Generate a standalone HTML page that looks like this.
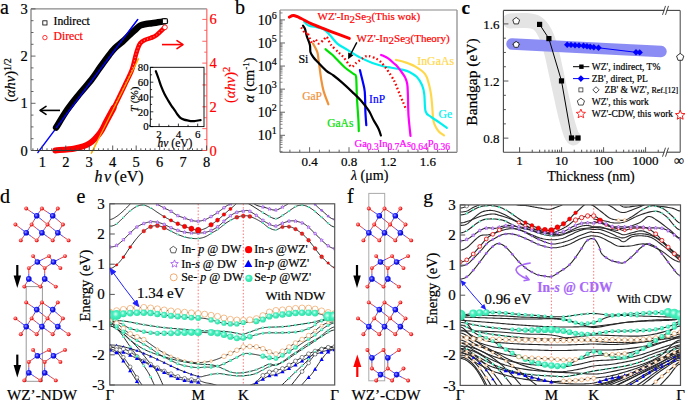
<!DOCTYPE html>
<html><head><meta charset="utf-8"><style>
html,body{margin:0;padding:0;background:#fff;overflow:hidden;}
svg{display:block;}
text{font-family:"Liberation Serif",serif;}
text{stroke-width:0.2px;}
</style></head><body>
<svg width="685" height="402" viewBox="0 0 685 402">
<rect width="685" height="402" fill="#fff"/>
<text x="0" y="14" font-size="20" fill="#000" stroke="#000" text-anchor="start" >a</text>
<line x1="37.5" y1="153" x2="138" y2="19.1" stroke="#0000ff" stroke-width="1.3" />
<line x1="91.2" y1="153.5" x2="138.6" y2="58.5" stroke="#ffb000" stroke-width="1.3" />
<path d="M55.4,150.4 C58.63,150.08 69.08,149.68 74.8,148.5 C80.52,147.32 85.48,145.92 89.7,143.3 C93.92,140.68 97.38,136.35 100.1,132.8 C102.82,129.25 103.75,126.13 106,122 C108.25,117.87 112.33,110.33 113.6,108" stroke="#ff0000" stroke-width="6" fill="none" stroke-linecap="round" stroke-linejoin="round"/>
<path d="M106,122 C107.27,119.67 110.45,114.18 113.6,108 C116.75,101.82 121.85,91.25 124.9,84.9 C127.95,78.55 130.13,74.72 131.9,69.9 C133.67,65.08 134.52,59.57 135.5,56 C136.48,52.43 137,50.62 137.8,48.5 C138.6,46.38 139.13,44.72 140.3,43.3 C141.47,41.88 143.07,40.88 144.8,40 C146.53,39.12 148.72,38.83 150.7,38 C152.68,37.17 154.33,36.78 156.7,35 C159.07,33.22 163.53,28.58 164.9,27.3" stroke="#ff0000" stroke-width="4.6" fill="none" stroke-linecap="round" stroke-linejoin="round"/>
<path d="M113.6,108 C115.48,104.15 121.85,91.25 124.9,84.9 C127.95,78.55 130.13,74.72 131.9,69.9 C133.67,65.08 134.52,59.57 135.5,56 C136.48,52.43 137,50.62 137.8,48.5 C138.6,46.38 139.13,44.72 140.3,43.3 C141.47,41.88 143.07,40.88 144.8,40 C146.53,39.12 148.72,38.83 150.7,38 C152.68,37.17 154.33,36.78 156.7,35 C159.07,33.22 163.53,28.58 164.9,27.3" stroke="#ffc0c0" stroke-width="1.1" fill="none" stroke-dasharray="1.2 2.2" opacity="0.7"/>
<line x1="91.2" y1="153.5" x2="138.6" y2="58.5" stroke="#ffb000" stroke-width="1.2" />
<path d="M56.1,127.6 C57.97,124.62 63.48,115.22 67.3,109.7 C71.12,104.18 74.95,99.53 79,94.5 C83.05,89.47 88.1,84 91.6,79.5 C95.1,75 97.1,71.55 100,67.5 C102.9,63.45 106.5,58.45 109,55.2 C111.5,51.95 112.77,50.23 115,48 C117.23,45.77 120.15,43.8 122.4,41.8 C124.65,39.8 126.52,37.87 128.5,36 C130.48,34.13 132.33,32.35 134.3,30.6 C136.27,28.85 138.35,26.6 140.3,25.5 C142.25,24.4 144.05,24.37 146,24 C147.95,23.63 150,23.58 152,23.3 C154,23.02 155.85,22.65 158,22.3 C160.15,21.95 163.75,21.38 164.9,21.2" stroke="#000" stroke-width="6.5" fill="none" stroke-linecap="round" stroke-linejoin="round"/>
<line x1="56" y1="128.2" x2="138" y2="19.1" stroke="#0000ff" stroke-width="1.3" />
<rect x="162.6" y="18.9" width="4.6" height="4.6" fill="#fff" stroke="#000" stroke-width="0.8" />
<circle cx="164.9" cy="27.3" r="2.4" fill="#fff" stroke="#ff0000" stroke-width="0.8" />
<line x1="31" y1="8.8" x2="206.8" y2="8.8" stroke="#888" stroke-width="1.2" />
<line x1="31" y1="8.8" x2="31" y2="150.5" stroke="#999" stroke-width="1.6" />
<line x1="31" y1="150.5" x2="206.8" y2="150.5" stroke="#333" stroke-width="1.1" />
<line x1="206.8" y1="8.8" x2="206.8" y2="150.5" stroke="#ff7070" stroke-width="1.3" />
<line x1="31" y1="150.5" x2="35.5" y2="150.5" stroke="#555" stroke-width="0.9" />
<line x1="31" y1="138.7" x2="33.5" y2="138.7" stroke="#555" stroke-width="0.9" />
<line x1="31" y1="126.9" x2="33.5" y2="126.9" stroke="#555" stroke-width="0.9" />
<line x1="31" y1="115.1" x2="33.5" y2="115.1" stroke="#555" stroke-width="0.9" />
<line x1="31" y1="103.3" x2="35.5" y2="103.3" stroke="#555" stroke-width="0.9" />
<line x1="31" y1="91.5" x2="33.5" y2="91.5" stroke="#555" stroke-width="0.9" />
<line x1="31" y1="79.7" x2="33.5" y2="79.7" stroke="#555" stroke-width="0.9" />
<line x1="31" y1="67.9" x2="33.5" y2="67.9" stroke="#555" stroke-width="0.9" />
<line x1="31" y1="56.1" x2="35.5" y2="56.1" stroke="#555" stroke-width="0.9" />
<line x1="31" y1="44.3" x2="33.5" y2="44.3" stroke="#555" stroke-width="0.9" />
<line x1="31" y1="32.5" x2="33.5" y2="32.5" stroke="#555" stroke-width="0.9" />
<line x1="31" y1="20.7" x2="33.5" y2="20.7" stroke="#555" stroke-width="0.9" />
<line x1="31" y1="8.9" x2="35.5" y2="8.9" stroke="#555" stroke-width="0.9" />
<text x="27.8" y="155.5" font-size="14.5" fill="#000" stroke="#000" text-anchor="end" >0</text>
<text x="27.8" y="108.3" font-size="14.5" fill="#000" stroke="#000" text-anchor="end" >1</text>
<text x="27.8" y="61.1" font-size="14.5" fill="#000" stroke="#000" text-anchor="end" >2</text>
<text x="27.8" y="13.9" font-size="14.5" fill="#000" stroke="#000" text-anchor="end" >3</text>
<line x1="32.91" y1="150.5" x2="32.91" y2="148.3" stroke="#444" stroke-width="0.9" />
<line x1="37.61" y1="150.5" x2="37.61" y2="148.3" stroke="#444" stroke-width="0.9" />
<line x1="42.3" y1="150.5" x2="42.3" y2="145.5" stroke="#444" stroke-width="0.9" />
<line x1="46.99" y1="150.5" x2="46.99" y2="148.3" stroke="#444" stroke-width="0.9" />
<line x1="51.69" y1="150.5" x2="51.69" y2="148.3" stroke="#444" stroke-width="0.9" />
<line x1="56.38" y1="150.5" x2="56.38" y2="148.3" stroke="#444" stroke-width="0.9" />
<line x1="61.08" y1="150.5" x2="61.08" y2="148.3" stroke="#444" stroke-width="0.9" />
<line x1="65.77" y1="150.5" x2="65.77" y2="145.5" stroke="#444" stroke-width="0.9" />
<line x1="70.46" y1="150.5" x2="70.46" y2="148.3" stroke="#444" stroke-width="0.9" />
<line x1="75.16" y1="150.5" x2="75.16" y2="148.3" stroke="#444" stroke-width="0.9" />
<line x1="79.85" y1="150.5" x2="79.85" y2="148.3" stroke="#444" stroke-width="0.9" />
<line x1="84.55" y1="150.5" x2="84.55" y2="148.3" stroke="#444" stroke-width="0.9" />
<line x1="89.24" y1="150.5" x2="89.24" y2="145.5" stroke="#444" stroke-width="0.9" />
<line x1="93.93" y1="150.5" x2="93.93" y2="148.3" stroke="#444" stroke-width="0.9" />
<line x1="98.63" y1="150.5" x2="98.63" y2="148.3" stroke="#444" stroke-width="0.9" />
<line x1="103.32" y1="150.5" x2="103.32" y2="148.3" stroke="#444" stroke-width="0.9" />
<line x1="108.02" y1="150.5" x2="108.02" y2="148.3" stroke="#444" stroke-width="0.9" />
<line x1="112.71" y1="150.5" x2="112.71" y2="145.5" stroke="#444" stroke-width="0.9" />
<line x1="117.4" y1="150.5" x2="117.4" y2="148.3" stroke="#444" stroke-width="0.9" />
<line x1="122.1" y1="150.5" x2="122.1" y2="148.3" stroke="#444" stroke-width="0.9" />
<line x1="126.79" y1="150.5" x2="126.79" y2="148.3" stroke="#444" stroke-width="0.9" />
<line x1="131.49" y1="150.5" x2="131.49" y2="148.3" stroke="#444" stroke-width="0.9" />
<line x1="136.18" y1="150.5" x2="136.18" y2="145.5" stroke="#444" stroke-width="0.9" />
<line x1="140.87" y1="150.5" x2="140.87" y2="148.3" stroke="#444" stroke-width="0.9" />
<line x1="145.57" y1="150.5" x2="145.57" y2="148.3" stroke="#444" stroke-width="0.9" />
<line x1="150.26" y1="150.5" x2="150.26" y2="148.3" stroke="#444" stroke-width="0.9" />
<line x1="154.96" y1="150.5" x2="154.96" y2="148.3" stroke="#444" stroke-width="0.9" />
<line x1="159.65" y1="150.5" x2="159.65" y2="145.5" stroke="#444" stroke-width="0.9" />
<line x1="164.34" y1="150.5" x2="164.34" y2="148.3" stroke="#444" stroke-width="0.9" />
<line x1="169.04" y1="150.5" x2="169.04" y2="148.3" stroke="#444" stroke-width="0.9" />
<line x1="173.73" y1="150.5" x2="173.73" y2="148.3" stroke="#444" stroke-width="0.9" />
<line x1="178.43" y1="150.5" x2="178.43" y2="148.3" stroke="#444" stroke-width="0.9" />
<line x1="183.12" y1="150.5" x2="183.12" y2="145.5" stroke="#444" stroke-width="0.9" />
<line x1="187.81" y1="150.5" x2="187.81" y2="148.3" stroke="#444" stroke-width="0.9" />
<line x1="192.51" y1="150.5" x2="192.51" y2="148.3" stroke="#444" stroke-width="0.9" />
<line x1="197.2" y1="150.5" x2="197.2" y2="148.3" stroke="#444" stroke-width="0.9" />
<line x1="201.9" y1="150.5" x2="201.9" y2="148.3" stroke="#444" stroke-width="0.9" />
<line x1="206.59" y1="150.5" x2="206.59" y2="145.5" stroke="#444" stroke-width="0.9" />
<text x="42.3" y="166.5" font-size="14.5" fill="#000" stroke="#000" text-anchor="middle" >1</text>
<text x="65.77" y="166.5" font-size="14.5" fill="#000" stroke="#000" text-anchor="middle" >2</text>
<text x="89.24" y="166.5" font-size="14.5" fill="#000" stroke="#000" text-anchor="middle" >3</text>
<text x="112.71" y="166.5" font-size="14.5" fill="#000" stroke="#000" text-anchor="middle" >4</text>
<text x="136.18" y="166.5" font-size="14.5" fill="#000" stroke="#000" text-anchor="middle" >5</text>
<text x="159.65" y="166.5" font-size="14.5" fill="#000" stroke="#000" text-anchor="middle" >6</text>
<text x="183.12" y="166.5" font-size="14.5" fill="#000" stroke="#000" text-anchor="middle" >7</text>
<text x="206.59" y="166.5" font-size="14.5" fill="#000" stroke="#000" text-anchor="middle" >8</text>
<line x1="206.8" y1="150.5" x2="202.3" y2="150.5" stroke="#ff5050" stroke-width="0.9" />
<line x1="206.8" y1="139.57" x2="204.3" y2="139.57" stroke="#ff5050" stroke-width="0.9" />
<line x1="206.8" y1="128.65" x2="202.3" y2="128.65" stroke="#ff5050" stroke-width="0.9" />
<line x1="206.8" y1="117.72" x2="204.3" y2="117.72" stroke="#ff5050" stroke-width="0.9" />
<line x1="206.8" y1="106.8" x2="202.3" y2="106.8" stroke="#ff5050" stroke-width="0.9" />
<line x1="206.8" y1="95.88" x2="204.3" y2="95.88" stroke="#ff5050" stroke-width="0.9" />
<line x1="206.8" y1="84.95" x2="202.3" y2="84.95" stroke="#ff5050" stroke-width="0.9" />
<line x1="206.8" y1="74.02" x2="204.3" y2="74.02" stroke="#ff5050" stroke-width="0.9" />
<line x1="206.8" y1="63.1" x2="202.3" y2="63.1" stroke="#ff5050" stroke-width="0.9" />
<line x1="206.8" y1="52.17" x2="204.3" y2="52.17" stroke="#ff5050" stroke-width="0.9" />
<line x1="206.8" y1="41.25" x2="202.3" y2="41.25" stroke="#ff5050" stroke-width="0.9" />
<line x1="206.8" y1="30.32" x2="204.3" y2="30.32" stroke="#ff5050" stroke-width="0.9" />
<line x1="206.8" y1="19.4" x2="202.3" y2="19.4" stroke="#ff5050" stroke-width="0.9" />
<text x="209.5" y="155.5" font-size="14.5" fill="#ff0000" stroke="#ff0000" text-anchor="start" >0</text>
<text x="209.5" y="111.8" font-size="14.5" fill="#ff0000" stroke="#ff0000" text-anchor="start" >2</text>
<text x="209.5" y="68.1" font-size="14.5" fill="#ff0000" stroke="#ff0000" text-anchor="start" >4</text>
<text x="209.5" y="24.4" font-size="14.5" fill="#ff0000" stroke="#ff0000" text-anchor="start" >6</text>
<rect x="42.8" y="20.8" width="4.2" height="4.2" fill="#fff" stroke="#000" stroke-width="0.8" />
<text x="53.5" y="25" font-size="11.7" fill="#000" stroke="#000" text-anchor="start" >Indirect</text>
<circle cx="44.9" cy="37.6" r="2.2" fill="#fff" stroke="#ff0000" stroke-width="0.8" />
<text x="53.5" y="40" font-size="11.7" fill="#ff0000" stroke="#ff0000" text-anchor="start" >Direct</text>
<line x1="60" y1="110.4" x2="40" y2="110.4" stroke="#000" stroke-width="1.6" />
<path d="M46,106.4 L40,110.4 L46,114.4" stroke="#000" stroke-width="1.6" fill="none" stroke-linecap="round" stroke-linejoin="round"/>
<line x1="162" y1="44.6" x2="183" y2="44.6" stroke="#ff0000" stroke-width="1.6" />
<path d="M177,48.6 L183,44.6 L177,40.6" stroke="#ff0000" stroke-width="1.6" fill="none" stroke-linecap="round" stroke-linejoin="round"/>
<text x="94.5" y="181.7" font-size="16" fill="#000" stroke="#000" text-anchor="start" ><tspan font-style="italic">h</tspan><tspan x="104" font-style="italic">ν</tspan><tspan x="114.3">(eV)</tspan></text>
<text transform="translate(14.8,102) rotate(-90)" font-size="14.5" stroke="#000">(<tspan font-style="italic">αhν</tspan>)<tspan font-size="10" dy="-3.5">1/2</tspan></text>
<text transform="translate(234.5,103) rotate(-90)" font-size="14.5" fill="#ff0000" stroke="#ff0000">(<tspan font-style="italic">αhν</tspan>)<tspan font-size="10.5" dy="-4.5">2</tspan></text>
<path d="M155.8,71.2 C156.25,72.42 157.57,75.88 158.5,78.5 C159.43,81.12 160.4,84.32 161.4,86.9 C162.4,89.48 163.38,91.75 164.5,94 C165.62,96.25 166.93,98.43 168.1,100.4 C169.27,102.37 170.38,104.13 171.5,105.8 C172.62,107.47 173.8,108.95 174.8,110.4 C175.8,111.85 176.57,113.27 177.5,114.5 C178.43,115.73 179.32,116.95 180.4,117.8 C181.48,118.65 182.68,119.13 184,119.6 C185.32,120.07 186.97,120.33 188.3,120.6 C189.63,120.87 190.88,121.13 192,121.2 C193.12,121.27 193.57,121.18 195,121 C196.43,120.82 199.67,120.25 200.6,120.1" stroke="#000" stroke-width="2.2" fill="none" stroke-linecap="round"/>
<rect x="150.3" y="67.3" width="53.7" height="59.3" fill="none" stroke="#000" stroke-width="0.9" />
<line x1="150.3" y1="126.6" x2="153.3" y2="126.6" stroke="#000" stroke-width="0.8" />
<line x1="150.3" y1="119.2" x2="152.1" y2="119.2" stroke="#000" stroke-width="0.8" />
<line x1="150.3" y1="111.8" x2="153.3" y2="111.8" stroke="#000" stroke-width="0.8" />
<line x1="150.3" y1="104.4" x2="152.1" y2="104.4" stroke="#000" stroke-width="0.8" />
<line x1="150.3" y1="97" x2="153.3" y2="97" stroke="#000" stroke-width="0.8" />
<line x1="150.3" y1="89.6" x2="152.1" y2="89.6" stroke="#000" stroke-width="0.8" />
<line x1="150.3" y1="82.2" x2="153.3" y2="82.2" stroke="#000" stroke-width="0.8" />
<line x1="150.3" y1="74.8" x2="152.1" y2="74.8" stroke="#000" stroke-width="0.8" />
<line x1="150.3" y1="67.4" x2="153.3" y2="67.4" stroke="#000" stroke-width="0.8" />
<text x="148.6" y="130.4" font-size="10.8" fill="#000" stroke="#000" text-anchor="end" >0</text>
<text x="148.6" y="115.6" font-size="10.8" fill="#000" stroke="#000" text-anchor="end" >20</text>
<text x="148.6" y="100.8" font-size="10.8" fill="#000" stroke="#000" text-anchor="end" >40</text>
<text x="148.6" y="86" font-size="10.8" fill="#000" stroke="#000" text-anchor="end" >60</text>
<text x="148.6" y="71.2" font-size="10.8" fill="#000" stroke="#000" text-anchor="end" >80</text>
<line x1="149.45" y1="126.6" x2="149.45" y2="124.8" stroke="#000" stroke-width="0.8" />
<line x1="159.1" y1="126.6" x2="159.1" y2="123.6" stroke="#000" stroke-width="0.8" />
<line x1="168.75" y1="126.6" x2="168.75" y2="124.8" stroke="#000" stroke-width="0.8" />
<line x1="178.4" y1="126.6" x2="178.4" y2="123.6" stroke="#000" stroke-width="0.8" />
<line x1="188.05" y1="126.6" x2="188.05" y2="124.8" stroke="#000" stroke-width="0.8" />
<line x1="197.7" y1="126.6" x2="197.7" y2="123.6" stroke="#000" stroke-width="0.8" />
<text x="159.1" y="137.5" font-size="11" fill="#000" stroke="#000" text-anchor="middle" >2</text>
<text x="178.4" y="137.5" font-size="11" fill="#000" stroke="#000" text-anchor="middle" >4</text>
<text x="197.7" y="137.5" font-size="11" fill="#000" stroke="#000" text-anchor="middle" >6</text>
<text x="175" y="146.5" font-size="11.5" fill="#000" stroke="#000" text-anchor="middle" ><tspan font-style="italic">hν</tspan> (eV)</text>
<text transform="translate(137.6,112) rotate(-90)" font-size="11" stroke="#000"><tspan font-style="italic">T</tspan> (%)</text>
<text x="235" y="14" font-size="20" fill="#000" stroke="#000" text-anchor="start" >b</text>
<path d="M396,59.9 C397.48,60.28 401.67,61.08 404.9,62.2 C408.13,63.32 412.03,64.62 415.4,66.6 C418.77,68.58 422.87,71.23 425.1,74.1 C427.33,76.97 427.82,80.43 428.8,83.8 C429.78,87.17 430.45,90.77 431,94.3 C431.55,97.83 431.75,101 432.1,105 C432.45,109 432.7,115.07 433.1,118.3 C433.5,121.53 433.58,122.23 434.5,124.4 C435.42,126.57 437.02,129.47 438.6,131.3 C440.18,133.13 443.1,134.72 444,135.4" stroke="#ffd84a" stroke-width="2.2" fill="none" stroke-linecap="round" stroke-linejoin="round"/>
<path d="M304.3,21.8 C305.02,22.43 306.42,24.67 308.6,25.6 C310.78,26.53 314.9,26.78 317.4,27.4 C319.9,28.02 321.53,28.05 323.6,29.3 C325.67,30.55 327.52,32.52 329.8,34.9 C332.08,37.28 334.35,41.1 337.3,43.6 C340.25,46.1 343.73,47.6 347.5,49.9 C351.27,52.2 355.75,55.22 359.9,57.4 C364.05,59.58 368.25,61.45 372.4,63 C376.55,64.55 381.87,65.97 384.8,66.7 C387.73,67.43 387.15,66.92 390,67.4 C392.85,67.88 398.67,68.85 401.9,69.6 C405.13,70.35 406.9,70.65 409.4,71.9 C411.9,73.15 414.78,74.87 416.9,77.1 C419.02,79.33 420.87,82.43 422.1,85.3 C423.33,88.17 423.72,89.95 424.3,94.3 C424.88,98.65 424.48,107.63 425.6,111.4 C426.72,115.17 428.73,115.07 431,116.9 C433.27,118.73 436.57,120.58 439.2,122.4 C441.83,124.22 445.53,126.9 446.8,127.8" stroke="#00f0f0" stroke-width="2.2" fill="none" stroke-linecap="round" stroke-linejoin="round"/>
<path d="M381.1,54.9 C382.33,55.52 386.43,57.25 388.5,58.6 C390.57,59.95 392.25,61.92 393.5,63 C394.75,64.08 394.85,63.87 396,65.1 C397.15,66.33 398.92,68.4 400.4,70.4 C401.88,72.4 403.77,74.87 404.9,77.1 C406.03,79.33 406.7,80.82 407.2,83.8 C407.7,86.78 407.68,89.72 407.9,95 C408.12,100.28 408.07,108.67 408.5,115.5 C408.93,122.33 410.17,132.58 410.5,136" stroke="#ff00ff" stroke-width="2.2" fill="none" stroke-linecap="round" stroke-linejoin="round"/>
<path d="M325.5,49.2 C326.63,50.13 330.3,53 332.3,54.8 C334.3,56.6 335.4,57.88 337.5,60 C339.6,62.12 342.17,65.13 344.9,67.5 C347.63,69.87 352.03,72.62 353.9,74.2 C355.77,75.78 355.6,73.15 356.1,77 C356.6,80.85 356.52,90.13 356.9,97.3 C357.28,104.47 358.08,114.37 358.4,120 C358.72,125.63 358.73,129.25 358.8,131.1" stroke="#00e000" stroke-width="2.2" fill="none" stroke-linecap="round" stroke-linejoin="round"/>
<path d="M359.9,70.1 C360.63,73.15 363.43,83.62 364.3,88.4 C365.17,93.18 364.92,94.87 365.1,98.8 C365.28,102.73 365.2,107.6 365.4,112 C365.6,116.4 366.15,123 366.3,125.2" stroke="#0000ff" stroke-width="2.2" fill="none" stroke-linecap="round" stroke-linejoin="round"/>
<path d="M313,43.6 C313.73,45.05 316.48,49.6 317.4,52.3 C318.32,55 318.13,57.27 318.5,59.8 C318.87,62.33 319.17,64.35 319.6,67.5 C320.03,70.65 320.43,74.77 321.1,78.7 C321.77,82.63 322.38,86.83 323.6,91.1 C324.82,95.37 327.6,102.1 328.4,104.3" stroke="#f0923a" stroke-width="2.2" fill="none" stroke-linecap="round" stroke-linejoin="round"/>
<path d="M303,25.6 C303.32,26.12 304.27,26.93 304.9,28.7 C305.53,30.47 305.97,33.5 306.8,36.2 C307.63,38.9 309.28,42.22 309.9,44.9 C310.52,47.58 309.88,50.2 310.5,52.3 C311.12,54.4 312.45,55.92 313.6,57.5 C314.75,59.08 315.32,59.62 317.4,61.8 C319.48,63.98 323.42,68.32 326.1,70.6 C328.78,72.88 330.87,73.53 333.5,75.5 C336.13,77.47 338.75,79.63 341.9,82.4 C345.05,85.17 349.17,89 352.4,92.1 C355.63,95.2 358.57,97.9 361.3,101 C364.03,104.1 366.77,107.53 368.8,110.7 C370.83,113.87 371.88,117 373.5,120 C375.12,123 377.27,126.12 378.5,128.7 C379.73,131.28 380.5,134.37 380.9,135.5" stroke="#000" stroke-width="2.2" fill="none" stroke-linecap="round" stroke-linejoin="round"/>
<path d="M301.2,27.4 C301.77,28.24 304.67,33.03 305.5,33.7 C306.33,34.37 306.56,31.16 307.4,32.4 C308.24,33.64 310.72,42.08 311.8,43 C312.88,43.92 314.59,39.22 315.5,39.3 C316.41,39.38 317.52,43.52 318.6,43.6 C319.68,43.68 322.52,40.81 323.6,39.9 C324.68,38.99 325.71,36.13 326.7,36.8 C327.69,37.47 329.43,42.83 331,44.9 C332.57,46.97 336.81,50.63 338.5,52.3 C340.19,53.97 342.01,55.48 343.7,57.4 C345.39,59.32 349.53,65.95 351.2,66.7 C352.87,67.45 354.37,64.33 356.2,63 C358.03,61.67 363.17,57.62 364.9,56.7 C366.63,55.78 367.71,55.85 369.2,56.1 C370.69,56.35 374.51,57.77 376.1,58.6 C377.69,59.43 379.69,60.91 381.1,62.3 C382.51,63.69 384.95,66.52 386.7,69 C388.45,71.48 392.51,77.62 394.2,80.9 C395.89,84.18 398.23,90.79 399.4,93.6 C400.57,96.41 402.07,99.81 403,102 C403.93,104.19 405.95,108.93 406.4,110" stroke="#ff0000" stroke-width="2.3" fill="none" stroke-dasharray="1.6 2.4"/>
<path d="M289.3,17.1 C290.03,16.85 291.72,15.37 293.7,15.6 C295.68,15.83 298.3,17.15 301.2,18.5 C304.1,19.85 307.37,22 311.1,23.7 C314.83,25.4 318.78,26.83 323.6,28.7 C328.42,30.57 335.72,33.28 340,34.9 C344.28,36.52 347.75,37.82 349.3,38.4" stroke="#ff0000" stroke-width="3" fill="none" stroke-linecap="round" stroke-linejoin="round"/>
<line x1="356.8" y1="42.4" x2="350.4" y2="54.76" stroke="#000" stroke-width="1.4" />
<polygon points="348.1,59.2 348.2,52.49 353.52,55.25" fill="#000"/>
<line x1="280" y1="10" x2="457" y2="10" stroke="#888" stroke-width="1.2" />
<line x1="280" y1="10" x2="280" y2="152.2" stroke="#999" stroke-width="1.6" />
<line x1="280" y1="152.2" x2="457" y2="152.2" stroke="#555" stroke-width="1.1" />
<line x1="457" y1="10" x2="457" y2="152.2" stroke="#999" stroke-width="1.4" />
<line x1="280" y1="151.43" x2="282.5" y2="151.43" stroke="#666" stroke-width="0.8" />
<line x1="280" y1="147.37" x2="282.5" y2="147.37" stroke="#666" stroke-width="0.8" />
<line x1="280" y1="144.48" x2="282.5" y2="144.48" stroke="#666" stroke-width="0.8" />
<line x1="280" y1="142.25" x2="282.5" y2="142.25" stroke="#666" stroke-width="0.8" />
<line x1="280" y1="140.42" x2="282.5" y2="140.42" stroke="#666" stroke-width="0.8" />
<line x1="280" y1="138.88" x2="282.5" y2="138.88" stroke="#666" stroke-width="0.8" />
<line x1="280" y1="137.54" x2="282.5" y2="137.54" stroke="#666" stroke-width="0.8" />
<line x1="280" y1="136.36" x2="282.5" y2="136.36" stroke="#666" stroke-width="0.8" />
<line x1="280" y1="135.3" x2="285" y2="135.3" stroke="#555" stroke-width="0.9" />
<line x1="280" y1="128.35" x2="282.5" y2="128.35" stroke="#666" stroke-width="0.8" />
<line x1="280" y1="124.29" x2="282.5" y2="124.29" stroke="#666" stroke-width="0.8" />
<line x1="280" y1="121.4" x2="282.5" y2="121.4" stroke="#666" stroke-width="0.8" />
<line x1="280" y1="119.17" x2="282.5" y2="119.17" stroke="#666" stroke-width="0.8" />
<line x1="280" y1="117.34" x2="282.5" y2="117.34" stroke="#666" stroke-width="0.8" />
<line x1="280" y1="115.8" x2="282.5" y2="115.8" stroke="#666" stroke-width="0.8" />
<line x1="280" y1="114.46" x2="282.5" y2="114.46" stroke="#666" stroke-width="0.8" />
<line x1="280" y1="113.28" x2="282.5" y2="113.28" stroke="#666" stroke-width="0.8" />
<line x1="280" y1="112.22" x2="285" y2="112.22" stroke="#555" stroke-width="0.9" />
<line x1="280" y1="105.27" x2="282.5" y2="105.27" stroke="#666" stroke-width="0.8" />
<line x1="280" y1="101.21" x2="282.5" y2="101.21" stroke="#666" stroke-width="0.8" />
<line x1="280" y1="98.32" x2="282.5" y2="98.32" stroke="#666" stroke-width="0.8" />
<line x1="280" y1="96.09" x2="282.5" y2="96.09" stroke="#666" stroke-width="0.8" />
<line x1="280" y1="94.26" x2="282.5" y2="94.26" stroke="#666" stroke-width="0.8" />
<line x1="280" y1="92.72" x2="282.5" y2="92.72" stroke="#666" stroke-width="0.8" />
<line x1="280" y1="91.38" x2="282.5" y2="91.38" stroke="#666" stroke-width="0.8" />
<line x1="280" y1="90.2" x2="282.5" y2="90.2" stroke="#666" stroke-width="0.8" />
<line x1="280" y1="89.14" x2="285" y2="89.14" stroke="#555" stroke-width="0.9" />
<line x1="280" y1="82.19" x2="282.5" y2="82.19" stroke="#666" stroke-width="0.8" />
<line x1="280" y1="78.13" x2="282.5" y2="78.13" stroke="#666" stroke-width="0.8" />
<line x1="280" y1="75.24" x2="282.5" y2="75.24" stroke="#666" stroke-width="0.8" />
<line x1="280" y1="73.01" x2="282.5" y2="73.01" stroke="#666" stroke-width="0.8" />
<line x1="280" y1="71.18" x2="282.5" y2="71.18" stroke="#666" stroke-width="0.8" />
<line x1="280" y1="69.64" x2="282.5" y2="69.64" stroke="#666" stroke-width="0.8" />
<line x1="280" y1="68.3" x2="282.5" y2="68.3" stroke="#666" stroke-width="0.8" />
<line x1="280" y1="67.12" x2="282.5" y2="67.12" stroke="#666" stroke-width="0.8" />
<line x1="280" y1="66.06" x2="285" y2="66.06" stroke="#555" stroke-width="0.9" />
<line x1="280" y1="59.11" x2="282.5" y2="59.11" stroke="#666" stroke-width="0.8" />
<line x1="280" y1="55.05" x2="282.5" y2="55.05" stroke="#666" stroke-width="0.8" />
<line x1="280" y1="52.16" x2="282.5" y2="52.16" stroke="#666" stroke-width="0.8" />
<line x1="280" y1="49.93" x2="282.5" y2="49.93" stroke="#666" stroke-width="0.8" />
<line x1="280" y1="48.1" x2="282.5" y2="48.1" stroke="#666" stroke-width="0.8" />
<line x1="280" y1="46.56" x2="282.5" y2="46.56" stroke="#666" stroke-width="0.8" />
<line x1="280" y1="45.22" x2="282.5" y2="45.22" stroke="#666" stroke-width="0.8" />
<line x1="280" y1="44.04" x2="282.5" y2="44.04" stroke="#666" stroke-width="0.8" />
<line x1="280" y1="42.98" x2="285" y2="42.98" stroke="#555" stroke-width="0.9" />
<line x1="280" y1="36.03" x2="282.5" y2="36.03" stroke="#666" stroke-width="0.8" />
<line x1="280" y1="31.97" x2="282.5" y2="31.97" stroke="#666" stroke-width="0.8" />
<line x1="280" y1="29.08" x2="282.5" y2="29.08" stroke="#666" stroke-width="0.8" />
<line x1="280" y1="26.85" x2="282.5" y2="26.85" stroke="#666" stroke-width="0.8" />
<line x1="280" y1="25.02" x2="282.5" y2="25.02" stroke="#666" stroke-width="0.8" />
<line x1="280" y1="23.48" x2="282.5" y2="23.48" stroke="#666" stroke-width="0.8" />
<line x1="280" y1="22.14" x2="282.5" y2="22.14" stroke="#666" stroke-width="0.8" />
<line x1="280" y1="20.96" x2="282.5" y2="20.96" stroke="#666" stroke-width="0.8" />
<line x1="280" y1="19.9" x2="285" y2="19.9" stroke="#555" stroke-width="0.9" />
<line x1="280" y1="12.95" x2="282.5" y2="12.95" stroke="#666" stroke-width="0.8" />
<text x="257.8" y="140.3" font-size="14" stroke="#000">10<tspan font-size="10" dy="-6">1</tspan></text>
<text x="257.8" y="117.22" font-size="14" stroke="#000">10<tspan font-size="10" dy="-6">2</tspan></text>
<text x="257.8" y="94.14" font-size="14" stroke="#000">10<tspan font-size="10" dy="-6">3</tspan></text>
<text x="257.8" y="71.06" font-size="14" stroke="#000">10<tspan font-size="10" dy="-6">4</tspan></text>
<text x="257.8" y="47.98" font-size="14" stroke="#000">10<tspan font-size="10" dy="-6">5</tspan></text>
<text x="257.8" y="24.9" font-size="14" stroke="#000">10<tspan font-size="10" dy="-6">6</tspan></text>
<line x1="289.9" y1="152.2" x2="289.9" y2="149.7" stroke="#555" stroke-width="0.9" />
<line x1="299.75" y1="152.2" x2="299.75" y2="149.7" stroke="#555" stroke-width="0.9" />
<line x1="309.6" y1="152.2" x2="309.6" y2="147.2" stroke="#555" stroke-width="0.9" />
<line x1="319.45" y1="152.2" x2="319.45" y2="149.7" stroke="#555" stroke-width="0.9" />
<line x1="329.3" y1="152.2" x2="329.3" y2="149.7" stroke="#555" stroke-width="0.9" />
<line x1="339.15" y1="152.2" x2="339.15" y2="149.7" stroke="#555" stroke-width="0.9" />
<line x1="349" y1="152.2" x2="349" y2="147.2" stroke="#555" stroke-width="0.9" />
<line x1="358.85" y1="152.2" x2="358.85" y2="149.7" stroke="#555" stroke-width="0.9" />
<line x1="368.7" y1="152.2" x2="368.7" y2="149.7" stroke="#555" stroke-width="0.9" />
<line x1="378.55" y1="152.2" x2="378.55" y2="149.7" stroke="#555" stroke-width="0.9" />
<line x1="388.4" y1="152.2" x2="388.4" y2="147.2" stroke="#555" stroke-width="0.9" />
<line x1="398.25" y1="152.2" x2="398.25" y2="149.7" stroke="#555" stroke-width="0.9" />
<line x1="408.1" y1="152.2" x2="408.1" y2="149.7" stroke="#555" stroke-width="0.9" />
<line x1="417.95" y1="152.2" x2="417.95" y2="149.7" stroke="#555" stroke-width="0.9" />
<line x1="427.8" y1="152.2" x2="427.8" y2="147.2" stroke="#555" stroke-width="0.9" />
<line x1="437.65" y1="152.2" x2="437.65" y2="149.7" stroke="#555" stroke-width="0.9" />
<line x1="447.5" y1="152.2" x2="447.5" y2="149.7" stroke="#555" stroke-width="0.9" />
<text x="309.6" y="166.3" font-size="13" fill="#000" stroke="#000" text-anchor="middle" >0.4</text>
<text x="349" y="166.3" font-size="13" fill="#000" stroke="#000" text-anchor="middle" >0.8</text>
<text x="388.4" y="166.3" font-size="13" fill="#000" stroke="#000" text-anchor="middle" >1.2</text>
<text x="427.8" y="166.3" font-size="13" fill="#000" stroke="#000" text-anchor="middle" >1.6</text>
<text x="317.6" y="20.3" font-size="11" fill="#ff0000" stroke="#ff0000" text-anchor="start" >WZ'-In<tspan dy="2.5">2</tspan><tspan dy="-2.5">Se</tspan><tspan dy="2.5">3</tspan><tspan dy="-2.5">(This wok)</tspan></text>
<text x="356.6" y="41.8" font-size="11" fill="#ff0000" stroke="#ff0000" text-anchor="start" >WZ'-In<tspan dy="2.5">2</tspan><tspan dy="-2.5">Se</tspan><tspan dy="2.5">3</tspan><tspan dy="-2.5">(Theory)</tspan></text>
<text x="298.4" y="63" font-size="12" fill="#000" stroke="#000" text-anchor="start" >Si</text>
<text x="302.2" y="99.6" font-size="11.5" fill="#f0923a" stroke="#f0923a" text-anchor="start" >GaP</text>
<text x="327.2" y="127.4" font-size="11.5" fill="#00e000" stroke="#00e000" text-anchor="start" >GaAs</text>
<text x="369.1" y="102.5" font-size="11.5" fill="#0000ff" stroke="#0000ff" text-anchor="start" >InP</text>
<text x="417.3" y="65.1" font-size="11.8" fill="#ffd84a" stroke="#ffd84a" text-anchor="start" >InGaAs</text>
<text x="438.6" y="117.6" font-size="11.8" fill="#00f0f0" stroke="#00f0f0" text-anchor="start" >Ge</text>
<text x="354.6" y="146.7" font-size="10.5" fill="#ff00ff" stroke="#ff00ff" text-anchor="start" >Ga<tspan font-size="9.5" dy="3.5">0.3</tspan><tspan dy="-3.5">In</tspan><tspan font-size="9.5" dy="3.5">0.7</tspan><tspan dy="-3.5">As</tspan><tspan font-size="9.5" dy="3.5">0.64</tspan><tspan dy="-3.5">P</tspan><tspan font-size="9.5" dy="3.5">0.36</tspan></text>
<text x="351" y="180" font-size="14" fill="#000" stroke="#000" text-anchor="start" ><tspan font-style="italic">λ</tspan> (μm)</text>
<text transform="translate(253.5,80) rotate(-90)" font-size="14" text-anchor="middle" stroke="#000"><tspan font-style="italic">α</tspan> (cm<tspan font-size="9" dy="-5">-1</tspan><tspan dy="5">)</tspan></text>
<text x="461.5" y="14.2" font-size="19" fill="#000" stroke="#000" text-anchor="start" font-weight="bold" >c</text>
<path d="M510,21 C512.5,20.92 520.5,20.17 525,20.5 C529.5,20.83 533.67,20.92 537,23 C540.33,25.08 542.67,28.5 545,33 C547.33,37.5 549.17,43.5 551,50 C552.83,56.5 554.33,64.5 556,72 C557.67,79.5 559.33,87.5 561,95 C562.67,102.5 564.33,110.5 566,117 C567.67,123.5 569.75,130.5 571,134 C572.25,137.5 573.08,137.33 573.5,138" stroke="#e4e4e4" stroke-width="15" fill="none" stroke-linecap="round" stroke-linejoin="round"/>
<line x1="512" y1="44" x2="661" y2="51.5" stroke="#8c8cf5" stroke-width="11.5" stroke-linecap="round"/>
<path d="M539.6,24.4 L548.9,38.6 L561.5,80.9 L571.5,138 L578,138" stroke="#000" stroke-width="1" fill="none" />
<rect x="537" y="21.8" width="5.2" height="5.2" fill="#000" stroke="none" stroke-width="1" />
<rect x="546.3" y="36" width="5.2" height="5.2" fill="#000" stroke="none" stroke-width="1" />
<rect x="558.9" y="78.3" width="5.2" height="5.2" fill="#000" stroke="none" stroke-width="1" />
<rect x="568.9" y="135.4" width="5.2" height="5.2" fill="#000" stroke="none" stroke-width="1" />
<rect x="575.4" y="135.4" width="5.2" height="5.2" fill="#000" stroke="none" stroke-width="1" />
<path d="M567.2,44.8 L571,44.9 L575,45.2 L579,45.4 L583.5,45.8 L587,46.3 L590.2,46.8 L593.8,47.3 L598.5,47.8 L636,52.3 L639.7,52.4" stroke="#0000ff" stroke-width="1" fill="none" />
<polygon points="567.2,41.6 570.4,44.8 567.2,48 564,44.8" fill="#0000ff" stroke="none" stroke-width="1"/>
<polygon points="571,41.7 574.2,44.9 571,48.1 567.8,44.9" fill="#0000ff" stroke="none" stroke-width="1"/>
<polygon points="575,42 578.2,45.2 575,48.4 571.8,45.2" fill="#0000ff" stroke="none" stroke-width="1"/>
<polygon points="579,42.2 582.2,45.4 579,48.6 575.8,45.4" fill="#0000ff" stroke="none" stroke-width="1"/>
<polygon points="583.5,42.6 586.7,45.8 583.5,49 580.3,45.8" fill="#0000ff" stroke="none" stroke-width="1"/>
<polygon points="587,43.1 590.2,46.3 587,49.5 583.8,46.3" fill="#0000ff" stroke="none" stroke-width="1"/>
<polygon points="590.2,43.6 593.4,46.8 590.2,50 587,46.8" fill="#0000ff" stroke="none" stroke-width="1"/>
<polygon points="593.8,44.1 597,47.3 593.8,50.5 590.6,47.3" fill="#0000ff" stroke="none" stroke-width="1"/>
<polygon points="598.5,44.6 601.7,47.8 598.5,51 595.3,47.8" fill="#0000ff" stroke="none" stroke-width="1"/>
<polygon points="636,49.1 639.2,52.3 636,55.5 632.8,52.3" fill="#0000ff" stroke="none" stroke-width="1"/>
<polygon points="639.7,49.2 642.9,52.4 639.7,55.6 636.5,52.4" fill="#0000ff" stroke="none" stroke-width="1"/>
<polygon points="516.2,17.4 519.62,19.89 518.32,23.91 514.08,23.91 512.78,19.89" fill="#fff" stroke="#222" stroke-width="0.9"/>
<rect x="514.2" y="42.5" width="4" height="4" fill="#fff" stroke="#222" stroke-width="0.8" />
<polygon points="516.2,41.1 519.6,44.5 516.2,47.9 512.8,44.5" fill="none" stroke="#222" stroke-width="0.8"/>
<polygon points="516.2,41.5 519.24,43.71 518.08,47.29 514.32,47.29 513.16,43.71" fill="#fff" stroke="#222" stroke-width="0.8"/>
<line x1="503.4" y1="10.4" x2="664.5" y2="10.4" stroke="#444" stroke-width="1.1" />
<line x1="666.5" y1="10.4" x2="680.2" y2="10.4" stroke="#444" stroke-width="1.1" />
<line x1="503.4" y1="10.4" x2="503.4" y2="152.2" stroke="#444" stroke-width="1.1" />
<line x1="503.4" y1="152.2" x2="664.5" y2="152.2" stroke="#444" stroke-width="1.1" />
<line x1="666.5" y1="152.2" x2="680.2" y2="152.2" stroke="#444" stroke-width="1.1" />
<line x1="680.2" y1="10.4" x2="680.2" y2="152.2" stroke="#555" stroke-width="1.1" />
<line x1="662.5" y1="14.9" x2="665.5" y2="5.9" stroke="#333" stroke-width="0.9" />
<line x1="665.5" y1="14.9" x2="668.5" y2="5.9" stroke="#333" stroke-width="0.9" />
<line x1="662.5" y1="156.7" x2="665.5" y2="147.7" stroke="#333" stroke-width="0.9" />
<line x1="665.5" y1="156.7" x2="668.5" y2="147.7" stroke="#333" stroke-width="0.9" />
<line x1="503.4" y1="138.14" x2="508.4" y2="138.14" stroke="#444" stroke-width="0.9" />
<line x1="503.4" y1="123.86" x2="505.9" y2="123.86" stroke="#444" stroke-width="0.9" />
<line x1="503.4" y1="109.58" x2="505.9" y2="109.58" stroke="#444" stroke-width="0.9" />
<line x1="503.4" y1="95.3" x2="505.9" y2="95.3" stroke="#444" stroke-width="0.9" />
<line x1="503.4" y1="81.02" x2="508.4" y2="81.02" stroke="#444" stroke-width="0.9" />
<line x1="503.4" y1="66.74" x2="505.9" y2="66.74" stroke="#444" stroke-width="0.9" />
<line x1="503.4" y1="52.46" x2="505.9" y2="52.46" stroke="#444" stroke-width="0.9" />
<line x1="503.4" y1="38.18" x2="505.9" y2="38.18" stroke="#444" stroke-width="0.9" />
<line x1="503.4" y1="23.9" x2="508.4" y2="23.9" stroke="#444" stroke-width="0.9" />
<text x="499.5" y="142.74" font-size="13" fill="#000" stroke="#000" text-anchor="end" >0.8</text>
<text x="499.5" y="85.62" font-size="13" fill="#000" stroke="#000" text-anchor="end" >1.2</text>
<text x="499.5" y="28.5" font-size="13" fill="#000" stroke="#000" text-anchor="end" >1.6</text>
<line x1="519.6" y1="152.2" x2="519.6" y2="147.2" stroke="#444" stroke-width="0.9" />
<line x1="532.24" y1="152.2" x2="532.24" y2="149.7" stroke="#444" stroke-width="0.9" />
<line x1="539.64" y1="152.2" x2="539.64" y2="149.7" stroke="#444" stroke-width="0.9" />
<line x1="544.89" y1="152.2" x2="544.89" y2="149.7" stroke="#444" stroke-width="0.9" />
<line x1="548.96" y1="152.2" x2="548.96" y2="149.7" stroke="#444" stroke-width="0.9" />
<line x1="552.28" y1="152.2" x2="552.28" y2="149.7" stroke="#444" stroke-width="0.9" />
<line x1="555.09" y1="152.2" x2="555.09" y2="149.7" stroke="#444" stroke-width="0.9" />
<line x1="557.53" y1="152.2" x2="557.53" y2="149.7" stroke="#444" stroke-width="0.9" />
<line x1="559.68" y1="152.2" x2="559.68" y2="149.7" stroke="#444" stroke-width="0.9" />
<line x1="561.6" y1="152.2" x2="561.6" y2="147.2" stroke="#444" stroke-width="0.9" />
<line x1="574.24" y1="152.2" x2="574.24" y2="149.7" stroke="#444" stroke-width="0.9" />
<line x1="581.64" y1="152.2" x2="581.64" y2="149.7" stroke="#444" stroke-width="0.9" />
<line x1="586.89" y1="152.2" x2="586.89" y2="149.7" stroke="#444" stroke-width="0.9" />
<line x1="590.96" y1="152.2" x2="590.96" y2="149.7" stroke="#444" stroke-width="0.9" />
<line x1="594.28" y1="152.2" x2="594.28" y2="149.7" stroke="#444" stroke-width="0.9" />
<line x1="597.09" y1="152.2" x2="597.09" y2="149.7" stroke="#444" stroke-width="0.9" />
<line x1="599.53" y1="152.2" x2="599.53" y2="149.7" stroke="#444" stroke-width="0.9" />
<line x1="601.68" y1="152.2" x2="601.68" y2="149.7" stroke="#444" stroke-width="0.9" />
<line x1="603.6" y1="152.2" x2="603.6" y2="147.2" stroke="#444" stroke-width="0.9" />
<line x1="616.24" y1="152.2" x2="616.24" y2="149.7" stroke="#444" stroke-width="0.9" />
<line x1="623.64" y1="152.2" x2="623.64" y2="149.7" stroke="#444" stroke-width="0.9" />
<line x1="628.89" y1="152.2" x2="628.89" y2="149.7" stroke="#444" stroke-width="0.9" />
<line x1="632.96" y1="152.2" x2="632.96" y2="149.7" stroke="#444" stroke-width="0.9" />
<line x1="636.28" y1="152.2" x2="636.28" y2="149.7" stroke="#444" stroke-width="0.9" />
<line x1="639.09" y1="152.2" x2="639.09" y2="149.7" stroke="#444" stroke-width="0.9" />
<line x1="641.53" y1="152.2" x2="641.53" y2="149.7" stroke="#444" stroke-width="0.9" />
<line x1="643.68" y1="152.2" x2="643.68" y2="149.7" stroke="#444" stroke-width="0.9" />
<line x1="645.6" y1="152.2" x2="645.6" y2="147.2" stroke="#444" stroke-width="0.9" />
<line x1="658.24" y1="152.2" x2="658.24" y2="149.7" stroke="#444" stroke-width="0.9" />
<text x="519.6" y="164.5" font-size="13" fill="#000" stroke="#000" text-anchor="middle" >1</text>
<text x="561.6" y="164.5" font-size="13" fill="#000" stroke="#000" text-anchor="middle" >10</text>
<text x="603.6" y="164.5" font-size="13" fill="#000" stroke="#000" text-anchor="middle" >100</text>
<text x="645.6" y="164.5" font-size="13" fill="#000" stroke="#000" text-anchor="middle" >1000</text>
<text x="679" y="165" font-size="14" fill="#000" stroke="#000" text-anchor="middle" >∞</text>
<polygon points="680.2,53.4 683.81,56.03 682.43,60.27 677.97,60.27 676.59,56.03" fill="#fff" stroke="#222" stroke-width="0.9"/>
<polygon points="680.2,110.2 681.52,113.38 684.96,113.65 682.34,115.9 683.14,119.25 680.2,117.45 677.26,119.25 678.06,115.9 675.44,113.65 678.88,113.38" fill="#fff" stroke="#ff0000" stroke-width="0.9"/>
<line x1="573" y1="66.7" x2="589.3" y2="66.7" stroke="#000" stroke-width="1" />
<rect x="579.2" y="64.5" width="4.4" height="4.4" fill="#000" stroke="none" stroke-width="1" />
<text x="591.8" y="69.6" font-size="9.5" fill="#000" stroke="#000" text-anchor="start" >WZ', indirect, T%</text>
<line x1="573" y1="78.6" x2="589.3" y2="78.6" stroke="#0000ff" stroke-width="1" />
<polygon points="580.9,75.3 584.2,78.6 580.9,81.9 577.6,78.6" fill="#0000ff" stroke="none" stroke-width="1"/>
<text x="591.8" y="81.5" font-size="9.5" fill="#000" stroke="#000" text-anchor="start" >ZB', direct, PL</text>
<rect x="578.9" y="87.9" width="4" height="4" fill="#fff" stroke="#222" stroke-width="0.7" />
<polygon points="596,86.7 599.2,89.9 596,93.1 592.8,89.9" fill="#fff" stroke="#222" stroke-width="0.8"/>
<text x="604.4" y="93" font-size="9.5" fill="#000" stroke="#000" text-anchor="start" >ZB' &amp; WZ',</text>
<text x="651.4" y="93" font-size="8" fill="#000" stroke="#000" text-anchor="start" >Ref.[12]</text>
<polygon points="580.9,98.2 584.51,100.83 583.13,105.07 578.67,105.07 577.29,100.83" fill="#fff" stroke="#222" stroke-width="0.8"/>
<text x="591.8" y="104.6" font-size="9.5" fill="#000" stroke="#000" text-anchor="start" >WZ', this work</text>
<polygon points="580.9,109.1 582.17,112.15 585.47,112.42 582.95,114.57 583.72,117.78 580.9,116.06 578.08,117.78 578.85,114.57 576.33,112.42 579.63,112.15" fill="#fff" stroke="#ff0000" stroke-width="0.8"/>
<text x="591.8" y="116.5" font-size="9.5" fill="#000" stroke="#000" text-anchor="start" >WZ'-CDW, this work</text>
<text x="591" y="180.6" font-size="14" fill="#000" stroke="#000" text-anchor="middle" >Thickness (nm)</text>
<text transform="translate(477.3,82) rotate(-90)" font-size="15.5" text-anchor="middle" stroke="#000">Bandgap (eV)</text>
<defs><radialGradient id="gR" cx="0.4" cy="0.4" r="0.6"><stop offset="0" stop-color="#ffc8c8"/><stop offset="0.55" stop-color="#ff4040"/><stop offset="1" stop-color="#d00000"/></radialGradient><radialGradient id="gB" cx="0.4" cy="0.4" r="0.6"><stop offset="0" stop-color="#a0a0ff"/><stop offset="0.5" stop-color="#2020ff"/><stop offset="1" stop-color="#0000c0"/></radialGradient><radialGradient id="gC" cx="0.4" cy="0.4" r="0.6"><stop offset="0" stop-color="#d8fff2"/><stop offset="0.45" stop-color="#48f0c0"/><stop offset="1" stop-color="#30e0a8"/></radialGradient></defs>
<text x="0" y="202.6" font-size="20" fill="#000" stroke="#000" text-anchor="start" >d</text>
<rect x="26.2" y="286.6" width="16.2" height="94.7" fill="none" stroke="#999" stroke-width="1" />
<line x1="36.7" y1="215.7" x2="31.45" y2="212.1" stroke="#3030ff" stroke-width="0.9" />
<line x1="31.45" y1="212.1" x2="26.2" y2="208.5" stroke="#e03030" stroke-width="0.9" />
<line x1="36.7" y1="215.7" x2="39.3" y2="212.1" stroke="#3030ff" stroke-width="0.9" />
<line x1="39.3" y1="212.1" x2="41.9" y2="208.5" stroke="#e03030" stroke-width="0.9" />
<line x1="36.7" y1="215.7" x2="34.15" y2="220.1" stroke="#3030ff" stroke-width="0.9" />
<line x1="34.15" y1="220.1" x2="31.6" y2="224.5" stroke="#e03030" stroke-width="0.9" />
<line x1="36.7" y1="215.7" x2="42.1" y2="220.1" stroke="#3030ff" stroke-width="0.9" />
<line x1="42.1" y1="220.1" x2="47.5" y2="224.5" stroke="#e03030" stroke-width="0.9" />
<line x1="52.7" y1="215.7" x2="47.3" y2="212.1" stroke="#3030ff" stroke-width="0.9" />
<line x1="47.3" y1="212.1" x2="41.9" y2="208.5" stroke="#e03030" stroke-width="0.9" />
<line x1="52.7" y1="215.7" x2="55.25" y2="212.1" stroke="#3030ff" stroke-width="0.9" />
<line x1="55.25" y1="212.1" x2="57.8" y2="208.5" stroke="#e03030" stroke-width="0.9" />
<line x1="52.7" y1="215.7" x2="50.1" y2="220.1" stroke="#3030ff" stroke-width="0.9" />
<line x1="50.1" y1="220.1" x2="47.5" y2="224.5" stroke="#e03030" stroke-width="0.9" />
<line x1="52.7" y1="215.7" x2="57.8" y2="220.1" stroke="#3030ff" stroke-width="0.9" />
<line x1="57.8" y1="220.1" x2="62.9" y2="224.5" stroke="#e03030" stroke-width="0.9" />
<line x1="26.2" y1="232.7" x2="20.8" y2="228.6" stroke="#3030ff" stroke-width="0.9" />
<line x1="20.8" y1="228.6" x2="15.4" y2="224.5" stroke="#e03030" stroke-width="0.9" />
<line x1="26.2" y1="232.7" x2="28.9" y2="228.6" stroke="#3030ff" stroke-width="0.9" />
<line x1="28.9" y1="228.6" x2="31.6" y2="224.5" stroke="#e03030" stroke-width="0.9" />
<line x1="26.2" y1="232.7" x2="23.5" y2="236.55" stroke="#3030ff" stroke-width="0.9" />
<line x1="23.5" y1="236.55" x2="20.8" y2="240.4" stroke="#e03030" stroke-width="0.9" />
<line x1="26.2" y1="232.7" x2="31.45" y2="236.55" stroke="#3030ff" stroke-width="0.9" />
<line x1="31.45" y1="236.55" x2="36.7" y2="240.4" stroke="#e03030" stroke-width="0.9" />
<line x1="41.9" y1="232.7" x2="36.75" y2="228.6" stroke="#3030ff" stroke-width="0.9" />
<line x1="36.75" y1="228.6" x2="31.6" y2="224.5" stroke="#e03030" stroke-width="0.9" />
<line x1="41.9" y1="232.7" x2="44.7" y2="228.6" stroke="#3030ff" stroke-width="0.9" />
<line x1="44.7" y1="228.6" x2="47.5" y2="224.5" stroke="#e03030" stroke-width="0.9" />
<line x1="41.9" y1="232.7" x2="39.3" y2="236.55" stroke="#3030ff" stroke-width="0.9" />
<line x1="39.3" y1="236.55" x2="36.7" y2="240.4" stroke="#e03030" stroke-width="0.9" />
<line x1="41.9" y1="232.7" x2="47.3" y2="236.55" stroke="#3030ff" stroke-width="0.9" />
<line x1="47.3" y1="236.55" x2="52.7" y2="240.4" stroke="#e03030" stroke-width="0.9" />
<line x1="57.8" y1="232.7" x2="52.65" y2="228.6" stroke="#3030ff" stroke-width="0.9" />
<line x1="52.65" y1="228.6" x2="47.5" y2="224.5" stroke="#e03030" stroke-width="0.9" />
<line x1="57.8" y1="232.7" x2="60.35" y2="228.6" stroke="#3030ff" stroke-width="0.9" />
<line x1="60.35" y1="228.6" x2="62.9" y2="224.5" stroke="#e03030" stroke-width="0.9" />
<line x1="57.8" y1="232.7" x2="55.25" y2="236.55" stroke="#3030ff" stroke-width="0.9" />
<line x1="55.25" y1="236.55" x2="52.7" y2="240.4" stroke="#e03030" stroke-width="0.9" />
<line x1="57.8" y1="232.7" x2="63.2" y2="236.55" stroke="#3030ff" stroke-width="0.9" />
<line x1="63.2" y1="236.55" x2="68.6" y2="240.4" stroke="#e03030" stroke-width="0.9" />
<circle cx="26.2" cy="208.5" r="1.95" fill="url(#gR)" stroke="none" stroke-width="1" />
<circle cx="41.9" cy="208.5" r="1.95" fill="url(#gR)" stroke="none" stroke-width="1" />
<circle cx="57.8" cy="208.5" r="1.95" fill="url(#gR)" stroke="none" stroke-width="1" />
<circle cx="15.4" cy="224.5" r="1.95" fill="url(#gR)" stroke="none" stroke-width="1" />
<circle cx="31.6" cy="224.5" r="1.95" fill="url(#gR)" stroke="none" stroke-width="1" />
<circle cx="47.5" cy="224.5" r="1.95" fill="url(#gR)" stroke="none" stroke-width="1" />
<circle cx="62.9" cy="224.5" r="1.95" fill="url(#gR)" stroke="none" stroke-width="1" />
<circle cx="20.8" cy="240.4" r="1.95" fill="url(#gR)" stroke="none" stroke-width="1" />
<circle cx="36.7" cy="240.4" r="1.95" fill="url(#gR)" stroke="none" stroke-width="1" />
<circle cx="52.7" cy="240.4" r="1.95" fill="url(#gR)" stroke="none" stroke-width="1" />
<circle cx="68.6" cy="240.4" r="1.95" fill="url(#gR)" stroke="none" stroke-width="1" />
<circle cx="36.7" cy="215.7" r="2.8" fill="url(#gB)" stroke="none" stroke-width="1" />
<circle cx="52.7" cy="215.7" r="2.8" fill="url(#gB)" stroke="none" stroke-width="1" />
<circle cx="26.2" cy="232.7" r="2.8" fill="url(#gB)" stroke="none" stroke-width="1" />
<circle cx="41.9" cy="232.7" r="2.8" fill="url(#gB)" stroke="none" stroke-width="1" />
<circle cx="57.8" cy="232.7" r="2.8" fill="url(#gB)" stroke="none" stroke-width="1" />
<line x1="37.4" y1="262" x2="35.25" y2="259.05" stroke="#3030ff" stroke-width="0.9" />
<line x1="35.25" y1="259.05" x2="33.1" y2="256.1" stroke="#e03030" stroke-width="0.9" />
<line x1="37.4" y1="262" x2="43.2" y2="259.05" stroke="#3030ff" stroke-width="0.9" />
<line x1="43.2" y1="259.05" x2="49" y2="256.1" stroke="#e03030" stroke-width="0.9" />
<line x1="37.4" y1="262" x2="33.1" y2="265.05" stroke="#3030ff" stroke-width="0.9" />
<line x1="33.1" y1="265.05" x2="28.8" y2="268.1" stroke="#e03030" stroke-width="0.9" />
<line x1="37.4" y1="262" x2="41.05" y2="265.05" stroke="#3030ff" stroke-width="0.9" />
<line x1="41.05" y1="265.05" x2="44.7" y2="268.1" stroke="#e03030" stroke-width="0.9" />
<line x1="53.5" y1="262" x2="51.25" y2="259.05" stroke="#3030ff" stroke-width="0.9" />
<line x1="51.25" y1="259.05" x2="49" y2="256.1" stroke="#e03030" stroke-width="0.9" />
<line x1="53.5" y1="262" x2="59.25" y2="259.05" stroke="#3030ff" stroke-width="0.9" />
<line x1="59.25" y1="259.05" x2="65" y2="256.1" stroke="#e03030" stroke-width="0.9" />
<line x1="53.5" y1="262" x2="49.1" y2="265.05" stroke="#3030ff" stroke-width="0.9" />
<line x1="49.1" y1="265.05" x2="44.7" y2="268.1" stroke="#e03030" stroke-width="0.9" />
<line x1="53.5" y1="262" x2="56.95" y2="265.05" stroke="#3030ff" stroke-width="0.9" />
<line x1="56.95" y1="265.05" x2="60.4" y2="268.1" stroke="#e03030" stroke-width="0.9" />
<line x1="28.8" y1="278.9" x2="28.8" y2="273.5" stroke="#3030ff" stroke-width="0.9" />
<line x1="28.8" y1="273.5" x2="28.8" y2="268.1" stroke="#e03030" stroke-width="0.9" />
<line x1="28.8" y1="278.9" x2="26.55" y2="282.75" stroke="#3030ff" stroke-width="0.9" />
<line x1="26.55" y1="282.75" x2="24.3" y2="286.6" stroke="#e03030" stroke-width="0.9" />
<line x1="28.8" y1="278.9" x2="34.6" y2="282.75" stroke="#3030ff" stroke-width="0.9" />
<line x1="34.6" y1="282.75" x2="40.4" y2="286.6" stroke="#e03030" stroke-width="0.9" />
<line x1="44.7" y1="278.9" x2="44.7" y2="273.5" stroke="#3030ff" stroke-width="0.9" />
<line x1="44.7" y1="273.5" x2="44.7" y2="268.1" stroke="#e03030" stroke-width="0.9" />
<line x1="44.7" y1="278.9" x2="42.55" y2="282.75" stroke="#3030ff" stroke-width="0.9" />
<line x1="42.55" y1="282.75" x2="40.4" y2="286.6" stroke="#e03030" stroke-width="0.9" />
<line x1="44.7" y1="278.9" x2="50.25" y2="282.75" stroke="#3030ff" stroke-width="0.9" />
<line x1="50.25" y1="282.75" x2="55.8" y2="286.6" stroke="#e03030" stroke-width="0.9" />
<circle cx="33.1" cy="256.1" r="1.95" fill="url(#gR)" stroke="none" stroke-width="1" />
<circle cx="49" cy="256.1" r="1.95" fill="url(#gR)" stroke="none" stroke-width="1" />
<circle cx="65" cy="256.1" r="1.95" fill="url(#gR)" stroke="none" stroke-width="1" />
<circle cx="28.8" cy="268.1" r="1.95" fill="url(#gR)" stroke="none" stroke-width="1" />
<circle cx="44.7" cy="268.1" r="1.95" fill="url(#gR)" stroke="none" stroke-width="1" />
<circle cx="60.4" cy="268.1" r="1.95" fill="url(#gR)" stroke="none" stroke-width="1" />
<circle cx="24.3" cy="286.6" r="1.95" fill="url(#gR)" stroke="none" stroke-width="1" />
<circle cx="40.4" cy="286.6" r="1.95" fill="url(#gR)" stroke="none" stroke-width="1" />
<circle cx="55.8" cy="286.6" r="1.95" fill="url(#gR)" stroke="none" stroke-width="1" />
<circle cx="37.4" cy="262" r="2.8" fill="url(#gB)" stroke="none" stroke-width="1" />
<circle cx="53.5" cy="262" r="2.8" fill="url(#gB)" stroke="none" stroke-width="1" />
<circle cx="28.8" cy="278.9" r="2.8" fill="url(#gB)" stroke="none" stroke-width="1" />
<circle cx="44.7" cy="278.9" r="2.8" fill="url(#gB)" stroke="none" stroke-width="1" />
<line x1="36.7" y1="309.6" x2="31.45" y2="306" stroke="#3030ff" stroke-width="0.9" />
<line x1="31.45" y1="306" x2="26.2" y2="302.4" stroke="#e03030" stroke-width="0.9" />
<line x1="36.7" y1="309.6" x2="39.3" y2="306" stroke="#3030ff" stroke-width="0.9" />
<line x1="39.3" y1="306" x2="41.9" y2="302.4" stroke="#e03030" stroke-width="0.9" />
<line x1="36.7" y1="309.6" x2="34.15" y2="314" stroke="#3030ff" stroke-width="0.9" />
<line x1="34.15" y1="314" x2="31.6" y2="318.4" stroke="#e03030" stroke-width="0.9" />
<line x1="36.7" y1="309.6" x2="42.1" y2="314" stroke="#3030ff" stroke-width="0.9" />
<line x1="42.1" y1="314" x2="47.5" y2="318.4" stroke="#e03030" stroke-width="0.9" />
<line x1="52.7" y1="309.6" x2="47.3" y2="306" stroke="#3030ff" stroke-width="0.9" />
<line x1="47.3" y1="306" x2="41.9" y2="302.4" stroke="#e03030" stroke-width="0.9" />
<line x1="52.7" y1="309.6" x2="55.25" y2="306" stroke="#3030ff" stroke-width="0.9" />
<line x1="55.25" y1="306" x2="57.8" y2="302.4" stroke="#e03030" stroke-width="0.9" />
<line x1="52.7" y1="309.6" x2="50.1" y2="314" stroke="#3030ff" stroke-width="0.9" />
<line x1="50.1" y1="314" x2="47.5" y2="318.4" stroke="#e03030" stroke-width="0.9" />
<line x1="52.7" y1="309.6" x2="57.8" y2="314" stroke="#3030ff" stroke-width="0.9" />
<line x1="57.8" y1="314" x2="62.9" y2="318.4" stroke="#e03030" stroke-width="0.9" />
<line x1="26.2" y1="326.6" x2="20.8" y2="322.5" stroke="#3030ff" stroke-width="0.9" />
<line x1="20.8" y1="322.5" x2="15.4" y2="318.4" stroke="#e03030" stroke-width="0.9" />
<line x1="26.2" y1="326.6" x2="28.9" y2="322.5" stroke="#3030ff" stroke-width="0.9" />
<line x1="28.9" y1="322.5" x2="31.6" y2="318.4" stroke="#e03030" stroke-width="0.9" />
<line x1="26.2" y1="326.6" x2="23.5" y2="330.45" stroke="#3030ff" stroke-width="0.9" />
<line x1="23.5" y1="330.45" x2="20.8" y2="334.3" stroke="#e03030" stroke-width="0.9" />
<line x1="26.2" y1="326.6" x2="31.45" y2="330.45" stroke="#3030ff" stroke-width="0.9" />
<line x1="31.45" y1="330.45" x2="36.7" y2="334.3" stroke="#e03030" stroke-width="0.9" />
<line x1="41.9" y1="326.6" x2="36.75" y2="322.5" stroke="#3030ff" stroke-width="0.9" />
<line x1="36.75" y1="322.5" x2="31.6" y2="318.4" stroke="#e03030" stroke-width="0.9" />
<line x1="41.9" y1="326.6" x2="44.7" y2="322.5" stroke="#3030ff" stroke-width="0.9" />
<line x1="44.7" y1="322.5" x2="47.5" y2="318.4" stroke="#e03030" stroke-width="0.9" />
<line x1="41.9" y1="326.6" x2="39.3" y2="330.45" stroke="#3030ff" stroke-width="0.9" />
<line x1="39.3" y1="330.45" x2="36.7" y2="334.3" stroke="#e03030" stroke-width="0.9" />
<line x1="41.9" y1="326.6" x2="47.3" y2="330.45" stroke="#3030ff" stroke-width="0.9" />
<line x1="47.3" y1="330.45" x2="52.7" y2="334.3" stroke="#e03030" stroke-width="0.9" />
<line x1="57.8" y1="326.6" x2="52.65" y2="322.5" stroke="#3030ff" stroke-width="0.9" />
<line x1="52.65" y1="322.5" x2="47.5" y2="318.4" stroke="#e03030" stroke-width="0.9" />
<line x1="57.8" y1="326.6" x2="60.35" y2="322.5" stroke="#3030ff" stroke-width="0.9" />
<line x1="60.35" y1="322.5" x2="62.9" y2="318.4" stroke="#e03030" stroke-width="0.9" />
<line x1="57.8" y1="326.6" x2="55.25" y2="330.45" stroke="#3030ff" stroke-width="0.9" />
<line x1="55.25" y1="330.45" x2="52.7" y2="334.3" stroke="#e03030" stroke-width="0.9" />
<line x1="57.8" y1="326.6" x2="63.2" y2="330.45" stroke="#3030ff" stroke-width="0.9" />
<line x1="63.2" y1="330.45" x2="68.6" y2="334.3" stroke="#e03030" stroke-width="0.9" />
<circle cx="26.2" cy="302.4" r="1.95" fill="url(#gR)" stroke="none" stroke-width="1" />
<circle cx="41.9" cy="302.4" r="1.95" fill="url(#gR)" stroke="none" stroke-width="1" />
<circle cx="57.8" cy="302.4" r="1.95" fill="url(#gR)" stroke="none" stroke-width="1" />
<circle cx="15.4" cy="318.4" r="1.95" fill="url(#gR)" stroke="none" stroke-width="1" />
<circle cx="31.6" cy="318.4" r="1.95" fill="url(#gR)" stroke="none" stroke-width="1" />
<circle cx="47.5" cy="318.4" r="1.95" fill="url(#gR)" stroke="none" stroke-width="1" />
<circle cx="62.9" cy="318.4" r="1.95" fill="url(#gR)" stroke="none" stroke-width="1" />
<circle cx="20.8" cy="334.3" r="1.95" fill="url(#gR)" stroke="none" stroke-width="1" />
<circle cx="36.7" cy="334.3" r="1.95" fill="url(#gR)" stroke="none" stroke-width="1" />
<circle cx="52.7" cy="334.3" r="1.95" fill="url(#gR)" stroke="none" stroke-width="1" />
<circle cx="68.6" cy="334.3" r="1.95" fill="url(#gR)" stroke="none" stroke-width="1" />
<circle cx="36.7" cy="309.6" r="2.8" fill="url(#gB)" stroke="none" stroke-width="1" />
<circle cx="52.7" cy="309.6" r="2.8" fill="url(#gB)" stroke="none" stroke-width="1" />
<circle cx="26.2" cy="326.6" r="2.8" fill="url(#gB)" stroke="none" stroke-width="1" />
<circle cx="41.9" cy="326.6" r="2.8" fill="url(#gB)" stroke="none" stroke-width="1" />
<circle cx="57.8" cy="326.6" r="2.8" fill="url(#gB)" stroke="none" stroke-width="1" />
<line x1="37.4" y1="355.8" x2="35.25" y2="352.85" stroke="#3030ff" stroke-width="0.9" />
<line x1="35.25" y1="352.85" x2="33.1" y2="349.9" stroke="#e03030" stroke-width="0.9" />
<line x1="37.4" y1="355.8" x2="43.2" y2="352.85" stroke="#3030ff" stroke-width="0.9" />
<line x1="43.2" y1="352.85" x2="49" y2="349.9" stroke="#e03030" stroke-width="0.9" />
<line x1="37.4" y1="355.8" x2="33.1" y2="358.85" stroke="#3030ff" stroke-width="0.9" />
<line x1="33.1" y1="358.85" x2="28.8" y2="361.9" stroke="#e03030" stroke-width="0.9" />
<line x1="37.4" y1="355.8" x2="41.05" y2="358.85" stroke="#3030ff" stroke-width="0.9" />
<line x1="41.05" y1="358.85" x2="44.7" y2="361.9" stroke="#e03030" stroke-width="0.9" />
<line x1="53.5" y1="355.8" x2="51.25" y2="352.85" stroke="#3030ff" stroke-width="0.9" />
<line x1="51.25" y1="352.85" x2="49" y2="349.9" stroke="#e03030" stroke-width="0.9" />
<line x1="53.5" y1="355.8" x2="59.25" y2="352.85" stroke="#3030ff" stroke-width="0.9" />
<line x1="59.25" y1="352.85" x2="65" y2="349.9" stroke="#e03030" stroke-width="0.9" />
<line x1="53.5" y1="355.8" x2="49.1" y2="358.85" stroke="#3030ff" stroke-width="0.9" />
<line x1="49.1" y1="358.85" x2="44.7" y2="361.9" stroke="#e03030" stroke-width="0.9" />
<line x1="53.5" y1="355.8" x2="56.95" y2="358.85" stroke="#3030ff" stroke-width="0.9" />
<line x1="56.95" y1="358.85" x2="60.4" y2="361.9" stroke="#e03030" stroke-width="0.9" />
<line x1="28.8" y1="372.7" x2="28.8" y2="367.3" stroke="#3030ff" stroke-width="0.9" />
<line x1="28.8" y1="367.3" x2="28.8" y2="361.9" stroke="#e03030" stroke-width="0.9" />
<line x1="28.8" y1="372.7" x2="26.55" y2="376.55" stroke="#3030ff" stroke-width="0.9" />
<line x1="26.55" y1="376.55" x2="24.3" y2="380.4" stroke="#e03030" stroke-width="0.9" />
<line x1="28.8" y1="372.7" x2="34.6" y2="376.55" stroke="#3030ff" stroke-width="0.9" />
<line x1="34.6" y1="376.55" x2="40.4" y2="380.4" stroke="#e03030" stroke-width="0.9" />
<line x1="44.7" y1="372.7" x2="44.7" y2="367.3" stroke="#3030ff" stroke-width="0.9" />
<line x1="44.7" y1="367.3" x2="44.7" y2="361.9" stroke="#e03030" stroke-width="0.9" />
<line x1="44.7" y1="372.7" x2="42.55" y2="376.55" stroke="#3030ff" stroke-width="0.9" />
<line x1="42.55" y1="376.55" x2="40.4" y2="380.4" stroke="#e03030" stroke-width="0.9" />
<line x1="44.7" y1="372.7" x2="50.25" y2="376.55" stroke="#3030ff" stroke-width="0.9" />
<line x1="50.25" y1="376.55" x2="55.8" y2="380.4" stroke="#e03030" stroke-width="0.9" />
<circle cx="33.1" cy="349.9" r="1.95" fill="url(#gR)" stroke="none" stroke-width="1" />
<circle cx="49" cy="349.9" r="1.95" fill="url(#gR)" stroke="none" stroke-width="1" />
<circle cx="65" cy="349.9" r="1.95" fill="url(#gR)" stroke="none" stroke-width="1" />
<circle cx="28.8" cy="361.9" r="1.95" fill="url(#gR)" stroke="none" stroke-width="1" />
<circle cx="44.7" cy="361.9" r="1.95" fill="url(#gR)" stroke="none" stroke-width="1" />
<circle cx="60.4" cy="361.9" r="1.95" fill="url(#gR)" stroke="none" stroke-width="1" />
<circle cx="24.3" cy="380.4" r="1.95" fill="url(#gR)" stroke="none" stroke-width="1" />
<circle cx="40.4" cy="380.4" r="1.95" fill="url(#gR)" stroke="none" stroke-width="1" />
<circle cx="55.8" cy="380.4" r="1.95" fill="url(#gR)" stroke="none" stroke-width="1" />
<circle cx="37.4" cy="355.8" r="2.8" fill="url(#gB)" stroke="none" stroke-width="1" />
<circle cx="53.5" cy="355.8" r="2.8" fill="url(#gB)" stroke="none" stroke-width="1" />
<circle cx="28.8" cy="372.7" r="2.8" fill="url(#gB)" stroke="none" stroke-width="1" />
<circle cx="44.7" cy="372.7" r="2.8" fill="url(#gB)" stroke="none" stroke-width="1" />
<line x1="17.3" y1="265" x2="17.3" y2="277" stroke="#000" stroke-width="2.2" />
<polygon points="13.6,275.5 21.1,275.5 17.3,288" fill="#000"/>
<line x1="17.3" y1="354.6" x2="17.3" y2="366.6" stroke="#000" stroke-width="2.2" />
<polygon points="13.6,365.1 21.1,365.1 17.3,377.6" fill="#000"/>
<text x="42" y="399.8" font-size="15.2" fill="#000" stroke="#000" text-anchor="middle" >WZ’-NDW</text>
<text x="346.9" y="202.6" font-size="20" fill="#000" stroke="#000" text-anchor="start" >f</text>
<rect x="368.8" y="193.4" width="15.9" height="187.4" fill="none" stroke="#aaa" stroke-width="1" />
<line x1="379.3" y1="215.7" x2="374.05" y2="212.1" stroke="#3030ff" stroke-width="0.9" />
<line x1="374.05" y1="212.1" x2="368.8" y2="208.5" stroke="#e03030" stroke-width="0.9" />
<line x1="379.3" y1="215.7" x2="381.9" y2="212.1" stroke="#3030ff" stroke-width="0.9" />
<line x1="381.9" y1="212.1" x2="384.5" y2="208.5" stroke="#e03030" stroke-width="0.9" />
<line x1="379.3" y1="215.7" x2="376.75" y2="220.1" stroke="#3030ff" stroke-width="0.9" />
<line x1="376.75" y1="220.1" x2="374.2" y2="224.5" stroke="#e03030" stroke-width="0.9" />
<line x1="379.3" y1="215.7" x2="384.7" y2="220.1" stroke="#3030ff" stroke-width="0.9" />
<line x1="384.7" y1="220.1" x2="390.1" y2="224.5" stroke="#e03030" stroke-width="0.9" />
<line x1="395.3" y1="215.7" x2="389.9" y2="212.1" stroke="#3030ff" stroke-width="0.9" />
<line x1="389.9" y1="212.1" x2="384.5" y2="208.5" stroke="#e03030" stroke-width="0.9" />
<line x1="395.3" y1="215.7" x2="397.85" y2="212.1" stroke="#3030ff" stroke-width="0.9" />
<line x1="397.85" y1="212.1" x2="400.4" y2="208.5" stroke="#e03030" stroke-width="0.9" />
<line x1="395.3" y1="215.7" x2="392.7" y2="220.1" stroke="#3030ff" stroke-width="0.9" />
<line x1="392.7" y1="220.1" x2="390.1" y2="224.5" stroke="#e03030" stroke-width="0.9" />
<line x1="395.3" y1="215.7" x2="400.4" y2="220.1" stroke="#3030ff" stroke-width="0.9" />
<line x1="400.4" y1="220.1" x2="405.5" y2="224.5" stroke="#e03030" stroke-width="0.9" />
<line x1="368.8" y1="232.7" x2="363.4" y2="228.6" stroke="#3030ff" stroke-width="0.9" />
<line x1="363.4" y1="228.6" x2="358" y2="224.5" stroke="#e03030" stroke-width="0.9" />
<line x1="368.8" y1="232.7" x2="371.5" y2="228.6" stroke="#3030ff" stroke-width="0.9" />
<line x1="371.5" y1="228.6" x2="374.2" y2="224.5" stroke="#e03030" stroke-width="0.9" />
<line x1="368.8" y1="232.7" x2="366.1" y2="236.55" stroke="#3030ff" stroke-width="0.9" />
<line x1="366.1" y1="236.55" x2="363.4" y2="240.4" stroke="#e03030" stroke-width="0.9" />
<line x1="368.8" y1="232.7" x2="374.05" y2="236.55" stroke="#3030ff" stroke-width="0.9" />
<line x1="374.05" y1="236.55" x2="379.3" y2="240.4" stroke="#e03030" stroke-width="0.9" />
<line x1="384.5" y1="232.7" x2="379.35" y2="228.6" stroke="#3030ff" stroke-width="0.9" />
<line x1="379.35" y1="228.6" x2="374.2" y2="224.5" stroke="#e03030" stroke-width="0.9" />
<line x1="384.5" y1="232.7" x2="387.3" y2="228.6" stroke="#3030ff" stroke-width="0.9" />
<line x1="387.3" y1="228.6" x2="390.1" y2="224.5" stroke="#e03030" stroke-width="0.9" />
<line x1="384.5" y1="232.7" x2="381.9" y2="236.55" stroke="#3030ff" stroke-width="0.9" />
<line x1="381.9" y1="236.55" x2="379.3" y2="240.4" stroke="#e03030" stroke-width="0.9" />
<line x1="384.5" y1="232.7" x2="389.9" y2="236.55" stroke="#3030ff" stroke-width="0.9" />
<line x1="389.9" y1="236.55" x2="395.3" y2="240.4" stroke="#e03030" stroke-width="0.9" />
<line x1="400.4" y1="232.7" x2="395.25" y2="228.6" stroke="#3030ff" stroke-width="0.9" />
<line x1="395.25" y1="228.6" x2="390.1" y2="224.5" stroke="#e03030" stroke-width="0.9" />
<line x1="400.4" y1="232.7" x2="402.95" y2="228.6" stroke="#3030ff" stroke-width="0.9" />
<line x1="402.95" y1="228.6" x2="405.5" y2="224.5" stroke="#e03030" stroke-width="0.9" />
<line x1="400.4" y1="232.7" x2="397.85" y2="236.55" stroke="#3030ff" stroke-width="0.9" />
<line x1="397.85" y1="236.55" x2="395.3" y2="240.4" stroke="#e03030" stroke-width="0.9" />
<line x1="400.4" y1="232.7" x2="405.8" y2="236.55" stroke="#3030ff" stroke-width="0.9" />
<line x1="405.8" y1="236.55" x2="411.2" y2="240.4" stroke="#e03030" stroke-width="0.9" />
<circle cx="368.8" cy="208.5" r="1.95" fill="url(#gR)" stroke="none" stroke-width="1" />
<circle cx="384.5" cy="208.5" r="1.95" fill="url(#gR)" stroke="none" stroke-width="1" />
<circle cx="400.4" cy="208.5" r="1.95" fill="url(#gR)" stroke="none" stroke-width="1" />
<circle cx="358" cy="224.5" r="1.95" fill="url(#gR)" stroke="none" stroke-width="1" />
<circle cx="374.2" cy="224.5" r="1.95" fill="url(#gR)" stroke="none" stroke-width="1" />
<circle cx="390.1" cy="224.5" r="1.95" fill="url(#gR)" stroke="none" stroke-width="1" />
<circle cx="405.5" cy="224.5" r="1.95" fill="url(#gR)" stroke="none" stroke-width="1" />
<circle cx="363.4" cy="240.4" r="1.95" fill="url(#gR)" stroke="none" stroke-width="1" />
<circle cx="379.3" cy="240.4" r="1.95" fill="url(#gR)" stroke="none" stroke-width="1" />
<circle cx="395.3" cy="240.4" r="1.95" fill="url(#gR)" stroke="none" stroke-width="1" />
<circle cx="411.2" cy="240.4" r="1.95" fill="url(#gR)" stroke="none" stroke-width="1" />
<circle cx="379.3" cy="215.7" r="2.8" fill="url(#gB)" stroke="none" stroke-width="1" />
<circle cx="395.3" cy="215.7" r="2.8" fill="url(#gB)" stroke="none" stroke-width="1" />
<circle cx="368.8" cy="232.7" r="2.8" fill="url(#gB)" stroke="none" stroke-width="1" />
<circle cx="384.5" cy="232.7" r="2.8" fill="url(#gB)" stroke="none" stroke-width="1" />
<circle cx="400.4" cy="232.7" r="2.8" fill="url(#gB)" stroke="none" stroke-width="1" />
<line x1="380.5" y1="262" x2="378.35" y2="259.05" stroke="#3030ff" stroke-width="0.9" />
<line x1="378.35" y1="259.05" x2="376.2" y2="256.1" stroke="#e03030" stroke-width="0.9" />
<line x1="380.5" y1="262" x2="386.3" y2="259.05" stroke="#3030ff" stroke-width="0.9" />
<line x1="386.3" y1="259.05" x2="392.1" y2="256.1" stroke="#e03030" stroke-width="0.9" />
<line x1="380.5" y1="262" x2="376.2" y2="265.05" stroke="#3030ff" stroke-width="0.9" />
<line x1="376.2" y1="265.05" x2="371.9" y2="268.1" stroke="#e03030" stroke-width="0.9" />
<line x1="380.5" y1="262" x2="384.15" y2="265.05" stroke="#3030ff" stroke-width="0.9" />
<line x1="384.15" y1="265.05" x2="387.8" y2="268.1" stroke="#e03030" stroke-width="0.9" />
<line x1="396.6" y1="262" x2="394.35" y2="259.05" stroke="#3030ff" stroke-width="0.9" />
<line x1="394.35" y1="259.05" x2="392.1" y2="256.1" stroke="#e03030" stroke-width="0.9" />
<line x1="396.6" y1="262" x2="402.35" y2="259.05" stroke="#3030ff" stroke-width="0.9" />
<line x1="402.35" y1="259.05" x2="408.1" y2="256.1" stroke="#e03030" stroke-width="0.9" />
<line x1="396.6" y1="262" x2="392.2" y2="265.05" stroke="#3030ff" stroke-width="0.9" />
<line x1="392.2" y1="265.05" x2="387.8" y2="268.1" stroke="#e03030" stroke-width="0.9" />
<line x1="396.6" y1="262" x2="400.05" y2="265.05" stroke="#3030ff" stroke-width="0.9" />
<line x1="400.05" y1="265.05" x2="403.5" y2="268.1" stroke="#e03030" stroke-width="0.9" />
<line x1="371.9" y1="278.9" x2="371.9" y2="273.5" stroke="#3030ff" stroke-width="0.9" />
<line x1="371.9" y1="273.5" x2="371.9" y2="268.1" stroke="#e03030" stroke-width="0.9" />
<line x1="371.9" y1="278.9" x2="369.65" y2="282.75" stroke="#3030ff" stroke-width="0.9" />
<line x1="369.65" y1="282.75" x2="367.4" y2="286.6" stroke="#e03030" stroke-width="0.9" />
<line x1="371.9" y1="278.9" x2="377.7" y2="282.75" stroke="#3030ff" stroke-width="0.9" />
<line x1="377.7" y1="282.75" x2="383.5" y2="286.6" stroke="#e03030" stroke-width="0.9" />
<line x1="387.8" y1="278.9" x2="387.8" y2="273.5" stroke="#3030ff" stroke-width="0.9" />
<line x1="387.8" y1="273.5" x2="387.8" y2="268.1" stroke="#e03030" stroke-width="0.9" />
<line x1="387.8" y1="278.9" x2="385.65" y2="282.75" stroke="#3030ff" stroke-width="0.9" />
<line x1="385.65" y1="282.75" x2="383.5" y2="286.6" stroke="#e03030" stroke-width="0.9" />
<line x1="387.8" y1="278.9" x2="393.35" y2="282.75" stroke="#3030ff" stroke-width="0.9" />
<line x1="393.35" y1="282.75" x2="398.9" y2="286.6" stroke="#e03030" stroke-width="0.9" />
<circle cx="376.2" cy="256.1" r="1.95" fill="url(#gR)" stroke="none" stroke-width="1" />
<circle cx="392.1" cy="256.1" r="1.95" fill="url(#gR)" stroke="none" stroke-width="1" />
<circle cx="408.1" cy="256.1" r="1.95" fill="url(#gR)" stroke="none" stroke-width="1" />
<circle cx="371.9" cy="268.1" r="1.95" fill="url(#gR)" stroke="none" stroke-width="1" />
<circle cx="387.8" cy="268.1" r="1.95" fill="url(#gR)" stroke="none" stroke-width="1" />
<circle cx="403.5" cy="268.1" r="1.95" fill="url(#gR)" stroke="none" stroke-width="1" />
<circle cx="367.4" cy="286.6" r="1.95" fill="url(#gR)" stroke="none" stroke-width="1" />
<circle cx="383.5" cy="286.6" r="1.95" fill="url(#gR)" stroke="none" stroke-width="1" />
<circle cx="398.9" cy="286.6" r="1.95" fill="url(#gR)" stroke="none" stroke-width="1" />
<circle cx="380.5" cy="262" r="2.8" fill="url(#gB)" stroke="none" stroke-width="1" />
<circle cx="396.6" cy="262" r="2.8" fill="url(#gB)" stroke="none" stroke-width="1" />
<circle cx="371.9" cy="278.9" r="2.8" fill="url(#gB)" stroke="none" stroke-width="1" />
<circle cx="387.8" cy="278.9" r="2.8" fill="url(#gB)" stroke="none" stroke-width="1" />
<line x1="379.3" y1="309.6" x2="374.05" y2="306" stroke="#3030ff" stroke-width="0.9" />
<line x1="374.05" y1="306" x2="368.8" y2="302.4" stroke="#e03030" stroke-width="0.9" />
<line x1="379.3" y1="309.6" x2="381.9" y2="306" stroke="#3030ff" stroke-width="0.9" />
<line x1="381.9" y1="306" x2="384.5" y2="302.4" stroke="#e03030" stroke-width="0.9" />
<line x1="379.3" y1="309.6" x2="376.75" y2="314" stroke="#3030ff" stroke-width="0.9" />
<line x1="376.75" y1="314" x2="374.2" y2="318.4" stroke="#e03030" stroke-width="0.9" />
<line x1="379.3" y1="309.6" x2="384.7" y2="314" stroke="#3030ff" stroke-width="0.9" />
<line x1="384.7" y1="314" x2="390.1" y2="318.4" stroke="#e03030" stroke-width="0.9" />
<line x1="395.3" y1="309.6" x2="389.9" y2="306" stroke="#3030ff" stroke-width="0.9" />
<line x1="389.9" y1="306" x2="384.5" y2="302.4" stroke="#e03030" stroke-width="0.9" />
<line x1="395.3" y1="309.6" x2="397.85" y2="306" stroke="#3030ff" stroke-width="0.9" />
<line x1="397.85" y1="306" x2="400.4" y2="302.4" stroke="#e03030" stroke-width="0.9" />
<line x1="395.3" y1="309.6" x2="392.7" y2="314" stroke="#3030ff" stroke-width="0.9" />
<line x1="392.7" y1="314" x2="390.1" y2="318.4" stroke="#e03030" stroke-width="0.9" />
<line x1="395.3" y1="309.6" x2="400.4" y2="314" stroke="#3030ff" stroke-width="0.9" />
<line x1="400.4" y1="314" x2="405.5" y2="318.4" stroke="#e03030" stroke-width="0.9" />
<line x1="368.8" y1="326.6" x2="363.4" y2="322.5" stroke="#3030ff" stroke-width="0.9" />
<line x1="363.4" y1="322.5" x2="358" y2="318.4" stroke="#e03030" stroke-width="0.9" />
<line x1="368.8" y1="326.6" x2="371.5" y2="322.5" stroke="#3030ff" stroke-width="0.9" />
<line x1="371.5" y1="322.5" x2="374.2" y2="318.4" stroke="#e03030" stroke-width="0.9" />
<line x1="368.8" y1="326.6" x2="366.1" y2="330.45" stroke="#3030ff" stroke-width="0.9" />
<line x1="366.1" y1="330.45" x2="363.4" y2="334.3" stroke="#e03030" stroke-width="0.9" />
<line x1="368.8" y1="326.6" x2="374.05" y2="330.45" stroke="#3030ff" stroke-width="0.9" />
<line x1="374.05" y1="330.45" x2="379.3" y2="334.3" stroke="#e03030" stroke-width="0.9" />
<line x1="384.5" y1="326.6" x2="379.35" y2="322.5" stroke="#3030ff" stroke-width="0.9" />
<line x1="379.35" y1="322.5" x2="374.2" y2="318.4" stroke="#e03030" stroke-width="0.9" />
<line x1="384.5" y1="326.6" x2="387.3" y2="322.5" stroke="#3030ff" stroke-width="0.9" />
<line x1="387.3" y1="322.5" x2="390.1" y2="318.4" stroke="#e03030" stroke-width="0.9" />
<line x1="384.5" y1="326.6" x2="381.9" y2="330.45" stroke="#3030ff" stroke-width="0.9" />
<line x1="381.9" y1="330.45" x2="379.3" y2="334.3" stroke="#e03030" stroke-width="0.9" />
<line x1="384.5" y1="326.6" x2="389.9" y2="330.45" stroke="#3030ff" stroke-width="0.9" />
<line x1="389.9" y1="330.45" x2="395.3" y2="334.3" stroke="#e03030" stroke-width="0.9" />
<line x1="400.4" y1="326.6" x2="395.25" y2="322.5" stroke="#3030ff" stroke-width="0.9" />
<line x1="395.25" y1="322.5" x2="390.1" y2="318.4" stroke="#e03030" stroke-width="0.9" />
<line x1="400.4" y1="326.6" x2="402.95" y2="322.5" stroke="#3030ff" stroke-width="0.9" />
<line x1="402.95" y1="322.5" x2="405.5" y2="318.4" stroke="#e03030" stroke-width="0.9" />
<line x1="400.4" y1="326.6" x2="397.85" y2="330.45" stroke="#3030ff" stroke-width="0.9" />
<line x1="397.85" y1="330.45" x2="395.3" y2="334.3" stroke="#e03030" stroke-width="0.9" />
<line x1="400.4" y1="326.6" x2="405.8" y2="330.45" stroke="#3030ff" stroke-width="0.9" />
<line x1="405.8" y1="330.45" x2="411.2" y2="334.3" stroke="#e03030" stroke-width="0.9" />
<circle cx="368.8" cy="302.4" r="1.95" fill="url(#gR)" stroke="none" stroke-width="1" />
<circle cx="384.5" cy="302.4" r="1.95" fill="url(#gR)" stroke="none" stroke-width="1" />
<circle cx="400.4" cy="302.4" r="1.95" fill="url(#gR)" stroke="none" stroke-width="1" />
<circle cx="358" cy="318.4" r="1.95" fill="url(#gR)" stroke="none" stroke-width="1" />
<circle cx="374.2" cy="318.4" r="1.95" fill="url(#gR)" stroke="none" stroke-width="1" />
<circle cx="390.1" cy="318.4" r="1.95" fill="url(#gR)" stroke="none" stroke-width="1" />
<circle cx="405.5" cy="318.4" r="1.95" fill="url(#gR)" stroke="none" stroke-width="1" />
<circle cx="363.4" cy="334.3" r="1.95" fill="url(#gR)" stroke="none" stroke-width="1" />
<circle cx="379.3" cy="334.3" r="1.95" fill="url(#gR)" stroke="none" stroke-width="1" />
<circle cx="395.3" cy="334.3" r="1.95" fill="url(#gR)" stroke="none" stroke-width="1" />
<circle cx="411.2" cy="334.3" r="1.95" fill="url(#gR)" stroke="none" stroke-width="1" />
<circle cx="379.3" cy="309.6" r="2.8" fill="url(#gB)" stroke="none" stroke-width="1" />
<circle cx="395.3" cy="309.6" r="2.8" fill="url(#gB)" stroke="none" stroke-width="1" />
<circle cx="368.8" cy="326.6" r="2.8" fill="url(#gB)" stroke="none" stroke-width="1" />
<circle cx="384.5" cy="326.6" r="2.8" fill="url(#gB)" stroke="none" stroke-width="1" />
<circle cx="400.4" cy="326.6" r="2.8" fill="url(#gB)" stroke="none" stroke-width="1" />
<line x1="380.5" y1="374.6" x2="378.35" y2="377.55" stroke="#3030ff" stroke-width="0.9" />
<line x1="378.35" y1="377.55" x2="376.2" y2="380.5" stroke="#e03030" stroke-width="0.9" />
<line x1="380.5" y1="374.6" x2="386.3" y2="377.55" stroke="#3030ff" stroke-width="0.9" />
<line x1="386.3" y1="377.55" x2="392.1" y2="380.5" stroke="#e03030" stroke-width="0.9" />
<line x1="380.5" y1="374.6" x2="376.2" y2="371.55" stroke="#3030ff" stroke-width="0.9" />
<line x1="376.2" y1="371.55" x2="371.9" y2="368.5" stroke="#e03030" stroke-width="0.9" />
<line x1="380.5" y1="374.6" x2="384.15" y2="371.55" stroke="#3030ff" stroke-width="0.9" />
<line x1="384.15" y1="371.55" x2="387.8" y2="368.5" stroke="#e03030" stroke-width="0.9" />
<line x1="396.6" y1="374.6" x2="394.35" y2="377.55" stroke="#3030ff" stroke-width="0.9" />
<line x1="394.35" y1="377.55" x2="392.1" y2="380.5" stroke="#e03030" stroke-width="0.9" />
<line x1="396.6" y1="374.6" x2="402.35" y2="377.55" stroke="#3030ff" stroke-width="0.9" />
<line x1="402.35" y1="377.55" x2="408.1" y2="380.5" stroke="#e03030" stroke-width="0.9" />
<line x1="396.6" y1="374.6" x2="392.2" y2="371.55" stroke="#3030ff" stroke-width="0.9" />
<line x1="392.2" y1="371.55" x2="387.8" y2="368.5" stroke="#e03030" stroke-width="0.9" />
<line x1="396.6" y1="374.6" x2="400.05" y2="371.55" stroke="#3030ff" stroke-width="0.9" />
<line x1="400.05" y1="371.55" x2="403.5" y2="368.5" stroke="#e03030" stroke-width="0.9" />
<line x1="371.9" y1="357.7" x2="371.9" y2="363.1" stroke="#3030ff" stroke-width="0.9" />
<line x1="371.9" y1="363.1" x2="371.9" y2="368.5" stroke="#e03030" stroke-width="0.9" />
<line x1="371.9" y1="357.7" x2="369.65" y2="353.85" stroke="#3030ff" stroke-width="0.9" />
<line x1="369.65" y1="353.85" x2="367.4" y2="350" stroke="#e03030" stroke-width="0.9" />
<line x1="371.9" y1="357.7" x2="377.7" y2="353.85" stroke="#3030ff" stroke-width="0.9" />
<line x1="377.7" y1="353.85" x2="383.5" y2="350" stroke="#e03030" stroke-width="0.9" />
<line x1="387.8" y1="357.7" x2="387.8" y2="363.1" stroke="#3030ff" stroke-width="0.9" />
<line x1="387.8" y1="363.1" x2="387.8" y2="368.5" stroke="#e03030" stroke-width="0.9" />
<line x1="387.8" y1="357.7" x2="385.65" y2="353.85" stroke="#3030ff" stroke-width="0.9" />
<line x1="385.65" y1="353.85" x2="383.5" y2="350" stroke="#e03030" stroke-width="0.9" />
<line x1="387.8" y1="357.7" x2="393.35" y2="353.85" stroke="#3030ff" stroke-width="0.9" />
<line x1="393.35" y1="353.85" x2="398.9" y2="350" stroke="#e03030" stroke-width="0.9" />
<circle cx="376.2" cy="380.5" r="1.95" fill="url(#gR)" stroke="none" stroke-width="1" />
<circle cx="392.1" cy="380.5" r="1.95" fill="url(#gR)" stroke="none" stroke-width="1" />
<circle cx="408.1" cy="380.5" r="1.95" fill="url(#gR)" stroke="none" stroke-width="1" />
<circle cx="371.9" cy="368.5" r="1.95" fill="url(#gR)" stroke="none" stroke-width="1" />
<circle cx="387.8" cy="368.5" r="1.95" fill="url(#gR)" stroke="none" stroke-width="1" />
<circle cx="403.5" cy="368.5" r="1.95" fill="url(#gR)" stroke="none" stroke-width="1" />
<circle cx="367.4" cy="350" r="1.95" fill="url(#gR)" stroke="none" stroke-width="1" />
<circle cx="383.5" cy="350" r="1.95" fill="url(#gR)" stroke="none" stroke-width="1" />
<circle cx="398.9" cy="350" r="1.95" fill="url(#gR)" stroke="none" stroke-width="1" />
<circle cx="380.5" cy="374.6" r="2.8" fill="url(#gB)" stroke="none" stroke-width="1" />
<circle cx="396.6" cy="374.6" r="2.8" fill="url(#gB)" stroke="none" stroke-width="1" />
<circle cx="371.9" cy="357.7" r="2.8" fill="url(#gB)" stroke="none" stroke-width="1" />
<circle cx="387.8" cy="357.7" r="2.8" fill="url(#gB)" stroke="none" stroke-width="1" />
<line x1="357" y1="265" x2="357" y2="277" stroke="#000" stroke-width="2.2" />
<polygon points="353.3,275.5 360.8,275.5 357,288.1" fill="#000"/>
<line x1="357.3" y1="377" x2="357.3" y2="365" stroke="#ff0000" stroke-width="2.2" />
<polygon points="353.3,367 361.3,367 357.3,354.6" fill="#ff0000"/>
<text x="386" y="399.8" font-size="15.2" fill="#000" stroke="#000" text-anchor="middle" >WZ’-CDW</text>
<defs><clipPath id="clipE"><rect x="109.8" y="203.8" width="224.89999999999998" height="181.2"/></clipPath></defs>
<text x="76.5" y="202.8" font-size="20" fill="#000" stroke="#000" text-anchor="start" >e</text>
<line x1="198.2" y1="203.8" x2="198.2" y2="385" stroke="#ff5050" stroke-width="0.8" stroke-dasharray="1.5 1.8"/>
<line x1="243.3" y1="203.8" x2="243.3" y2="385" stroke="#ff5050" stroke-width="0.8" stroke-dasharray="1.5 1.8"/>
<g clip-path="url(#clipE)">
<path d="M109.8,268.5 L110.64,268.43 L111.47,268.21 L112.31,267.88 L113.15,267.44 L113.99,266.92 L114.83,266.33 L115.66,265.68 L116.5,265 L117.34,264.26 L118.18,263.44 L119.02,262.54 L119.86,261.58 L120.7,260.58 L121.54,259.54 L122.37,258.47 L123.2,257.4 L124.02,256.29 L124.83,255.13 L125.64,253.92 L126.45,252.69 L127.26,251.44 L128.07,250.2 L128.88,248.98 L129.7,247.8 L130.53,246.63 L131.36,245.47 L132.19,244.3 L133.03,243.15 L133.87,242.02 L134.71,240.91 L135.56,239.83 L136.4,238.8 L137.24,237.8 L138.09,236.81 L138.93,235.86 L139.78,234.93 L140.62,234.04 L141.48,233.18 L142.33,232.37 L143.2,231.6 L144.08,230.87 L144.96,230.17 L145.86,229.5 L146.76,228.88 L147.65,228.3 L148.55,227.78 L149.43,227.31 L150.3,226.9 L151.16,226.55 L152,226.26 L152.84,226.02 L153.68,225.84 L154.51,225.7 L155.33,225.62 L156.17,225.59 L157,225.6 L157.84,225.67 L158.67,225.81 L159.51,226.01 L160.34,226.26 L161.18,226.54 L162.02,226.84 L162.86,227.17 L163.7,227.5 L164.55,227.85 L165.4,228.25 L166.25,228.67 L167.1,229.11 L167.95,229.57 L168.8,230.02 L169.65,230.47 L170.5,230.9 L171.34,231.32 L172.17,231.75 L172.99,232.17 L173.81,232.59 L174.64,233.01 L175.48,233.42 L176.33,233.82 L177.2,234.2 L178.1,234.58 L179.02,234.95 L179.95,235.31 L180.9,235.67 L181.85,236.01 L182.78,236.33 L183.7,236.63 L184.6,236.9 L185.47,237.15 L186.32,237.37 L187.15,237.57 L187.98,237.76 L188.8,237.92 L189.63,238.06 L190.46,238.19 L191.3,238.3 L192.15,238.39 L193.01,238.48 L193.88,238.54 L194.74,238.59 L195.61,238.61 L196.48,238.6 L197.34,238.57 L198.2,238.5 L199.05,238.4 L199.91,238.28 L200.76,238.13 L201.61,237.96 L202.45,237.75 L203.3,237.5 L204.15,237.22 L205,236.9 L205.85,236.52 L206.7,236.09 L207.55,235.61 L208.4,235.11 L209.25,234.58 L210.1,234.04 L210.95,233.51 L211.8,233 L212.65,232.51 L213.48,232.03 L214.32,231.56 L215.16,231.08 L216,230.58 L216.85,230.06 L217.72,229.5 L218.6,228.9 L219.5,228.24 L220.43,227.51 L221.36,226.75 L222.31,225.96 L223.26,225.17 L224.21,224.4 L225.16,223.67 L226.1,223 L227.04,222.37 L227.99,221.77 L228.94,221.19 L229.89,220.64 L230.84,220.11 L231.77,219.61 L232.7,219.14 L233.6,218.7 L234.51,218.29 L235.44,217.89 L236.37,217.53 L237.29,217.19 L238.17,216.89 L238.99,216.62 L239.74,216.39 L240.4,216.2 L240.94,216.06 L241.36,215.99 L241.7,215.95 L241.99,215.95 L242.26,215.97 L242.55,215.99 L242.88,216 L243.3,216 L243.78,215.96 L244.28,215.91 L244.8,215.84 L245.36,215.78 L245.94,215.74 L246.56,215.74 L247.21,215.79 L247.9,215.9 L248.64,216.08 L249.43,216.3 L250.26,216.57 L251.12,216.88 L252,217.22 L252.9,217.59 L253.8,217.99 L254.7,218.4 L255.61,218.84 L256.55,219.31 L257.51,219.82 L258.48,220.35 L259.44,220.9 L260.39,221.46 L261.32,222.03 L262.2,222.6 L263.04,223.2 L263.85,223.83 L264.62,224.5 L265.39,225.16 L266.15,225.81 L266.91,226.43 L267.69,227 L268.5,227.5 L269.33,227.96 L270.17,228.4 L271.02,228.82 L271.88,229.19 L272.74,229.51 L273.62,229.74 L274.5,229.88 L275.4,229.9 L276.31,229.76 L277.23,229.46 L278.17,229.04 L279.11,228.55 L280.06,228.04 L281.01,227.57 L281.96,227.17 L282.9,226.9 L283.84,226.73 L284.78,226.6 L285.72,226.52 L286.66,226.48 L287.59,226.5 L288.53,226.57 L289.47,226.7 L290.4,226.9 L291.33,227.17 L292.25,227.51 L293.18,227.92 L294.1,228.37 L295.02,228.88 L295.95,229.43 L296.87,230 L297.8,230.6 L298.73,231.22 L299.67,231.87 L300.61,232.55 L301.54,233.27 L302.48,234.04 L303.42,234.84 L304.36,235.7 L305.3,236.6 L306.24,237.57 L307.18,238.6 L308.12,239.69 L309.06,240.82 L309.99,241.98 L310.93,243.15 L311.87,244.33 L312.8,245.5 L313.73,246.69 L314.66,247.92 L315.59,249.18 L316.51,250.45 L317.44,251.7 L318.36,252.93 L319.28,254.1 L320.2,255.2 L321.12,256.24 L322.03,257.25 L322.95,258.21 L323.86,259.14 L324.77,260.04 L325.68,260.89 L326.59,261.71 L327.5,262.5 L328.4,263.3 L329.31,264.15 L330.21,264.98 L331.11,265.77 L332,266.46 L332.9,267.01 L333.8,267.37 L334.7,267.5" stroke="#262626" stroke-width="1.0" fill="none" stroke-linejoin="round"/>
<path d="M109.8,247 L110.58,246.99 L111.37,246.95 L112.14,246.88 L112.92,246.77 L113.71,246.6 L114.5,246.37 L115.29,246.08 L116.1,245.7 L116.92,245.23 L117.75,244.67 L118.58,244.03 L119.42,243.34 L120.27,242.6 L121.12,241.84 L121.96,241.07 L122.8,240.3 L123.64,239.52 L124.47,238.7 L125.31,237.86 L126.15,236.99 L126.99,236.13 L127.83,235.26 L128.66,234.42 L129.5,233.6 L130.34,232.79 L131.18,231.97 L132.01,231.16 L132.85,230.36 L133.69,229.58 L134.53,228.84 L135.36,228.14 L136.2,227.5 L137.03,226.92 L137.86,226.39 L138.68,225.9 L139.51,225.45 L140.34,225.03 L141.18,224.64 L142.03,224.26 L142.9,223.9 L143.8,223.55 L144.72,223.21 L145.65,222.89 L146.6,222.6 L147.55,222.34 L148.48,222.11 L149.4,221.93 L150.3,221.8 L151.17,221.72 L152.02,221.69 L152.86,221.7 L153.69,221.74 L154.52,221.82 L155.34,221.93 L156.17,222.06 L157,222.2 L157.84,222.36 L158.67,222.56 L159.51,222.78 L160.34,223.02 L161.18,223.28 L162.02,223.57 L162.86,223.88 L163.7,224.2 L164.55,224.55 L165.4,224.95 L166.25,225.37 L167.1,225.81 L167.95,226.25 L168.8,226.69 L169.65,227.11 L170.5,227.5 L171.34,227.87 L172.17,228.23 L172.99,228.59 L173.81,228.93 L174.64,229.27 L175.48,229.59 L176.33,229.9 L177.2,230.2 L178.1,230.49 L179.02,230.78 L179.95,231.06 L180.9,231.32 L181.85,231.58 L182.78,231.81 L183.7,232.02 L184.6,232.2 L185.47,232.35 L186.32,232.48 L187.15,232.58 L187.98,232.67 L188.8,232.74 L189.63,232.8 L190.46,232.85 L191.3,232.9 L192.15,232.95 L193.01,232.98 L193.88,233.01 L194.74,233.03 L195.61,233.03 L196.48,233.03 L197.34,233.02 L198.2,233 L199.05,232.98 L199.89,232.97 L200.73,232.95 L201.57,232.92 L202.41,232.87 L203.26,232.79 L204.12,232.67 L205,232.5 L205.9,232.29 L206.82,232.04 L207.75,231.76 L208.69,231.44 L209.64,231.1 L210.57,230.73 L211.49,230.33 L212.4,229.9 L213.29,229.45 L214.16,228.97 L215.03,228.46 L215.89,227.93 L216.74,227.36 L217.59,226.77 L218.45,226.15 L219.3,225.5 L220.15,224.81 L220.99,224.06 L221.83,223.28 L222.66,222.47 L223.5,221.66 L224.35,220.85 L225.22,220.06 L226.1,219.3 L227.01,218.55 L227.94,217.78 L228.89,217.01 L229.85,216.26 L230.81,215.53 L231.76,214.85 L232.69,214.24 L233.6,213.7 L234.51,213.24 L235.44,212.84 L236.37,212.5 L237.29,212.21 L238.17,211.96 L238.99,211.75 L239.74,211.56 L240.4,211.4 L240.94,211.28 L241.36,211.21 L241.7,211.19 L241.99,211.19 L242.26,211.21 L242.55,211.23 L242.88,211.23 L243.3,211.2 L243.78,211.11 L244.28,210.98 L244.8,210.82 L245.36,210.66 L245.94,210.53 L246.56,210.46 L247.21,210.47 L247.9,210.6 L248.64,210.84 L249.43,211.18 L250.26,211.59 L251.12,212.06 L252,212.58 L252.9,213.14 L253.8,213.72 L254.7,214.3 L255.62,214.92 L256.57,215.62 L257.54,216.35 L258.51,217.11 L259.48,217.87 L260.43,218.6 L261.34,219.29 L262.2,219.9 L263,220.44 L263.73,220.94 L264.43,221.4 L265.11,221.83 L265.78,222.24 L266.48,222.63 L267.21,223.02 L268,223.4 L268.85,223.81 L269.74,224.26 L270.65,224.72 L271.59,225.16 L272.55,225.54 L273.51,225.84 L274.46,226.04 L275.4,226.1 L276.33,225.99 L277.27,225.73 L278.21,225.36 L279.14,224.91 L280.08,224.42 L281.02,223.93 L281.96,223.48 L282.9,223.1 L283.84,222.77 L284.78,222.43 L285.72,222.09 L286.66,221.77 L287.59,221.48 L288.53,221.23 L289.47,221.03 L290.4,220.9 L291.33,220.83 L292.25,220.82 L293.18,220.85 L294.1,220.93 L295.02,221.04 L295.95,221.2 L296.87,221.38 L297.8,221.6 L298.73,221.84 L299.67,222.1 L300.61,222.39 L301.54,222.72 L302.48,223.1 L303.42,223.54 L304.36,224.03 L305.3,224.6 L306.24,225.25 L307.18,226 L308.12,226.81 L309.06,227.67 L309.99,228.57 L310.93,229.48 L311.87,230.4 L312.8,231.3 L313.73,232.2 L314.65,233.14 L315.58,234.09 L316.5,235.05 L317.42,236.01 L318.35,236.96 L319.27,237.9 L320.2,238.8 L321.14,239.7 L322.08,240.62 L323.03,241.53 L323.97,242.43 L324.92,243.29 L325.86,244.1 L326.79,244.85 L327.7,245.5 L328.6,246.09 L329.49,246.65 L330.36,247.16 L331.23,247.61 L332.1,247.98 L332.96,248.26 L333.83,248.44 L334.7,248.5" stroke="#262626" stroke-width="1.0" fill="none" stroke-linejoin="round"/>
<path d="M109.8,226.2 L110.58,226.17 L111.37,226.08 L112.14,225.92 L112.92,225.71 L113.71,225.43 L114.5,225.08 L115.29,224.67 L116.1,224.2 L116.92,223.64 L117.75,222.98 L118.58,222.24 L119.42,221.44 L120.27,220.61 L121.12,219.76 L121.96,218.92 L122.8,218.1 L123.63,217.28 L124.46,216.43 L125.28,215.56 L126.11,214.68 L126.94,213.81 L127.78,212.97 L128.63,212.16 L129.5,211.4 L130.4,210.67 L131.32,209.94 L132.25,209.24 L133.2,208.56 L134.15,207.93 L135.08,207.35 L136,206.84 L136.9,206.4 L137.77,206.03 L138.61,205.71 L139.43,205.45 L140.25,205.25 L141.07,205.11 L141.89,205.04 L142.73,205.03 L143.6,205.1 L144.5,205.26 L145.43,205.52 L146.39,205.87 L147.34,206.27 L148.3,206.71 L149.23,207.18 L150.14,207.65 L151,208.1 L151.81,208.55 L152.57,209.01 L153.29,209.5 L154,209.99 L154.71,210.5 L155.43,211.03 L156.19,211.56 L157,212.1 L157.87,212.66 L158.78,213.26 L159.73,213.87 L160.69,214.49 L161.66,215.11 L162.61,215.71 L163.53,216.27 L164.4,216.8 L165.22,217.28 L166,217.72 L166.76,218.14 L167.49,218.53 L168.23,218.92 L168.96,219.3 L169.72,219.69 L170.5,220.1 L171.31,220.53 L172.13,220.96 L172.97,221.4 L173.81,221.84 L174.66,222.27 L175.51,222.7 L176.36,223.11 L177.2,223.5 L178.03,223.87 L178.86,224.23 L179.68,224.58 L180.51,224.91 L181.34,225.24 L182.18,225.56 L183.03,225.88 L183.9,226.2 L184.79,226.52 L185.71,226.84 L186.65,227.16 L187.59,227.47 L188.53,227.77 L189.47,228.06 L190.39,228.34 L191.3,228.6 L192.19,228.86 L193.06,229.13 L193.93,229.4 L194.79,229.65 L195.64,229.87 L196.49,230.04 L197.35,230.16 L198.2,230.2 L199.05,230.17 L199.91,230.09 L200.76,229.95 L201.61,229.77 L202.45,229.54 L203.3,229.26 L204.15,228.95 L205,228.6 L205.85,228.2 L206.68,227.75 L207.52,227.24 L208.36,226.7 L209.2,226.13 L210.05,225.53 L210.92,224.92 L211.8,224.3 L212.71,223.67 L213.64,223.01 L214.58,222.33 L215.54,221.63 L216.49,220.91 L217.44,220.18 L218.38,219.44 L219.3,218.7 L220.2,217.95 L221.08,217.17 L221.95,216.38 L222.81,215.59 L223.68,214.79 L224.54,213.98 L225.41,213.19 L226.3,212.4 L227.22,211.6 L228.2,210.77 L229.19,209.94 L230.18,209.11 L231.13,208.3 L232.04,207.54 L232.87,206.83 L233.6,206.2 L234.21,205.66 L234.73,205.21 L235.18,204.82 L235.57,204.46 L235.93,204.13 L236.27,203.79 L236.62,203.42 L237,203 L237.39,202.54 L237.78,202.06 L238.15,201.56 L238.53,201.05 L238.89,200.54 L239.26,200.02 L239.63,199.51 L240,199" stroke="#262626" stroke-width="1.0" fill="none" stroke-linejoin="round"/>
<path d="M109.8,219.5 L110.58,219.44 L111.37,219.27 L112.14,219 L112.92,218.66 L113.71,218.25 L114.5,217.79 L115.29,217.3 L116.1,216.8 L116.92,216.26 L117.75,215.67 L118.58,215.03 L119.42,214.35 L120.27,213.64 L121.12,212.9 L121.96,212.16 L122.8,211.4 L123.66,210.61 L124.55,209.77 L125.45,208.89 L126.35,208.01 L127.22,207.12 L128.05,206.26 L128.82,205.45 L129.5,204.7 L130.09,204.02 L130.6,203.38 L131.05,202.79 L131.45,202.22 L131.83,201.67 L132.2,201.13 L132.58,200.57 L133,200" stroke="#262626" stroke-width="1.0" fill="none" stroke-linejoin="round"/>
<path d="M152,200 L152.62,200.5 L153.22,201.01 L153.83,201.53 L154.43,202.04 L155.04,202.54 L155.67,203.04 L156.32,203.53 L157,204 L157.7,204.45 L158.4,204.88 L159.12,205.29 L159.86,205.7 L160.62,206.11 L161.42,206.52 L162.24,206.95 L163.1,207.4 L164.02,207.87 L165.01,208.36 L166.04,208.86 L167.1,209.36 L168.16,209.87 L169.19,210.39 L170.18,210.9 L171.1,211.4 L171.94,211.91 L172.73,212.43 L173.47,212.96 L174.19,213.48 L174.9,214 L175.63,214.49 L176.39,214.96 L177.2,215.4 L178.07,215.8 L178.97,216.18 L179.91,216.53 L180.86,216.86 L181.82,217.17 L182.77,217.48 L183.7,217.79 L184.6,218.1 L185.47,218.42 L186.32,218.74 L187.15,219.06 L187.98,219.37 L188.8,219.66 L189.63,219.94 L190.46,220.19 L191.3,220.4 L192.15,220.59 L193.01,220.76 L193.88,220.91 L194.74,221.04 L195.61,221.13 L196.48,221.2 L197.34,221.22 L198.2,221.2 L199.05,221.14 L199.91,221.03 L200.76,220.89 L201.61,220.72 L202.45,220.51 L203.3,220.27 L204.15,220 L205,219.7 L205.85,219.36 L206.7,218.99 L207.55,218.57 L208.4,218.13 L209.25,217.67 L210.1,217.19 L210.95,216.69 L211.8,216.2 L212.65,215.7 L213.48,215.19 L214.32,214.67 L215.16,214.13 L216,213.58 L216.85,213.01 L217.72,212.41 L218.6,211.8 L219.52,211.14 L220.48,210.42 L221.47,209.66 L222.46,208.89 L223.44,208.14 L224.38,207.42 L225.28,206.77 L226.1,206.2 L226.86,205.73 L227.58,205.34 L228.25,205.01 L228.89,204.72 L229.49,204.44 L230.06,204.16 L230.59,203.86 L231.1,203.5 L231.56,203.1 L231.97,202.68 L232.34,202.25 L232.68,201.8 L233,201.35 L233.32,200.89 L233.65,200.44 L234,200" stroke="#262626" stroke-width="1.0" fill="none" stroke-linejoin="round"/>
<path d="M250,200 L250.73,200.64 L251.43,201.31 L252.12,201.98 L252.81,202.66 L253.53,203.31 L254.29,203.93 L255.11,204.49 L256,205 L256.97,205.43 L258.01,205.8 L259.09,206.12 L260.22,206.4 L261.39,206.67 L262.58,206.93 L263.79,207.2 L265,207.5 L266.24,207.87 L267.53,208.3 L268.86,208.76 L270.2,209.21 L271.54,209.61 L272.87,209.92 L274.16,210.09 L275.4,210.1 L276.63,209.9 L277.87,209.51 L279.1,208.98 L280.3,208.37 L281.45,207.71 L282.53,207.07 L283.52,206.48 L284.4,206 L285.15,205.62 L285.78,205.29 L286.33,204.99 L286.8,204.71 L287.22,204.44 L287.62,204.16 L288,203.85 L288.4,203.5 L288.79,203.11 L289.15,202.7 L289.48,202.26 L289.79,201.81 L290.09,201.36 L290.38,200.9 L290.68,200.44 L291,200" stroke="#262626" stroke-width="1.0" fill="none" stroke-linejoin="round"/>
<path d="M242,200 L243,200.56 L244,201.11 L245,201.67 L246,202.22 L247,202.78 L248,203.34 L249,203.91 L250,204.5 L251.01,205.11 L252.02,205.73 L253.04,206.37 L254.06,207.01 L255.07,207.65 L256.07,208.29 L257.05,208.91 L258,209.5 L258.9,210.07 L259.74,210.61 L260.55,211.14 L261.35,211.66 L262.17,212.17 L263.03,212.7 L263.97,213.24 L265,213.8 L266.15,214.45 L267.39,215.2 L268.71,216.01 L270.07,216.8 L271.45,217.52 L272.82,218.12 L274.14,218.53 L275.4,218.7 L276.6,218.59 L277.78,218.25 L278.94,217.73 L280.08,217.08 L281.2,216.35 L282.29,215.59 L283.36,214.86 L284.4,214.2 L285.42,213.57 L286.42,212.9 L287.39,212.22 L288.34,211.52 L289.27,210.84 L290.17,210.18 L291.05,209.56 L291.9,209 L292.7,208.47 L293.45,207.96 L294.16,207.48 L294.85,207.03 L295.54,206.61 L296.25,206.25 L297,205.94 L297.8,205.7 L298.66,205.51 L299.56,205.37 L300.5,205.28 L301.45,205.24 L302.42,205.26 L303.39,205.34 L304.35,205.49 L305.3,205.7 L306.23,205.98 L307.14,206.34 L308.05,206.75 L308.96,207.23 L309.88,207.77 L310.83,208.36 L311.8,209.01 L312.8,209.7 L313.82,210.45 L314.83,211.28 L315.85,212.16 L316.91,213.09 L318,214.07 L319.15,215.09 L320.38,216.13 L321.7,217.2 L323.13,218.44 L324.66,219.93 L326.27,221.53 L327.94,223.12 L329.64,224.59 L331.35,225.79 L333.05,226.6 L334.7,226.9" stroke="#262626" stroke-width="1.0" fill="none" stroke-linejoin="round"/>
<path d="M311,200 L311.38,200.44 L311.73,200.85 L312.06,201.26 L312.39,201.66 L312.76,202.09 L313.19,202.56 L313.69,203.09 L314.3,203.7 L314.99,204.38 L315.73,205.11 L316.53,205.89 L317.39,206.72 L318.33,207.59 L319.36,208.49 L320.48,209.43 L321.7,210.4 L323.06,211.54 L324.56,212.91 L326.16,214.4 L327.85,215.88 L329.58,217.24 L331.32,218.36 L333.04,219.12 L334.7,219.4" stroke="#262626" stroke-width="1.0" fill="none" stroke-linejoin="round"/>
<path d="M109.8,312.1 L110.54,312.07 L111.21,311.98 L111.85,311.85 L112.51,311.68 L113.22,311.48 L114.03,311.26 L114.97,311.03 L116.1,310.8 L117.44,310.55 L118.95,310.27 L120.6,309.96 L122.36,309.64 L124.16,309.32 L125.98,309.01 L127.78,308.74 L129.5,308.5 L131.18,308.29 L132.85,308.08 L134.53,307.89 L136.2,307.72 L137.88,307.58 L139.55,307.48 L141.22,307.41 L142.9,307.4 L144.57,307.44 L146.25,307.54 L147.92,307.68 L149.59,307.85 L151.27,308.05 L152.94,308.26 L154.62,308.48 L156.3,308.7 L157.98,308.93 L159.67,309.19 L161.36,309.46 L163.05,309.75 L164.74,310.04 L166.43,310.31 L168.12,310.57 L169.8,310.8 L171.47,311 L173.12,311.18 L174.76,311.34 L176.41,311.49 L178.06,311.64 L179.74,311.79 L181.45,311.94 L183.2,312.1 L185.05,312.28 L187.03,312.46 L189.07,312.65 L191.11,312.84 L193.11,313.02 L194.99,313.2 L196.71,313.36 L198.2,313.5 L199.44,313.62 L200.48,313.71 L201.35,313.79 L202.11,313.86 L202.81,313.93 L203.49,314.01 L204.21,314.09 L205,314.2 L205.85,314.33 L206.68,314.46 L207.52,314.61 L208.36,314.76 L209.2,314.92 L210.05,315.08 L210.92,315.24 L211.8,315.4 L212.71,315.55 L213.64,315.71 L214.59,315.86 L215.55,316.01 L216.51,316.17 L217.46,316.34 L218.39,316.51 L219.3,316.7 L220.18,316.9 L221.03,317.13 L221.87,317.36 L222.7,317.6 L223.53,317.84 L224.37,318.07 L225.22,318.3 L226.1,318.5 L227.01,318.69 L227.94,318.88 L228.89,319.07 L229.85,319.24 L230.81,319.41 L231.76,319.56 L232.69,319.69 L233.6,319.8 L234.51,319.89 L235.44,319.95 L236.37,319.99 L237.29,320.01 L238.17,320.03 L238.99,320.05 L239.74,320.07 L240.4,320.1 L240.89,320.15 L241.2,320.21 L241.4,320.28 L241.56,320.35 L241.76,320.4 L242.07,320.44 L242.56,320.44 L243.3,320.4 L244.34,320.33 L245.64,320.23 L247.12,320.11 L248.71,319.96 L250.34,319.79 L251.93,319.59 L253.4,319.36 L254.7,319.1 L255.83,318.8 L256.87,318.47 L257.84,318.1 L258.76,317.7 L259.63,317.29 L260.49,316.86 L261.34,316.43 L262.2,316 L263.05,315.55 L263.87,315.07 L264.67,314.58 L265.45,314.07 L266.23,313.58 L267.03,313.11 L267.85,312.68 L268.7,312.3 L269.59,311.97 L270.5,311.67 L271.44,311.4 L272.39,311.16 L273.34,310.94 L274.3,310.74 L275.26,310.56 L276.2,310.4 L277.14,310.26 L278.08,310.17 L279.02,310.09 L279.96,310.04 L280.89,309.99 L281.83,309.94 L282.77,309.88 L283.7,309.8 L284.63,309.7 L285.57,309.59 L286.5,309.48 L287.44,309.36 L288.37,309.24 L289.29,309.12 L290.2,309 L291.1,308.9 L291.98,308.8 L292.85,308.7 L293.7,308.6 L294.55,308.51 L295.4,308.42 L296.25,308.34 L297.12,308.26 L298,308.2 L298.9,308.15 L299.81,308.1 L300.73,308.05 L301.66,308.02 L302.6,307.99 L303.53,307.98 L304.47,307.98 L305.4,308 L306.34,308.03 L307.28,308.07 L308.24,308.11 L309.19,308.18 L310.13,308.25 L311.07,308.35 L312,308.46 L312.9,308.6 L313.78,308.77 L314.63,308.96 L315.47,309.18 L316.3,309.42 L317.13,309.66 L317.97,309.91 L318.82,310.16 L319.7,310.4 L320.6,310.64 L321.53,310.88 L322.46,311.14 L323.41,311.39 L324.36,311.63 L325.31,311.87 L326.26,312.1 L327.2,312.3 L328.14,312.5 L329.07,312.71 L330.01,312.91 L330.95,313.09 L331.89,313.26 L332.82,313.39 L333.76,313.47 L334.7,313.5" stroke="#262626" stroke-width="1.0" fill="none" stroke-linejoin="round"/>
<path d="M109.8,316.1 L111.42,316.02 L113.04,315.82 L114.66,315.52 L116.28,315.16 L117.9,314.77 L119.52,314.39 L121.16,314.06 L122.8,313.8 L124.46,313.6 L126.12,313.43 L127.8,313.28 L129.47,313.14 L131.16,313.03 L132.84,312.94 L134.52,312.86 L136.2,312.8 L137.87,312.76 L139.55,312.73 L141.22,312.72 L142.89,312.73 L144.57,312.76 L146.24,312.81 L147.92,312.89 L149.6,313 L151.28,313.15 L152.97,313.34 L154.66,313.57 L156.35,313.81 L158.04,314.07 L159.73,314.33 L161.42,314.57 L163.1,314.8 L164.78,315.01 L166.46,315.23 L168.13,315.44 L169.81,315.64 L171.48,315.85 L173.15,316.04 L174.83,316.23 L176.5,316.4 L178.21,316.57 L179.97,316.73 L181.75,316.88 L183.52,317.03 L185.25,317.16 L186.91,317.29 L188.47,317.4 L189.9,317.5 L191.19,317.58 L192.37,317.64 L193.45,317.69 L194.46,317.73 L195.42,317.77 L196.35,317.8 L197.27,317.85 L198.2,317.9 L199.12,317.96 L200.01,318.01 L200.86,318.07 L201.69,318.12 L202.52,318.19 L203.34,318.27 L204.16,318.38 L205,318.5 L205.85,318.65 L206.68,318.82 L207.52,319 L208.36,319.2 L209.2,319.41 L210.05,319.63 L210.92,319.86 L211.8,320.1 L212.71,320.35 L213.64,320.63 L214.59,320.93 L215.55,321.23 L216.51,321.52 L217.46,321.81 L218.39,322.07 L219.3,322.3 L220.18,322.5 L221.03,322.68 L221.87,322.85 L222.7,323 L223.53,323.14 L224.37,323.27 L225.22,323.39 L226.1,323.5 L227.01,323.61 L227.94,323.72 L228.89,323.82 L229.85,323.91 L230.81,323.99 L231.76,324.05 L232.69,324.09 L233.6,324.1 L234.51,324.09 L235.44,324.04 L236.37,323.98 L237.29,323.9 L238.17,323.81 L238.99,323.71 L239.74,323.6 L240.4,323.5 L240.89,323.39 L241.2,323.28 L241.4,323.15 L241.56,323.02 L241.76,322.89 L242.07,322.75 L242.56,322.62 L243.3,322.5 L244.34,322.39 L245.64,322.29 L247.12,322.19 L248.71,322.1 L250.34,322 L251.93,321.89 L253.4,321.75 L254.7,321.6 L255.83,321.43 L256.87,321.24 L257.84,321.05 L258.76,320.84 L259.63,320.61 L260.49,320.36 L261.34,320.09 L262.2,319.8 L263.05,319.46 L263.87,319.07 L264.67,318.65 L265.45,318.22 L266.23,317.79 L267.03,317.38 L267.85,317.01 L268.7,316.7 L269.59,316.45 L270.5,316.24 L271.44,316.07 L272.39,315.92 L273.34,315.79 L274.3,315.66 L275.26,315.54 L276.2,315.4 L277.14,315.26 L278.08,315.13 L279.02,315 L279.96,314.88 L280.89,314.75 L281.83,314.64 L282.77,314.52 L283.7,314.4 L284.63,314.28 L285.57,314.16 L286.5,314.04 L287.44,313.92 L288.37,313.81 L289.29,313.7 L290.2,313.6 L291.1,313.5 L291.98,313.41 L292.85,313.32 L293.7,313.24 L294.55,313.16 L295.4,313.08 L296.25,313.01 L297.12,312.95 L298,312.9 L298.9,312.85 L299.81,312.81 L300.73,312.78 L301.66,312.75 L302.6,312.73 L303.53,312.71 L304.47,312.7 L305.4,312.7 L306.34,312.7 L307.28,312.7 L308.24,312.71 L309.19,312.72 L310.13,312.75 L311.07,312.78 L312,312.83 L312.9,312.9 L313.78,312.98 L314.63,313.06 L315.47,313.15 L316.3,313.26 L317.13,313.38 L317.97,313.53 L318.82,313.7 L319.7,313.9 L320.6,314.16 L321.53,314.47 L322.46,314.82 L323.41,315.19 L324.36,315.56 L325.31,315.89 L326.26,316.18 L327.2,316.4 L328.14,316.55 L329.07,316.64 L330.01,316.7 L330.95,316.72 L331.89,316.73 L332.82,316.72 L333.76,316.71 L334.7,316.7" stroke="#262626" stroke-width="1.0" fill="none" stroke-linejoin="round"/>
<path d="M109.8,322 L111.18,321.93 L112.47,321.75 L113.71,321.51 L114.98,321.24 L116.32,321 L117.8,320.81 L119.48,320.73 L121.4,320.8 L123.62,321.03 L126.11,321.4 L128.79,321.86 L131.61,322.39 L134.5,322.95 L137.38,323.51 L140.21,324.04 L142.9,324.5 L145.49,324.92 L148.04,325.33 L150.57,325.73 L153.09,326.12 L155.59,326.49 L158.09,326.85 L160.59,327.19 L163.1,327.5 L165.65,327.79 L168.25,328.05 L170.87,328.28 L173.47,328.51 L176.04,328.71 L178.54,328.91 L180.93,329.11 L183.2,329.3 L185.23,329.49 L187.01,329.67 L188.63,329.84 L190.21,330 L191.85,330.16 L193.66,330.31 L195.74,330.46 L198.2,330.6 L201.16,330.73 L204.59,330.84 L208.32,330.93 L212.19,331.03 L216.07,331.13 L219.78,331.25 L223.18,331.41 L226.1,331.6 L228.62,331.86 L230.9,332.17 L232.96,332.53 L234.81,332.9 L236.47,333.27 L237.95,333.6 L239.25,333.89 L240.4,334.1 L241.25,334.26 L241.73,334.41 L241.95,334.53 L242.03,334.61 L242.09,334.63 L242.24,334.6 L242.61,334.49 L243.3,334.3 L244.34,333.99 L245.64,333.56 L247.12,333.04 L248.71,332.46 L250.34,331.87 L251.93,331.29 L253.4,330.75 L254.7,330.3 L255.82,329.91 L256.84,329.55 L257.78,329.21 L258.67,328.89 L259.54,328.61 L260.4,328.34 L261.27,328.11 L262.2,327.9 L263.12,327.73 L263.99,327.6 L264.84,327.51 L265.71,327.44 L266.63,327.38 L267.63,327.33 L268.74,327.27 L270,327.2 L271.43,327.13 L273,327.07 L274.68,327.02 L276.44,326.97 L278.26,326.92 L280.09,326.84 L281.92,326.74 L283.7,326.6 L285.45,326.43 L287.22,326.23 L288.99,326 L290.77,325.76 L292.57,325.51 L294.37,325.24 L296.18,324.97 L298,324.7 L299.89,324.42 L301.87,324.12 L303.9,323.81 L305.92,323.5 L307.88,323.19 L309.73,322.88 L311.42,322.58 L312.9,322.3 L314.13,322.03 L315.15,321.78 L316.01,321.52 L316.76,321.28 L317.45,321.05 L318.14,320.82 L318.87,320.61 L319.7,320.4 L320.6,320.2 L321.53,320.02 L322.46,319.84 L323.41,319.67 L324.36,319.51 L325.31,319.36 L326.26,319.22 L327.2,319.1 L328.14,318.98 L329.07,318.87 L330.01,318.77 L330.95,318.68 L331.89,318.61 L332.82,318.55 L333.76,318.51 L334.7,318.5" stroke="#262626" stroke-width="1.0" fill="none" stroke-linejoin="round"/>
<path d="M109.8,323.5 L110.58,323.48 L111.35,323.41 L112.13,323.32 L112.91,323.22 L113.69,323.12 L114.46,323.04 L115.23,323 L116,323 L116.75,323.03 L117.48,323.07 L118.2,323.12 L118.92,323.21 L119.65,323.32 L120.4,323.49 L121.18,323.71 L122,324 L122.83,324.38 L123.63,324.84 L124.44,325.38 L125.29,325.95 L126.19,326.54 L127.17,327.13 L128.27,327.69 L129.5,328.2 L130.89,328.68 L132.44,329.15 L134.09,329.61 L135.83,330.06 L137.62,330.49 L139.41,330.9 L141.18,331.27 L142.9,331.6 L144.57,331.9 L146.25,332.16 L147.92,332.4 L149.59,332.61 L151.27,332.8 L152.94,332.95 L154.62,333.09 L156.3,333.2 L157.98,333.28 L159.67,333.33 L161.36,333.34 L163.05,333.34 L164.74,333.31 L166.43,333.28 L168.12,333.24 L169.8,333.2 L171.47,333.15 L173.12,333.09 L174.76,333.01 L176.41,332.93 L178.06,332.84 L179.74,332.75 L181.45,332.67 L183.2,332.6 L185.05,332.53 L187.03,332.47 L189.07,332.4 L191.11,332.34 L193.11,332.28 L194.99,332.24 L196.71,332.21 L198.2,332.2 L199.44,332.21 L200.48,332.25 L201.35,332.31 L202.11,332.38 L202.81,332.44 L203.49,332.51 L204.21,332.56 L205,332.6 L205.85,332.61 L206.68,332.61 L207.52,332.59 L208.36,332.58 L209.2,332.56 L210.05,332.55 L210.92,332.56 L211.8,332.6 L212.71,332.65 L213.64,332.72 L214.59,332.79 L215.55,332.88 L216.51,332.98 L217.46,333.1 L218.39,333.24 L219.3,333.4 L220.18,333.58 L221.03,333.79 L221.87,334.01 L222.7,334.26 L223.53,334.51 L224.37,334.77 L225.22,335.04 L226.1,335.3 L227.01,335.58 L227.94,335.87 L228.89,336.18 L229.85,336.49 L230.81,336.8 L231.76,337.09 L232.69,337.36 L233.6,337.6 L234.51,337.82 L235.44,338.03 L236.37,338.23 L237.29,338.41 L238.17,338.56 L238.99,338.68 L239.74,338.76 L240.4,338.8 L240.94,338.77 L241.38,338.69 L241.73,338.55 L242.03,338.39 L242.31,338.21 L242.6,338.05 L242.92,337.9 L243.3,337.8 L243.72,337.75 L244.12,337.75 L244.53,337.77 L244.96,337.79 L245.43,337.81 L245.95,337.79 L246.53,337.73 L247.2,337.6 L247.97,337.39 L248.82,337.12 L249.75,336.8 L250.72,336.44 L251.73,336.08 L252.74,335.72 L253.74,335.39 L254.7,335.1 L255.64,334.84 L256.6,334.59 L257.56,334.36 L258.51,334.13 L259.46,333.92 L260.4,333.73 L261.31,333.55 L262.2,333.4 L263,333.27 L263.7,333.16 L264.34,333.07 L264.98,332.99 L265.68,332.93 L266.5,332.88 L267.49,332.84 L268.7,332.8 L270.17,332.78 L271.87,332.79 L273.73,332.81 L275.71,332.84 L277.75,332.86 L279.8,332.87 L281.8,332.85 L283.7,332.8 L285.57,332.71 L287.49,332.6 L289.42,332.47 L291.32,332.32 L293.17,332.15 L294.93,331.98 L296.55,331.79 L298,331.6 L299.25,331.4 L300.33,331.2 L301.28,330.99 L302.12,330.77 L302.92,330.53 L303.7,330.28 L304.52,330 L305.4,329.7 L306.34,329.38 L307.28,329.05 L308.24,328.71 L309.19,328.34 L310.13,327.95 L311.07,327.54 L312,327.09 L312.9,326.6 L313.73,326.05 L314.46,325.44 L315.14,324.78 L315.83,324.1 L316.58,323.42 L317.44,322.76 L318.46,322.15 L319.7,321.6 L321.18,321.08 L322.87,320.55 L324.72,320.03 L326.69,319.54 L328.71,319.12 L330.76,318.79 L332.77,318.58 L334.7,318.5" stroke="#262626" stroke-width="1.0" fill="none" stroke-linejoin="round"/>
<path d="M109.8,321 L110.58,321.04 L111.37,321.17 L112.16,321.37 L112.95,321.62 L113.73,321.93 L114.51,322.27 L115.26,322.63 L116,323 L116.71,323.39 L117.38,323.82 L118.03,324.29 L118.68,324.78 L119.32,325.3 L119.98,325.85 L120.67,326.41 L121.4,327 L122.17,327.63 L122.96,328.32 L123.77,329.04 L124.61,329.78 L125.45,330.52 L126.3,331.23 L127.15,331.9 L128,332.5 L128.84,333.03 L129.66,333.52 L130.49,333.96 L131.32,334.38 L132.17,334.78 L133.04,335.18 L133.95,335.58 L134.9,336 L135.92,336.42 L137,336.83 L138.12,337.23 L139.26,337.62 L140.4,338.03 L141.52,338.46 L142.6,338.91 L143.6,339.4 L144.53,339.93 L145.42,340.48 L146.26,341.07 L147.07,341.67 L147.88,342.28 L148.67,342.89 L149.48,343.5 L150.3,344.1 L151.14,344.69 L151.98,345.29 L152.81,345.89 L153.65,346.49 L154.49,347.09 L155.33,347.67 L156.16,348.25 L157,348.8 L157.84,349.34 L158.67,349.87 L159.51,350.38 L160.34,350.89 L161.18,351.38 L162.02,351.87 L162.86,352.34 L163.7,352.8 L164.55,353.25 L165.4,353.69 L166.25,354.12 L167.1,354.53 L167.95,354.94 L168.8,355.33 L169.65,355.72 L170.5,356.1 L171.34,356.47 L172.18,356.83 L173.02,357.19 L173.86,357.53 L174.69,357.87 L175.53,358.19 L176.36,358.5 L177.2,358.8 L178.03,359.09 L178.86,359.36 L179.68,359.63 L180.51,359.88 L181.34,360.12 L182.18,360.36 L183.03,360.58 L183.9,360.8 L184.79,361.01 L185.71,361.22 L186.65,361.41 L187.59,361.6 L188.53,361.77 L189.47,361.93 L190.39,362.08 L191.3,362.2 L192.19,362.3 L193.06,362.39 L193.93,362.46 L194.79,362.52 L195.64,362.56 L196.49,362.59 L197.35,362.6 L198.2,362.6 L199.05,362.59 L199.91,362.55 L200.76,362.51 L201.61,362.45 L202.45,362.38 L203.3,362.3 L204.15,362.2 L205,362.1 L205.85,361.99 L206.68,361.88 L207.52,361.76 L208.36,361.63 L209.2,361.48 L210.05,361.31 L210.92,361.12 L211.8,360.9 L212.71,360.65 L213.64,360.38 L214.59,360.08 L215.55,359.77 L216.51,359.44 L217.46,359.1 L218.39,358.75 L219.3,358.4 L220.18,358.04 L221.03,357.67 L221.87,357.29 L222.7,356.91 L223.53,356.51 L224.37,356.11 L225.22,355.71 L226.1,355.3 L227.01,354.89 L227.94,354.47 L228.89,354.05 L229.85,353.62 L230.81,353.2 L231.76,352.76 L232.69,352.33 L233.6,351.9 L234.51,351.45 L235.44,350.99 L236.37,350.51 L237.29,350.03 L238.17,349.57 L238.99,349.14 L239.74,348.74 L240.4,348.4 L240.94,348.11 L241.38,347.86 L241.73,347.64 L242.03,347.45 L242.31,347.29 L242.6,347.14 L242.92,347.02 L243.3,346.9 L243.72,346.8 L244.12,346.73 L244.53,346.69 L244.96,346.66 L245.43,346.64 L245.95,346.63 L246.53,346.61 L247.2,346.6 L247.97,346.57 L248.82,346.54 L249.75,346.5 L250.72,346.47 L251.73,346.45 L252.74,346.47 L253.74,346.51 L254.7,346.6 L255.64,346.73 L256.6,346.89 L257.56,347.09 L258.51,347.31 L259.46,347.55 L260.4,347.82 L261.31,348.1 L262.2,348.4 L263.05,348.73 L263.87,349.1 L264.67,349.49 L265.45,349.91 L266.23,350.32 L267.03,350.74 L267.85,351.13 L268.7,351.5 L269.59,351.88 L270.52,352.3 L271.47,352.73 L272.43,353.14 L273.39,353.5 L274.35,353.78 L275.29,353.96 L276.2,354 L277.08,353.89 L277.93,353.66 L278.77,353.33 L279.6,352.91 L280.43,352.44 L281.27,351.93 L282.12,351.41 L283,350.9 L283.9,350.37 L284.83,349.79 L285.76,349.17 L286.71,348.53 L287.66,347.88 L288.61,347.23 L289.56,346.6 L290.5,346 L291.44,345.42 L292.39,344.85 L293.34,344.28 L294.29,343.73 L295.24,343.18 L296.17,342.64 L297.1,342.11 L298,341.6 L298.88,341.11 L299.73,340.65 L300.57,340.21 L301.4,339.78 L302.23,339.34 L303.07,338.89 L303.92,338.42 L304.8,337.9 L305.7,337.35 L306.63,336.79 L307.57,336.2 L308.51,335.59 L309.46,334.97 L310.42,334.33 L311.36,333.67 L312.3,333 L313.23,332.29 L314.16,331.53 L315.09,330.74 L316.01,329.94 L316.94,329.15 L317.86,328.39 L318.78,327.66 L319.7,327 L320.61,326.38 L321.52,325.79 L322.43,325.22 L323.33,324.69 L324.24,324.19 L325.15,323.74 L326.07,323.34 L327,323 L327.94,322.72 L328.9,322.49 L329.86,322.32 L330.83,322.19 L331.79,322.1 L332.77,322.04 L333.73,322.01 L334.7,322" stroke="#262626" stroke-width="1.0" fill="none" stroke-linejoin="round"/>
<path d="M109.8,324 L110.58,324.04 L111.38,324.17 L112.18,324.37 L112.98,324.62 L113.76,324.93 L114.53,325.27 L115.28,325.63 L116,326 L116.66,326.39 L117.25,326.81 L117.81,327.27 L118.36,327.75 L118.92,328.27 L119.53,328.81 L120.22,329.39 L121,330 L121.91,330.67 L122.92,331.41 L124.01,332.19 L125.14,333 L126.29,333.81 L127.42,334.59 L128.5,335.33 L129.5,336 L130.42,336.6 L131.29,337.14 L132.11,337.64 L132.92,338.12 L133.72,338.58 L134.52,339.04 L135.34,339.51 L136.2,340 L137.1,340.51 L138.02,341.02 L138.95,341.53 L139.9,342.05 L140.85,342.57 L141.78,343.08 L142.7,343.59 L143.6,344.1 L144.47,344.6 L145.32,345.09 L146.16,345.58 L146.99,346.06 L147.82,346.55 L148.64,347.05 L149.47,347.57 L150.3,348.1 L151.14,348.66 L151.98,349.24 L152.81,349.84 L153.65,350.45 L154.49,351.06 L155.33,351.66 L156.16,352.24 L157,352.8 L157.84,353.34 L158.67,353.86 L159.51,354.38 L160.34,354.88 L161.18,355.37 L162.02,355.86 L162.86,356.33 L163.7,356.8 L164.55,357.25 L165.4,357.69 L166.25,358.12 L167.1,358.54 L167.95,358.96 L168.8,359.37 L169.65,359.78 L170.5,360.2 L171.34,360.63 L172.18,361.06 L173.02,361.5 L173.86,361.94 L174.69,362.36 L175.53,362.77 L176.36,363.15 L177.2,363.5 L178.03,363.82 L178.86,364.11 L179.68,364.37 L180.51,364.62 L181.34,364.85 L182.18,365.07 L183.03,365.29 L183.9,365.5 L184.79,365.71 L185.71,365.91 L186.65,366.1 L187.59,366.28 L188.53,366.45 L189.47,366.61 L190.39,366.76 L191.3,366.9 L192.19,367.03 L193.06,367.15 L193.93,367.27 L194.79,367.37 L195.64,367.46 L196.49,367.53 L197.35,367.57 L198.2,367.6 L199.05,367.59 L199.91,367.55 L200.76,367.48 L201.61,367.39 L202.45,367.3 L203.3,367.22 L204.15,367.15 L205,367.1 L205.85,367.09 L206.68,367.1 L207.52,367.13 L208.36,367.16 L209.2,367.19 L210.05,367.19 L210.92,367.17 L211.8,367.1 L212.71,366.99 L213.64,366.86 L214.59,366.71 L215.55,366.53 L216.51,366.33 L217.46,366.11 L218.39,365.86 L219.3,365.6 L220.18,365.31 L221.03,364.99 L221.87,364.65 L222.7,364.29 L223.53,363.91 L224.37,363.51 L225.22,363.11 L226.1,362.7 L227.01,362.28 L227.94,361.83 L228.89,361.37 L229.85,360.9 L230.81,360.42 L231.76,359.94 L232.69,359.47 L233.6,359 L234.51,358.52 L235.44,358.02 L236.37,357.51 L237.29,357 L238.17,356.51 L238.99,356.06 L239.74,355.65 L240.4,355.3 L240.94,355.02 L241.38,354.79 L241.73,354.61 L242.03,354.46 L242.31,354.33 L242.6,354.22 L242.92,354.11 L243.3,354 L243.72,353.88 L244.12,353.76 L244.53,353.65 L244.96,353.56 L245.43,353.48 L245.95,353.42 L246.53,353.39 L247.2,353.4 L247.97,353.45 L248.82,353.53 L249.75,353.64 L250.72,353.77 L251.73,353.92 L252.74,354.08 L253.74,354.24 L254.7,354.4 L255.64,354.56 L256.58,354.73 L257.52,354.91 L258.46,355.09 L259.39,355.29 L260.33,355.49 L261.27,355.69 L262.2,355.9 L263.14,356.13 L264.08,356.38 L265.02,356.64 L265.96,356.9 L266.89,357.16 L267.81,357.4 L268.71,357.62 L269.6,357.8 L270.46,357.98 L271.29,358.16 L272.09,358.35 L272.89,358.51 L273.69,358.62 L274.51,358.67 L275.34,358.64 L276.2,358.5 L277.1,358.24 L278.01,357.88 L278.95,357.43 L279.9,356.92 L280.86,356.37 L281.81,355.8 L282.76,355.23 L283.7,354.7 L284.63,354.18 L285.57,353.64 L286.5,353.09 L287.44,352.53 L288.37,351.97 L289.29,351.41 L290.2,350.85 L291.1,350.3 L291.98,349.76 L292.85,349.23 L293.7,348.71 L294.55,348.19 L295.4,347.66 L296.25,347.12 L297.12,346.57 L298,346 L298.9,345.4 L299.81,344.79 L300.73,344.15 L301.66,343.51 L302.6,342.86 L303.53,342.22 L304.47,341.6 L305.4,341 L306.34,340.43 L307.28,339.89 L308.22,339.36 L309.17,338.84 L310.11,338.31 L311.05,337.77 L311.98,337.2 L312.9,336.6 L313.81,335.95 L314.71,335.27 L315.6,334.56 L316.48,333.84 L317.36,333.11 L318.24,332.39 L319.12,331.68 L320,331 L320.88,330.33 L321.74,329.66 L322.6,328.99 L323.46,328.34 L324.33,327.7 L325.2,327.1 L326.09,326.53 L327,326 L327.93,325.49 L328.88,324.97 L329.84,324.46 L330.81,324 L331.78,323.6 L332.76,323.28 L333.73,323.07 L334.7,323" stroke="#262626" stroke-width="1.0" fill="none" stroke-linejoin="round"/>
<path d="M109.8,326 L111.08,326.12 L112.35,326.45 L113.63,326.97 L114.91,327.62 L116.19,328.39 L117.46,329.23 L118.73,330.12 L120,331 L121.26,331.95 L122.51,333.02 L123.76,334.17 L125.01,335.38 L126.26,336.6 L127.5,337.8 L128.75,338.94 L130,340 L131.25,340.98 L132.5,341.94 L133.75,342.86 L135,343.75 L136.25,344.61 L137.5,345.44 L138.75,346.23 L140,347 L141.22,347.72 L142.38,348.39 L143.53,349.02 L144.69,349.62 L145.88,350.21 L147.15,350.8 L148.51,351.39 L150,352 L151.64,352.63 L153.4,353.27 L155.26,353.92 L157.19,354.56 L159.16,355.2 L161.13,355.82 L163.09,356.42 L165,357 L166.85,357.55 L168.68,358.09 L170.48,358.62 L172.3,359.12 L174.14,359.62 L176.03,360.09 L177.97,360.55 L180,361 L182.15,361.44 L184.43,361.87 L186.79,362.29 L189.19,362.69 L191.57,363.07 L193.9,363.42 L196.12,363.73 L198.2,364 L200.16,364.2 L202.07,364.34 L203.9,364.43 L205.67,364.5 L207.35,364.56 L208.94,364.63 L210.42,364.74 L211.8,364.9 L213.03,365.11 L214.12,365.34 L215.09,365.59 L215.98,365.86 L216.81,366.15 L217.62,366.46 L218.44,366.77 L219.3,367.1 L220.18,367.45 L221.03,367.83 L221.87,368.22 L222.7,368.63 L223.53,369.04 L224.37,369.45 L225.22,369.84 L226.1,370.2 L226.99,370.56 L227.87,370.93 L228.76,371.29 L229.67,371.64 L230.6,371.97 L231.55,372.26 L232.55,372.51 L233.6,372.7 L234.7,372.84 L235.83,372.93 L237,372.99 L238.21,373.01 L239.44,372.99 L240.7,372.93 L241.99,372.84 L243.3,372.7 L244.67,372.51 L246.12,372.26 L247.62,371.97 L249.14,371.64 L250.64,371.29 L252.08,370.93 L253.45,370.56 L254.7,370.2 L255.82,369.84 L256.85,369.47 L257.8,369.08 L258.7,368.69 L259.57,368.29 L260.42,367.89 L261.29,367.49 L262.2,367.1 L263.14,366.68 L264.08,366.22 L265.02,365.75 L265.96,365.28 L266.89,364.85 L267.81,364.47 L268.71,364.18 L269.6,364 L270.46,363.98 L271.29,364.13 L272.09,364.38 L272.89,364.67 L273.69,364.96 L274.51,365.19 L275.34,365.28 L276.2,365.2 L277.1,364.93 L278.01,364.54 L278.95,364.05 L279.9,363.47 L280.86,362.85 L281.81,362.2 L282.76,361.54 L283.7,360.9 L284.63,360.25 L285.57,359.56 L286.5,358.84 L287.44,358.11 L288.37,357.37 L289.29,356.65 L290.2,355.95 L291.1,355.3 L291.98,354.7 L292.85,354.14 L293.7,353.61 L294.55,353.1 L295.4,352.59 L296.25,352.06 L297.12,351.5 L298,350.9 L298.9,350.25 L299.81,349.55 L300.73,348.83 L301.66,348.09 L302.6,347.36 L303.53,346.64 L304.47,345.95 L305.4,345.3 L306.33,344.7 L307.27,344.14 L308.21,343.6 L309.15,343.08 L310.09,342.56 L311.03,342.05 L311.97,341.53 L312.9,341 L313.83,340.46 L314.77,339.94 L315.71,339.41 L316.65,338.88 L317.58,338.34 L318.5,337.79 L319.41,337.21 L320.3,336.6 L321.16,335.95 L322,335.25 L322.82,334.52 L323.63,333.78 L324.45,333.04 L325.27,332.32 L326.12,331.63 L327,331 L327.91,330.37 L328.85,329.7 L329.81,329.03 L330.79,328.4 L331.77,327.84 L332.75,327.4 L333.73,327.11 L334.7,327" stroke="#262626" stroke-width="1.0" fill="none" stroke-linejoin="round"/>
<path d="M109.8,345 L111.04,345.01 L112.24,345.04 L113.41,345.1 L114.6,345.19 L115.82,345.32 L117.11,345.49 L118.5,345.72 L120,346 L121.65,346.34 L123.41,346.74 L125.27,347.19 L127.2,347.69 L129.16,348.22 L131.14,348.79 L133.09,349.38 L135,350 L136.88,350.65 L138.75,351.34 L140.62,352.06 L142.5,352.81 L144.38,353.59 L146.25,354.38 L148.12,355.19 L150,356 L151.88,356.83 L153.75,357.68 L155.62,358.55 L157.5,359.44 L159.38,360.33 L161.25,361.23 L163.12,362.12 L165,363 L166.85,363.88 L168.68,364.76 L170.48,365.65 L172.3,366.54 L174.14,367.42 L176.03,368.29 L177.97,369.15 L180,370 L182.2,370.88 L184.59,371.81 L187.09,372.75 L189.61,373.68 L192.07,374.54 L194.38,375.31 L196.45,375.94 L198.2,376.4 L199.6,376.67 L200.7,376.76 L201.58,376.73 L202.31,376.59 L202.95,376.4 L203.57,376.18 L204.23,375.97 L205,375.8 L205.85,375.65 L206.68,375.47 L207.52,375.27 L208.36,375.06 L209.2,374.84 L210.05,374.64 L210.92,374.46 L211.8,374.3 L212.71,374.16 L213.64,374.03 L214.59,373.9 L215.55,373.79 L216.51,373.7 L217.46,373.64 L218.39,373.6 L219.3,373.6 L220.18,373.64 L221.03,373.73 L221.87,373.85 L222.7,373.99 L223.53,374.15 L224.37,374.31 L225.22,374.46 L226.1,374.6 L226.99,374.73 L227.87,374.87 L228.76,375.01 L229.67,375.15 L230.6,375.28 L231.55,375.41 L232.55,375.51 L233.6,375.6 L234.7,375.68 L235.83,375.76 L237,375.83 L238.21,375.88 L239.44,375.91 L240.7,375.92 L241.99,375.88 L243.3,375.8 L244.67,375.68 L246.12,375.51 L247.62,375.32 L249.14,375.09 L250.64,374.84 L252.08,374.55 L253.45,374.24 L254.7,373.9 L255.82,373.52 L256.85,373.1 L257.8,372.64 L258.7,372.16 L259.57,371.67 L260.42,371.17 L261.29,370.67 L262.2,370.2 L263.09,369.74 L263.92,369.29 L264.72,368.85 L265.53,368.4 L266.39,367.95 L267.33,367.48 L268.39,367 L269.6,366.5 L270.98,366.01 L272.49,365.56 L274.12,365.11 L275.83,364.64 L277.59,364.13 L279.4,363.53 L281.21,362.83 L283,362 L284.81,361.01 L286.66,359.86 L288.55,358.61 L290.46,357.28 L292.38,355.92 L294.28,354.56 L296.16,353.24 L298,352 L299.81,350.82 L301.62,349.66 L303.41,348.51 L305.19,347.38 L306.94,346.26 L308.66,345.16 L310.35,344.07 L312,343 L313.6,341.93 L315.17,340.86 L316.7,339.79 L318.21,338.75 L319.68,337.74 L321.14,336.77 L322.58,335.85 L324,335 L325.4,334.16 L326.77,333.3 L328.11,332.47 L329.43,331.69 L330.74,331.01 L332.06,330.48 L333.37,330.13 L334.7,330" stroke="#262626" stroke-width="1.0" fill="none" stroke-linejoin="round"/>
<path d="M109.8,347.4 L110.58,347.39 L111.37,347.37 L112.14,347.34 L112.92,347.31 L113.71,347.3 L114.5,347.3 L115.29,347.33 L116.1,347.4 L116.92,347.5 L117.75,347.62 L118.58,347.77 L119.42,347.94 L120.27,348.13 L121.12,348.33 L121.96,348.56 L122.8,348.8 L123.64,349.05 L124.47,349.32 L125.31,349.59 L126.15,349.89 L126.99,350.22 L127.83,350.57 L128.66,350.97 L129.5,351.4 L130.33,351.89 L131.16,352.43 L131.98,353.01 L132.81,353.62 L133.64,354.25 L134.48,354.88 L135.33,355.5 L136.2,356.1 L137.1,356.7 L138.02,357.31 L138.95,357.92 L139.9,358.53 L140.85,359.13 L141.78,359.72 L142.7,360.27 L143.6,360.8 L144.47,361.29 L145.32,361.74 L146.16,362.17 L146.99,362.58 L147.82,362.98 L148.64,363.38 L149.47,363.78 L150.3,364.2 L151.14,364.63 L151.98,365.05 L152.81,365.48 L153.65,365.91 L154.49,366.33 L155.33,366.76 L156.16,367.18 L157,367.6 L157.84,368.02 L158.67,368.45 L159.51,368.87 L160.34,369.29 L161.18,369.71 L162.02,370.12 L162.86,370.52 L163.7,370.9 L164.55,371.27 L165.4,371.62 L166.25,371.96 L167.1,372.29 L167.95,372.61 L168.8,372.94 L169.65,373.27 L170.5,373.6 L171.34,373.94 L172.18,374.29 L173.02,374.64 L173.86,374.99 L174.69,375.34 L175.53,375.67 L176.36,376 L177.2,376.3 L178.03,376.59 L178.86,376.87 L179.68,377.13 L180.51,377.39 L181.34,377.63 L182.18,377.87 L183.03,378.09 L183.9,378.3 L184.79,378.5 L185.71,378.69 L186.65,378.87 L187.59,379.03 L188.53,379.19 L189.47,379.33 L190.39,379.47 L191.3,379.6 L192.19,379.71 L193.06,379.78 L193.93,379.84 L194.79,379.89 L195.64,379.95 L196.49,380.03 L197.35,380.14 L198.2,380.3 L199.05,380.52 L199.91,380.79 L200.76,381.09 L201.61,381.41 L202.45,381.74 L203.3,382.06 L204.15,382.35 L205,382.6 L205.84,382.8 L206.67,382.96 L207.49,383.1 L208.31,383.23 L209.15,383.36 L210,383.51 L210.88,383.68 L211.8,383.9 L212.76,384.16 L213.75,384.46 L214.77,384.78 L215.81,385.12 L216.86,385.47 L217.92,385.82 L218.97,386.17 L220,386.5" stroke="#262626" stroke-width="1.0" fill="none" stroke-linejoin="round"/>
<path d="M109.8,350.1 L110.58,350.2 L111.37,350.48 L112.14,350.87 L112.92,351.32 L113.71,351.8 L114.5,352.24 L115.29,352.59 L116.1,352.8 L116.92,352.85 L117.75,352.78 L118.58,352.64 L119.42,352.45 L120.27,352.26 L121.12,352.12 L121.96,352.05 L122.8,352.1 L123.64,352.27 L124.47,352.52 L125.31,352.83 L126.15,353.19 L126.99,353.59 L127.83,354 L128.66,354.41 L129.5,354.8 L130.33,355.19 L131.16,355.6 L131.98,356.03 L132.81,356.46 L133.64,356.9 L134.48,357.34 L135.33,357.78 L136.2,358.2 L137.1,358.61 L138.02,359.02 L138.95,359.41 L139.9,359.81 L140.85,360.22 L141.78,360.63 L142.7,361.05 L143.6,361.5 L144.47,361.97 L145.32,362.46 L146.16,362.98 L146.99,363.49 L147.82,364.01 L148.64,364.53 L149.47,365.02 L150.3,365.5 L151.14,365.95 L151.98,366.39 L152.81,366.82 L153.65,367.24 L154.49,367.65 L155.33,368.06 L156.16,368.48 L157,368.9 L157.84,369.33 L158.67,369.75 L159.51,370.18 L160.34,370.61 L161.18,371.03 L162.02,371.46 L162.86,371.88 L163.7,372.3 L164.55,372.72 L165.4,373.15 L166.25,373.57 L167.1,373.99 L167.95,374.41 L168.8,374.82 L169.65,375.22 L170.5,375.6 L171.34,375.97 L172.18,376.33 L173.02,376.69 L173.86,377.03 L174.69,377.37 L175.53,377.69 L176.36,378 L177.2,378.3 L178.03,378.59 L178.86,378.86 L179.68,379.13 L180.51,379.38 L181.34,379.62 L182.18,379.86 L183.03,380.08 L183.9,380.3 L184.79,380.51 L185.71,380.71 L186.65,380.9 L187.59,381.09 L188.53,381.26 L189.47,381.42 L190.39,381.57 L191.3,381.7 L192.2,381.79 L193.11,381.82 L194.02,381.83 L194.91,381.82 L195.79,381.85 L196.63,381.92 L197.44,382.06 L198.2,382.3 L198.9,382.65 L199.55,383.1 L200.15,383.61 L200.73,384.18 L201.29,384.77 L201.85,385.37 L202.41,385.95 L203,386.5" stroke="#262626" stroke-width="1.0" fill="none" stroke-linejoin="round"/>
<path d="M109.8,349.4 L110.58,349.41 L111.37,349.46 L112.14,349.56 L112.92,349.72 L113.71,349.98 L114.5,350.33 L115.29,350.8 L116.1,351.4 L116.92,352.17 L117.75,353.11 L118.58,354.18 L119.42,355.34 L120.27,356.56 L121.12,357.8 L121.96,359.02 L122.8,360.2 L123.64,361.34 L124.47,362.48 L125.31,363.62 L126.15,364.78 L126.99,365.95 L127.83,367.14 L128.66,368.36 L129.5,369.6 L130.36,370.91 L131.24,372.29 L132.13,373.72 L133.02,375.15 L133.89,376.56 L134.71,377.91 L135.49,379.17 L136.2,380.3 L136.83,381.29 L137.39,382.17 L137.9,382.95 L138.37,383.68 L138.82,384.37 L139.26,385.06 L139.72,385.76 L140.2,386.5" stroke="#262626" stroke-width="1.0" fill="none" stroke-linejoin="round"/>
<path d="M109.8,347 L110.56,347.01 L111.31,347.05 L112.05,347.15 L112.79,347.31 L113.54,347.56 L114.32,347.91 L115.14,348.39 L116,349 L116.92,349.78 L117.9,350.73 L118.91,351.82 L119.95,353 L120.99,354.24 L122.03,355.52 L123.04,356.78 L124,358 L124.92,359.2 L125.82,360.41 L126.7,361.63 L127.56,362.88 L128.42,364.13 L129.27,365.41 L130.13,366.7 L131,368 L131.89,369.35 L132.8,370.76 L133.71,372.21 L134.62,373.66 L135.52,375.09 L136.39,376.47 L137.22,377.79 L138,379 L138.72,380.1 L139.39,381.12 L140.02,382.07 L140.62,382.97 L141.21,383.84 L141.8,384.71 L142.39,385.59 L143,386.5" stroke="#262626" stroke-width="1.0" fill="none" stroke-linejoin="round"/>
<path d="M109.8,322 L110.44,322.13 L111.07,322.5 L111.7,323.05 L112.33,323.75 L112.96,324.54 L113.62,325.38 L114.29,326.21 L115,327 L115.73,327.74 L116.46,328.48 L117.21,329.23 L117.97,330.02 L118.77,330.87 L119.6,331.8 L120.48,332.84 L121.4,334 L122.4,335.34 L123.48,336.85 L124.62,338.49 L125.78,340.2 L126.95,341.93 L128.09,343.62 L129.18,345.23 L130.2,346.7 L131.14,348.03 L132.02,349.28 L132.87,350.47 L133.68,351.61 L134.48,352.72 L135.27,353.83 L136.08,354.95 L136.9,356.1 L137.74,357.27 L138.59,358.45 L139.44,359.62 L140.29,360.79 L141.14,361.97 L141.97,363.14 L142.8,364.32 L143.6,365.5 L144.39,366.67 L145.16,367.82 L145.93,368.97 L146.68,370.12 L147.42,371.29 L148.16,372.48 L148.88,373.72 L149.6,375 L150.3,376.34 L150.99,377.73 L151.67,379.17 L152.34,380.62 L153,382.1 L153.66,383.58 L154.33,385.05 L155,386.5" stroke="#262626" stroke-width="1.0" fill="none" stroke-linejoin="round"/>
<path d="M109.8,326 L110.83,326.1 L111.85,326.39 L112.88,326.83 L113.91,327.38 L114.93,328 L115.96,328.67 L116.98,329.35 L118,330 L119,330.62 L119.97,331.24 L120.92,331.88 L121.88,332.56 L122.86,333.3 L123.88,334.1 L124.95,335 L126.1,336 L127.33,337.13 L128.65,338.36 L130.02,339.69 L131.43,341.09 L132.86,342.55 L134.27,344.03 L135.66,345.52 L137,347 L138.3,348.5 L139.58,350.05 L140.85,351.63 L142.1,353.22 L143.34,354.83 L144.57,356.42 L145.79,357.98 L147,359.5 L148.21,360.95 L149.42,362.33 L150.62,363.67 L151.81,365.01 L152.98,366.37 L154.13,367.78 L155.23,369.28 L156.3,370.9 L157.32,372.65 L158.28,374.5 L159.21,376.44 L160.12,378.44 L161.01,380.47 L161.89,382.5 L162.79,384.52 L163.7,386.5" stroke="#262626" stroke-width="1.0" fill="none" stroke-linejoin="round"/>
<path d="M246,387 L247.1,386.54 L248.2,386.08 L249.32,385.62 L250.43,385.16 L251.53,384.69 L252.61,384.23 L253.67,383.77 L254.7,383.3 L255.7,382.83 L256.66,382.36 L257.6,381.89 L258.53,381.41 L259.45,380.94 L260.36,380.46 L261.28,379.98 L262.2,379.5 L263.14,379 L264.08,378.46 L265.02,377.92 L265.96,377.38 L266.89,376.85 L267.81,376.37 L268.71,375.95 L269.6,375.6 L270.46,375.35 L271.3,375.2 L272.12,375.11 L272.94,375.06 L273.75,375.01 L274.55,374.94 L275.37,374.81 L276.2,374.6 L277.04,374.31 L277.87,373.97 L278.7,373.58 L279.54,373.17 L280.39,372.73 L281.25,372.29 L282.12,371.84 L283,371.4 L283.9,370.97 L284.83,370.52 L285.76,370.08 L286.71,369.62 L287.66,369.15 L288.61,368.68 L289.56,368.19 L290.5,367.7 L291.44,367.19 L292.39,366.66 L293.34,366.12 L294.29,365.57 L295.24,365.02 L296.17,364.47 L297.1,363.93 L298,363.4 L298.88,362.89 L299.73,362.38 L300.57,361.88 L301.4,361.39 L302.23,360.89 L303.07,360.4 L303.92,359.9 L304.8,359.4 L305.7,358.88 L306.63,358.34 L307.57,357.8 L308.51,357.26 L309.46,356.72 L310.42,356.21 L311.36,355.74 L312.3,355.3 L313.23,354.91 L314.15,354.56 L315.08,354.25 L316,353.95 L316.92,353.67 L317.85,353.39 L318.77,353.1 L319.7,352.8 L320.63,352.48 L321.57,352.14 L322.51,351.81 L323.44,351.47 L324.38,351.14 L325.32,350.83 L326.26,350.55 L327.2,350.3 L328.14,350.07 L329.07,349.85 L330.01,349.65 L330.95,349.47 L331.89,349.32 L332.82,349.2 L333.76,349.13 L334.7,349.1" stroke="#262626" stroke-width="1.0" fill="none" stroke-linejoin="round"/>
<path d="M252,387 L253.29,385.58 L254.62,384.09 L255.95,382.57 L257.28,381.06 L258.58,379.61 L259.85,378.26 L261.06,377.04 L262.2,376 L263.22,375.16 L264.11,374.5 L264.92,373.97 L265.7,373.54 L266.51,373.17 L267.39,372.81 L268.41,372.44 L269.6,372 L270.98,371.56 L272.49,371.17 L274.12,370.81 L275.83,370.44 L277.59,370.04 L279.4,369.57 L281.21,369 L283,368.3 L284.8,367.44 L286.65,366.45 L288.54,365.35 L290.44,364.18 L292.36,362.99 L294.26,361.8 L296.15,360.66 L298,359.6 L299.82,358.59 L301.61,357.59 L303.39,356.6 L305.16,355.63 L306.92,354.7 L308.7,353.81 L310.49,352.97 L312.3,352.2 L314.18,351.48 L316.16,350.8 L318.17,350.15 L320.18,349.56 L322.13,349.03 L323.98,348.55 L325.69,348.14 L327.2,347.8 L328.49,347.55 L329.6,347.4 L330.55,347.32 L331.41,347.3 L332.21,347.32 L333,347.35 L333.81,347.38 L334.7,347.4" stroke="#262626" stroke-width="1.0" fill="none" stroke-linejoin="round"/>
<path d="M300,387 L300.75,386.12 L301.49,385.24 L302.24,384.36 L302.98,383.48 L303.73,382.6 L304.48,381.73 L305.24,380.86 L306,380 L306.77,379.18 L307.53,378.41 L308.29,377.66 L309.06,376.91 L309.84,376.13 L310.64,375.28 L311.46,374.35 L312.3,373.3 L313.17,372.1 L314.07,370.77 L314.99,369.35 L315.93,367.86 L316.87,366.36 L317.82,364.87 L318.76,363.44 L319.7,362.1 L320.63,360.8 L321.57,359.5 L322.51,358.2 L323.44,356.94 L324.38,355.75 L325.32,354.64 L326.26,353.65 L327.2,352.8 L328.14,352.07 L329.07,351.44 L330.01,350.91 L330.95,350.47 L331.89,350.14 L332.82,349.89 L333.76,349.75 L334.7,349.7" stroke="#262626" stroke-width="1.0" fill="none" stroke-linejoin="round"/>
<path d="M279.9,387 L282.13,384.84 L284.45,382.6 L286.81,380.32 L289.14,378.06 L291.41,375.86 L293.56,373.79 L295.54,371.88 L297.3,370.2 L298.82,368.77 L300.14,367.55 L301.31,366.49 L302.34,365.56 L303.3,364.7 L304.2,363.87 L305.09,363.02 L306,362.1 L306.89,361.13 L307.72,360.16 L308.49,359.19 L309.23,358.24 L309.96,357.31 L310.7,356.41 L311.48,355.53 L312.3,354.7 L313.12,353.89 L313.89,353.09 L314.66,352.31 L315.46,351.56 L316.32,350.85 L317.29,350.2 L318.4,349.61 L319.7,349.1 L321.21,348.66 L322.92,348.28 L324.77,347.95 L326.72,347.68 L328.74,347.47 L330.77,347.32 L332.77,347.23 L334.7,347.2" stroke="#262626" stroke-width="1.0" fill="none" stroke-linejoin="round"/>
<path d="M289.9,387 L291.98,384.36 L294.15,381.6 L296.37,378.79 L298.56,376.01 L300.68,373.32 L302.66,370.8 L304.46,368.5 L306,366.5 L307.25,364.84 L308.23,363.47 L309.02,362.33 L309.68,361.36 L310.27,360.48 L310.86,359.64 L311.51,358.76 L312.3,357.8 L313.15,356.75 L313.96,355.69 L314.78,354.62 L315.63,353.58 L316.54,352.57 L317.55,351.63 L318.69,350.76 L320,350 L321.5,349.31 L323.18,348.66 L325,348.06 L326.91,347.54 L328.88,347.11 L330.86,346.78 L332.81,346.57 L334.7,346.5" stroke="#262626" stroke-width="1.0" fill="none" stroke-linejoin="round"/>
<circle cx="109.8" cy="268.5" r="1.1" fill="#ff0000" stroke="#c00000" stroke-width="0.4" />
<circle cx="116.6" cy="264.91" r="1.2" fill="#ff0000" stroke="#c00000" stroke-width="0.4" />
<circle cx="123.4" cy="257.13" r="1.3" fill="#ff0000" stroke="#c00000" stroke-width="0.4" />
<circle cx="130.2" cy="247.1" r="1.41" fill="#ff0000" stroke="#c00000" stroke-width="0.4" />
<circle cx="143.8" cy="231.1" r="1.91" fill="#ff1010" stroke="#e00000" stroke-width="0.3" />
<circle cx="143.8" cy="231.1" r="0.8" fill="#507060" stroke="none" stroke-width="1" />
<circle cx="150.6" cy="226.78" r="2" fill="#ff1010" stroke="#e00000" stroke-width="0.3" />
<circle cx="150.6" cy="226.78" r="0.84" fill="#507060" stroke="none" stroke-width="1" />
<circle cx="157.4" cy="225.64" r="2.1" fill="#ff1010" stroke="#e00000" stroke-width="0.3" />
<circle cx="157.4" cy="225.64" r="0.88" fill="#507060" stroke="none" stroke-width="1" />
<circle cx="164.2" cy="227.71" r="2.19" fill="#ff1010" stroke="#e00000" stroke-width="0.3" />
<circle cx="164.2" cy="227.71" r="0.92" fill="#507060" stroke="none" stroke-width="1" />
<circle cx="171" cy="231.15" r="1" fill="url(#gC)" stroke="none" stroke-width="1" />
<circle cx="177.8" cy="234.45" r="1" fill="url(#gC)" stroke="none" stroke-width="1" />
<circle cx="184.6" cy="236.9" r="1" fill="url(#gC)" stroke="none" stroke-width="1" />
<circle cx="191.4" cy="238.31" r="1" fill="url(#gC)" stroke="none" stroke-width="1" />
<circle cx="198.2" cy="238.5" r="1" fill="url(#gC)" stroke="none" stroke-width="1" />
<circle cx="211.09" cy="233.43" r="1" fill="url(#gC)" stroke="none" stroke-width="1" />
<circle cx="217.53" cy="229.62" r="1" fill="url(#gC)" stroke="none" stroke-width="1" />
<circle cx="223.97" cy="224.6" r="1" fill="url(#gC)" stroke="none" stroke-width="1" />
<circle cx="230.41" cy="220.35" r="1" fill="url(#gC)" stroke="none" stroke-width="1" />
<circle cx="236.86" cy="217.35" r="2" fill="#ff1010" stroke="#e00000" stroke-width="0.3" />
<circle cx="236.86" cy="217.35" r="0.84" fill="#507060" stroke="none" stroke-width="1" />
<circle cx="243.3" cy="216" r="2" fill="#ff1010" stroke="#e00000" stroke-width="0.3" />
<circle cx="243.3" cy="216" r="0.84" fill="#507060" stroke="none" stroke-width="1" />
<circle cx="249.83" cy="216.43" r="2" fill="#ff1010" stroke="#e00000" stroke-width="0.3" />
<circle cx="249.83" cy="216.43" r="0.84" fill="#507060" stroke="none" stroke-width="1" />
<circle cx="262.89" cy="223.09" r="1" fill="url(#gC)" stroke="none" stroke-width="1" />
<circle cx="269.41" cy="228" r="1" fill="url(#gC)" stroke="none" stroke-width="1" />
<circle cx="275.94" cy="229.82" r="1" fill="url(#gC)" stroke="none" stroke-width="1" />
<circle cx="282.47" cy="227.02" r="1.71" fill="#ff1010" stroke="#e00000" stroke-width="0.3" />
<circle cx="282.47" cy="227.02" r="0.72" fill="#507060" stroke="none" stroke-width="1" />
<circle cx="289" cy="226.64" r="1.76" fill="#ff1010" stroke="#e00000" stroke-width="0.3" />
<circle cx="289" cy="226.64" r="0.74" fill="#507060" stroke="none" stroke-width="1" />
<circle cx="295.53" cy="229.18" r="1.81" fill="#ff1010" stroke="#e00000" stroke-width="0.3" />
<circle cx="295.53" cy="229.18" r="0.76" fill="#507060" stroke="none" stroke-width="1" />
<circle cx="302.06" cy="233.69" r="1.85" fill="#ff1010" stroke="#e00000" stroke-width="0.3" />
<circle cx="302.06" cy="233.69" r="0.78" fill="#507060" stroke="none" stroke-width="1" />
<circle cx="308.59" cy="240.25" r="1.9" fill="#ff1010" stroke="#e00000" stroke-width="0.3" />
<circle cx="308.59" cy="240.25" r="0.8" fill="#507060" stroke="none" stroke-width="1" />
<circle cx="315.11" cy="248.54" r="1.95" fill="#ff1010" stroke="#e00000" stroke-width="0.3" />
<circle cx="315.11" cy="248.54" r="0.82" fill="#507060" stroke="none" stroke-width="1" />
<circle cx="321.64" cy="256.82" r="2" fill="#ff1010" stroke="#e00000" stroke-width="0.3" />
<circle cx="321.64" cy="256.82" r="0.84" fill="#507060" stroke="none" stroke-width="1" />
<circle cx="328.17" cy="263.1" r="1.23" fill="#ff0000" stroke="#c00000" stroke-width="0.4" />
<circle cx="334.7" cy="267.5" r="1.1" fill="#ff0000" stroke="#c00000" stroke-width="0.4" />
<polygon points="109.8,245.25 110.31,246.29 111.46,246.46 110.63,247.27 110.83,248.42 109.8,247.88 108.77,248.42 108.97,247.27 108.14,246.46 109.29,246.29" fill="#e8d0ff" stroke="#a050f0" stroke-width="0.7"/>
<polygon points="116.6,243.66 117.11,244.7 118.26,244.87 117.43,245.68 117.63,246.83 116.6,246.29 115.57,246.83 115.77,245.68 114.94,244.87 116.09,244.7" fill="#e8d0ff" stroke="#a050f0" stroke-width="0.7"/>
<polygon points="123.4,237.99 123.91,239.03 125.06,239.2 124.23,240.01 124.43,241.16 123.4,240.62 122.37,241.16 122.57,240.01 121.74,239.2 122.89,239.03" fill="#e8d0ff" stroke="#a050f0" stroke-width="0.7"/>
<polygon points="130.2,231.17 130.71,232.22 131.86,232.38 131.03,233.19 131.23,234.34 130.2,233.8 129.17,234.34 129.37,233.19 128.54,232.38 129.69,232.22" fill="#e8d0ff" stroke="#a050f0" stroke-width="0.7"/>
<polygon points="137,225.19 137.51,226.24 138.66,226.4 137.83,227.21 138.03,228.36 137,227.82 135.97,228.36 136.17,227.21 135.34,226.4 136.49,226.24" fill="#e8d0ff" stroke="#a050f0" stroke-width="0.7"/>
<polygon points="143.8,221.8 144.31,222.84 145.46,223.01 144.63,223.82 144.83,224.96 143.8,224.42 142.77,224.96 142.97,223.82 142.14,223.01 143.29,222.84" fill="#e8d0ff" stroke="#a050f0" stroke-width="0.7"/>
<polygon points="150.6,220.02 151.11,221.06 152.26,221.23 151.43,222.04 151.63,223.19 150.6,222.65 149.57,223.19 149.77,222.04 148.94,221.23 150.09,221.06" fill="#e8d0ff" stroke="#a050f0" stroke-width="0.7"/>
<polygon points="157.4,220.53 157.91,221.57 159.06,221.74 158.23,222.55 158.43,223.69 157.4,223.15 156.37,223.69 156.57,222.55 155.74,221.74 156.89,221.57" fill="#e8d0ff" stroke="#a050f0" stroke-width="0.7"/>
<polygon points="164.2,222.66 164.71,223.7 165.86,223.87 165.03,224.68 165.23,225.83 164.2,225.28 163.17,225.83 163.37,224.68 162.54,223.87 163.69,223.7" fill="#e8d0ff" stroke="#a050f0" stroke-width="0.7"/>
<polygon points="171,225.97 171.51,227.01 172.66,227.18 171.83,227.99 172.03,229.14 171,228.6 169.97,229.14 170.17,227.99 169.34,227.18 170.49,227.01" fill="#e8d0ff" stroke="#a050f0" stroke-width="0.7"/>
<polygon points="177.8,228.65 178.31,229.69 179.46,229.85 178.63,230.67 178.83,231.81 177.8,231.27 176.77,231.81 176.97,230.67 176.14,229.85 177.29,229.69" fill="#e8d0ff" stroke="#a050f0" stroke-width="0.7"/>
<polygon points="184.6,230.45 185.11,231.49 186.26,231.66 185.43,232.47 185.63,233.62 184.6,233.07 183.57,233.62 183.77,232.47 182.94,231.66 184.09,231.49" fill="#e8d0ff" stroke="#a050f0" stroke-width="0.7"/>
<polygon points="191.4,231.16 191.91,232.2 193.06,232.36 192.23,233.18 192.43,234.32 191.4,233.78 190.37,234.32 190.57,233.18 189.74,232.36 190.89,232.2" fill="#e8d0ff" stroke="#a050f0" stroke-width="0.7"/>
<polygon points="198.2,231.25 198.71,232.29 199.86,232.46 199.03,233.27 199.23,234.42 198.2,233.88 197.17,234.42 197.37,233.27 196.54,232.46 197.69,232.29" fill="#e8d0ff" stroke="#a050f0" stroke-width="0.7"/>
<polygon points="204.64,230.82 205.16,231.86 206.31,232.03 205.48,232.84 205.67,233.98 204.64,233.44 203.61,233.98 203.81,232.84 202.98,232.03 204.13,231.86" fill="#e8d0ff" stroke="#a050f0" stroke-width="0.7"/>
<polygon points="211.09,228.75 211.6,229.79 212.75,229.96 211.92,230.77 212.11,231.92 211.09,231.38 210.06,231.92 210.25,230.77 209.42,229.96 210.57,229.79" fill="#e8d0ff" stroke="#a050f0" stroke-width="0.7"/>
<polygon points="217.53,225.06 218.04,226.11 219.19,226.27 218.36,227.08 218.56,228.23 217.53,227.69 216.5,228.23 216.7,227.08 215.86,226.27 217.01,226.11" fill="#e8d0ff" stroke="#a050f0" stroke-width="0.7"/>
<polygon points="223.97,219.46 224.49,220.51 225.64,220.67 224.8,221.48 225,222.63 223.97,222.09 222.94,222.63 223.14,221.48 222.31,220.67 223.46,220.51" fill="#e8d0ff" stroke="#a050f0" stroke-width="0.7"/>
<polygon points="230.41,214.08 230.93,215.12 232.08,215.29 231.25,216.1 231.44,217.25 230.41,216.7 229.39,217.25 229.58,216.1 228.75,215.29 229.9,215.12" fill="#e8d0ff" stroke="#a050f0" stroke-width="0.7"/>
<polygon points="236.86,210.6 237.37,211.64 238.52,211.81 237.69,212.62 237.89,213.77 236.86,213.22 235.83,213.77 236.02,212.62 235.19,211.81 236.34,211.64" fill="#e8d0ff" stroke="#a050f0" stroke-width="0.7"/>
<polygon points="243.3,209.45 243.81,210.49 244.96,210.66 244.13,211.47 244.33,212.62 243.3,212.07 242.27,212.62 242.47,211.47 241.64,210.66 242.79,210.49" fill="#e8d0ff" stroke="#a050f0" stroke-width="0.7"/>
<polygon points="249.83,209.63 250.34,210.67 251.49,210.84 250.66,211.65 250.86,212.79 249.83,212.25 248.8,212.79 249,211.65 248.16,210.84 249.31,210.67" fill="#e8d0ff" stroke="#a050f0" stroke-width="0.7"/>
<polygon points="256.36,213.71 256.87,214.76 258.02,214.92 257.19,215.73 257.39,216.88 256.36,216.34 255.33,216.88 255.52,215.73 254.69,214.92 255.84,214.76" fill="#e8d0ff" stroke="#a050f0" stroke-width="0.7"/>
<polygon points="262.89,218.62 263.4,219.66 264.55,219.83 263.72,220.64 263.91,221.78 262.89,221.24 261.86,221.78 262.05,220.64 261.22,219.83 262.37,219.66" fill="#e8d0ff" stroke="#a050f0" stroke-width="0.7"/>
<polygon points="269.41,222.35 269.93,223.39 271.08,223.56 270.25,224.37 270.44,225.52 269.41,224.98 268.39,225.52 268.58,224.37 267.75,223.56 268.9,223.39" fill="#e8d0ff" stroke="#a050f0" stroke-width="0.7"/>
<polygon points="275.94,224.29 276.46,225.33 277.61,225.5 276.78,226.31 276.97,227.45 275.94,226.91 274.91,227.45 275.11,226.31 274.28,225.5 275.43,225.33" fill="#e8d0ff" stroke="#a050f0" stroke-width="0.7"/>
<polygon points="282.47,221.52 282.99,222.56 284.14,222.73 283.3,223.54 283.5,224.69 282.47,224.15 281.44,224.69 281.64,223.54 280.81,222.73 281.96,222.56" fill="#e8d0ff" stroke="#a050f0" stroke-width="0.7"/>
<polygon points="289,219.38 289.51,220.42 290.66,220.59 289.83,221.4 290.03,222.54 289,222 287.97,222.54 288.17,221.4 287.34,220.59 288.49,220.42" fill="#e8d0ff" stroke="#a050f0" stroke-width="0.7"/>
<polygon points="295.53,219.38 296.04,220.42 297.19,220.59 296.36,221.4 296.56,222.54 295.53,222 294.5,222.54 294.7,221.4 293.86,220.59 295.01,220.42" fill="#e8d0ff" stroke="#a050f0" stroke-width="0.7"/>
<polygon points="302.06,221.18 302.57,222.22 303.72,222.39 302.89,223.2 303.09,224.35 302.06,223.81 301.03,224.35 301.22,223.2 300.39,222.39 301.54,222.22" fill="#e8d0ff" stroke="#a050f0" stroke-width="0.7"/>
<polygon points="308.59,225.49 309.1,226.53 310.25,226.7 309.42,227.51 309.61,228.65 308.59,228.11 307.56,228.65 307.75,227.51 306.92,226.7 308.07,226.53" fill="#e8d0ff" stroke="#a050f0" stroke-width="0.7"/>
<polygon points="315.11,231.86 315.63,232.9 316.78,233.07 315.95,233.88 316.14,235.03 315.11,234.49 314.09,235.03 314.28,233.88 313.45,233.07 314.6,232.9" fill="#e8d0ff" stroke="#a050f0" stroke-width="0.7"/>
<polygon points="321.64,238.44 322.16,239.49 323.31,239.65 322.48,240.46 322.67,241.61 321.64,241.07 320.61,241.61 320.81,240.46 319.98,239.65 321.13,239.49" fill="#e8d0ff" stroke="#a050f0" stroke-width="0.7"/>
<polygon points="328.17,244.06 328.69,245.1 329.84,245.27 329,246.08 329.2,247.23 328.17,246.69 327.14,247.23 327.34,246.08 326.51,245.27 327.66,245.1" fill="#e8d0ff" stroke="#a050f0" stroke-width="0.7"/>
<polygon points="334.7,246.75 335.21,247.79 336.36,247.96 335.53,248.77 335.73,249.92 334.7,249.38 333.67,249.92 333.87,248.77 333.04,247.96 334.19,247.79" fill="#e8d0ff" stroke="#a050f0" stroke-width="0.7"/>
<circle cx="109.8" cy="226.2" r="1" fill="url(#gC)" stroke="none" stroke-width="1" />
<circle cx="116.6" cy="223.86" r="1" fill="url(#gC)" stroke="none" stroke-width="1" />
<circle cx="123.4" cy="217.51" r="1" fill="url(#gC)" stroke="none" stroke-width="1" />
<circle cx="130.2" cy="210.83" r="1" fill="url(#gC)" stroke="none" stroke-width="1" />
<circle cx="137" cy="206.36" r="1" fill="url(#gC)" stroke="none" stroke-width="1" />
<circle cx="143.8" cy="205.14" r="1" fill="url(#gC)" stroke="none" stroke-width="1" />
<circle cx="150.6" cy="207.89" r="1" fill="url(#gC)" stroke="none" stroke-width="1" />
<circle cx="164.2" cy="216.68" r="1.26" fill="#ff0000" stroke="#c00000" stroke-width="0.4" />
<circle cx="171" cy="220.36" r="1.59" fill="#ff0000" stroke="#c00000" stroke-width="0.4" />
<circle cx="177.8" cy="223.77" r="1.91" fill="#ff0000" stroke="#c00000" stroke-width="0.4" />
<circle cx="184.6" cy="226.45" r="2.24" fill="#ff0000" stroke="#c00000" stroke-width="0.4" />
<circle cx="191.4" cy="228.63" r="2.57" fill="#ff0000" stroke="#c00000" stroke-width="0.4" />
<circle cx="198.2" cy="230.2" r="2.9" fill="#ff0000" stroke="#c00000" stroke-width="0.4" />
<circle cx="211.09" cy="224.8" r="2.27" fill="#ff0000" stroke="#c00000" stroke-width="0.4" />
<circle cx="217.53" cy="220.11" r="2.02" fill="#ff0000" stroke="#c00000" stroke-width="0.4" />
<circle cx="223.97" cy="214.51" r="1.78" fill="#ff0000" stroke="#c00000" stroke-width="0.4" />
<circle cx="230.41" cy="208.91" r="1.54" fill="#ff0000" stroke="#c00000" stroke-width="0.4" />
<polygon points="157.4,202.51 157.91,203.55 159.06,203.72 158.23,204.53 158.43,205.67 157.4,205.13 156.37,205.67 156.57,204.53 155.74,203.72 156.89,203.55" fill="#e8d0ff" stroke="#a050f0" stroke-width="0.7"/>
<polygon points="164.2,206.21 164.71,207.25 165.86,207.42 165.03,208.23 165.23,209.37 164.2,208.83 163.17,209.37 163.37,208.23 162.54,207.42 163.69,207.25" fill="#e8d0ff" stroke="#a050f0" stroke-width="0.7"/>
<polygon points="171,209.6 171.51,210.64 172.66,210.8 171.83,211.62 172.03,212.76 171,212.22 169.97,212.76 170.17,211.62 169.34,210.8 170.49,210.64" fill="#e8d0ff" stroke="#a050f0" stroke-width="0.7"/>
<polygon points="177.8,213.93 178.31,214.97 179.46,215.14 178.63,215.95 178.83,217.09 177.8,216.55 176.77,217.09 176.97,215.95 176.14,215.14 177.29,214.97" fill="#e8d0ff" stroke="#a050f0" stroke-width="0.7"/>
<polygon points="184.6,216.35 185.11,217.39 186.26,217.56 185.43,218.37 185.63,219.52 184.6,218.97 183.57,219.52 183.77,218.37 182.94,217.56 184.09,217.39" fill="#e8d0ff" stroke="#a050f0" stroke-width="0.7"/>
<polygon points="191.4,218.67 191.91,219.71 193.06,219.88 192.23,220.69 192.43,221.84 191.4,221.3 190.37,221.84 190.57,220.69 189.74,219.88 190.89,219.71" fill="#e8d0ff" stroke="#a050f0" stroke-width="0.7"/>
<polygon points="198.2,219.45 198.71,220.49 199.86,220.66 199.03,221.47 199.23,222.62 198.2,222.07 197.17,222.62 197.37,221.47 196.54,220.66 197.69,220.49" fill="#e8d0ff" stroke="#a050f0" stroke-width="0.7"/>
<polygon points="204.64,218.08 205.16,219.12 206.31,219.28 205.48,220.1 205.67,221.24 204.64,220.7 203.61,221.24 203.81,220.1 202.98,219.28 204.13,219.12" fill="#e8d0ff" stroke="#a050f0" stroke-width="0.7"/>
<polygon points="211.09,214.87 211.6,215.91 212.75,216.07 211.92,216.89 212.11,218.03 211.09,217.49 210.06,218.03 210.25,216.89 209.42,216.07 210.57,215.91" fill="#e8d0ff" stroke="#a050f0" stroke-width="0.7"/>
<polygon points="217.53,210.79 218.04,211.83 219.19,212 218.36,212.81 218.56,213.96 217.53,213.42 216.5,213.96 216.7,212.81 215.86,212 217.01,211.83" fill="#e8d0ff" stroke="#a050f0" stroke-width="0.7"/>
<polygon points="223.97,205.99 224.49,207.03 225.64,207.2 224.8,208.01 225,209.15 223.97,208.61 222.94,209.15 223.14,208.01 222.31,207.2 223.46,207.03" fill="#e8d0ff" stroke="#a050f0" stroke-width="0.7"/>
<polygon points="230.41,202.21 230.93,203.25 232.08,203.42 231.25,204.23 231.44,205.37 230.41,204.83 229.39,205.37 229.58,204.23 228.75,203.42 229.9,203.25" fill="#e8d0ff" stroke="#a050f0" stroke-width="0.7"/>
<polygon points="262.89,205.3 263.39,206.31 264.5,206.47 263.69,207.26 263.88,208.37 262.89,207.85 261.89,208.37 262.08,207.26 261.27,206.47 262.39,206.31" fill="#e8d0ff" stroke="#a050f0" stroke-width="0.7"/>
<polygon points="269.41,207.25 269.91,208.26 271.03,208.42 270.22,209.21 270.41,210.32 269.41,209.8 268.42,210.32 268.61,209.21 267.8,208.42 268.91,208.26" fill="#e8d0ff" stroke="#a050f0" stroke-width="0.7"/>
<polygon points="275.94,208.31 276.44,209.32 277.56,209.48 276.75,210.27 276.94,211.39 275.94,210.86 274.94,211.39 275.13,210.27 274.33,209.48 275.44,209.32" fill="#e8d0ff" stroke="#a050f0" stroke-width="0.7"/>
<polygon points="282.47,205.41 282.97,206.42 284.09,206.58 283.28,207.37 283.47,208.48 282.47,207.96 281.47,208.48 281.66,207.37 280.85,206.58 281.97,206.42" fill="#e8d0ff" stroke="#a050f0" stroke-width="0.7"/>
<circle cx="262.89" cy="212.61" r="1.1" fill="url(#gC)" stroke="none" stroke-width="1" />
<circle cx="269.41" cy="216.42" r="1.1" fill="url(#gC)" stroke="none" stroke-width="1" />
<circle cx="275.94" cy="218.65" r="1.1" fill="url(#gC)" stroke="none" stroke-width="1" />
<circle cx="282.47" cy="215.47" r="1.1" fill="url(#gC)" stroke="none" stroke-width="1" />
<circle cx="289" cy="211.04" r="1.1" fill="url(#gC)" stroke="none" stroke-width="1" />
<circle cx="295.53" cy="206.62" r="1.1" fill="url(#gC)" stroke="none" stroke-width="1" />
<circle cx="302.06" cy="205.26" r="1.1" fill="url(#gC)" stroke="none" stroke-width="1" />
<circle cx="308.59" cy="207.03" r="1.1" fill="url(#gC)" stroke="none" stroke-width="1" />
<circle cx="315.11" cy="211.52" r="1.1" fill="url(#gC)" stroke="none" stroke-width="1" />
<circle cx="321.64" cy="217.15" r="1.1" fill="url(#gC)" stroke="none" stroke-width="1" />
<circle cx="328.17" cy="223.32" r="1.1" fill="url(#gC)" stroke="none" stroke-width="1" />
<circle cx="334.7" cy="226.9" r="1.1" fill="url(#gC)" stroke="none" stroke-width="1" />
<circle cx="315.11" cy="204.5" r="1.3" fill="#a060f0" stroke="none" stroke-width="1" />
<circle cx="321.64" cy="210.35" r="1.3" fill="#a060f0" stroke="none" stroke-width="1" />
<circle cx="328.17" cy="216.13" r="1.3" fill="#a060f0" stroke="none" stroke-width="1" />
<circle cx="334.7" cy="219.4" r="1.3" fill="#a060f0" stroke="none" stroke-width="1" />
<circle cx="109.8" cy="312.1" r="3" fill="#fff" stroke="#f2a868" stroke-width="0.75" />
<circle cx="116.6" cy="310.71" r="3" fill="#fff" stroke="#f2a868" stroke-width="0.75" />
<circle cx="123.4" cy="309.45" r="3" fill="#fff" stroke="#f2a868" stroke-width="0.75" />
<circle cx="130.2" cy="308.41" r="3" fill="#fff" stroke="#f2a868" stroke-width="0.75" />
<circle cx="137" cy="307.66" r="3" fill="#fff" stroke="#f2a868" stroke-width="0.75" />
<circle cx="143.8" cy="307.42" r="3" fill="#fff" stroke="#f2a868" stroke-width="0.75" />
<circle cx="150.6" cy="307.97" r="3" fill="#fff" stroke="#f2a868" stroke-width="0.75" />
<circle cx="157.4" cy="308.85" r="3" fill="#fff" stroke="#f2a868" stroke-width="0.75" />
<circle cx="164.2" cy="309.94" r="3" fill="#fff" stroke="#f2a868" stroke-width="0.75" />
<circle cx="171" cy="310.94" r="3" fill="#fff" stroke="#f2a868" stroke-width="0.75" />
<circle cx="177.8" cy="311.62" r="3" fill="#fff" stroke="#f2a868" stroke-width="0.75" />
<circle cx="184.6" cy="312.23" r="3" fill="#fff" stroke="#f2a868" stroke-width="0.75" />
<circle cx="191.4" cy="312.86" r="3" fill="#fff" stroke="#f2a868" stroke-width="0.75" />
<circle cx="198.2" cy="313.5" r="3" fill="#fff" stroke="#f2a868" stroke-width="0.75" />
<circle cx="204.64" cy="314.15" r="3" fill="#fff" stroke="#f2a868" stroke-width="0.75" />
<circle cx="211.09" cy="315.27" r="3" fill="#fff" stroke="#f2a868" stroke-width="0.75" />
<circle cx="217.53" cy="316.35" r="3" fill="#fff" stroke="#f2a868" stroke-width="0.75" />
<circle cx="223.97" cy="317.96" r="3" fill="#fff" stroke="#f2a868" stroke-width="0.75" />
<circle cx="230.41" cy="319.34" r="3" fill="#fff" stroke="#f2a868" stroke-width="0.75" />
<circle cx="236.86" cy="320" r="3" fill="#fff" stroke="#f2a868" stroke-width="0.75" />
<circle cx="243.3" cy="320.4" r="3" fill="#fff" stroke="#f2a868" stroke-width="0.75" />
<circle cx="249.83" cy="319.84" r="3" fill="#fff" stroke="#f2a868" stroke-width="0.75" />
<circle cx="256.36" cy="318.63" r="3" fill="#fff" stroke="#f2a868" stroke-width="0.75" />
<circle cx="262.89" cy="315.64" r="3" fill="#fff" stroke="#f2a868" stroke-width="0.75" />
<circle cx="269.41" cy="312.03" r="3" fill="#fff" stroke="#f2a868" stroke-width="0.75" />
<circle cx="275.94" cy="310.44" r="3" fill="#fff" stroke="#f2a868" stroke-width="0.75" />
<circle cx="282.47" cy="309.9" r="3" fill="#fff" stroke="#f2a868" stroke-width="0.75" />
<circle cx="289" cy="309.15" r="3" fill="#fff" stroke="#f2a868" stroke-width="0.75" />
<circle cx="295.53" cy="308.4" r="3" fill="#fff" stroke="#f2a868" stroke-width="0.75" />
<circle cx="302.06" cy="308.01" r="3" fill="#fff" stroke="#f2a868" stroke-width="0.75" />
<circle cx="308.59" cy="308.14" r="3" fill="#fff" stroke="#f2a868" stroke-width="0.75" />
<circle cx="315.11" cy="309.09" r="3" fill="#fff" stroke="#f2a868" stroke-width="0.75" />
<circle cx="321.64" cy="310.92" r="3" fill="#fff" stroke="#f2a868" stroke-width="0.75" />
<circle cx="328.17" cy="312.51" r="3" fill="#fff" stroke="#f2a868" stroke-width="0.75" />
<circle cx="334.7" cy="313.5" r="3" fill="#fff" stroke="#f2a868" stroke-width="0.75" />
<circle cx="109.8" cy="316.1" r="6" fill="url(#gC)" stroke="none" stroke-width="1" />
<circle cx="116.6" cy="315.08" r="5" fill="url(#gC)" stroke="none" stroke-width="1" />
<circle cx="123.4" cy="313.73" r="3.4" fill="url(#gC)" stroke="none" stroke-width="1" />
<circle cx="130.2" cy="313.09" r="3.35" fill="url(#gC)" stroke="none" stroke-width="1" />
<circle cx="137" cy="312.78" r="3.31" fill="url(#gC)" stroke="none" stroke-width="1" />
<circle cx="143.8" cy="312.74" r="3.26" fill="url(#gC)" stroke="none" stroke-width="1" />
<circle cx="150.6" cy="313.09" r="3.22" fill="url(#gC)" stroke="none" stroke-width="1" />
<circle cx="157.4" cy="313.97" r="3.17" fill="url(#gC)" stroke="none" stroke-width="1" />
<circle cx="164.2" cy="314.94" r="3.13" fill="url(#gC)" stroke="none" stroke-width="1" />
<circle cx="171" cy="315.79" r="3.08" fill="url(#gC)" stroke="none" stroke-width="1" />
<circle cx="177.8" cy="316.53" r="3.04" fill="url(#gC)" stroke="none" stroke-width="1" />
<circle cx="184.6" cy="317.11" r="2.99" fill="url(#gC)" stroke="none" stroke-width="1" />
<circle cx="191.4" cy="317.59" r="2.95" fill="url(#gC)" stroke="none" stroke-width="1" />
<circle cx="198.2" cy="317.9" r="2.9" fill="url(#gC)" stroke="none" stroke-width="1" />
<circle cx="211.09" cy="319.91" r="2.68" fill="url(#gC)" stroke="none" stroke-width="1" />
<circle cx="217.53" cy="321.83" r="2.67" fill="url(#gC)" stroke="none" stroke-width="1" />
<circle cx="223.97" cy="323.21" r="2.65" fill="url(#gC)" stroke="none" stroke-width="1" />
<circle cx="230.41" cy="323.96" r="2.63" fill="url(#gC)" stroke="none" stroke-width="1" />
<circle cx="236.86" cy="323.94" r="2.62" fill="url(#gC)" stroke="none" stroke-width="1" />
<circle cx="243.3" cy="322.5" r="2.6" fill="url(#gC)" stroke="none" stroke-width="1" />
<circle cx="256.36" cy="321.33" r="3.04" fill="url(#gC)" stroke="none" stroke-width="1" />
<circle cx="262.89" cy="319.53" r="3.07" fill="url(#gC)" stroke="none" stroke-width="1" />
<circle cx="269.41" cy="316.5" r="3.11" fill="url(#gC)" stroke="none" stroke-width="1" />
<circle cx="275.94" cy="315.44" r="3.15" fill="url(#gC)" stroke="none" stroke-width="1" />
<circle cx="282.47" cy="314.56" r="3.19" fill="url(#gC)" stroke="none" stroke-width="1" />
<circle cx="289" cy="313.74" r="3.22" fill="url(#gC)" stroke="none" stroke-width="1" />
<circle cx="295.53" cy="313.07" r="3.26" fill="url(#gC)" stroke="none" stroke-width="1" />
<circle cx="302.06" cy="312.74" r="3.3" fill="url(#gC)" stroke="none" stroke-width="1" />
<circle cx="308.59" cy="312.72" r="3.33" fill="url(#gC)" stroke="none" stroke-width="1" />
<circle cx="315.11" cy="313.11" r="3.37" fill="url(#gC)" stroke="none" stroke-width="1" />
<circle cx="328.17" cy="316.55" r="5.08" fill="url(#gC)" stroke="none" stroke-width="1" />
<circle cx="334.7" cy="316.7" r="5.5" fill="url(#gC)" stroke="none" stroke-width="1" />
<circle cx="109.8" cy="322" r="1.2" fill="url(#gC)" stroke="none" stroke-width="1" />
<circle cx="116.6" cy="320.96" r="1.2" fill="url(#gC)" stroke="none" stroke-width="1" />
<circle cx="123.4" cy="321.01" r="1.2" fill="url(#gC)" stroke="none" stroke-width="1" />
<circle cx="130.2" cy="322.12" r="1.2" fill="url(#gC)" stroke="none" stroke-width="1" />
<circle cx="137" cy="323.43" r="1.2" fill="url(#gC)" stroke="none" stroke-width="1" />
<circle cx="143.8" cy="324.64" r="1.2" fill="url(#gC)" stroke="none" stroke-width="1" />
<circle cx="150.6" cy="325.73" r="1.2" fill="url(#gC)" stroke="none" stroke-width="1" />
<circle cx="157.4" cy="326.75" r="1.2" fill="url(#gC)" stroke="none" stroke-width="1" />
<circle cx="164.2" cy="327.62" r="1.2" fill="url(#gC)" stroke="none" stroke-width="1" />
<circle cx="171" cy="328.3" r="1.2" fill="url(#gC)" stroke="none" stroke-width="1" />
<circle cx="177.8" cy="328.85" r="1.2" fill="url(#gC)" stroke="none" stroke-width="1" />
<circle cx="184.6" cy="329.43" r="1.2" fill="url(#gC)" stroke="none" stroke-width="1" />
<circle cx="191.4" cy="330.11" r="1.2" fill="url(#gC)" stroke="none" stroke-width="1" />
<circle cx="198.2" cy="330.6" r="1.2" fill="url(#gC)" stroke="none" stroke-width="1" />
<circle cx="204.64" cy="330.84" r="1.2" fill="url(#gC)" stroke="none" stroke-width="1" />
<circle cx="211.09" cy="331" r="1.2" fill="url(#gC)" stroke="none" stroke-width="1" />
<circle cx="217.53" cy="331.18" r="1.2" fill="url(#gC)" stroke="none" stroke-width="1" />
<circle cx="223.97" cy="331.46" r="1.2" fill="url(#gC)" stroke="none" stroke-width="1" />
<circle cx="230.41" cy="332.11" r="1.2" fill="url(#gC)" stroke="none" stroke-width="1" />
<circle cx="236.86" cy="333.35" r="1.2" fill="url(#gC)" stroke="none" stroke-width="1" />
<circle cx="243.3" cy="334.3" r="1.2" fill="url(#gC)" stroke="none" stroke-width="1" />
<circle cx="249.83" cy="332.05" r="1.2" fill="url(#gC)" stroke="none" stroke-width="1" />
<circle cx="256.36" cy="329.72" r="1.2" fill="url(#gC)" stroke="none" stroke-width="1" />
<circle cx="262.89" cy="327.77" r="1.2" fill="url(#gC)" stroke="none" stroke-width="1" />
<circle cx="269.41" cy="327.23" r="1.2" fill="url(#gC)" stroke="none" stroke-width="1" />
<circle cx="275.94" cy="326.99" r="1.2" fill="url(#gC)" stroke="none" stroke-width="1" />
<circle cx="282.47" cy="326.69" r="1.2" fill="url(#gC)" stroke="none" stroke-width="1" />
<circle cx="289" cy="326" r="1.2" fill="url(#gC)" stroke="none" stroke-width="1" />
<circle cx="295.53" cy="325.07" r="1.2" fill="url(#gC)" stroke="none" stroke-width="1" />
<circle cx="302.06" cy="324.1" r="1.2" fill="url(#gC)" stroke="none" stroke-width="1" />
<circle cx="308.59" cy="323.07" r="1.2" fill="url(#gC)" stroke="none" stroke-width="1" />
<circle cx="315.11" cy="321.79" r="1.2" fill="url(#gC)" stroke="none" stroke-width="1" />
<circle cx="321.64" cy="319.99" r="1.2" fill="url(#gC)" stroke="none" stroke-width="1" />
<circle cx="328.17" cy="318.98" r="1.2" fill="url(#gC)" stroke="none" stroke-width="1" />
<circle cx="334.7" cy="318.5" r="1.2" fill="url(#gC)" stroke="none" stroke-width="1" />
<circle cx="123.4" cy="324.71" r="1.51" fill="url(#gC)" stroke="none" stroke-width="1" />
<circle cx="130.2" cy="328.44" r="1.72" fill="url(#gC)" stroke="none" stroke-width="1" />
<circle cx="137" cy="330.34" r="1.93" fill="url(#gC)" stroke="none" stroke-width="1" />
<circle cx="143.8" cy="331.76" r="2.14" fill="url(#gC)" stroke="none" stroke-width="1" />
<circle cx="150.6" cy="332.72" r="2.34" fill="url(#gC)" stroke="none" stroke-width="1" />
<circle cx="157.4" cy="333.25" r="2.55" fill="url(#gC)" stroke="none" stroke-width="1" />
<circle cx="164.2" cy="333.32" r="2.76" fill="url(#gC)" stroke="none" stroke-width="1" />
<circle cx="171" cy="333.17" r="2.97" fill="url(#gC)" stroke="none" stroke-width="1" />
<circle cx="177.8" cy="332.85" r="3.18" fill="url(#gC)" stroke="none" stroke-width="1" />
<circle cx="184.6" cy="332.55" r="3.38" fill="url(#gC)" stroke="none" stroke-width="1" />
<circle cx="191.4" cy="332.33" r="3.59" fill="url(#gC)" stroke="none" stroke-width="1" />
<circle cx="198.2" cy="332.2" r="3.8" fill="url(#gC)" stroke="none" stroke-width="1" />
<circle cx="211.09" cy="332.57" r="3.49" fill="url(#gC)" stroke="none" stroke-width="1" />
<circle cx="217.53" cy="333.11" r="3.38" fill="url(#gC)" stroke="none" stroke-width="1" />
<circle cx="223.97" cy="334.65" r="3.26" fill="url(#gC)" stroke="none" stroke-width="1" />
<circle cx="230.41" cy="336.67" r="3.15" fill="url(#gC)" stroke="none" stroke-width="1" />
<circle cx="236.86" cy="338.32" r="3.03" fill="url(#gC)" stroke="none" stroke-width="1" />
<circle cx="243.3" cy="337.8" r="2.92" fill="url(#gC)" stroke="none" stroke-width="1" />
<circle cx="249.83" cy="336.77" r="2.8" fill="url(#gC)" stroke="none" stroke-width="1" />
<circle cx="256.36" cy="334.66" r="1.4" fill="url(#gC)" stroke="none" stroke-width="1" />
<circle cx="262.89" cy="333.29" r="1.42" fill="url(#gC)" stroke="none" stroke-width="1" />
<circle cx="269.41" cy="332.79" r="1.43" fill="url(#gC)" stroke="none" stroke-width="1" />
<circle cx="275.94" cy="332.84" r="1.45" fill="url(#gC)" stroke="none" stroke-width="1" />
<circle cx="282.47" cy="332.83" r="1.47" fill="url(#gC)" stroke="none" stroke-width="1" />
<circle cx="289" cy="332.5" r="1.48" fill="url(#gC)" stroke="none" stroke-width="1" />
<circle cx="295.53" cy="331.91" r="1.5" fill="url(#gC)" stroke="none" stroke-width="1" />
<circle cx="302.06" cy="330.79" r="1.52" fill="url(#gC)" stroke="none" stroke-width="1" />
<circle cx="308.59" cy="328.57" r="1.53" fill="url(#gC)" stroke="none" stroke-width="1" />
<circle cx="315.11" cy="324.81" r="1.55" fill="url(#gC)" stroke="none" stroke-width="1" />
<circle cx="321.64" cy="320.93" r="1.57" fill="url(#gC)" stroke="none" stroke-width="1" />
<circle cx="328.17" cy="319.24" r="1.58" fill="url(#gC)" stroke="none" stroke-width="1" />
<circle cx="334.7" cy="318.5" r="1.6" fill="url(#gC)" stroke="none" stroke-width="1" />
<circle cx="109.8" cy="321" r="2.5" fill="#fff" stroke="#f2a868" stroke-width="0.75" />
<circle cx="116.6" cy="323.34" r="2.45" fill="#fff" stroke="#f2a868" stroke-width="0.75" />
<circle cx="123.4" cy="328.71" r="2.4" fill="#fff" stroke="#f2a868" stroke-width="0.75" />
<circle cx="130.2" cy="333.81" r="2.35" fill="#fff" stroke="#f2a868" stroke-width="0.75" />
<circle cx="137" cy="336.83" r="2.3" fill="#fff" stroke="#f2a868" stroke-width="0.75" />
<circle cx="143.8" cy="339.51" r="2.25" fill="#fff" stroke="#f2a868" stroke-width="0.75" />
<circle cx="157.4" cy="349.06" r="1.3" fill="#fff" stroke="#f2a868" stroke-width="0.75" />
<circle cx="164.2" cy="353.07" r="1.3" fill="#fff" stroke="#f2a868" stroke-width="0.75" />
<circle cx="171" cy="356.32" r="1.3" fill="#fff" stroke="#f2a868" stroke-width="0.75" />
<circle cx="177.8" cy="359.01" r="1.3" fill="#fff" stroke="#f2a868" stroke-width="0.75" />
<circle cx="184.6" cy="360.96" r="1.3" fill="#fff" stroke="#f2a868" stroke-width="0.75" />
<circle cx="191.4" cy="362.21" r="1.3" fill="#fff" stroke="#f2a868" stroke-width="0.75" />
<circle cx="198.2" cy="362.6" r="1.3" fill="#fff" stroke="#f2a868" stroke-width="0.75" />
<circle cx="204.64" cy="362.14" r="1.3" fill="#fff" stroke="#f2a868" stroke-width="0.75" />
<circle cx="211.09" cy="361.08" r="1.3" fill="#fff" stroke="#f2a868" stroke-width="0.75" />
<circle cx="223.97" cy="356.3" r="2.3" fill="#fff" stroke="#f2a868" stroke-width="0.75" />
<circle cx="230.41" cy="353.37" r="2.3" fill="#fff" stroke="#f2a868" stroke-width="0.75" />
<circle cx="236.86" cy="350.26" r="2.3" fill="#fff" stroke="#f2a868" stroke-width="0.75" />
<circle cx="243.3" cy="346.9" r="2.3" fill="#fff" stroke="#f2a868" stroke-width="0.75" />
<circle cx="249.83" cy="346.5" r="2.3" fill="#fff" stroke="#f2a868" stroke-width="0.75" />
<circle cx="256.36" cy="346.85" r="2.3" fill="#fff" stroke="#f2a868" stroke-width="0.75" />
<circle cx="262.89" cy="348.66" r="2.3" fill="#fff" stroke="#f2a868" stroke-width="0.75" />
<circle cx="269.41" cy="351.8" r="2.3" fill="#fff" stroke="#f2a868" stroke-width="0.75" />
<circle cx="275.94" cy="353.99" r="2.3" fill="#fff" stroke="#f2a868" stroke-width="0.75" />
<circle cx="282.47" cy="351.21" r="2.3" fill="#fff" stroke="#f2a868" stroke-width="0.75" />
<circle cx="289" cy="346.97" r="2.3" fill="#fff" stroke="#f2a868" stroke-width="0.75" />
<circle cx="295.53" cy="343.01" r="2.3" fill="#fff" stroke="#f2a868" stroke-width="0.75" />
<circle cx="302.06" cy="339.44" r="2.3" fill="#fff" stroke="#f2a868" stroke-width="0.75" />
<circle cx="308.59" cy="335.55" r="2.3" fill="#fff" stroke="#f2a868" stroke-width="0.75" />
<circle cx="315.11" cy="330.72" r="1.5" fill="#fff" stroke="#f2a868" stroke-width="0.75" />
<circle cx="321.64" cy="325.71" r="1.5" fill="#fff" stroke="#f2a868" stroke-width="0.75" />
<circle cx="328.17" cy="322.66" r="1.5" fill="#fff" stroke="#f2a868" stroke-width="0.75" />
<circle cx="334.7" cy="322" r="1.5" fill="#fff" stroke="#f2a868" stroke-width="0.75" />
<circle cx="109.8" cy="324" r="2.2" fill="url(#gC)" stroke="none" stroke-width="1" />
<circle cx="116.6" cy="326.36" r="2.2" fill="url(#gC)" stroke="none" stroke-width="1" />
<circle cx="123.4" cy="331.75" r="2.2" fill="url(#gC)" stroke="none" stroke-width="1" />
<circle cx="137" cy="340.45" r="1.5" fill="url(#gC)" stroke="none" stroke-width="1" />
<circle cx="143.8" cy="344.21" r="1.5" fill="url(#gC)" stroke="none" stroke-width="1" />
<circle cx="150.6" cy="348.3" r="1.5" fill="url(#gC)" stroke="none" stroke-width="1" />
<circle cx="157.4" cy="353.06" r="1.5" fill="url(#gC)" stroke="none" stroke-width="1" />
<circle cx="164.2" cy="357.07" r="1.5" fill="url(#gC)" stroke="none" stroke-width="1" />
<circle cx="171" cy="360.45" r="1.5" fill="url(#gC)" stroke="none" stroke-width="1" />
<circle cx="177.8" cy="363.73" r="1.5" fill="url(#gC)" stroke="none" stroke-width="1" />
<circle cx="184.6" cy="365.66" r="1.5" fill="url(#gC)" stroke="none" stroke-width="1" />
<circle cx="191.4" cy="366.91" r="1.5" fill="url(#gC)" stroke="none" stroke-width="1" />
<circle cx="198.2" cy="367.6" r="1.5" fill="url(#gC)" stroke="none" stroke-width="1" />
<circle cx="204.64" cy="367.12" r="1.5" fill="url(#gC)" stroke="none" stroke-width="1" />
<circle cx="211.09" cy="367.16" r="1.5" fill="url(#gC)" stroke="none" stroke-width="1" />
<circle cx="217.53" cy="366.09" r="1.5" fill="url(#gC)" stroke="none" stroke-width="1" />
<circle cx="223.97" cy="363.7" r="1.5" fill="url(#gC)" stroke="none" stroke-width="1" />
<circle cx="230.41" cy="360.62" r="1.5" fill="url(#gC)" stroke="none" stroke-width="1" />
<circle cx="236.86" cy="357.24" r="1.5" fill="url(#gC)" stroke="none" stroke-width="1" />
<circle cx="243.3" cy="354" r="1.5" fill="url(#gC)" stroke="none" stroke-width="1" />
<circle cx="249.83" cy="353.65" r="1.5" fill="url(#gC)" stroke="none" stroke-width="1" />
<circle cx="262.89" cy="356.07" r="2.59" fill="url(#gC)" stroke="none" stroke-width="1" />
<circle cx="269.41" cy="357.76" r="2.52" fill="url(#gC)" stroke="none" stroke-width="1" />
<circle cx="275.94" cy="358.54" r="2.45" fill="url(#gC)" stroke="none" stroke-width="1" />
<circle cx="282.47" cy="355.41" r="2.38" fill="url(#gC)" stroke="none" stroke-width="1" />
<circle cx="289" cy="351.58" r="2.32" fill="url(#gC)" stroke="none" stroke-width="1" />
<circle cx="295.53" cy="347.58" r="2.25" fill="url(#gC)" stroke="none" stroke-width="1" />
<circle cx="308.59" cy="339.16" r="1.6" fill="url(#gC)" stroke="none" stroke-width="1" />
<circle cx="315.11" cy="334.94" r="1.6" fill="url(#gC)" stroke="none" stroke-width="1" />
<circle cx="321.64" cy="329.74" r="1.6" fill="url(#gC)" stroke="none" stroke-width="1" />
<circle cx="328.17" cy="325.36" r="1.6" fill="url(#gC)" stroke="none" stroke-width="1" />
<circle cx="334.7" cy="323" r="1.6" fill="url(#gC)" stroke="none" stroke-width="1" />
<circle cx="109.8" cy="326" r="1.1" fill="url(#gC)" stroke="none" stroke-width="1" />
<circle cx="116.6" cy="328.66" r="1.1" fill="url(#gC)" stroke="none" stroke-width="1" />
<circle cx="123.4" cy="333.83" r="1.1" fill="url(#gC)" stroke="none" stroke-width="1" />
<circle cx="130.2" cy="340.16" r="1.1" fill="url(#gC)" stroke="none" stroke-width="1" />
<circle cx="137" cy="345.11" r="1.1" fill="url(#gC)" stroke="none" stroke-width="1" />
<circle cx="143.8" cy="349.16" r="1.1" fill="url(#gC)" stroke="none" stroke-width="1" />
<circle cx="150.6" cy="352.23" r="1.1" fill="url(#gC)" stroke="none" stroke-width="1" />
<circle cx="157.4" cy="354.63" r="1.1" fill="url(#gC)" stroke="none" stroke-width="1" />
<circle cx="164.2" cy="356.76" r="1.1" fill="url(#gC)" stroke="none" stroke-width="1" />
<circle cx="171" cy="358.76" r="1.1" fill="url(#gC)" stroke="none" stroke-width="1" />
<circle cx="177.8" cy="360.51" r="1.1" fill="url(#gC)" stroke="none" stroke-width="1" />
<circle cx="184.6" cy="361.9" r="1.1" fill="url(#gC)" stroke="none" stroke-width="1" />
<circle cx="191.4" cy="363.05" r="1.1" fill="url(#gC)" stroke="none" stroke-width="1" />
<circle cx="198.2" cy="364" r="1.1" fill="url(#gC)" stroke="none" stroke-width="1" />
<circle cx="204.64" cy="364.46" r="1.1" fill="url(#gC)" stroke="none" stroke-width="1" />
<circle cx="211.09" cy="364.82" r="1.1" fill="url(#gC)" stroke="none" stroke-width="1" />
<circle cx="217.53" cy="366.42" r="1.1" fill="url(#gC)" stroke="none" stroke-width="1" />
<circle cx="223.97" cy="369.26" r="1.1" fill="url(#gC)" stroke="none" stroke-width="1" />
<circle cx="230.41" cy="371.91" r="1.1" fill="url(#gC)" stroke="none" stroke-width="1" />
<circle cx="236.86" cy="372.99" r="1.1" fill="url(#gC)" stroke="none" stroke-width="1" />
<circle cx="243.3" cy="372.7" r="1.1" fill="url(#gC)" stroke="none" stroke-width="1" />
<circle cx="249.83" cy="371.48" r="1.1" fill="url(#gC)" stroke="none" stroke-width="1" />
<circle cx="256.36" cy="369.65" r="1.1" fill="url(#gC)" stroke="none" stroke-width="1" />
<circle cx="262.89" cy="366.79" r="1.1" fill="url(#gC)" stroke="none" stroke-width="1" />
<circle cx="269.41" cy="364.04" r="1.1" fill="url(#gC)" stroke="none" stroke-width="1" />
<circle cx="275.94" cy="365.22" r="1.1" fill="url(#gC)" stroke="none" stroke-width="1" />
<circle cx="282.47" cy="361.74" r="1.1" fill="url(#gC)" stroke="none" stroke-width="1" />
<circle cx="289" cy="356.87" r="1.1" fill="url(#gC)" stroke="none" stroke-width="1" />
<circle cx="295.53" cy="352.5" r="1.1" fill="url(#gC)" stroke="none" stroke-width="1" />
<circle cx="302.06" cy="347.78" r="1.1" fill="url(#gC)" stroke="none" stroke-width="1" />
<circle cx="308.59" cy="343.39" r="1.1" fill="url(#gC)" stroke="none" stroke-width="1" />
<circle cx="315.11" cy="339.74" r="1.1" fill="url(#gC)" stroke="none" stroke-width="1" />
<circle cx="321.64" cy="335.55" r="1.1" fill="url(#gC)" stroke="none" stroke-width="1" />
<circle cx="328.17" cy="330.19" r="1.1" fill="url(#gC)" stroke="none" stroke-width="1" />
<circle cx="334.7" cy="327" r="1.1" fill="url(#gC)" stroke="none" stroke-width="1" />
<polygon points="109.8,343.4 111.32,346.12 108.28,346.12" fill="#0000ff"/>
<polygon points="116.6,343.82 118.12,346.54 115.08,346.54" fill="#0000ff"/>
<polygon points="123.4,345.14 124.92,347.86 121.88,347.86" fill="#0000ff"/>
<polygon points="130.2,346.92 131.72,349.64 128.68,349.64" fill="#0000ff"/>
<polygon points="137,349.09 138.52,351.81 135.48,351.81" fill="#0000ff"/>
<polygon points="143.8,351.75 145.32,354.47 142.28,354.47" fill="#0000ff"/>
<polygon points="150.6,354.66 152.12,357.38 149.08,357.38" fill="#0000ff"/>
<polygon points="157.4,357.79 158.92,360.51 155.88,360.51" fill="#0000ff"/>
<polygon points="164.2,361.02 165.72,363.74 162.68,363.74" fill="#0000ff"/>
<polygon points="171,364.3 172.52,367.02 169.48,367.02" fill="#0000ff"/>
<polygon points="177.8,367.48 179.32,370.2 176.28,370.2" fill="#0000ff"/>
<polygon points="184.6,370.21 186.12,372.93 183.08,372.93" fill="#0000ff"/>
<polygon points="191.4,372.7 192.92,375.42 189.88,375.42" fill="#0000ff"/>
<polygon points="198.2,374.8 199.72,377.52 196.68,377.52" fill="#0000ff"/>
<circle cx="211.09" cy="374.43" r="1.1" fill="url(#gC)" stroke="none" stroke-width="1" />
<circle cx="217.53" cy="373.63" r="1.1" fill="url(#gC)" stroke="none" stroke-width="1" />
<circle cx="223.97" cy="374.23" r="1.1" fill="url(#gC)" stroke="none" stroke-width="1" />
<circle cx="230.41" cy="375.26" r="1.1" fill="url(#gC)" stroke="none" stroke-width="1" />
<circle cx="236.86" cy="375.82" r="1.1" fill="url(#gC)" stroke="none" stroke-width="1" />
<circle cx="243.3" cy="375.8" r="1.1" fill="url(#gC)" stroke="none" stroke-width="1" />
<circle cx="249.83" cy="374.98" r="1.1" fill="url(#gC)" stroke="none" stroke-width="1" />
<circle cx="256.36" cy="373.3" r="1.1" fill="url(#gC)" stroke="none" stroke-width="1" />
<circle cx="262.89" cy="369.85" r="1.1" fill="url(#gC)" stroke="none" stroke-width="1" />
<circle cx="269.41" cy="366.58" r="1.1" fill="url(#gC)" stroke="none" stroke-width="1" />
<circle cx="275.94" cy="364.61" r="1.1" fill="url(#gC)" stroke="none" stroke-width="1" />
<circle cx="282.47" cy="362.25" r="1.1" fill="url(#gC)" stroke="none" stroke-width="1" />
<circle cx="289" cy="358.3" r="1.1" fill="url(#gC)" stroke="none" stroke-width="1" />
<circle cx="295.53" cy="353.68" r="1.1" fill="url(#gC)" stroke="none" stroke-width="1" />
<circle cx="302.06" cy="349.37" r="1.1" fill="url(#gC)" stroke="none" stroke-width="1" />
<circle cx="308.59" cy="345.21" r="1.1" fill="url(#gC)" stroke="none" stroke-width="1" />
<circle cx="315.11" cy="340.9" r="1.1" fill="url(#gC)" stroke="none" stroke-width="1" />
<circle cx="321.64" cy="336.44" r="1.1" fill="url(#gC)" stroke="none" stroke-width="1" />
<circle cx="328.17" cy="332.43" r="1.1" fill="url(#gC)" stroke="none" stroke-width="1" />
<circle cx="334.7" cy="330" r="1.1" fill="url(#gC)" stroke="none" stroke-width="1" />
<circle cx="109.8" cy="347.4" r="2" fill="#fff" stroke="#444" stroke-width="0.6" />
<circle cx="116.6" cy="347.46" r="2" fill="#fff" stroke="#444" stroke-width="0.6" />
<circle cx="123.4" cy="348.98" r="2" fill="#fff" stroke="#444" stroke-width="0.6" />
<circle cx="130.2" cy="351.81" r="2" fill="#fff" stroke="#444" stroke-width="0.6" />
<circle cx="137" cy="356.63" r="2" fill="#fff" stroke="#444" stroke-width="0.6" />
<circle cx="143.8" cy="360.91" r="2" fill="#fff" stroke="#444" stroke-width="0.6" />
<circle cx="150.6" cy="364.35" r="2" fill="#fff" stroke="#444" stroke-width="0.6" />
<circle cx="157.4" cy="367.8" r="2" fill="#fff" stroke="#444" stroke-width="0.6" />
<circle cx="164.2" cy="371.12" r="2" fill="#fff" stroke="#444" stroke-width="0.6" />
<circle cx="171" cy="373.8" r="2" fill="#fff" stroke="#444" stroke-width="0.6" />
<circle cx="177.8" cy="376.51" r="2" fill="#fff" stroke="#444" stroke-width="0.6" />
<circle cx="184.6" cy="378.46" r="2" fill="#fff" stroke="#444" stroke-width="0.6" />
<circle cx="191.4" cy="379.61" r="2" fill="#fff" stroke="#444" stroke-width="0.6" />
<circle cx="198.2" cy="380.3" r="2" fill="#fff" stroke="#444" stroke-width="0.6" />
<polygon points="109.8,347.9 111.89,351.64 107.71,351.64" fill="#0000ff"/>
<polygon points="116.6,350.63 118.69,354.37 114.51,354.37" fill="#0000ff"/>
<polygon points="123.4,350.02 125.49,353.76 121.31,353.76" fill="#0000ff"/>
<polygon points="130.2,352.93 132.29,356.67 128.11,356.67" fill="#0000ff"/>
<polygon points="137,356.37 139.09,360.11 134.91,360.11" fill="#0000ff"/>
<polygon points="143.8,359.41 145.89,363.15 141.71,363.15" fill="#0000ff"/>
<polygon points="150.6,363.46 152.69,367.2 148.51,367.2" fill="#0000ff"/>
<polygon points="157.4,366.9 159.49,370.64 155.31,370.64" fill="#0000ff"/>
<polygon points="164.2,370.35 166.29,374.09 162.11,374.09" fill="#0000ff"/>
<polygon points="171,373.62 173.09,377.36 168.91,377.36" fill="#0000ff"/>
<polygon points="177.8,376.31 179.89,380.05 175.71,380.05" fill="#0000ff"/>
<polygon points="184.6,378.26 186.69,382 182.51,382" fill="#0000ff"/>
<polygon points="191.4,379.51 193.49,383.25 189.31,383.25" fill="#0000ff"/>
<polygon points="198.2,380.1 200.29,383.84 196.11,383.84" fill="#0000ff"/>
<polygon points="109.8,347.2 111.89,350.94 107.71,350.94" fill="#0000ff"/>
<polygon points="116.6,349.67 118.69,353.41 114.51,353.41" fill="#0000ff"/>
<polygon points="123.4,358.81 125.49,362.55 121.31,362.55" fill="#0000ff"/>
<polygon points="130.2,368.47 132.29,372.21 128.11,372.21" fill="#0000ff"/>
<polygon points="137,379.36 139.09,383.1 134.91,383.1" fill="#0000ff"/>
<circle cx="109.8" cy="347" r="1.8" fill="#fff" stroke="#444" stroke-width="0.6" />
<circle cx="116.6" cy="349.51" r="1.8" fill="#fff" stroke="#444" stroke-width="0.6" />
<circle cx="123.4" cy="357.24" r="1.8" fill="#fff" stroke="#444" stroke-width="0.6" />
<circle cx="130.2" cy="366.8" r="1.8" fill="#fff" stroke="#444" stroke-width="0.6" />
<circle cx="137" cy="377.44" r="1.8" fill="#fff" stroke="#444" stroke-width="0.6" />
<circle cx="109.8" cy="322" r="1.3" fill="url(#gC)" stroke="none" stroke-width="1" />
<circle cx="116.6" cy="328.62" r="1.3" fill="url(#gC)" stroke="none" stroke-width="1" />
<circle cx="123.4" cy="336.74" r="1.3" fill="url(#gC)" stroke="none" stroke-width="1" />
<circle cx="130.2" cy="346.7" r="1.3" fill="url(#gC)" stroke="none" stroke-width="1" />
<circle cx="137" cy="356.24" r="1.3" fill="url(#gC)" stroke="none" stroke-width="1" />
<circle cx="143.8" cy="365.8" r="1.3" fill="url(#gC)" stroke="none" stroke-width="1" />
<circle cx="150.6" cy="376.94" r="1.3" fill="url(#gC)" stroke="none" stroke-width="1" />
<polygon points="256.36,380.31 258.45,384.05 254.27,384.05" fill="#0000ff"/>
<polygon points="262.89,376.93 264.98,380.67 260.8,380.67" fill="#0000ff"/>
<polygon points="269.41,373.47 271.5,377.21 267.32,377.21" fill="#0000ff"/>
<polygon points="275.94,372.47 278.03,376.21 273.85,376.21" fill="#0000ff"/>
<polygon points="282.47,369.46 284.56,373.2 280.38,373.2" fill="#0000ff"/>
<polygon points="289,366.28 291.09,370.02 286.91,370.02" fill="#0000ff"/>
<polygon points="295.53,362.65 297.62,366.39 293.44,366.39" fill="#0000ff"/>
<polygon points="302.06,358.8 304.15,362.54 299.97,362.54" fill="#0000ff"/>
<polygon points="308.59,355.02 310.68,358.76 306.5,358.76" fill="#0000ff"/>
<polygon points="315.11,352.03 317.2,355.77 313.02,355.77" fill="#0000ff"/>
<polygon points="321.64,349.92 323.73,353.66 319.55,353.66" fill="#0000ff"/>
<polygon points="328.17,347.86 330.26,351.6 326.08,351.6" fill="#0000ff"/>
<polygon points="334.7,346.9 336.79,350.64 332.61,350.64" fill="#0000ff"/>
<circle cx="262.89" cy="375.44" r="2" fill="#fff" stroke="#444" stroke-width="0.6" />
<circle cx="269.41" cy="372.07" r="2" fill="#fff" stroke="#444" stroke-width="0.6" />
<circle cx="275.94" cy="370.42" r="2" fill="#fff" stroke="#444" stroke-width="0.6" />
<circle cx="282.47" cy="368.51" r="2" fill="#fff" stroke="#444" stroke-width="0.6" />
<circle cx="289" cy="365.06" r="2" fill="#fff" stroke="#444" stroke-width="0.6" />
<circle cx="295.53" cy="361.03" r="2" fill="#fff" stroke="#444" stroke-width="0.6" />
<circle cx="302.06" cy="357.34" r="2" fill="#fff" stroke="#444" stroke-width="0.6" />
<circle cx="308.59" cy="353.87" r="2" fill="#fff" stroke="#444" stroke-width="0.6" />
<circle cx="315.11" cy="351.16" r="2" fill="#fff" stroke="#444" stroke-width="0.6" />
<circle cx="321.64" cy="349.16" r="2" fill="#fff" stroke="#444" stroke-width="0.6" />
<circle cx="328.17" cy="347.61" r="2" fill="#fff" stroke="#444" stroke-width="0.6" />
<circle cx="334.7" cy="347.4" r="2" fill="#fff" stroke="#444" stroke-width="0.6" />
<polygon points="308.59,375.18 310.68,378.92 306.5,378.92" fill="#0000ff"/>
<polygon points="315.11,366.95 317.2,370.69 313.02,370.69" fill="#0000ff"/>
<polygon points="321.64,357.19 323.73,360.93 319.55,360.93" fill="#0000ff"/>
<polygon points="328.17,349.85 330.26,353.59 326.08,353.59" fill="#0000ff"/>
<polygon points="334.7,347.5 336.79,351.24 332.61,351.24" fill="#0000ff"/>
<circle cx="289" cy="378.2" r="1.2" fill="url(#gC)" stroke="none" stroke-width="1" />
<circle cx="295.53" cy="371.9" r="1.2" fill="url(#gC)" stroke="none" stroke-width="1" />
<circle cx="302.06" cy="365.82" r="1.2" fill="url(#gC)" stroke="none" stroke-width="1" />
<circle cx="308.59" cy="359.07" r="1.2" fill="url(#gC)" stroke="none" stroke-width="1" />
<circle cx="315.11" cy="351.88" r="1.2" fill="url(#gC)" stroke="none" stroke-width="1" />
<circle cx="321.64" cy="348.56" r="1.2" fill="url(#gC)" stroke="none" stroke-width="1" />
<circle cx="328.17" cy="347.53" r="1.2" fill="url(#gC)" stroke="none" stroke-width="1" />
<circle cx="334.7" cy="347.2" r="1.2" fill="url(#gC)" stroke="none" stroke-width="1" />
<circle cx="302.06" cy="371.57" r="1.9" fill="#fff" stroke="#444" stroke-width="0.6" />
<circle cx="308.59" cy="362.96" r="1.9" fill="#fff" stroke="#444" stroke-width="0.6" />
<circle cx="315.11" cy="354.2" r="1.9" fill="#fff" stroke="#444" stroke-width="0.6" />
<circle cx="321.64" cy="349.25" r="1.9" fill="#fff" stroke="#444" stroke-width="0.6" />
<circle cx="328.17" cy="347.27" r="1.9" fill="#fff" stroke="#444" stroke-width="0.6" />
<circle cx="334.7" cy="346.5" r="1.9" fill="#fff" stroke="#444" stroke-width="0.6" />
</g>
<rect x="109.8" y="203.8" width="224.9" height="181.2" fill="none" stroke="#555" stroke-width="1.2" />
<line x1="109.8" y1="385" x2="114.8" y2="385" stroke="#555" stroke-width="1" />
<text x="104.8" y="390" font-size="15" fill="#000" stroke="#000" text-anchor="end" >-3</text>
<line x1="109.8" y1="354.8" x2="114.8" y2="354.8" stroke="#555" stroke-width="1" />
<text x="104.8" y="359.8" font-size="15" fill="#000" stroke="#000" text-anchor="end" >-2</text>
<line x1="109.8" y1="324.6" x2="114.8" y2="324.6" stroke="#555" stroke-width="1" />
<text x="104.8" y="329.6" font-size="15" fill="#000" stroke="#000" text-anchor="end" >-1</text>
<line x1="109.8" y1="294.4" x2="114.8" y2="294.4" stroke="#555" stroke-width="1" />
<text x="104.8" y="299.4" font-size="15" fill="#000" stroke="#000" text-anchor="end" >0</text>
<line x1="109.8" y1="264.2" x2="114.8" y2="264.2" stroke="#555" stroke-width="1" />
<text x="104.8" y="269.2" font-size="15" fill="#000" stroke="#000" text-anchor="end" >1</text>
<line x1="109.8" y1="234" x2="114.8" y2="234" stroke="#555" stroke-width="1" />
<text x="104.8" y="239" font-size="15" fill="#000" stroke="#000" text-anchor="end" >2</text>
<line x1="109.8" y1="203.8" x2="114.8" y2="203.8" stroke="#555" stroke-width="1" />
<text x="104.8" y="208.8" font-size="15" fill="#000" stroke="#000" text-anchor="end" >3</text>
<text x="109.8" y="400" font-size="15" fill="#000" stroke="#000" text-anchor="middle" >Γ</text>
<text x="198.2" y="400" font-size="15" fill="#000" stroke="#000" text-anchor="middle" >M</text>
<text x="243.3" y="400" font-size="15" fill="#000" stroke="#000" text-anchor="middle" >K</text>
<text x="334.7" y="400" font-size="15" fill="#000" stroke="#000" text-anchor="middle" >Γ</text>
<text transform="translate(89.5,285.5) rotate(-90)" font-size="14.5" text-anchor="middle" stroke="#000">Energy (eV)</text>
<g stroke="#2020ff" fill="#2020ff">
<line x1="124" y1="287.4" x2="113.05" y2="272.44" stroke="#2020ff" stroke-width="1" />
<polygon points="110.1,268.4 115.74,271.71 111.54,274.78" fill="#2020ff"/>
<line x1="124" y1="287.4" x2="135.56" y2="302.53" stroke="#2020ff" stroke-width="1" />
<polygon points="138.6,306.5 132.89,303.31 137.02,300.15" fill="#2020ff"/>
</g>
<text x="137" y="297.5" font-size="15" fill="#000" stroke="#000" text-anchor="start" >1.34 eV</text>
<polygon points="173.3,246.3 176.72,248.79 175.42,252.81 171.18,252.81 169.88,248.79" fill="#fff" stroke="#333" stroke-width="0.8"/>
<text x="181.2" y="253.1" font-size="12" fill="#000" stroke="#000" text-anchor="start" >In- <tspan font-style="italic">p</tspan> @ DW</text>
<polygon points="174.5,259.9 175.56,262.44 178.3,262.66 176.21,264.46 176.85,267.14 174.5,265.7 172.15,267.14 172.79,264.46 170.7,262.66 173.44,262.44" fill="#fff" stroke="#a050f0" stroke-width="0.8"/>
<text x="181.2" y="267.6" font-size="12" fill="#000" stroke="#000" text-anchor="start" >In-<tspan font-style="italic">s</tspan> @ DW</text>
<circle cx="173.7" cy="277.3" r="3.5" fill="#fff" stroke="#f0a060" stroke-width="0.9" />
<text x="181.2" y="281" font-size="12" fill="#000" stroke="#000" text-anchor="start" >Se- <tspan font-style="italic">p</tspan> @ DW</text>
<circle cx="248.6" cy="249.7" r="3.6" fill="#ff0000" stroke="none" stroke-width="1" />
<text x="254.2" y="253.3" font-size="12" fill="#000" stroke="#000" text-anchor="start" >In-<tspan font-style="italic">s</tspan> @WZ'</text>
<polygon points="248.3,259.7 252.39,267.01 244.22,267.01" fill="#0000ff"/>
<text x="254.2" y="266.9" font-size="12" fill="#000" stroke="#000" text-anchor="start" >In-<tspan font-style="italic">p</tspan> @WZ'</text>
<circle cx="248.9" cy="278.3" r="3.6" fill="url(#gC)" stroke="none" stroke-width="1" />
<text x="254.2" y="280.7" font-size="12" fill="#000" stroke="#000" text-anchor="start" >Se-<tspan font-style="italic">p</tspan> @WZ'</text>
<text x="265.6" y="299.9" font-size="13" fill="#000" stroke="#000" text-anchor="start" >With NDW</text>
<defs><clipPath id="clipG"><rect x="460.2" y="204.9" width="220.3" height="180.49999999999997"/></clipPath></defs>
<text x="423.2" y="202.8" font-size="19.5" fill="#000" stroke="#000" text-anchor="start" >g</text>
<line x1="551.4" y1="204.9" x2="551.4" y2="385.4" stroke="#ff5050" stroke-width="0.8" stroke-dasharray="1.5 1.8"/>
<line x1="593.7" y1="204.9" x2="593.7" y2="385.4" stroke="#ff5050" stroke-width="0.8" stroke-dasharray="1.5 1.8"/>
<g clip-path="url(#clipG)">
<path d="M460.2,212 L461.06,211.99 L461.92,211.95 L462.79,211.88 L463.65,211.78 L464.51,211.65 L465.36,211.47 L466.19,211.26 L467,211 L467.79,210.68 L468.56,210.28 L469.31,209.83 L470.05,209.34 L470.79,208.85 L471.52,208.36 L472.26,207.91 L473,207.5 L473.77,207.14 L474.57,206.79 L475.38,206.47 L476.19,206.16 L476.97,205.86 L477.71,205.57 L478.39,205.28 L479,205 L479.52,204.73 L479.96,204.46 L480.34,204.21 L480.69,203.97 L481.01,203.73 L481.32,203.49 L481.65,203.25 L482,203" stroke="#282828" stroke-width="1.1" fill="none" stroke-linejoin="round"/>
<path d="M460.2,208 L460.94,207.96 L461.69,207.86 L462.45,207.7 L463.21,207.5 L463.96,207.27 L464.68,207.02 L465.36,206.76 L466,206.5 L466.6,206.23 L467.17,205.93 L467.72,205.61 L468.24,205.28 L468.73,204.94 L469.18,204.61 L469.61,204.3 L470,204 L470.35,203.73 L470.64,203.46 L470.9,203.21 L471.12,202.97 L471.34,202.73 L471.55,202.49 L471.76,202.25 L472,202" stroke="#282828" stroke-width="1.1" fill="none" stroke-linejoin="round"/>
<path d="M460.2,214.9 L461.05,214.87 L461.9,214.78 L462.75,214.63 L463.59,214.44 L464.44,214.2 L465.29,213.93 L466.15,213.63 L467,213.3 L467.86,212.92 L468.72,212.49 L469.58,212 L470.44,211.49 L471.3,210.96 L472.17,210.45 L473.03,209.95 L473.9,209.5 L474.77,209.07 L475.64,208.64 L476.51,208.22 L477.39,207.82 L478.26,207.44 L479.14,207.08 L480.02,206.77 L480.9,206.5 L481.78,206.28 L482.67,206.1 L483.56,205.95 L484.45,205.84 L485.34,205.75 L486.23,205.68 L487.12,205.64 L488,205.6 L488.87,205.57 L489.74,205.56 L490.59,205.56 L491.45,205.59 L492.31,205.64 L493.19,205.72 L494.08,205.84 L495,206 L495.95,206.2 L496.93,206.44 L497.94,206.72 L498.95,207.03 L499.96,207.36 L500.97,207.72 L501.95,208.1 L502.9,208.5 L503.82,208.92 L504.71,209.37 L505.59,209.85 L506.46,210.35 L507.31,210.87 L508.17,211.4 L509.03,211.95 L509.9,212.5 L510.78,213.08 L511.66,213.68 L512.55,214.31 L513.44,214.95 L514.32,215.59 L515.19,216.22 L516.05,216.82 L516.9,217.4 L517.72,217.95 L518.52,218.48 L519.3,218.99 L520.08,219.49 L520.86,219.98 L521.65,220.46 L522.46,220.93 L523.3,221.4 L524.17,221.86 L525.07,222.32 L525.99,222.77 L526.92,223.21 L527.85,223.65 L528.78,224.07 L529.7,224.49 L530.6,224.9 L531.48,225.31 L532.35,225.71 L533.21,226.11 L534.07,226.5 L534.92,226.88 L535.78,227.24 L536.64,227.58 L537.5,227.9 L538.37,228.2 L539.25,228.48 L540.12,228.75 L541,229 L541.88,229.23 L542.75,229.44 L543.63,229.63 L544.5,229.8 L545.39,229.95 L546.31,230.1 L547.24,230.23 L548.16,230.34 L549.06,230.42 L549.91,230.46 L550.7,230.46 L551.4,230.4 L551.99,230.28 L552.48,230.1 L552.89,229.88 L553.26,229.62 L553.63,229.33 L554.02,229.02 L554.46,228.71 L555,228.4 L555.62,228.09 L556.29,227.79 L557,227.47 L557.74,227.14 L558.51,226.78 L559.29,226.39 L560.09,225.97 L560.9,225.5 L561.73,224.98 L562.6,224.42 L563.49,223.82 L564.4,223.19 L565.31,222.54 L566.2,221.87 L567.07,221.19 L567.9,220.5 L568.69,219.79 L569.45,219.06 L570.19,218.3 L570.91,217.53 L571.63,216.76 L572.34,215.99 L573.07,215.23 L573.8,214.5 L574.55,213.78 L575.32,213.07 L576.09,212.36 L576.86,211.66 L577.62,210.97 L578.37,210.29 L579.1,209.64 L579.8,209 L580.48,208.38 L581.14,207.76 L581.78,207.15 L582.41,206.56 L583.03,206 L583.63,205.46 L584.22,204.96 L584.8,204.5 L585.36,204.09 L585.91,203.73 L586.43,203.42 L586.95,203.12 L587.46,202.85 L587.97,202.58 L588.48,202.3 L589,202" stroke="#282828" stroke-width="1.1" fill="none" stroke-linejoin="round"/>
<path d="M512,202 L512.68,202.39 L513.35,202.81 L514,203.23 L514.66,203.66 L515.33,204.06 L516.04,204.43 L516.79,204.74 L517.6,205 L518.48,205.18 L519.44,205.28 L520.44,205.34 L521.47,205.36 L522.51,205.37 L523.54,205.38 L524.54,205.42 L525.5,205.5 L526.41,205.62 L527.28,205.75 L528.14,205.89 L528.98,206.05 L529.82,206.21 L530.66,206.38 L531.52,206.54 L532.4,206.7 L533.3,206.86 L534.21,207.02 L535.13,207.18 L536.06,207.35 L537,207.52 L537.93,207.68 L538.87,207.84 L539.8,208 L540.76,208.16 L541.75,208.34 L542.75,208.52 L543.76,208.69 L544.73,208.86 L545.66,209 L546.52,209.12 L547.3,209.2 L547.96,209.25 L548.53,209.29 L549.02,209.31 L549.47,209.3 L549.9,209.27 L550.35,209.21 L550.84,209.12 L551.4,209 L552.03,208.84 L552.71,208.63 L553.42,208.38 L554.15,208.11 L554.89,207.83 L555.61,207.54 L556.32,207.26 L557,207 L557.66,206.76 L558.32,206.52 L558.97,206.29 L559.61,206.06 L560.23,205.82 L560.82,205.57 L561.38,205.3 L561.9,205 L562.37,204.67 L562.8,204.32 L563.19,203.95 L563.56,203.56 L563.92,203.17 L564.27,202.77 L564.62,202.38 L565,202" stroke="#282828" stroke-width="1.1" fill="none" stroke-linejoin="round"/>
<path d="M460.2,225.4 L461.05,225.39 L461.9,225.34 L462.75,225.25 L463.59,225.12 L464.44,224.92 L465.29,224.66 L466.15,224.32 L467,223.9 L467.86,223.36 L468.72,222.7 L469.58,221.95 L470.44,221.14 L471.3,220.3 L472.17,219.46 L473.03,218.65 L473.9,217.9 L474.77,217.17 L475.64,216.43 L476.51,215.68 L477.39,214.95 L478.26,214.25 L479.14,213.6 L480.02,213.01 L480.9,212.5 L481.78,212.07 L482.67,211.7 L483.56,211.39 L484.45,211.13 L485.34,210.92 L486.23,210.74 L487.12,210.61 L488,210.5 L488.88,210.43 L489.76,210.4 L490.64,210.42 L491.51,210.47 L492.39,210.56 L493.26,210.68 L494.13,210.83 L495,211 L495.87,211.2 L496.73,211.44 L497.59,211.71 L498.45,212.01 L499.31,212.34 L500.17,212.68 L501.03,213.03 L501.9,213.4 L502.77,213.78 L503.64,214.19 L504.52,214.61 L505.39,215.05 L506.27,215.5 L507.15,215.96 L508.02,216.43 L508.9,216.9 L509.78,217.38 L510.65,217.88 L511.53,218.39 L512.41,218.9 L513.28,219.41 L514.16,219.92 L515.03,220.42 L515.9,220.9 L516.77,221.36 L517.62,221.82 L518.48,222.27 L519.34,222.71 L520.19,223.14 L521.06,223.56 L521.92,223.99 L522.8,224.4 L523.67,224.81 L524.51,225.21 L525.35,225.6 L526.21,225.98 L527.08,226.36 L528,226.74 L528.96,227.12 L530,227.5 L531.11,227.88 L532.27,228.27 L533.48,228.66 L534.74,229.05 L536.02,229.43 L537.34,229.8 L538.66,230.16 L540,230.5 L541.41,230.84 L542.93,231.2 L544.52,231.55 L546.1,231.89 L547.63,232.2 L549.07,232.46 L550.34,232.67 L551.4,232.8 L552.2,232.86 L552.77,232.87 L553.18,232.82 L553.48,232.73 L553.75,232.6 L554.05,232.43 L554.45,232.23 L555,232 L555.71,231.73 L556.51,231.42 L557.39,231.06 L558.3,230.67 L559.23,230.26 L560.16,229.84 L561.06,229.41 L561.9,229 L562.69,228.59 L563.47,228.18 L564.22,227.77 L564.96,227.34 L565.7,226.91 L566.43,226.46 L567.16,225.99 L567.9,225.5 L568.63,224.98 L569.36,224.41 L570.07,223.82 L570.79,223.22 L571.51,222.63 L572.25,222.05 L573.01,221.5 L573.8,221 L574.62,220.54 L575.47,220.1 L576.34,219.69 L577.23,219.29 L578.13,218.92 L579.02,218.56 L579.92,218.23 L580.8,217.9 L581.68,217.58 L582.58,217.28 L583.47,216.98 L584.37,216.71 L585.26,216.46 L586.13,216.23 L586.98,216.05 L587.8,215.9 L588.6,215.79 L589.4,215.71 L590.18,215.67 L590.94,215.65 L591.67,215.67 L592.38,215.71 L593.06,215.79 L593.7,215.9 L594.29,216.04 L594.83,216.2 L595.34,216.39 L595.82,216.61 L596.28,216.87 L596.74,217.17 L597.21,217.51 L597.7,217.9 L598.17,218.35 L598.61,218.88 L599.03,219.46 L599.46,220.08 L599.91,220.7 L600.43,221.33 L601.01,221.94 L601.7,222.5 L602.5,223.04 L603.39,223.59 L604.35,224.13 L605.38,224.66 L606.43,225.17 L607.5,225.65 L608.56,226.1 L609.6,226.5 L610.64,226.85 L611.72,227.14 L612.82,227.4 L613.92,227.63 L615,227.85 L616.06,228.05 L617.06,228.27 L618,228.5 L618.85,228.77 L619.62,229.07 L620.34,229.39 L621.03,229.7 L621.72,229.98 L622.42,230.2 L623.18,230.35 L624,230.4 L624.89,230.33 L625.82,230.14 L626.78,229.87 L627.77,229.55 L628.78,229.21 L629.81,228.89 L630.85,228.6 L631.9,228.4 L632.98,228.26 L634.1,228.15 L635.25,228.06 L636.41,227.99 L637.56,227.95 L638.69,227.92 L639.77,227.9 L640.8,227.9 L641.75,227.87 L642.64,227.82 L643.48,227.75 L644.3,227.72 L645.12,227.74 L645.96,227.84 L646.85,228.05 L647.8,228.4 L648.83,228.91 L649.93,229.55 L651.06,230.3 L652.23,231.13 L653.39,232.02 L654.54,232.95 L655.65,233.88 L656.7,234.8 L657.7,235.72 L658.65,236.69 L659.58,237.69 L660.49,238.71 L661.38,239.74 L662.28,240.77 L663.18,241.79 L664.1,242.8 L665.02,243.79 L665.94,244.78 L666.84,245.77 L667.76,246.75 L668.68,247.73 L669.62,248.72 L670.59,249.71 L671.6,250.7 L672.65,251.8 L673.73,253.07 L674.83,254.4 L675.96,255.69 L677.1,256.87 L678.24,257.82 L679.38,258.46 L680.5,258.7" stroke="#282828" stroke-width="1.1" fill="none" stroke-linejoin="round"/>
<path d="M460.2,232.9 L461.17,232.83 L462.15,232.64 L463.12,232.35 L464.09,231.96 L465.07,231.51 L466.04,231 L467.02,230.46 L468,229.9 L468.99,229.28 L469.99,228.56 L470.99,227.78 L472,226.96 L473,226.14 L473.99,225.33 L474.95,224.57 L475.9,223.9 L476.81,223.28 L477.69,222.69 L478.55,222.12 L479.4,221.59 L480.25,221.09 L481.11,220.64 L481.99,220.24 L482.9,219.9 L483.85,219.62 L484.83,219.4 L485.84,219.24 L486.85,219.12 L487.86,219.03 L488.87,218.97 L489.85,218.93 L490.8,218.9 L491.72,218.88 L492.61,218.89 L493.48,218.93 L494.34,218.99 L495.2,219.07 L496.06,219.16 L496.92,219.27 L497.8,219.4 L498.67,219.52 L499.5,219.63 L500.32,219.75 L501.16,219.89 L502.02,220.07 L502.94,220.31 L503.92,220.61 L505,221 L506.21,221.52 L507.56,222.16 L508.99,222.9 L510.47,223.68 L511.94,224.46 L513.37,225.2 L514.7,225.86 L515.9,226.4 L516.95,226.82 L517.9,227.15 L518.77,227.42 L519.58,227.64 L520.37,227.83 L521.15,228.01 L521.95,228.19 L522.8,228.4 L523.67,228.61 L524.51,228.78 L525.35,228.95 L526.21,229.11 L527.08,229.28 L528,229.48 L528.96,229.71 L530,230 L531.11,230.35 L532.27,230.77 L533.48,231.23 L534.74,231.71 L536.02,232.19 L537.34,232.66 L538.66,233.11 L540,233.5 L541.36,233.87 L542.77,234.23 L544.21,234.59 L545.67,234.92 L547.13,235.22 L548.58,235.47 L550.01,235.67 L551.4,235.8 L552.79,235.86 L554.19,235.87 L555.6,235.82 L556.98,235.73 L558.32,235.6 L559.61,235.43 L560.8,235.23 L561.9,235 L562.87,234.73 L563.71,234.42 L564.47,234.06 L565.17,233.67 L565.84,233.26 L566.51,232.84 L567.22,232.41 L568,232 L568.83,231.58 L569.69,231.14 L570.56,230.68 L571.44,230.22 L572.34,229.76 L573.23,229.32 L574.12,228.89 L575,228.5 L575.88,228.13 L576.77,227.76 L577.67,227.4 L578.56,227.06 L579.45,226.75 L580.32,226.46 L581.17,226.21 L582,226 L582.8,225.83 L583.58,225.69 L584.34,225.59 L585.08,225.51 L585.82,225.47 L586.54,225.45 L587.27,225.46 L588,225.5 L588.72,225.58 L589.41,225.72 L590.09,225.9 L590.77,226.11 L591.46,226.31 L592.17,226.51 L592.91,226.68 L593.7,226.8 L594.52,226.86 L595.37,226.86 L596.25,226.83 L597.14,226.79 L598.07,226.77 L599.02,226.78 L600,226.85 L601,227 L602.05,227.24 L603.15,227.56 L604.29,227.93 L605.46,228.34 L606.62,228.77 L607.78,229.2 L608.91,229.62 L610,230 L611.06,230.37 L612.12,230.73 L613.17,231.1 L614.19,231.46 L615.2,231.82 L616.17,232.16 L617.11,232.49 L618,232.8 L618.82,233.12 L619.57,233.45 L620.27,233.78 L620.95,234.1 L621.63,234.38 L622.33,234.6 L623.08,234.75 L623.9,234.8 L624.79,234.74 L625.73,234.58 L626.71,234.34 L627.71,234.05 L628.74,233.73 L629.79,233.39 L630.84,233.08 L631.9,232.8 L632.98,232.52 L634.11,232.21 L635.26,231.87 L636.41,231.55 L637.56,231.26 L638.69,231.02 L639.77,230.86 L640.8,230.8 L641.75,230.84 L642.64,230.95 L643.48,231.13 L644.3,231.36 L645.12,231.65 L645.96,232 L646.85,232.38 L647.8,232.8 L648.83,233.28 L649.93,233.84 L651.06,234.46 L652.23,235.11 L653.39,235.79 L654.54,236.48 L655.65,237.15 L656.7,237.8 L657.7,238.41 L658.65,239.01 L659.58,239.59 L660.49,240.18 L661.38,240.79 L662.28,241.42 L663.18,242.08 L664.1,242.8 L665.02,243.58 L665.94,244.41 L666.84,245.29 L667.76,246.19 L668.68,247.09 L669.62,247.99 L670.59,248.87 L671.6,249.7 L672.65,250.58 L673.73,251.54 L674.83,252.54 L675.96,253.51 L677.1,254.37 L678.24,255.06 L679.38,255.53 L680.5,255.7" stroke="#282828" stroke-width="1.1" fill="none" stroke-linejoin="round"/>
<path d="M460.2,240.8 L461.05,240.78 L461.9,240.71 L462.75,240.59 L463.59,240.43 L464.44,240.21 L465.29,239.96 L466.15,239.65 L467,239.3 L467.86,238.88 L468.72,238.4 L469.58,237.85 L470.44,237.26 L471.3,236.65 L472.17,236.02 L473.03,235.4 L473.9,234.8 L474.77,234.19 L475.64,233.54 L476.52,232.86 L477.39,232.19 L478.27,231.54 L479.15,230.93 L480.02,230.38 L480.9,229.9 L481.77,229.49 L482.65,229.14 L483.52,228.83 L484.39,228.56 L485.27,228.34 L486.14,228.16 L487.02,228.01 L487.9,227.9 L488.78,227.86 L489.67,227.91 L490.56,228.01 L491.46,228.15 L492.35,228.29 L493.24,228.39 L494.12,228.44 L495,228.4 L495.87,228.26 L496.74,228.05 L497.6,227.79 L498.46,227.49 L499.31,227.19 L500.17,226.89 L501.03,226.62 L501.9,226.4 L502.77,226.21 L503.64,226.03 L504.52,225.86 L505.39,225.71 L506.27,225.58 L507.15,225.49 L508.02,225.42 L508.9,225.4 L509.78,225.43 L510.65,225.51 L511.53,225.63 L512.41,225.78 L513.28,225.94 L514.16,226.1 L515.03,226.26 L515.9,226.4 L516.76,226.52 L517.61,226.62 L518.46,226.71 L519.3,226.81 L520.15,226.92 L521.01,227.05 L521.9,227.21 L522.8,227.4 L523.74,227.64 L524.71,227.91 L525.7,228.22 L526.7,228.54 L527.7,228.87 L528.69,229.2 L529.66,229.51 L530.6,229.8 L531.5,230.08 L532.39,230.35 L533.25,230.62 L534.1,230.89 L534.94,231.14 L535.79,231.38 L536.64,231.6 L537.5,231.8 L538.37,231.97 L539.25,232.13 L540.12,232.26 L541,232.38 L541.88,232.49 L542.75,232.59 L543.63,232.7 L544.5,232.8 L545.34,232.92 L546.15,233.05 L546.94,233.18 L547.73,233.31 L548.55,233.41 L549.42,233.49 L550.37,233.52 L551.4,233.5 L552.57,233.42 L553.88,233.3 L555.27,233.14 L556.71,232.95 L558.13,232.73 L559.51,232.5 L560.78,232.25 L561.9,232 L562.86,231.74 L563.71,231.47 L564.48,231.18 L565.17,230.88 L565.84,230.55 L566.5,230.22 L567.18,229.87 L567.9,229.5 L568.65,229.1 L569.4,228.67 L570.15,228.22 L570.9,227.75 L571.66,227.28 L572.42,226.83 L573.2,226.4 L574,226 L574.82,225.63 L575.65,225.26 L576.49,224.91 L577.34,224.58 L578.2,224.26 L579.07,223.97 L579.94,223.72 L580.8,223.5 L581.67,223.32 L582.56,223.18 L583.46,223.07 L584.36,222.98 L585.25,222.92 L586.12,222.87 L586.98,222.83 L587.8,222.8 L588.59,222.79 L589.34,222.8 L590.08,222.84 L590.79,222.89 L591.51,222.94 L592.22,222.98 L592.95,223 L593.7,223 L594.46,222.95 L595.22,222.87 L595.98,222.75 L596.74,222.64 L597.52,222.54 L598.32,222.47 L599.15,222.45 L600,222.5 L600.91,222.63 L601.88,222.82 L602.9,223.07 L603.92,223.34 L604.93,223.64 L605.89,223.94 L606.79,224.23 L607.6,224.5 L608.25,224.76 L608.75,225.04 L609.15,225.32 L609.53,225.6 L609.94,225.87 L610.45,226.11 L611.11,226.33 L612,226.5 L613.16,226.63 L614.54,226.72 L616.08,226.78 L617.73,226.82 L619.39,226.85 L621.02,226.87 L622.55,226.88 L623.9,226.9 L625.08,226.92 L626.15,226.93 L627.15,226.93 L628.09,226.93 L629.01,226.92 L629.93,226.91 L630.88,226.9 L631.9,226.9 L632.98,226.89 L634.11,226.88 L635.26,226.86 L636.41,226.84 L637.56,226.83 L638.69,226.83 L639.77,226.85 L640.8,226.9 L641.76,226.98 L642.66,227.1 L643.52,227.25 L644.36,227.4 L645.19,227.55 L646.03,227.7 L646.89,227.82 L647.8,227.9 L648.74,227.94 L649.71,227.95 L650.69,227.93 L651.69,227.91 L652.69,227.88 L653.7,227.86 L654.7,227.86 L655.7,227.9 L656.7,227.95 L657.7,227.99 L658.7,228.04 L659.7,228.1 L660.7,228.2 L661.7,228.34 L662.7,228.53 L663.7,228.8 L664.69,229.14 L665.66,229.54 L666.63,229.99 L667.59,230.48 L668.57,231.02 L669.56,231.59 L670.57,232.18 L671.6,232.8 L672.66,233.54 L673.75,234.44 L674.86,235.43 L675.99,236.43 L677.12,237.34 L678.25,238.1 L679.38,238.61 L680.5,238.8" stroke="#282828" stroke-width="1.1" fill="none" stroke-linejoin="round"/>
<path d="M460.2,250 L461.04,249.96 L461.87,249.84 L462.7,249.65 L463.53,249.38 L464.37,249.02 L465.22,248.59 L466.1,248.09 L467,247.5 L467.95,246.78 L468.94,245.91 L469.96,244.92 L470.99,243.88 L472.02,242.81 L473.03,241.78 L473.99,240.83 L474.9,240 L475.74,239.27 L476.53,238.57 L477.28,237.93 L478.01,237.33 L478.73,236.78 L479.45,236.29 L480.21,235.86 L481,235.5 L481.83,235.24 L482.69,235.09 L483.56,235.01 L484.44,234.99 L485.34,234.98 L486.23,234.97 L487.12,234.92 L488,234.8 L488.88,234.62 L489.75,234.42 L490.63,234.2 L491.51,233.96 L492.38,233.71 L493.26,233.45 L494.13,233.17 L495,232.9 L495.87,232.61 L496.73,232.29 L497.59,231.96 L498.45,231.62 L499.31,231.29 L500.17,230.97 L501.03,230.67 L501.9,230.4 L502.77,230.15 L503.64,229.92 L504.52,229.7 L505.39,229.49 L506.27,229.31 L507.15,229.15 L508.02,229.01 L508.9,228.9 L509.78,228.81 L510.65,228.75 L511.53,228.7 L512.41,228.68 L513.28,228.69 L514.16,228.72 L515.03,228.79 L515.9,228.9 L516.77,229.05 L517.62,229.23 L518.48,229.46 L519.34,229.71 L520.19,229.98 L521.06,230.28 L521.92,230.58 L522.8,230.9 L523.67,231.23 L524.51,231.58 L525.35,231.94 L526.21,232.33 L527.08,232.72 L528,233.14 L528.96,233.56 L530,234 L531.11,234.47 L532.27,234.99 L533.48,235.53 L534.74,236.08 L536.02,236.62 L537.34,237.13 L538.66,237.6 L540,238 L541.36,238.35 L542.77,238.68 L544.21,238.97 L545.67,239.23 L547.13,239.45 L548.58,239.62 L550.01,239.74 L551.4,239.8 L552.77,239.8 L554.14,239.74 L555.51,239.64 L556.86,239.48 L558.18,239.28 L559.46,239.05 L560.71,238.79 L561.9,238.5 L563.01,238.17 L564.05,237.8 L565.03,237.39 L565.98,236.95 L566.93,236.48 L567.9,236 L568.91,235.5 L570,235 L571.18,234.46 L572.44,233.88 L573.74,233.25 L575.07,232.62 L576.39,232.01 L577.67,231.44 L578.88,230.93 L580,230.5 L581.02,230.16 L581.97,229.87 L582.86,229.63 L583.71,229.44 L584.53,229.28 L585.34,229.16 L586.16,229.07 L587,229 L587.85,228.97 L588.71,229 L589.55,229.06 L590.39,229.16 L591.23,229.26 L592.06,229.36 L592.88,229.45 L593.7,229.5 L594.48,229.5 L595.22,229.45 L595.93,229.38 L596.64,229.31 L597.38,229.27 L598.17,229.27 L599.04,229.34 L600,229.5 L601.09,229.77 L602.29,230.12 L603.57,230.54 L604.89,231.01 L606.23,231.51 L607.55,232.02 L608.82,232.52 L610,233 L611.11,233.48 L612.19,233.99 L613.24,234.53 L614.26,235.06 L615.24,235.57 L616.19,236.04 L617.11,236.46 L618,236.8 L618.82,237.09 L619.57,237.34 L620.27,237.56 L620.95,237.73 L621.63,237.84 L622.33,237.9 L623.08,237.89 L623.9,237.8 L624.79,237.6 L625.71,237.28 L626.66,236.88 L627.65,236.43 L628.67,235.95 L629.72,235.5 L630.79,235.11 L631.9,234.8 L633.05,234.56 L634.24,234.34 L635.47,234.15 L636.72,233.99 L638,233.87 L639.27,233.79 L640.54,233.77 L641.8,233.8 L643.05,233.88 L644.3,234 L645.55,234.15 L646.8,234.36 L648.05,234.63 L649.3,234.95 L650.55,235.34 L651.8,235.8 L653.04,236.34 L654.28,236.95 L655.52,237.63 L656.76,238.37 L657.99,239.16 L659.23,240 L660.46,240.88 L661.7,241.8 L662.94,242.79 L664.2,243.89 L665.46,245.05 L666.71,246.25 L667.96,247.45 L669.2,248.61 L670.41,249.71 L671.6,250.7 L672.76,251.67 L673.9,252.69 L675.01,253.69 L676.11,254.63 L677.21,255.46 L678.3,256.11 L679.39,256.54 L680.5,256.7" stroke="#282828" stroke-width="1.1" fill="none" stroke-linejoin="round"/>
<path d="M460.2,261.9 L461.12,261.86 L462.03,261.73 L462.96,261.51 L463.88,261.22 L464.79,260.86 L465.7,260.44 L466.61,259.95 L467.5,259.4 L468.38,258.77 L469.25,258.06 L470.11,257.26 L470.97,256.41 L471.82,255.51 L472.68,254.58 L473.54,253.64 L474.4,252.7 L475.27,251.74 L476.15,250.73 L477.04,249.69 L477.92,248.63 L478.8,247.57 L479.68,246.51 L480.54,245.49 L481.4,244.5 L482.24,243.53 L483.07,242.56 L483.89,241.6 L484.7,240.66 L485.51,239.74 L486.33,238.87 L487.16,238.05 L488,237.3 L488.85,236.63 L489.71,236.04 L490.58,235.51 L491.45,235.01 L492.33,234.54 L493.21,234.06 L494.1,233.55 L495,233 L495.91,232.38 L496.84,231.71 L497.78,231 L498.73,230.29 L499.67,229.61 L500.6,228.99 L501.51,228.44 L502.4,228 L503.26,227.66 L504.1,227.4 L504.92,227.2 L505.72,227.06 L506.53,226.98 L507.34,226.95 L508.16,226.95 L509,227 L509.85,227.1 L510.71,227.28 L511.58,227.51 L512.46,227.79 L513.34,228.09 L514.22,228.4 L515.11,228.71 L516,229 L516.9,229.27 L517.82,229.54 L518.74,229.82 L519.67,230.1 L520.59,230.39 L521.51,230.71 L522.41,231.04 L523.3,231.4 L524.14,231.78 L524.94,232.18 L525.71,232.6 L526.48,233.04 L527.27,233.49 L528.11,233.97 L529.01,234.47 L530,235 L531.08,235.57 L532.24,236.18 L533.45,236.83 L534.71,237.49 L536,238.15 L537.32,238.8 L538.66,239.42 L540,240 L541.38,240.56 L542.82,241.14 L544.3,241.72 L545.79,242.26 L547.27,242.76 L548.71,243.2 L550.1,243.55 L551.4,243.8 L552.6,243.94 L553.71,243.98 L554.77,243.93 L555.79,243.83 L556.8,243.66 L557.82,243.46 L558.88,243.24 L560,243 L561.18,242.74 L562.4,242.44 L563.65,242.1 L564.91,241.73 L566.19,241.33 L567.47,240.91 L568.74,240.46 L570,240 L571.25,239.5 L572.5,238.96 L573.75,238.38 L575,237.78 L576.25,237.18 L577.5,236.59 L578.75,236.02 L580,235.5 L581.29,234.99 L582.65,234.46 L584.03,233.94 L585.39,233.44 L586.71,232.98 L587.94,232.57 L589.05,232.24 L590,232 L590.75,231.87 L591.31,231.84 L591.73,231.89 L592.08,232 L592.4,232.14 L592.74,232.28 L593.16,232.41 L593.7,232.5 L594.34,232.54 L595.01,232.54 L595.71,232.53 L596.46,232.53 L597.25,232.56 L598.1,232.63 L599.02,232.77 L600,233 L601.09,233.35 L602.29,233.81 L603.57,234.34 L604.89,234.92 L606.23,235.51 L607.55,236.07 L608.82,236.58 L610,237 L611.11,237.32 L612.19,237.58 L613.24,237.78 L614.26,237.96 L615.24,238.13 L616.19,238.32 L617.11,238.53 L618,238.8 L618.82,239.17 L619.57,239.65 L620.27,240.19 L620.95,240.73 L621.63,241.21 L622.33,241.58 L623.08,241.8 L623.9,241.8 L624.79,241.53 L625.71,241.02 L626.66,240.34 L627.65,239.55 L628.67,238.73 L629.72,237.96 L630.79,237.29 L631.9,236.8 L633.05,236.46 L634.24,236.2 L635.47,236 L636.72,235.86 L638,235.78 L639.27,235.75 L640.54,235.75 L641.8,235.8 L643.05,235.87 L644.3,235.97 L645.55,236.11 L646.8,236.31 L648.05,236.56 L649.3,236.89 L650.55,237.3 L651.8,237.8 L653.04,238.42 L654.28,239.15 L655.52,239.98 L656.76,240.88 L657.99,241.82 L659.23,242.78 L660.46,243.75 L661.7,244.7 L662.94,245.65 L664.2,246.65 L665.46,247.66 L666.71,248.69 L667.96,249.72 L669.2,250.74 L670.41,251.74 L671.6,252.7 L672.76,253.72 L673.9,254.85 L675.01,256.01 L676.11,257.14 L677.21,258.14 L678.3,258.96 L679.39,259.5 L680.5,259.7" stroke="#282828" stroke-width="1.1" fill="none" stroke-linejoin="round"/>
<path d="M460.2,266.1 L461.12,266.06 L462.03,265.96 L462.96,265.79 L463.88,265.54 L464.79,265.23 L465.7,264.86 L466.61,264.41 L467.5,263.9 L468.38,263.3 L469.25,262.6 L470.11,261.82 L470.97,260.97 L471.82,260.09 L472.68,259.19 L473.54,258.28 L474.4,257.4 L475.27,256.52 L476.15,255.62 L477.04,254.7 L477.92,253.76 L478.81,252.82 L479.68,251.88 L480.55,250.94 L481.4,250 L482.23,249.04 L483.05,248.05 L483.85,247.05 L484.64,246.05 L485.44,245.08 L486.24,244.15 L487.06,243.28 L487.9,242.5 L488.76,241.81 L489.64,241.2 L490.53,240.65 L491.42,240.15 L492.33,239.68 L493.22,239.22 L494.12,238.77 L495,238.3 L495.87,237.81 L496.74,237.32 L497.6,236.83 L498.46,236.35 L499.31,235.9 L500.17,235.48 L501.03,235.11 L501.9,234.8 L502.77,234.54 L503.64,234.33 L504.52,234.15 L505.39,234.02 L506.27,233.92 L507.15,233.85 L508.02,233.81 L508.9,233.8 L509.78,233.82 L510.65,233.87 L511.53,233.96 L512.41,234.08 L513.28,234.23 L514.16,234.4 L515.03,234.59 L515.9,234.8 L516.77,235.04 L517.62,235.3 L518.48,235.6 L519.34,235.91 L520.19,236.25 L521.06,236.59 L521.92,236.94 L522.8,237.3 L523.67,237.66 L524.51,238.02 L525.35,238.39 L526.21,238.78 L527.08,239.17 L528,239.59 L528.96,240.03 L530,240.5 L531.11,241.01 L532.27,241.58 L533.48,242.17 L534.74,242.78 L536.02,243.39 L537.34,243.97 L538.66,244.51 L540,245 L541.38,245.45 L542.82,245.88 L544.3,246.29 L545.79,246.68 L547.27,247.02 L548.71,247.31 L550.1,247.54 L551.4,247.7 L552.6,247.79 L553.71,247.82 L554.77,247.79 L555.79,247.71 L556.8,247.58 L557.82,247.42 L558.88,247.22 L560,247 L561.18,246.75 L562.4,246.46 L563.65,246.13 L564.91,245.77 L566.19,245.37 L567.47,244.94 L568.74,244.49 L570,244 L571.25,243.46 L572.5,242.84 L573.75,242.18 L575,241.5 L576.25,240.82 L577.5,240.16 L578.75,239.54 L580,239 L581.29,238.51 L582.65,238.04 L584.03,237.6 L585.39,237.19 L586.71,236.82 L587.94,236.49 L589.05,236.22 L590,236 L590.75,235.85 L591.31,235.77 L591.73,235.74 L592.08,235.75 L592.4,235.79 L592.74,235.86 L593.16,235.93 L593.7,236 L594.34,236.05 L595.01,236.09 L595.71,236.13 L596.46,236.19 L597.25,236.29 L598.1,236.45 L599.02,236.68 L600,237 L601.09,237.44 L602.29,237.99 L603.57,238.63 L604.89,239.31 L606.23,240.02 L607.55,240.73 L608.82,241.4 L610,242 L611.07,242.58 L612.05,243.16 L612.97,243.75 L613.88,244.31 L614.79,244.84 L615.77,245.3 L616.82,245.7 L618,246 L619.29,246.21 L620.65,246.33 L622.08,246.38 L623.56,246.38 L625.1,246.32 L626.7,246.23 L628.33,246.12 L630,246 L631.73,245.79 L633.54,245.45 L635.41,245.04 L637.31,244.62 L639.24,244.25 L641.18,243.98 L643.1,243.88 L645,244 L646.84,244.33 L648.62,244.8 L650.38,245.4 L652.16,246.12 L653.97,246.96 L655.86,247.89 L657.86,248.91 L660,250 L662.3,251.38 L664.74,253.14 L667.28,255.12 L669.91,257.12 L672.57,258.99 L675.25,260.55 L677.9,261.61 L680.5,262" stroke="#282828" stroke-width="1.1" fill="none" stroke-linejoin="round"/>
<path d="M460.2,279 L461.12,278.95 L462.03,278.81 L462.96,278.59 L463.88,278.28 L464.79,277.89 L465.7,277.43 L466.61,276.9 L467.5,276.3 L468.38,275.61 L469.25,274.82 L470.11,273.94 L470.97,272.99 L471.82,272 L472.68,270.97 L473.54,269.93 L474.4,268.9 L475.27,267.85 L476.15,266.76 L477.02,265.64 L477.9,264.5 L478.78,263.35 L479.65,262.19 L480.53,261.04 L481.4,259.9 L482.27,258.76 L483.13,257.59 L483.99,256.41 L484.85,255.24 L485.71,254.08 L486.57,252.97 L487.43,251.9 L488.3,250.9 L489.19,249.94 L490.1,248.98 L491.02,248.06 L491.94,247.18 L492.84,246.37 L493.71,245.64 L494.53,245.01 L495.3,244.5 L496,244.12 L496.63,243.84 L497.22,243.67 L497.78,243.58 L498.32,243.56 L498.86,243.6 L499.41,243.69 L500,243.8 L500.61,243.96 L501.23,244.18 L501.85,244.46 L502.48,244.79 L503.11,245.17 L503.74,245.58 L504.37,246.03 L505,246.5 L505.62,247.01 L506.25,247.56 L506.88,248.16 L507.5,248.79 L508.12,249.45 L508.75,250.13 L509.38,250.81 L510,251.5 L510.62,252.21 L511.25,252.94 L511.88,253.7 L512.5,254.47 L513.12,255.24 L513.75,256.01 L514.38,256.77 L515,257.5 L515.62,258.22 L516.25,258.93 L516.88,259.64 L517.5,260.34 L518.12,261.03 L518.75,261.71 L519.38,262.36 L520,263 L520.62,263.62 L521.25,264.22 L521.88,264.8 L522.5,265.38 L523.12,265.93 L523.75,266.47 L524.38,266.99 L525,267.5 L525.61,267.99 L526.2,268.45 L526.79,268.89 L527.38,269.31 L527.98,269.73 L528.61,270.15 L529.28,270.57 L530,271 L530.78,271.45 L531.61,271.92 L532.48,272.4 L533.38,272.88 L534.29,273.33 L535.2,273.77 L536.11,274.16 L537,274.5 L537.87,274.79 L538.74,275.04 L539.61,275.25 L540.48,275.43 L541.35,275.59 L542.22,275.74 L543.11,275.87 L544,276 L544.9,276.16 L545.8,276.34 L546.7,276.54 L547.61,276.71 L548.53,276.82 L549.46,276.86 L550.42,276.8 L551.4,276.6 L552.41,276.25 L553.46,275.75 L554.53,275.15 L555.61,274.48 L556.7,273.75 L557.78,273.01 L558.85,272.28 L559.9,271.6 L560.94,270.95 L561.98,270.3 L563.03,269.65 L564.06,268.99 L565.08,268.32 L566.06,267.64 L567,266.93 L567.9,266.2 L568.73,265.46 L569.5,264.73 L570.22,264 L570.91,263.24 L571.6,262.44 L572.3,261.6 L573.02,260.69 L573.8,259.7 L574.63,258.61 L575.5,257.42 L576.39,256.16 L577.29,254.85 L578.2,253.52 L579.09,252.2 L579.97,250.92 L580.8,249.7 L581.59,248.49 L582.35,247.24 L583.08,245.98 L583.81,244.75 L584.53,243.58 L585.26,242.51 L586.01,241.57 L586.8,240.8 L587.63,240.16 L588.51,239.61 L589.41,239.15 L590.31,238.81 L591.21,238.59 L592.09,238.51 L592.92,238.58 L593.7,238.8 L594.43,239.23 L595.13,239.87 L595.8,240.69 L596.44,241.63 L597.05,242.64 L597.64,243.69 L598.18,244.72 L598.7,245.7 L599.14,246.66 L599.48,247.67 L599.76,248.71 L600.02,249.76 L600.3,250.8 L600.65,251.81 L601.1,252.79 L601.7,253.7 L602.45,254.57 L603.32,255.42 L604.28,256.25 L605.31,257.04 L606.39,257.79 L607.48,258.49 L608.56,259.13 L609.6,259.7 L610.64,260.2 L611.72,260.64 L612.82,261.03 L613.92,261.36 L615.01,261.64 L616.06,261.89 L617.07,262.11 L618,262.3 L618.84,262.5 L619.58,262.71 L620.26,262.9 L620.91,263.04 L621.57,263.12 L622.27,263.09 L623.03,262.92 L623.9,262.6 L624.88,262.09 L625.96,261.41 L627.1,260.59 L628.27,259.67 L629.47,258.68 L630.65,257.67 L631.81,256.66 L632.9,255.7 L633.95,254.72 L634.97,253.68 L635.98,252.6 L636.97,251.51 L637.95,250.45 L638.91,249.44 L639.86,248.51 L640.8,247.7 L641.71,246.96 L642.57,246.25 L643.41,245.59 L644.24,245.01 L645.08,244.51 L645.94,244.13 L646.84,243.89 L647.8,243.8 L648.83,243.88 L649.93,244.11 L651.06,244.47 L652.23,244.94 L653.39,245.52 L654.54,246.18 L655.65,246.92 L656.7,247.7 L657.7,248.57 L658.65,249.57 L659.58,250.66 L660.49,251.82 L661.38,253.03 L662.28,254.27 L663.18,255.5 L664.1,256.7 L665.02,257.9 L665.94,259.13 L666.84,260.39 L667.76,261.65 L668.68,262.91 L669.62,264.17 L670.59,265.4 L671.6,266.6 L672.65,267.89 L673.73,269.34 L674.83,270.83 L675.96,272.28 L677.1,273.58 L678.24,274.64 L679.38,275.34 L680.5,275.6" stroke="#282828" stroke-width="1.1" fill="none" stroke-linejoin="round"/>
<path d="M583,202 L583.76,202.25 L584.53,202.5 L585.31,202.75 L586.08,203 L586.85,203.25 L587.59,203.5 L588.31,203.75 L589,204 L589.63,204.22 L590.19,204.41 L590.71,204.57 L591.23,204.75 L591.75,204.96 L592.32,205.22 L592.96,205.56 L593.7,206 L594.54,206.56 L595.47,207.22 L596.46,207.96 L597.5,208.75 L598.56,209.57 L599.63,210.41 L600.68,211.22 L601.7,212 L602.7,212.78 L603.69,213.59 L604.69,214.43 L605.69,215.25 L606.68,216.04 L607.66,216.78 L608.64,217.44 L609.6,218 L610.54,218.46 L611.47,218.83 L612.39,219.13 L613.29,219.38 L614.2,219.57 L615.12,219.73 L616.05,219.87 L617,220 L617.97,220.12 L618.96,220.23 L619.96,220.32 L620.96,220.38 L621.97,220.38 L622.99,220.33 L624,220.21 L625,220 L625.99,219.71 L626.98,219.33 L627.96,218.88 L628.95,218.38 L629.94,217.82 L630.94,217.23 L631.96,216.62 L633,216 L634.07,215.33 L635.18,214.58 L636.31,213.79 L637.45,212.97 L638.58,212.15 L639.69,211.37 L640.77,210.64 L641.8,210 L642.78,209.42 L643.74,208.88 L644.67,208.37 L645.57,207.91 L646.46,207.48 L647.32,207.11 L648.17,206.78 L649,206.5 L649.79,206.27 L650.52,206.08 L651.22,205.94 L651.91,205.84 L652.6,205.8 L653.34,205.81 L654.13,205.87 L655,206 L655.96,206.18 L657,206.42 L658.1,206.71 L659.23,207.06 L660.38,207.46 L661.52,207.92 L662.63,208.43 L663.7,209 L664.72,209.64 L665.71,210.36 L666.68,211.14 L667.64,211.97 L668.6,212.84 L669.57,213.72 L670.57,214.62 L671.6,215.5 L672.66,216.49 L673.75,217.66 L674.86,218.9 L675.99,220.12 L677.12,221.24 L678.25,222.16 L679.38,222.77 L680.5,223" stroke="#282828" stroke-width="1.1" fill="none" stroke-linejoin="round"/>
<path d="M593.7,219 L595.12,219.25 L596.56,219.5 L597.99,219.75 L599.43,220 L600.86,220.25 L602.27,220.5 L603.65,220.75 L605,221 L606.31,221.27 L607.59,221.57 L608.85,221.89 L610.08,222.2 L611.31,222.48 L612.53,222.72 L613.76,222.9 L615,223 L616.22,223.04 L617.38,223.06 L618.53,223.03 L619.69,222.95 L620.88,222.8 L622.15,222.57 L623.51,222.24 L625,221.8 L626.63,221.2 L628.39,220.42 L630.24,219.53 L632.16,218.56 L634.12,217.58 L636.1,216.62 L638.07,215.74 L640,215 L641.95,214.32 L643.96,213.63 L646,212.97 L648.03,212.36 L650.03,211.85 L651.96,211.46 L653.8,211.23 L655.5,211.2 L657.02,211.34 L658.38,211.63 L659.63,212.05 L660.81,212.61 L661.99,213.3 L663.21,214.13 L664.53,215.1 L666,216.2 L667.62,217.68 L669.34,219.66 L671.14,221.9 L673,224.22 L674.89,226.39 L676.78,228.2 L678.66,229.44 L680.5,229.9" stroke="#282828" stroke-width="1.1" fill="none" stroke-linejoin="round"/>
<path d="M593.7,221.5 L595.12,221.87 L596.56,222.24 L597.99,222.6 L599.43,222.97 L600.86,223.34 L602.27,223.71 L603.65,224.1 L605,224.5 L606.31,224.94 L607.59,225.42 L608.85,225.93 L610.08,226.44 L611.31,226.92 L612.53,227.36 L613.76,227.73 L615,228 L616.22,228.21 L617.38,228.38 L618.53,228.5 L619.69,228.57 L620.88,228.56 L622.15,228.48 L623.51,228.29 L625,228 L626.68,227.57 L628.55,227 L630.54,226.32 L632.59,225.57 L634.62,224.77 L636.58,223.95 L638.4,223.15 L640,222.4 L641.38,221.61 L642.6,220.71 L643.69,219.77 L644.69,218.85 L645.65,218 L646.59,217.29 L647.56,216.77 L648.6,216.5 L649.66,216.49 L650.67,216.67 L651.68,217.03 L652.69,217.54 L653.74,218.16 L654.84,218.88 L656.02,219.67 L657.3,220.5 L658.71,221.43 L660.25,222.52 L661.87,223.73 L663.54,225 L665.22,226.31 L666.89,227.6 L668.49,228.85 L670,230 L671.42,231.18 L672.78,232.48 L674.1,233.81 L675.39,235.09 L676.66,236.24 L677.93,237.16 L679.2,237.78 L680.5,238" stroke="#282828" stroke-width="1.1" fill="none" stroke-linejoin="round"/>
<path d="M618,203 L618.7,203.53 L619.33,204.12 L619.94,204.72 L620.57,205.31 L621.24,205.87 L622,206.35 L622.87,206.74 L623.9,207 L625.11,207.12 L626.47,207.11 L627.96,207.01 L629.52,206.84 L631.14,206.62 L632.76,206.4 L634.36,206.18 L635.9,206 L637.41,205.83 L638.93,205.61 L640.46,205.38 L641.98,205.15 L643.49,204.94 L644.97,204.76 L646.41,204.64 L647.8,204.6 L649.11,204.64 L650.32,204.74 L651.48,204.89 L652.62,205.09 L653.78,205.31 L654.99,205.54 L656.28,205.78 L657.7,206 L659.28,206.21 L661.01,206.43 L662.84,206.66 L664.71,206.9 L666.58,207.15 L668.38,207.42 L670.07,207.7 L671.6,208 L672.95,208.37 L674.18,208.82 L675.3,209.32 L676.36,209.81 L677.38,210.27 L678.39,210.65 L679.42,210.91 L680.5,211" stroke="#282828" stroke-width="1.1" fill="none" stroke-linejoin="round"/>
<path d="M603,202 L604.15,202.63 L605.32,203.27 L606.51,203.92 L607.69,204.56 L608.84,205.2 L609.96,205.82 L611.02,206.42 L612,207 L612.89,207.56 L613.71,208.13 L614.47,208.68 L615.19,209.22 L615.89,209.73 L616.58,210.2 L617.28,210.63 L618,211 L618.73,211.33 L619.43,211.64 L620.13,211.92 L620.83,212.16 L621.54,212.34 L622.28,212.46 L623.06,212.52 L623.9,212.5 L624.79,212.39 L625.71,212.19 L626.66,211.92 L627.65,211.59 L628.67,211.22 L629.72,210.82 L630.79,210.41 L631.9,210 L633.08,209.56 L634.35,209.08 L635.68,208.57 L637.02,208.03 L638.35,207.49 L639.61,206.96 L640.77,206.46 L641.8,206 L642.67,205.58 L643.43,205.18 L644.09,204.8 L644.69,204.44 L645.26,204.08 L645.81,203.73 L646.38,203.37 L647,203" stroke="#282828" stroke-width="1.1" fill="none" stroke-linejoin="round"/>
<path d="M460.2,222.9 L461.42,222.84 L462.65,222.68 L463.87,222.42 L465.09,222.1 L466.31,221.73 L467.54,221.33 L468.77,220.91 L470,220.5 L471.23,220.07 L472.44,219.58 L473.65,219.05 L474.86,218.51 L476.09,217.96 L477.35,217.43 L478.65,216.94 L480,216.5 L481.43,216.09 L482.95,215.68 L484.53,215.28 L486.12,214.91 L487.71,214.58 L489.23,214.31 L490.68,214.11 L492,214 L493.16,213.98 L494.19,214.04 L495.12,214.16 L496,214.34 L496.88,214.58 L497.81,214.86 L498.84,215.17 L500,215.5 L501.3,215.86 L502.7,216.27 L504.16,216.71 L505.69,217.19 L507.25,217.71 L508.84,218.27 L510.42,218.86 L512,219.5 L513.58,220.21 L515.18,221 L516.8,221.84 L518.44,222.72 L520.08,223.6 L521.73,224.46 L523.37,225.27 L525,226 L526.62,226.66 L528.24,227.28 L529.86,227.86 L531.48,228.41 L533.1,228.94 L534.72,229.46 L536.36,229.98 L538,230.5 L539.65,231.06 L541.32,231.65 L542.99,232.26 L544.66,232.84 L546.34,233.39 L548.03,233.86 L549.71,234.24 L551.4,234.5 L553.09,234.63 L554.8,234.67 L556.51,234.62 L558.22,234.5 L559.94,234.31 L561.64,234.08 L563.33,233.8 L565,233.5 L566.64,233.13 L568.23,232.66 L569.8,232.13 L571.37,231.56 L572.95,230.99 L574.57,230.43 L576.25,229.92 L578,229.5 L579.86,229.13 L581.84,228.79 L583.88,228.47 L585.96,228.19 L588.02,227.94 L590.02,227.74 L591.93,227.59 L593.7,227.5 L595.31,227.47 L596.79,227.52 L598.19,227.61 L599.52,227.75 L600.83,227.92 L602.16,228.11 L603.54,228.31 L605,228.5 L606.54,228.7 L608.13,228.93 L609.75,229.18 L611.39,229.44 L613.05,229.71 L614.71,229.98 L616.36,230.24 L618,230.5" stroke="#282828" stroke-width="1.1" fill="none" stroke-linejoin="round"/>
<path d="M460.2,315 L462.05,314.95 L463.9,314.8 L465.74,314.58 L467.59,314.32 L469.44,314.04 L471.29,313.76 L473.14,313.5 L475,313.3 L476.87,313.13 L478.74,312.96 L480.61,312.8 L482.49,312.65 L484.37,312.52 L486.25,312.41 L488.12,312.34 L490,312.3 L491.88,312.3 L493.75,312.34 L495.62,312.4 L497.5,312.49 L499.38,312.6 L501.25,312.73 L503.12,312.86 L505,313 L506.88,313.15 L508.75,313.33 L510.62,313.53 L512.5,313.74 L514.38,313.95 L516.25,314.15 L518.12,314.34 L520,314.5 L521.87,314.64 L523.72,314.76 L525.56,314.86 L527.41,314.96 L529.27,315.06 L531.15,315.16 L533.06,315.27 L535,315.4 L537,315.55 L539.07,315.73 L541.17,315.92 L543.29,316.12 L545.39,316.3 L547.46,316.47 L549.47,316.61 L551.4,316.7 L553.22,316.76 L554.96,316.8 L556.64,316.81 L558.29,316.81 L559.92,316.77 L561.57,316.71 L563.25,316.62 L565,316.5 L566.82,316.33 L568.68,316.1 L570.58,315.84 L572.49,315.55 L574.41,315.26 L576.31,314.97 L578.18,314.71 L580,314.5 L581.76,314.31 L583.46,314.12 L585.12,313.94 L586.77,313.78 L588.43,313.65 L590.12,313.55 L591.87,313.5 L593.7,313.5 L595.62,313.58 L597.62,313.75 L599.68,313.98 L601.77,314.23 L603.87,314.49 L605.96,314.72 L608.01,314.9 L610,315 L611.94,315.02 L613.84,314.98 L615.72,314.9 L617.58,314.79 L619.43,314.67 L621.28,314.53 L623.13,314.41 L625,314.3 L626.88,314.2 L628.75,314.1 L630.62,314 L632.5,313.9 L634.38,313.8 L636.25,313.7 L638.12,313.6 L640,313.5 L641.88,313.4 L643.75,313.31 L645.62,313.21 L647.5,313.11 L649.38,313.02 L651.25,312.94 L653.12,312.86 L655,312.8 L656.91,312.73 L658.86,312.64 L660.82,312.56 L662.78,312.48 L664.7,312.43 L666.57,312.43 L668.34,312.48 L670,312.6 L671.53,312.84 L672.94,313.22 L674.27,313.68 L675.53,314.16 L676.76,314.63 L677.98,315.02 L679.22,315.3 L680.5,315.4" stroke="#282828" stroke-width="1.1" fill="none" stroke-linejoin="round"/>
<path d="M460.2,316 L462.05,315.97 L463.9,315.89 L465.74,315.77 L467.59,315.63 L469.44,315.49 L471.29,315.36 L473.14,315.26 L475,315.2 L476.87,315.18 L478.74,315.19 L480.61,315.22 L482.49,315.27 L484.37,315.32 L486.25,315.39 L488.12,315.45 L490,315.5 L491.88,315.55 L493.75,315.6 L495.62,315.65 L497.5,315.71 L499.38,315.77 L501.25,315.84 L503.12,315.91 L505,316 L506.88,316.1 L508.75,316.23 L510.62,316.36 L512.5,316.5 L514.38,316.64 L516.25,316.77 L518.12,316.9 L520,317 L521.87,317.09 L523.72,317.16 L525.56,317.22 L527.41,317.27 L529.27,317.32 L531.15,317.37 L533.06,317.43 L535,317.5 L537,317.57 L539.07,317.65 L541.17,317.72 L543.29,317.8 L545.39,317.88 L547.46,317.98 L549.47,318.08 L551.4,318.2 L553.22,318.32 L554.96,318.42 L556.64,318.52 L558.29,318.64 L559.92,318.79 L561.57,318.97 L563.25,319.2 L565,319.5 L566.82,319.9 L568.68,320.43 L570.58,321.02 L572.49,321.64 L574.41,322.25 L576.31,322.79 L578.18,323.22 L580,323.5 L581.76,323.65 L583.46,323.72 L585.12,323.71 L586.77,323.62 L588.43,323.46 L590.12,323.22 L591.87,322.9 L593.7,322.5 L595.62,321.96 L597.62,321.23 L599.68,320.4 L601.77,319.5 L603.87,318.6 L605.96,317.77 L608.01,317.04 L610,316.5 L611.94,316.13 L613.84,315.86 L615.72,315.69 L617.58,315.59 L619.43,315.55 L621.28,315.53 L623.13,315.52 L625,315.5 L626.88,315.49 L628.75,315.52 L630.62,315.58 L632.5,315.66 L634.38,315.75 L636.25,315.84 L638.12,315.93 L640,316 L641.88,316.06 L643.75,316.12 L645.62,316.19 L647.5,316.25 L649.38,316.31 L651.25,316.38 L653.12,316.44 L655,316.5 L656.91,316.57 L658.86,316.64 L660.82,316.71 L662.78,316.78 L664.7,316.85 L666.57,316.91 L668.34,316.96 L670,317 L671.53,317.02 L672.94,317.04 L674.27,317.04 L675.53,317.03 L676.76,317.02 L677.98,317.01 L679.22,317 L680.5,317" stroke="#282828" stroke-width="1.1" fill="none" stroke-linejoin="round"/>
<path d="M460.2,317 L462.05,317.01 L463.9,317.05 L465.74,317.11 L467.59,317.19 L469.44,317.27 L471.29,317.35 L473.14,317.43 L475,317.5 L476.87,317.56 L478.74,317.62 L480.61,317.69 L482.49,317.75 L484.37,317.81 L486.25,317.88 L488.12,317.94 L490,318 L491.88,318.06 L493.75,318.12 L495.62,318.19 L497.5,318.25 L499.38,318.31 L501.25,318.38 L503.12,318.44 L505,318.5 L506.88,318.57 L508.75,318.64 L510.62,318.71 L512.5,318.78 L514.38,318.85 L516.25,318.91 L518.12,318.96 L520,319 L521.87,319.03 L523.72,319.04 L525.56,319.05 L527.41,319.05 L529.27,319.04 L531.15,319.03 L533.06,319.02 L535,319 L537,318.97 L539.07,318.91 L541.17,318.84 L543.29,318.77 L545.39,318.71 L547.46,318.67 L549.47,318.66 L551.4,318.7 L553.22,318.77 L554.96,318.85 L556.64,318.95 L558.29,319.08 L559.92,319.24 L561.57,319.45 L563.25,319.7 L565,320 L566.82,320.37 L568.68,320.82 L570.58,321.32 L572.49,321.86 L574.41,322.42 L576.31,322.97 L578.18,323.51 L580,324 L581.76,324.5 L583.46,325.05 L585.12,325.61 L586.77,326.16 L588.43,326.65 L590.12,327.06 L591.87,327.35 L593.7,327.5 L595.62,327.47 L597.62,327.3 L599.68,327 L601.77,326.62 L603.87,326.2 L605.96,325.77 L608.01,325.35 L610,325 L611.94,324.68 L613.84,324.35 L615.72,324.02 L617.58,323.69 L619.43,323.36 L621.28,323.05 L623.13,322.76 L625,322.5 L626.88,322.26 L628.75,322.04 L630.62,321.84 L632.5,321.66 L634.38,321.48 L636.25,321.32 L638.12,321.16 L640,321 L641.88,320.85 L643.75,320.7 L645.62,320.57 L647.5,320.44 L649.38,320.32 L651.25,320.2 L653.12,320.1 L655,320 L656.91,319.91 L658.86,319.84 L660.82,319.78 L662.78,319.72 L664.7,319.67 L666.57,319.61 L668.34,319.56 L670,319.5 L671.53,319.43 L672.94,319.35 L674.27,319.27 L675.53,319.19 L676.76,319.11 L677.98,319.05 L679.22,319.01 L680.5,319" stroke="#282828" stroke-width="1.1" fill="none" stroke-linejoin="round"/>
<path d="M460.2,320.3 L462.05,320.33 L463.9,320.42 L465.74,320.55 L467.59,320.71 L469.44,320.89 L471.29,321.07 L473.14,321.25 L475,321.4 L476.87,321.54 L478.74,321.67 L480.61,321.8 L482.49,321.94 L484.37,322.07 L486.25,322.21 L488.12,322.35 L490,322.5 L491.88,322.65 L493.75,322.81 L495.62,322.98 L497.5,323.14 L499.38,323.31 L501.25,323.48 L503.12,323.64 L505,323.8 L506.88,323.96 L508.75,324.11 L510.62,324.27 L512.5,324.42 L514.38,324.57 L516.25,324.72 L518.12,324.86 L520,325 L521.87,325.14 L523.72,325.27 L525.56,325.4 L527.41,325.53 L529.27,325.65 L531.15,325.77 L533.06,325.89 L535,326 L537,326.11 L539.07,326.23 L541.17,326.34 L543.29,326.45 L545.39,326.55 L547.46,326.65 L549.47,326.73 L551.4,326.8 L553.22,326.86 L554.96,326.9 L556.64,326.94 L558.29,326.96 L559.92,326.98 L561.57,326.99 L563.25,327 L565,327 L566.82,326.99 L568.68,326.98 L570.58,326.96 L572.49,326.93 L574.41,326.9 L576.31,326.87 L578.18,326.83 L580,326.8 L581.76,326.78 L583.46,326.77 L585.12,326.77 L586.77,326.76 L588.43,326.74 L590.12,326.7 L591.87,326.62 L593.7,326.5 L595.62,326.33 L597.62,326.12 L599.68,325.87 L601.77,325.61 L603.87,325.32 L605.96,325.04 L608.01,324.76 L610,324.5 L611.94,324.24 L613.84,323.98 L615.72,323.71 L617.58,323.44 L619.43,323.18 L621.28,322.94 L623.13,322.71 L625,322.5 L626.88,322.32 L628.75,322.15 L630.62,322 L632.5,321.86 L634.38,321.74 L636.25,321.62 L638.12,321.51 L640,321.4 L641.88,321.3 L643.75,321.21 L645.62,321.13 L647.5,321.06 L649.38,321 L651.25,320.93 L653.12,320.87 L655,320.8 L656.91,320.74 L658.86,320.68 L660.82,320.63 L662.78,320.57 L664.7,320.52 L666.57,320.46 L668.34,320.39 L670,320.3 L671.53,320.19 L672.94,320.04 L674.27,319.87 L675.53,319.71 L676.76,319.55 L677.98,319.42 L679.22,319.33 L680.5,319.3" stroke="#282828" stroke-width="1.1" fill="none" stroke-linejoin="round"/>
<path d="M460.2,322.5 L462.05,322.57 L463.9,322.78 L465.74,323.08 L467.59,323.44 L469.44,323.85 L471.29,324.26 L473.14,324.66 L475,325 L476.87,325.31 L478.74,325.63 L480.61,325.95 L482.49,326.26 L484.37,326.57 L486.25,326.87 L488.12,327.14 L490,327.4 L491.88,327.63 L493.75,327.85 L495.62,328.05 L497.5,328.23 L499.38,328.41 L501.25,328.57 L503.12,328.74 L505,328.9 L506.88,329.06 L508.75,329.23 L510.62,329.39 L512.5,329.54 L514.38,329.69 L516.25,329.81 L518.12,329.92 L520,330 L521.87,330.06 L523.72,330.09 L525.56,330.1 L527.41,330.09 L529.27,330.08 L531.15,330.05 L533.06,330.03 L535,330 L537,329.95 L539.07,329.88 L541.17,329.79 L543.29,329.69 L545.39,329.61 L547.46,329.56 L549.47,329.55 L551.4,329.6 L553.22,329.71 L554.96,329.85 L556.64,330.04 L558.29,330.26 L559.92,330.5 L561.57,330.76 L563.25,331.03 L565,331.3 L566.82,331.61 L568.68,331.97 L570.58,332.37 L572.49,332.77 L574.41,333.16 L576.31,333.51 L578.18,333.79 L580,334 L581.76,334.13 L583.46,334.2 L585.12,334.23 L586.77,334.21 L588.43,334.16 L590.12,334.07 L591.87,333.95 L593.7,333.8 L595.62,333.6 L597.62,333.33 L599.68,333.01 L601.77,332.67 L603.87,332.32 L605.96,332 L608.01,331.72 L610,331.5 L611.94,331.35 L613.84,331.25 L615.72,331.18 L617.58,331.13 L619.43,331.1 L621.28,331.08 L623.13,331.05 L625,331 L626.88,330.95 L628.75,330.91 L630.62,330.87 L632.5,330.83 L634.38,330.79 L636.25,330.74 L638.12,330.68 L640,330.6 L641.88,330.52 L643.75,330.45 L645.62,330.38 L647.5,330.3 L649.38,330.19 L651.25,330.05 L653.12,329.85 L655,329.6 L656.91,329.28 L658.86,328.91 L660.82,328.48 L662.78,328.03 L664.7,327.54 L666.57,327.03 L668.34,326.52 L670,326 L671.53,325.41 L672.94,324.7 L674.27,323.94 L675.53,323.19 L676.76,322.5 L677.98,321.93 L679.22,321.54 L680.5,321.4" stroke="#282828" stroke-width="1.1" fill="none" stroke-linejoin="round"/>
<path d="M460.2,325 L462.05,325.2 L463.9,325.73 L465.74,326.5 L467.59,327.44 L469.44,328.44 L471.29,329.43 L473.14,330.31 L475,331 L476.87,331.53 L478.74,331.98 L480.61,332.39 L482.49,332.75 L484.37,333.08 L486.25,333.39 L488.12,333.69 L490,334 L491.88,334.3 L493.75,334.58 L495.62,334.85 L497.5,335.09 L499.38,335.33 L501.25,335.56 L503.12,335.78 L505,336 L506.88,336.21 L508.75,336.42 L510.62,336.62 L512.5,336.81 L514.38,337 L516.25,337.17 L518.12,337.34 L520,337.5 L521.87,337.65 L523.72,337.8 L525.56,337.93 L527.41,338.06 L529.27,338.18 L531.15,338.3 L533.06,338.4 L535,338.5 L537,338.6 L539.07,338.7 L541.17,338.79 L543.29,338.88 L545.39,338.94 L547.46,338.99 L549.47,339.01 L551.4,339 L553.22,338.95 L554.96,338.87 L556.64,338.76 L558.29,338.62 L559.92,338.48 L561.57,338.32 L563.25,338.16 L565,338 L566.82,337.84 L568.68,337.66 L570.58,337.47 L572.49,337.28 L574.41,337.08 L576.31,336.89 L578.18,336.69 L580,336.5 L581.76,336.3 L583.46,336.08 L585.12,335.85 L586.77,335.62 L588.43,335.42 L590.12,335.23 L591.87,335.09 L593.7,335 L595.62,334.97 L597.62,334.98 L599.68,335.04 L601.77,335.12 L603.87,335.22 L605.96,335.33 L608.01,335.42 L610,335.5 L611.94,335.57 L613.84,335.64 L615.72,335.71 L617.58,335.78 L619.43,335.85 L621.28,335.91 L623.13,335.96 L625,336 L626.88,336.04 L628.75,336.08 L630.62,336.12 L632.5,336.16 L634.38,336.17 L636.25,336.15 L638.12,336.1 L640,336 L641.88,335.86 L643.75,335.69 L645.62,335.48 L647.5,335.25 L649.38,334.98 L651.25,334.69 L653.12,334.36 L655,334 L656.91,333.6 L658.86,333.14 L660.82,332.65 L662.78,332.12 L664.7,331.59 L666.57,331.05 L668.34,330.51 L670,330 L671.53,329.45 L672.94,328.81 L674.27,328.15 L675.53,327.5 L676.76,326.91 L677.98,326.44 L679.22,326.12 L680.5,326" stroke="#282828" stroke-width="1.1" fill="none" stroke-linejoin="round"/>
<path d="M460.2,337.5 L462.05,337.55 L463.9,337.69 L465.74,337.9 L467.59,338.14 L469.44,338.39 L471.29,338.64 L473.14,338.85 L475,339 L476.87,339.09 L478.74,339.16 L480.61,339.2 L482.49,339.22 L484.37,339.24 L486.25,339.25 L488.12,339.27 L490,339.3 L491.88,339.34 L493.75,339.37 L495.62,339.41 L497.5,339.44 L499.38,339.48 L501.25,339.52 L503.12,339.56 L505,339.6 L506.88,339.65 L508.75,339.7 L510.62,339.76 L512.5,339.82 L514.38,339.87 L516.25,339.93 L518.12,339.97 L520,340 L521.87,340.02 L523.72,340.02 L525.56,340.02 L527.41,340.01 L529.27,340 L531.15,339.99 L533.06,339.99 L535,340 L537,340.02 L539.07,340.06 L541.17,340.09 L543.29,340.14 L545.39,340.18 L547.46,340.23 L549.47,340.27 L551.4,340.3 L553.22,340.33 L554.96,340.37 L556.64,340.41 L558.29,340.45 L559.92,340.48 L561.57,340.5 L563.25,340.51 L565,340.5 L566.82,340.47 L568.68,340.42 L570.58,340.36 L572.49,340.29 L574.41,340.21 L576.31,340.13 L578.18,340.06 L580,340 L581.76,339.94 L583.46,339.88 L585.12,339.83 L586.77,339.77 L588.43,339.72 L590.12,339.67 L591.87,339.63 L593.7,339.6 L595.62,339.58 L597.62,339.56 L599.68,339.55 L601.77,339.55 L603.87,339.55 L605.96,339.56 L608.01,339.58 L610,339.6 L611.94,339.64 L613.84,339.69 L615.72,339.76 L617.58,339.83 L619.43,339.89 L621.28,339.95 L623.13,339.99 L625,340 L626.88,340 L628.75,339.98 L630.62,339.96 L632.5,339.93 L634.38,339.87 L636.25,339.8 L638.12,339.71 L640,339.6 L641.88,339.47 L643.75,339.32 L645.62,339.15 L647.5,338.96 L649.38,338.76 L651.25,338.53 L653.12,338.28 L655,338 L656.91,337.69 L658.86,337.35 L660.82,336.98 L662.78,336.59 L664.7,336.19 L666.57,335.78 L668.34,335.38 L670,335 L671.53,334.58 L672.94,334.11 L674.27,333.61 L675.53,333.12 L676.76,332.69 L677.98,332.33 L679.22,332.09 L680.5,332" stroke="#282828" stroke-width="1.1" fill="none" stroke-linejoin="round"/>
<path d="M460.2,330 L462.05,330.22 L463.9,330.82 L465.74,331.71 L467.59,332.78 L469.44,333.94 L471.29,335.1 L473.14,336.15 L475,337 L476.87,337.7 L478.74,338.37 L480.61,339 L482.49,339.59 L484.37,340.14 L486.25,340.64 L488.12,341.1 L490,341.5 L491.88,341.83 L493.75,342.1 L495.62,342.3 L497.5,342.47 L499.38,342.61 L501.25,342.73 L503.12,342.86 L505,343 L506.88,343.15 L508.75,343.3 L510.62,343.43 L512.5,343.56 L514.38,343.68 L516.25,343.8 L518.12,343.9 L520,344 L521.87,344.09 L523.72,344.16 L525.56,344.22 L527.41,344.28 L529.27,344.33 L531.15,344.39 L533.06,344.44 L535,344.5 L537,344.57 L539.07,344.64 L541.17,344.71 L543.29,344.78 L545.39,344.85 L547.46,344.91 L549.47,344.96 L551.4,345 L553.22,345.03 L554.96,345.05 L556.64,345.06 L558.29,345.06 L559.92,345.06 L561.57,345.05 L563.25,345.03 L565,345 L566.82,344.96 L568.68,344.91 L570.58,344.85 L572.49,344.78 L574.41,344.71 L576.31,344.64 L578.18,344.57 L580,344.5 L581.76,344.43 L583.46,344.35 L585.12,344.27 L586.77,344.19 L588.43,344.11 L590.12,344.05 L591.87,344.01 L593.7,344 L595.62,344.02 L597.62,344.08 L599.68,344.16 L601.77,344.25 L603.87,344.34 L605.96,344.42 L608.01,344.48 L610,344.5 L611.94,344.49 L613.84,344.47 L615.72,344.43 L617.58,344.38 L619.43,344.3 L621.28,344.22 L623.13,344.12 L625,344 L626.88,343.87 L628.75,343.72 L630.62,343.55 L632.5,343.38 L634.38,343.18 L636.25,342.97 L638.12,342.74 L640,342.5 L641.88,342.24 L643.75,341.96 L645.62,341.66 L647.5,341.34 L649.38,341.02 L651.25,340.68 L653.12,340.34 L655,340 L656.91,339.65 L658.86,339.29 L660.82,338.91 L662.78,338.53 L664.7,338.15 L666.57,337.76 L668.34,337.38 L670,337 L671.53,336.58 L672.94,336.11 L674.27,335.61 L675.53,335.12 L676.76,334.69 L677.98,334.33 L679.22,334.09 L680.5,334" stroke="#282828" stroke-width="1.1" fill="none" stroke-linejoin="round"/>
<path d="M460.2,333 L462.05,333.25 L463.9,333.95 L465.74,334.96 L467.59,336.19 L469.44,337.52 L471.29,338.84 L473.14,340.03 L475,341 L476.87,341.79 L478.74,342.52 L480.61,343.2 L482.49,343.84 L484.37,344.44 L486.25,345 L488.12,345.52 L490,346 L491.88,346.44 L493.75,346.84 L495.62,347.19 L497.5,347.5 L499.38,347.78 L501.25,348.04 L503.12,348.28 L505,348.5 L506.88,348.7 L508.75,348.87 L510.62,349.01 L512.5,349.12 L514.38,349.23 L516.25,349.32 L518.12,349.41 L520,349.5 L521.87,349.59 L523.72,349.66 L525.56,349.72 L527.41,349.78 L529.27,349.83 L531.15,349.89 L533.06,349.94 L535,350 L537,350.07 L539.07,350.14 L541.17,350.21 L543.29,350.28 L545.39,350.35 L547.46,350.41 L549.47,350.46 L551.4,350.5 L553.22,350.53 L554.96,350.55 L556.64,350.56 L558.29,350.56 L559.92,350.56 L561.57,350.55 L563.25,350.53 L565,350.5 L566.82,350.46 L568.68,350.4 L570.58,350.33 L572.49,350.25 L574.41,350.17 L576.31,350.1 L578.18,350.04 L580,350 L581.76,349.98 L583.46,349.96 L585.12,349.96 L586.77,349.97 L588.43,349.98 L590.12,349.99 L591.87,350 L593.7,350 L595.62,350.01 L597.62,350.02 L599.68,350.04 L601.77,350.06 L603.87,350.07 L605.96,350.07 L608.01,350.05 L610,350 L611.94,349.93 L613.84,349.84 L615.72,349.74 L617.58,349.62 L619.43,349.49 L621.28,349.34 L623.13,349.18 L625,349 L626.88,348.8 L628.75,348.59 L630.62,348.37 L632.5,348.12 L634.38,347.87 L636.25,347.59 L638.12,347.3 L640,347 L641.88,346.68 L643.75,346.34 L645.62,345.99 L647.5,345.62 L649.38,345.24 L651.25,344.84 L653.12,344.43 L655,344 L656.91,343.55 L658.86,343.07 L660.82,342.57 L662.78,342.06 L664.7,341.54 L666.57,341.02 L668.34,340.51 L670,340 L671.53,339.45 L672.94,338.81 L674.27,338.15 L675.53,337.5 L676.76,336.91 L677.98,336.44 L679.22,336.12 L680.5,336" stroke="#282828" stroke-width="1.1" fill="none" stroke-linejoin="round"/>
<path d="M460.2,318 L462.05,318.5 L463.9,319.84 L465.74,321.8 L467.59,324.16 L469.44,326.68 L471.29,329.14 L473.14,331.33 L475,333 L476.87,334.2 L478.74,335.15 L480.61,335.93 L482.49,336.59 L484.37,337.22 L486.25,337.86 L488.12,338.6 L490,339.5 L491.88,340.55 L493.75,341.7 L495.62,342.91 L497.5,344.16 L499.38,345.42 L501.25,346.66 L503.12,347.86 L505,349 L506.88,350.09 L508.75,351.16 L510.62,352.22 L512.5,353.25 L514.38,354.25 L516.25,355.21 L518.12,356.13 L520,357 L521.87,357.82 L523.72,358.61 L525.56,359.36 L527.41,360.06 L529.27,360.73 L531.15,361.36 L533.06,361.95 L535,362.5 L537,363.02 L539.07,363.5 L541.17,363.94 L543.29,364.34 L545.39,364.7 L547.46,365.02 L549.47,365.29 L551.4,365.5 L553.22,365.69 L554.96,365.88 L556.64,366.03 L558.29,366.12 L559.92,366.14 L561.57,366.06 L563.25,365.86 L565,365.5 L566.82,364.96 L568.68,364.24 L570.58,363.39 L572.49,362.44 L574.41,361.43 L576.31,360.41 L578.18,359.42 L580,358.5 L581.76,357.55 L583.46,356.48 L585.12,355.37 L586.77,354.28 L588.43,353.28 L590.12,352.44 L591.87,351.82 L593.7,351.5 L595.62,351.53 L597.62,351.89 L599.68,352.48 L601.77,353.22 L603.87,354.03 L605.96,354.82 L608.01,355.51 L610,356 L611.94,356.38 L613.84,356.76 L615.72,357.12 L617.58,357.41 L619.43,357.62 L621.28,357.71 L623.13,357.64 L625,357.4 L626.88,356.95 L628.75,356.32 L630.62,355.53 L632.5,354.63 L634.38,353.64 L636.25,352.6 L638.12,351.54 L640,350.5 L641.88,349.44 L643.75,348.32 L645.62,347.15 L647.5,345.94 L649.38,344.71 L651.25,343.47 L653.12,342.23 L655,341 L656.91,339.76 L658.86,338.49 L660.82,337.2 L662.78,335.91 L664.7,334.63 L666.57,333.37 L668.34,332.16 L670,331 L671.53,329.79 L672.94,328.48 L674.27,327.15 L675.53,325.88 L676.76,324.74 L677.98,323.83 L679.22,323.22 L680.5,323" stroke="#282828" stroke-width="1.1" fill="none" stroke-linejoin="round"/>
<path d="M460.2,336 L462.05,336.25 L463.9,336.92 L465.74,337.92 L467.59,339.12 L469.44,340.44 L471.29,341.77 L473.14,342.99 L475,344 L476.87,344.86 L478.74,345.68 L480.61,346.46 L482.49,347.22 L484.37,347.95 L486.25,348.65 L488.12,349.34 L490,350 L491.88,350.65 L493.75,351.28 L495.62,351.89 L497.5,352.47 L499.38,353.02 L501.25,353.55 L503.12,354.04 L505,354.5 L506.88,354.92 L508.75,355.3 L510.62,355.64 L512.5,355.96 L514.38,356.25 L516.25,356.51 L518.12,356.76 L520,357 L521.87,357.21 L523.72,357.4 L525.56,357.56 L527.41,357.71 L529.27,357.84 L531.15,357.96 L533.06,358.08 L535,358.2 L537,358.32 L539.07,358.42 L541.17,358.52 L543.29,358.61 L545.39,358.7 L547.46,358.8 L549.47,358.89 L551.4,359 L553.22,359.13 L554.96,359.28 L556.64,359.45 L558.29,359.61 L559.92,359.76 L561.57,359.89 L563.25,359.97 L565,360 L566.82,359.98 L568.68,359.94 L570.58,359.86 L572.49,359.75 L574.41,359.61 L576.31,359.44 L578.18,359.23 L580,359 L581.76,358.71 L583.46,358.36 L585.12,357.96 L586.77,357.53 L588.43,357.1 L590.12,356.69 L591.87,356.32 L593.7,356 L595.62,355.74 L597.62,355.51 L599.68,355.31 L601.77,355.12 L603.87,354.96 L605.96,354.8 L608.01,354.65 L610,354.5 L611.94,354.37 L613.84,354.27 L615.72,354.2 L617.58,354.12 L619.43,354.04 L621.28,353.91 L623.13,353.74 L625,353.5 L626.88,353.19 L628.75,352.84 L630.62,352.44 L632.5,352 L634.38,351.53 L636.25,351.04 L638.12,350.53 L640,350 L641.88,349.45 L643.75,348.86 L645.62,348.23 L647.5,347.59 L649.38,346.94 L651.25,346.29 L653.12,345.64 L655,345 L656.91,344.35 L658.86,343.68 L660.82,342.99 L662.78,342.31 L664.7,341.66 L666.57,341.04 L668.34,340.48 L670,340 L671.53,339.58 L672.94,339.2 L674.27,338.85 L675.53,338.56 L676.76,338.33 L677.98,338.15 L679.22,338.04 L680.5,338" stroke="#282828" stroke-width="1.1" fill="none" stroke-linejoin="round"/>
<path d="M460.2,340 L462.05,340.24 L463.9,340.9 L465.74,341.87 L467.59,343.06 L469.44,344.37 L471.29,345.7 L473.14,346.94 L475,348 L476.87,348.94 L478.74,349.87 L480.61,350.79 L482.49,351.69 L484.37,352.57 L486.25,353.41 L488.12,354.23 L490,355 L491.88,355.73 L493.75,356.44 L495.62,357.11 L497.5,357.75 L499.38,358.36 L501.25,358.94 L503.12,359.48 L505,360 L506.88,360.48 L508.75,360.91 L510.62,361.32 L512.5,361.69 L514.38,362.04 L516.25,362.37 L518.12,362.69 L520,363 L521.87,363.3 L523.72,363.59 L525.56,363.87 L527.41,364.12 L529.27,364.37 L531.15,364.59 L533.06,364.8 L535,365 L537,365.18 L539.07,365.33 L541.17,365.47 L543.29,365.59 L545.39,365.71 L547.46,365.81 L549.47,365.91 L551.4,366 L553.22,366.11 L554.96,366.23 L556.64,366.36 L558.29,366.47 L559.92,366.55 L561.57,366.6 L563.25,366.58 L565,366.5 L566.82,366.33 L568.68,366.1 L570.58,365.8 L572.49,365.47 L574.41,365.11 L576.31,364.73 L578.18,364.36 L580,364 L581.76,363.64 L583.46,363.24 L585.12,362.82 L586.77,362.41 L588.43,362 L590.12,361.62 L591.87,361.28 L593.7,361 L595.62,360.78 L597.62,360.62 L599.68,360.5 L601.77,360.41 L603.87,360.32 L605.96,360.24 L608.01,360.14 L610,360 L611.94,359.85 L613.84,359.71 L615.72,359.56 L617.58,359.41 L619.43,359.23 L621.28,359.03 L623.13,358.79 L625,358.5 L626.88,358.17 L628.75,357.8 L630.62,357.4 L632.5,356.97 L634.38,356.51 L636.25,356.03 L638.12,355.52 L640,355 L641.88,354.45 L643.75,353.86 L645.62,353.23 L647.5,352.59 L649.38,351.94 L651.25,351.29 L653.12,350.64 L655,350 L656.91,349.36 L658.86,348.7 L660.82,348.04 L662.78,347.38 L664.7,346.73 L666.57,346.11 L668.34,345.53 L670,345 L671.53,344.49 L672.94,343.97 L674.27,343.46 L675.53,343 L676.76,342.6 L677.98,342.28 L679.22,342.07 L680.5,342" stroke="#282828" stroke-width="1.1" fill="none" stroke-linejoin="round"/>
<path d="M460.2,343 L462.05,343.23 L463.9,343.88 L465.74,344.83 L467.59,346 L469.44,347.3 L471.29,348.62 L473.14,349.89 L475,351 L476.87,352.01 L478.74,353.05 L480.61,354.09 L482.49,355.12 L484.37,356.15 L486.25,357.14 L488.12,358.1 L490,359 L491.88,359.86 L493.75,360.7 L495.62,361.51 L497.5,362.28 L499.38,363.02 L501.25,363.72 L503.12,364.38 L505,365 L506.88,365.57 L508.75,366.09 L510.62,366.56 L512.5,367 L514.38,367.41 L516.25,367.79 L518.12,368.15 L520,368.5 L521.87,368.83 L523.72,369.13 L525.56,369.4 L527.41,369.66 L529.27,369.89 L531.15,370.11 L533.06,370.31 L535,370.5 L537,370.68 L539.07,370.84 L541.17,370.99 L543.29,371.12 L545.39,371.24 L547.46,371.34 L549.47,371.43 L551.4,371.5 L553.22,371.56 L554.96,371.63 L556.64,371.68 L558.29,371.72 L559.92,371.73 L561.57,371.7 L563.25,371.63 L565,371.5 L566.82,371.31 L568.68,371.06 L570.58,370.77 L572.49,370.44 L574.41,370.08 L576.31,369.72 L578.18,369.35 L580,369 L581.76,368.64 L583.46,368.25 L585.12,367.85 L586.77,367.44 L588.43,367.04 L590.12,366.66 L591.87,366.31 L593.7,366 L595.62,365.75 L597.62,365.54 L599.68,365.37 L601.77,365.22 L603.87,365.07 L605.96,364.91 L608.01,364.73 L610,364.5 L611.94,364.24 L613.84,363.97 L615.72,363.68 L617.58,363.38 L619.43,363.05 L621.28,362.72 L623.13,362.37 L625,362 L626.88,361.62 L628.75,361.24 L630.62,360.85 L632.5,360.44 L634.38,360 L636.25,359.54 L638.12,359.04 L640,358.5 L641.88,357.9 L643.75,357.25 L645.62,356.56 L647.5,355.84 L649.38,355.11 L651.25,354.39 L653.12,353.68 L655,353 L656.91,352.34 L658.86,351.67 L660.82,351 L662.78,350.34 L664.7,349.71 L666.57,349.1 L668.34,348.53 L670,348 L671.53,347.49 L672.94,346.97 L674.27,346.46 L675.53,346 L676.76,345.6 L677.98,345.28 L679.22,345.07 L680.5,345" stroke="#282828" stroke-width="1.1" fill="none" stroke-linejoin="round"/>
<path d="M460.2,346 L462.05,346.27 L463.9,347.01 L465.74,348.1 L467.59,349.44 L469.44,350.91 L471.29,352.4 L473.14,353.8 L475,355 L476.87,356.06 L478.74,357.12 L480.61,358.16 L482.49,359.19 L484.37,360.19 L486.25,361.16 L488.12,362.1 L490,363 L491.88,363.86 L493.75,364.69 L495.62,365.48 L497.5,366.25 L499.38,366.98 L501.25,367.69 L503.12,368.36 L505,369 L506.88,369.61 L508.75,370.19 L510.62,370.73 L512.5,371.25 L514.38,371.73 L516.25,372.19 L518.12,372.61 L520,373 L521.87,373.35 L523.72,373.66 L525.56,373.94 L527.41,374.19 L529.27,374.41 L531.15,374.62 L533.06,374.81 L535,375 L537,375.18 L539.07,375.33 L541.17,375.47 L543.29,375.59 L545.39,375.71 L547.46,375.81 L549.47,375.91 L551.4,376 L553.22,376.11 L554.96,376.23 L556.64,376.36 L558.29,376.47 L559.92,376.55 L561.57,376.6 L563.25,376.58 L565,376.5 L566.82,376.33 L568.68,376.1 L570.58,375.8 L572.49,375.47 L574.41,375.11 L576.31,374.73 L578.18,374.36 L580,374 L581.76,373.65 L583.46,373.27 L585.12,372.89 L586.77,372.5 L588.43,372.11 L590.12,371.73 L591.87,371.35 L593.7,371 L595.62,370.66 L597.62,370.34 L599.68,370.03 L601.77,369.72 L603.87,369.42 L605.96,369.11 L608.01,368.81 L610,368.5 L611.94,368.2 L613.84,367.91 L615.72,367.63 L617.58,367.34 L619.43,367.05 L621.28,366.73 L623.13,366.38 L625,366 L626.88,365.59 L628.75,365.15 L630.62,364.7 L632.5,364.22 L634.38,363.71 L636.25,363.18 L638.12,362.61 L640,362 L641.88,361.34 L643.75,360.62 L645.62,359.85 L647.5,359.06 L649.38,358.26 L651.25,357.48 L653.12,356.72 L655,356 L656.91,355.31 L658.86,354.63 L660.82,353.96 L662.78,353.31 L664.7,352.68 L666.57,352.09 L668.34,351.52 L670,351 L671.53,350.49 L672.94,349.97 L674.27,349.46 L675.53,349 L676.76,348.6 L677.98,348.28 L679.22,348.07 L680.5,348" stroke="#282828" stroke-width="1.1" fill="none" stroke-linejoin="round"/>
<path d="M460.2,349 L462.05,349.27 L463.9,350.01 L465.74,351.1 L467.59,352.44 L469.44,353.91 L471.29,355.4 L473.14,356.8 L475,358 L476.87,359.07 L478.74,360.15 L480.61,361.23 L482.49,362.28 L484.37,363.3 L486.25,364.27 L488.12,365.17 L490,366 L491.88,366.74 L493.75,367.39 L495.62,367.99 L497.5,368.53 L499.38,369.04 L501.25,369.53 L503.12,370.01 L505,370.5 L506.88,370.98 L508.75,371.43 L510.62,371.86 L512.5,372.28 L514.38,372.69 L516.25,373.11 L518.12,373.55 L520,374 L521.87,374.48 L523.72,374.96 L525.56,375.46 L527.41,375.97 L529.27,376.48 L531.15,376.99 L533.06,377.5 L535,378 L537,378.52 L539.07,379.06 L541.17,379.61 L543.29,380.16 L545.39,380.68 L547.46,381.18 L549.47,381.62 L551.4,382 L553.22,382.31 L554.96,382.57 L556.64,382.79 L558.29,382.97 L559.92,383.12 L561.57,383.25 L563.25,383.38 L565,383.5 L566.82,383.62 L568.68,383.73 L570.58,383.83 L572.49,383.91 L574.41,383.97 L576.31,384 L578.18,384.02 L580,384 L581.76,383.97 L583.46,383.94 L585.12,383.89 L586.77,383.81 L588.43,383.7 L590.12,383.53 L591.87,383.3 L593.7,383 L595.62,382.6 L597.62,382.09 L599.68,381.51 L601.77,380.88 L603.87,380.24 L605.96,379.61 L608.01,379.02 L610,378.5 L611.94,378.06 L613.84,377.68 L615.72,377.34 L617.58,377.01 L619.43,376.67 L621.28,376.3 L623.13,375.89 L625,375.4 L626.88,374.85 L628.75,374.27 L630.62,373.66 L632.5,373.01 L634.38,372.32 L636.25,371.59 L638.12,370.82 L640,370 L641.88,369.11 L643.75,368.14 L645.62,367.1 L647.5,366.04 L649.38,364.97 L651.25,363.92 L653.12,362.92 L655,362 L656.91,361.14 L658.86,360.3 L660.82,359.49 L662.78,358.72 L664.7,357.98 L666.57,357.28 L668.34,356.62 L670,356 L671.53,355.4 L672.94,354.79 L674.27,354.2 L675.53,353.66 L676.76,353.19 L677.98,352.82 L679.22,352.59 L680.5,352.5" stroke="#282828" stroke-width="1.1" fill="none" stroke-linejoin="round"/>
<path d="M460.2,352 L462.05,352.31 L463.9,353.14 L465.74,354.37 L467.59,355.88 L469.44,357.52 L471.29,359.17 L473.14,360.71 L475,362 L476.87,363.12 L478.74,364.21 L480.61,365.28 L482.49,366.31 L484.37,367.31 L486.25,368.26 L488.12,369.16 L490,370 L491.88,370.78 L493.75,371.5 L495.62,372.16 L497.5,372.78 L499.38,373.37 L501.25,373.93 L503.12,374.47 L505,375 L506.88,375.52 L508.75,376.02 L510.62,376.49 L512.5,376.94 L514.38,377.36 L516.25,377.77 L518.12,378.14 L520,378.5 L521.87,378.83 L523.72,379.13 L525.56,379.4 L527.41,379.66 L529.27,379.89 L531.15,380.11 L533.06,380.31 L535,380.5 L537,380.68 L539.07,380.86 L541.17,381.01 L543.29,381.16 L545.39,381.28 L547.46,381.38 L549.47,381.45 L551.4,381.5 L553.22,381.51 L554.96,381.49 L556.64,381.44 L558.29,381.38 L559.92,381.29 L561.57,381.2 L563.25,381.1 L565,381 L566.82,380.9 L568.68,380.8 L570.58,380.7 L572.49,380.58 L574.41,380.46 L576.31,380.32 L578.18,380.17 L580,380 L581.76,379.82 L583.46,379.62 L585.12,379.4 L586.77,379.17 L588.43,378.94 L590.12,378.7 L591.87,378.45 L593.7,378.2 L595.62,377.96 L597.62,377.72 L599.68,377.48 L601.77,377.24 L603.87,376.97 L605.96,376.69 L608.01,376.36 L610,376 L611.94,375.59 L613.84,375.15 L615.72,374.68 L617.58,374.18 L619.43,373.65 L621.28,373.11 L623.13,372.56 L625,372 L626.88,371.44 L628.75,370.87 L630.62,370.29 L632.5,369.69 L634.38,369.07 L636.25,368.41 L638.12,367.73 L640,367 L641.88,366.21 L643.75,365.34 L645.62,364.43 L647.5,363.5 L649.38,362.57 L651.25,361.66 L653.12,360.79 L655,360 L656.91,359.28 L658.86,358.61 L660.82,357.98 L662.78,357.38 L664.7,356.79 L666.57,356.2 L668.34,355.61 L670,355 L671.53,354.31 L672.94,353.52 L674.27,352.69 L675.53,351.88 L676.76,351.14 L677.98,350.55 L679.22,350.15 L680.5,350" stroke="#282828" stroke-width="1.1" fill="none" stroke-linejoin="round"/>
<path d="M460.2,343 L461.42,343.02 L462.65,343.07 L463.87,343.16 L465.09,343.28 L466.31,343.43 L467.54,343.6 L468.77,343.79 L470,344 L471.24,344.23 L472.49,344.47 L473.74,344.74 L474.99,345.03 L476.24,345.35 L477.5,345.7 L478.75,346.08 L480,346.5 L481.25,346.96 L482.5,347.45 L483.75,347.98 L485,348.53 L486.25,349.11 L487.5,349.72 L488.75,350.35 L490,351 L491.25,351.67 L492.5,352.37 L493.75,353.1 L495,353.84 L496.25,354.61 L497.5,355.39 L498.75,356.19 L500,357 L501.25,357.82 L502.5,358.66 L503.75,359.51 L505,360.38 L506.25,361.26 L507.5,362.16 L508.75,363.07 L510,364 L511.25,364.95 L512.5,365.93 L513.75,366.93 L515,367.94 L516.25,368.96 L517.5,369.98 L518.75,370.99 L520,372 L521.25,373 L522.5,374 L523.75,375 L525,376 L526.25,377 L527.5,378 L528.75,379 L530,380 L531.28,381.03 L532.62,382.09 L533.97,383.18 L535.31,384.25 L536.62,385.29 L537.85,386.28 L538.99,387.19 L540,388 L540.86,388.69 L541.6,389.28 L542.24,389.79 L542.81,390.25 L543.34,390.68 L543.87,391.09 L544.41,391.53 L545,392" stroke="#282828" stroke-width="1.1" fill="none" stroke-linejoin="round"/>
<path d="M460.2,346 L461.42,346.02 L462.65,346.08 L463.87,346.18 L465.09,346.32 L466.31,346.49 L467.54,346.7 L468.77,346.93 L470,347.2 L471.24,347.5 L472.49,347.83 L473.74,348.19 L474.99,348.58 L476.24,349.01 L477.5,349.47 L478.75,349.97 L480,350.5 L481.25,351.07 L482.5,351.67 L483.75,352.31 L485,352.99 L486.25,353.69 L487.5,354.43 L488.75,355.2 L490,356 L491.25,356.83 L492.5,357.69 L493.75,358.58 L495,359.5 L496.25,360.45 L497.5,361.44 L498.75,362.45 L500,363.5 L501.25,364.58 L502.5,365.7 L503.75,366.85 L505,368.03 L506.25,369.24 L507.5,370.47 L508.75,371.73 L510,373 L511.28,374.34 L512.62,375.76 L513.97,377.23 L515.31,378.72 L516.62,380.18 L517.85,381.57 L518.99,382.85 L520,384 L520.86,384.99 L521.6,385.85 L522.24,386.62 L522.81,387.31 L523.34,387.97 L523.87,388.62 L524.41,389.28 L525,390" stroke="#282828" stroke-width="1.1" fill="none" stroke-linejoin="round"/>
<path d="M460.2,348.5 L461.42,348.52 L462.65,348.59 L463.87,348.71 L465.09,348.88 L466.31,349.09 L467.54,349.34 L468.77,349.65 L470,350 L471.24,350.4 L472.49,350.86 L473.74,351.36 L474.99,351.91 L476.24,352.5 L477.5,353.13 L478.75,353.8 L480,354.5 L481.25,355.24 L482.5,356.02 L483.75,356.83 L485,357.69 L486.25,358.58 L487.5,359.52 L488.75,360.49 L490,361.5 L491.25,362.55 L492.5,363.64 L493.75,364.77 L495,365.94 L496.25,367.14 L497.5,368.39 L498.75,369.68 L500,371 L501.28,372.41 L502.62,373.94 L503.97,375.54 L505.31,377.16 L506.62,378.76 L507.85,380.29 L508.99,381.72 L510,383 L510.86,384.11 L511.6,385.1 L512.24,385.99 L512.81,386.81 L513.34,387.59 L513.87,388.37 L514.41,389.16 L515,390" stroke="#282828" stroke-width="1.1" fill="none" stroke-linejoin="round"/>
<path d="M460.2,351 L461.17,351.02 L462.15,351.07 L463.12,351.17 L464.09,351.31 L465.06,351.49 L466.04,351.71 L467.02,351.98 L468,352.3 L468.99,352.67 L469.99,353.09 L470.99,353.56 L471.99,354.08 L472.99,354.63 L474,355.22 L475,355.85 L476,356.5 L477,357.19 L478,357.92 L479,358.68 L480,359.48 L481,360.31 L482,361.18 L483,362.08 L484,363 L485,363.95 L486,364.94 L487,365.95 L488,367 L489,368.08 L490,369.19 L491,370.33 L492,371.5 L493.01,372.73 L494.05,374.02 L495.09,375.36 L496.12,376.72 L497.15,378.08 L498.14,379.43 L499.1,380.75 L500,382 L500.85,383.2 L501.64,384.36 L502.4,385.48 L503.12,386.59 L503.84,387.69 L504.55,388.79 L505.26,389.89 L506,391" stroke="#282828" stroke-width="1.1" fill="none" stroke-linejoin="round"/>
<path d="M460.2,353 L461.17,353.02 L462.15,353.1 L463.12,353.22 L464.09,353.39 L465.06,353.61 L466.04,353.89 L467.02,354.22 L468,354.6 L468.99,355.04 L469.99,355.54 L470.99,356.1 L471.99,356.71 L472.99,357.36 L474,358.07 L475,358.81 L476,359.6 L477,360.43 L478,361.31 L479,362.24 L480,363.21 L481,364.22 L482,365.27 L483,366.37 L484,367.5 L485.01,368.7 L486.05,369.98 L487.09,371.31 L488.12,372.68 L489.15,374.06 L490.14,375.42 L491.1,376.74 L492,378 L492.87,379.22 L493.71,380.45 L494.53,381.66 L495.31,382.84 L496.06,383.98 L496.76,385.07 L497.41,386.08 L498,387 L498.52,387.82 L498.96,388.53 L499.34,389.17 L499.69,389.75 L500.01,390.3 L500.32,390.84 L500.65,391.4 L501,392" stroke="#282828" stroke-width="1.1" fill="none" stroke-linejoin="round"/>
<path d="M460.2,355 L461.05,355.03 L461.9,355.12 L462.74,355.26 L463.59,355.46 L464.44,355.72 L465.29,356.03 L466.14,356.39 L467,356.8 L467.87,357.27 L468.74,357.8 L469.61,358.38 L470.49,359.01 L471.37,359.7 L472.25,360.42 L473.12,361.19 L474,362 L474.88,362.85 L475.75,363.74 L476.62,364.69 L477.5,365.67 L478.38,366.69 L479.25,367.76 L480.12,368.86 L481,370 L481.88,371.19 L482.77,372.45 L483.67,373.75 L484.56,375.09 L485.45,376.45 L486.32,377.82 L487.17,379.17 L488,380.5 L488.8,381.81 L489.57,383.12 L490.32,384.44 L491.06,385.75 L491.79,387.06 L492.52,388.38 L493.26,389.69 L494,391" stroke="#282828" stroke-width="1.1" fill="none" stroke-linejoin="round"/>
<path d="M460.2,357 L460.92,357.02 L461.65,357.09 L462.37,357.21 L463.09,357.38 L463.81,357.59 L464.54,357.84 L465.27,358.15 L466,358.5 L466.74,358.9 L467.49,359.34 L468.24,359.84 L468.99,360.38 L469.74,360.96 L470.5,361.59 L471.25,362.27 L472,363 L472.75,363.78 L473.5,364.62 L474.25,365.5 L475,366.44 L475.75,367.41 L476.5,368.41 L477.25,369.45 L478,370.5 L478.76,371.59 L479.52,372.72 L480.29,373.89 L481.06,375.09 L481.82,376.31 L482.57,377.54 L483.3,378.77 L484,380 L484.67,381.23 L485.32,382.46 L485.95,383.71 L486.56,384.97 L487.17,386.23 L487.77,387.49 L488.38,388.75 L489,390" stroke="#282828" stroke-width="1.1" fill="none" stroke-linejoin="round"/>
<path d="M460.2,358.5 L460.8,358.52 L461.4,358.57 L461.99,358.65 L462.59,358.77 L463.19,358.92 L463.79,359.11 L464.39,359.34 L465,359.6 L465.62,359.9 L466.24,360.25 L466.86,360.64 L467.49,361.06 L468.12,361.51 L468.75,361.98 L469.37,362.48 L470,363 L470.62,363.53 L471.25,364.08 L471.88,364.65 L472.5,365.24 L473.12,365.87 L473.75,366.54 L474.38,367.24 L475,368 L475.62,368.8 L476.25,369.65 L476.88,370.54 L477.5,371.47 L478.12,372.43 L478.75,373.43 L479.38,374.45 L480,375.5 L480.64,376.61 L481.3,377.79 L481.96,379.03 L482.62,380.28 L483.27,381.53 L483.89,382.75 L484.47,383.92 L485,385 L485.47,385.99 L485.89,386.93 L486.27,387.81 L486.62,388.66 L486.96,389.48 L487.3,390.31 L487.64,391.14 L488,392" stroke="#282828" stroke-width="1.1" fill="none" stroke-linejoin="round"/>
<path d="M460.2,331 L461.98,330.99 L463.66,330.98 L465.3,330.96 L466.96,330.94 L468.7,330.93 L470.58,330.93 L472.66,330.95 L475,331 L477.64,331.07 L480.53,331.16 L483.63,331.26 L486.86,331.38 L490.18,331.51 L493.51,331.66 L496.81,331.82 L500,332 L503.12,332.21 L506.22,332.45 L509.31,332.72 L512.41,333 L515.52,333.28 L518.65,333.55 L521.81,333.79 L525,334 L528.25,334.15 L531.57,334.23 L534.92,334.27 L538.29,334.31 L541.64,334.38 L544.96,334.49 L548.22,334.69 L551.4,335 L554.52,335.46 L557.61,336.06 L560.67,336.76 L563.68,337.5 L566.63,338.24 L569.51,338.94 L572.3,339.54 L575,340 L577.57,340.31 L580.03,340.52 L582.39,340.65 L584.68,340.72 L586.93,340.76 L589.17,340.81 L591.42,340.88 L593.7,341 L595.94,341.18 L598.08,341.39 L600.17,341.61 L602.27,341.84 L604.44,342.06 L606.75,342.25 L609.25,342.4 L612,342.5 L615.06,342.55 L618.39,342.57 L621.92,342.57 L625.58,342.53 L629.29,342.46 L632.98,342.35 L636.58,342.2 L640,342 L643.33,341.74 L646.68,341.4 L650.01,341.01 L653.28,340.59 L656.45,340.16 L659.49,339.74 L662.35,339.34 L665,339 L667.39,338.67 L669.54,338.34 L671.51,338 L673.34,337.69 L675.1,337.41 L676.85,337.2 L678.63,337.05 L680.5,337" stroke="#282828" stroke-width="1.1" fill="none" stroke-linejoin="round"/>
<path d="M460.2,327 L461.42,327.23 L462.65,327.85 L463.87,328.78 L465.09,329.94 L466.31,331.22 L467.54,332.55 L468.77,333.84 L470,335 L471.21,336.08 L472.37,337.2 L473.52,338.35 L474.68,339.5 L475.88,340.65 L477.14,341.8 L478.51,342.92 L480,344 L481.64,345.05 L483.4,346.07 L485.26,347.07 L487.19,348.06 L489.16,349.04 L491.13,350.02 L493.09,351.01 L495,352 L496.88,353.01 L498.75,354.05 L500.62,355.09 L502.5,356.12 L504.38,357.15 L506.25,358.14 L508.12,359.1 L510,360 L511.88,360.86 L513.75,361.69 L515.62,362.48 L517.5,363.25 L519.38,363.98 L521.25,364.69 L523.12,365.36 L525,366 L526.9,366.61 L528.83,367.19 L530.78,367.73 L532.73,368.25 L534.64,368.73 L536.5,369.19 L538.3,369.61 L540,370 L541.51,370.35 L542.82,370.66 L544,370.94 L545.16,371.19 L546.39,371.41 L547.78,371.62 L549.42,371.81 L551.4,372 L553.8,372.17 L556.56,372.32 L559.57,372.45 L562.74,372.56 L565.97,372.67 L569.16,372.77 L572.2,372.88 L575,373 L577.59,373.15 L580.08,373.32 L582.48,373.51 L584.81,373.69 L587.08,373.84 L589.31,373.96 L591.51,374.02 L593.7,374 L595.76,373.93 L597.62,373.83 L599.39,373.69 L601.14,373.5 L602.99,373.25 L605.02,372.92 L607.32,372.51 L610,372 L613.16,371.38 L616.77,370.65 L620.69,369.83 L624.77,368.94 L628.88,367.99 L632.88,367.01 L636.63,366 L640,365 L642.98,364.02 L645.69,363.05 L648.21,362.08 L650.59,361.06 L652.9,359.98 L655.2,358.79 L657.54,357.47 L660,356 L662.54,354.12 L665.09,351.74 L667.65,349.11 L670.22,346.44 L672.79,343.96 L675.36,341.91 L677.93,340.52 L680.5,340" stroke="#282828" stroke-width="1.1" fill="none" stroke-linejoin="round"/>
<path d="M580,391 L581.69,390.51 L583.36,390.02 L585.02,389.54 L586.69,389.06 L588.37,388.57 L590.09,388.07 L591.86,387.55 L593.7,387 L595.62,386.43 L597.62,385.84 L599.68,385.24 L601.77,384.62 L603.87,383.99 L605.96,383.34 L608.01,382.68 L610,382 L611.94,381.3 L613.84,380.59 L615.72,379.87 L617.58,379.12 L619.43,378.37 L621.28,377.59 L623.13,376.8 L625,376 L626.88,375.17 L628.75,374.32 L630.62,373.45 L632.5,372.56 L634.38,371.67 L636.25,370.77 L638.12,369.88 L640,369 L641.88,368.12 L643.75,367.25 L645.62,366.38 L647.5,365.5 L649.38,364.62 L651.25,363.75 L653.12,362.88 L655,362 L656.91,361.11 L658.86,360.2 L660.82,359.29 L662.78,358.38 L664.7,357.48 L666.57,356.61 L668.34,355.78 L670,355 L671.53,354.21 L672.94,353.38 L674.27,352.54 L675.53,351.75 L676.76,351.05 L677.98,350.5 L679.22,350.13 L680.5,350" stroke="#282828" stroke-width="1.1" fill="none" stroke-linejoin="round"/>
<path d="M588,391 L589.88,390.38 L591.75,389.77 L593.62,389.17 L595.5,388.56 L597.38,387.95 L599.25,387.32 L601.12,386.67 L603,386 L604.88,385.3 L606.75,384.59 L608.62,383.87 L610.5,383.12 L612.38,382.37 L614.25,381.59 L616.12,380.8 L618,380 L619.88,379.17 L621.75,378.32 L623.62,377.45 L625.5,376.56 L627.38,375.67 L629.25,374.77 L631.12,373.88 L633,373 L634.88,372.13 L636.75,371.27 L638.62,370.42 L640.5,369.56 L642.38,368.7 L644.25,367.82 L646.12,366.92 L648,366 L649.86,365.04 L651.69,364.05 L653.52,363.03 L655.34,362 L657.19,360.97 L659.07,359.95 L661.01,358.96 L663,358 L665.07,356.98 L667.2,355.85 L669.38,354.69 L671.59,353.56 L673.83,352.56 L676.07,351.74 L678.3,351.2 L680.5,351" stroke="#282828" stroke-width="1.1" fill="none" stroke-linejoin="round"/>
<path d="M600,391 L601.88,390.39 L603.75,389.8 L605.62,389.21 L607.5,388.62 L609.38,388.02 L611.25,387.39 L613.12,386.72 L615,386 L616.88,385.23 L618.75,384.41 L620.62,383.57 L622.5,382.69 L624.38,381.79 L626.25,380.87 L628.12,379.94 L630,379 L631.88,378.05 L633.75,377.07 L635.62,376.07 L637.5,375.06 L639.38,374.04 L641.25,373.02 L643.12,372.01 L645,371 L646.84,370.02 L648.62,369.07 L650.38,368.13 L652.16,367.19 L653.97,366.22 L655.86,365.21 L657.86,364.14 L660,363 L662.3,361.62 L664.74,359.95 L667.28,358.13 L669.91,356.31 L672.57,354.65 L675.25,353.27 L677.9,352.34 L680.5,352" stroke="#282828" stroke-width="1.1" fill="none" stroke-linejoin="round"/>
<path d="M613,391 L614.88,390.13 L616.77,389.27 L618.67,388.42 L620.56,387.56 L622.45,386.7 L624.32,385.82 L626.17,384.92 L628,384 L629.8,383.05 L631.57,382.07 L633.32,381.07 L635.06,380.06 L636.79,379.04 L638.52,378.02 L640.26,377.01 L642,376 L643.76,374.99 L645.55,373.98 L647.34,372.96 L649.12,371.94 L650.9,370.93 L652.64,369.93 L654.35,368.95 L656,368 L657.59,367.07 L659.13,366.16 L660.62,365.26 L662.09,364.38 L663.55,363.51 L665.01,362.66 L666.49,361.82 L668,361 L669.54,360.12 L671.09,359.15 L672.65,358.15 L674.22,357.19 L675.79,356.33 L677.36,355.63 L678.93,355.17 L680.5,355" stroke="#282828" stroke-width="1.1" fill="none" stroke-linejoin="round"/>
<path d="M628,391 L629.75,389.88 L631.5,388.77 L633.25,387.67 L635,386.56 L636.75,385.45 L638.5,384.32 L640.25,383.17 L642,382 L643.76,380.78 L645.55,379.52 L647.34,378.24 L649.12,376.94 L650.9,375.65 L652.64,374.38 L654.35,373.16 L656,372 L657.59,370.9 L659.13,369.84 L660.62,368.81 L662.09,367.81 L663.55,366.84 L665.01,365.88 L666.49,364.94 L668,364 L669.54,362.98 L671.09,361.85 L672.65,360.69 L674.22,359.56 L675.79,358.56 L677.36,357.74 L678.93,357.2 L680.5,357" stroke="#282828" stroke-width="1.1" fill="none" stroke-linejoin="round"/>
<path d="M595,391 L596.88,390.25 L598.75,389.5 L600.62,388.75 L602.5,388 L604.38,387.25 L606.25,386.5 L608.12,385.75 L610,385 L611.88,384.26 L613.75,383.52 L615.62,382.79 L617.5,382.06 L619.38,381.32 L621.25,380.57 L623.12,379.8 L625,379 L626.88,378.17 L628.75,377.32 L630.62,376.45 L632.5,375.56 L634.38,374.67 L636.25,373.77 L638.12,372.88 L640,372 L641.88,371.12 L643.75,370.25 L645.62,369.38 L647.5,368.5 L649.38,367.62 L651.25,366.75 L653.12,365.88 L655,365 L656.91,364.1 L658.86,363.18 L660.82,362.24 L662.78,361.31 L664.7,360.41 L666.57,359.54 L668.34,358.73 L670,358 L671.53,357.3 L672.94,356.6 L674.27,355.93 L675.53,355.31 L676.76,354.78 L677.98,354.37 L679.22,354.1 L680.5,354" stroke="#282828" stroke-width="1.1" fill="none" stroke-linejoin="round"/>
<path d="M605,391 L607.53,389.73 L610.12,388.43 L612.72,387.12 L615.31,385.81 L617.87,384.53 L620.35,383.29 L622.74,382.11 L625,381 L627.11,379.98 L629.1,379.04 L630.99,378.16 L632.81,377.31 L634.59,376.49 L636.37,375.68 L638.16,374.85 L640,374 L641.88,373.12 L643.75,372.25 L645.62,371.38 L647.5,370.5 L649.38,369.62 L651.25,368.75 L653.12,367.88 L655,367 L656.91,366.1 L658.86,365.18 L660.82,364.24 L662.78,363.31 L664.7,362.41 L666.57,361.54 L668.34,360.73 L670,360 L671.53,359.3 L672.94,358.6 L674.27,357.93 L675.53,357.31 L676.76,356.78 L677.98,356.37 L679.22,356.1 L680.5,356" stroke="#282828" stroke-width="1.1" fill="none" stroke-linejoin="round"/>
<path d="M620,391 L622.53,389.48 L625.12,387.93 L627.72,386.37 L630.31,384.81 L632.87,383.28 L635.35,381.79 L637.74,380.36 L640,379 L642.11,377.72 L644.1,376.49 L645.99,375.32 L647.81,374.19 L649.59,373.1 L651.37,372.04 L653.16,371.01 L655,370 L656.91,369.02 L658.86,368.06 L660.82,367.14 L662.78,366.25 L664.7,365.39 L666.57,364.56 L668.34,363.77 L670,363 L671.53,362.21 L672.94,361.38 L674.27,360.54 L675.53,359.75 L676.76,359.05 L677.98,358.5 L679.22,358.13 L680.5,358" stroke="#282828" stroke-width="1.1" fill="none" stroke-linejoin="round"/>
<path d="M635,391 L636.88,389.49 L638.75,387.98 L640.62,386.46 L642.5,384.94 L644.38,383.43 L646.25,381.93 L648.12,380.45 L650,379 L651.87,377.56 L653.74,376.11 L655.6,374.67 L657.47,373.25 L659.34,371.86 L661.21,370.52 L663.1,369.22 L665,368 L666.91,366.75 L668.84,365.41 L670.78,364.08 L672.72,362.81 L674.67,361.7 L676.61,360.8 L678.56,360.21 L680.5,360" stroke="#282828" stroke-width="1.1" fill="none" stroke-linejoin="round"/>
<path d="M645,391 L646.9,389.35 L648.82,387.68 L650.76,385.99 L652.69,384.31 L654.59,382.66 L656.46,381.04 L658.27,379.48 L660,378 L661.67,376.58 L663.29,375.2 L664.87,373.85 L666.41,372.56 L667.89,371.33 L669.32,370.15 L670.69,369.04 L672,368 L673.23,366.98 L674.37,365.94 L675.44,364.93 L676.47,364 L677.47,363.2 L678.46,362.56 L679.46,362.15 L680.5,362" stroke="#282828" stroke-width="1.1" fill="none" stroke-linejoin="round"/>
<path d="M655,391 L656.63,389.24 L658.26,387.48 L659.9,385.71 L661.53,383.94 L663.16,382.18 L664.79,380.43 L666.4,378.7 L668,377 L669.59,375.15 L671.16,373.07 L672.72,370.91 L674.28,368.81 L675.83,366.93 L677.39,365.4 L678.94,364.37 L680.5,364" stroke="#282828" stroke-width="1.1" fill="none" stroke-linejoin="round"/>
<path d="M565,391 L566.84,390.63 L568.63,390.27 L570.41,389.92 L572.19,389.56 L574.01,389.2 L575.9,388.82 L577.89,388.42 L580,388 L582.26,387.56 L584.65,387.12 L587.13,386.66 L589.69,386.19 L592.28,385.69 L594.88,385.16 L597.47,384.6 L600,384 L602.5,383.36 L605,382.69 L607.5,381.98 L610,381.25 L612.5,380.48 L615,379.69 L617.5,378.86 L620,378 L622.5,377.11 L625,376.19 L627.5,375.23 L630,374.25 L632.5,373.23 L635,372.19 L637.5,371.11 L640,370 L642.5,368.87 L644.99,367.73 L647.48,366.57 L649.97,365.38 L652.46,364.13 L654.96,362.83 L657.48,361.46 L660,360 L662.54,358.25 L665.09,356.12 L667.65,353.81 L670.22,351.5 L672.79,349.38 L675.36,347.62 L677.93,346.44 L680.5,346" stroke="#282828" stroke-width="1.1" fill="none" stroke-linejoin="round"/>
<circle cx="466.71" cy="206.17" r="1.8" fill="#fff" stroke="#444" stroke-width="0.6" />
<circle cx="460.2" cy="214.9" r="1.1" fill="url(#gC)" stroke="none" stroke-width="1" />
<circle cx="466.71" cy="213.41" r="1.1" fill="url(#gC)" stroke="none" stroke-width="1" />
<circle cx="473.23" cy="209.85" r="1.1" fill="url(#gC)" stroke="none" stroke-width="1" />
<circle cx="479.74" cy="206.87" r="1.1" fill="url(#gC)" stroke="none" stroke-width="1" />
<circle cx="486.26" cy="205.68" r="1.1" fill="url(#gC)" stroke="none" stroke-width="1" />
<circle cx="492.77" cy="205.68" r="1.1" fill="url(#gC)" stroke="none" stroke-width="1" />
<circle cx="499.29" cy="207.14" r="1.1" fill="url(#gC)" stroke="none" stroke-width="1" />
<circle cx="505.8" cy="209.97" r="1.1" fill="url(#gC)" stroke="none" stroke-width="1" />
<circle cx="512.31" cy="214.14" r="1.1" fill="url(#gC)" stroke="none" stroke-width="1" />
<circle cx="525.34" cy="222.45" r="1.72" fill="#ff0000" stroke="#c00000" stroke-width="0.4" />
<circle cx="531.86" cy="225.48" r="1.99" fill="#ff0000" stroke="#c00000" stroke-width="0.4" />
<circle cx="538.37" cy="228.2" r="2.26" fill="#ff0000" stroke="#c00000" stroke-width="0.4" />
<circle cx="544.89" cy="229.87" r="2.53" fill="#ff0000" stroke="#c00000" stroke-width="0.4" />
<circle cx="551.4" cy="230.4" r="2.8" fill="#ff0000" stroke="#c00000" stroke-width="0.4" />
<circle cx="557.44" cy="227.27" r="2.51" fill="#ff0000" stroke="#c00000" stroke-width="0.4" />
<circle cx="563.49" cy="223.83" r="2.28" fill="#ff0000" stroke="#c00000" stroke-width="0.4" />
<circle cx="569.53" cy="218.98" r="2.05" fill="#ff0000" stroke="#c00000" stroke-width="0.4" />
<circle cx="575.57" cy="212.83" r="1.82" fill="#ff0000" stroke="#c00000" stroke-width="0.4" />
<circle cx="518.83" cy="222.44" r="1.6" fill="#fff0f0" stroke="#ee0000" stroke-width="0.8" />
<circle cx="525.34" cy="225.59" r="1.6" fill="#fff0f0" stroke="#ee0000" stroke-width="0.8" />
<circle cx="531.86" cy="228.14" r="1.6" fill="#fff0f0" stroke="#ee0000" stroke-width="0.8" />
<circle cx="575.57" cy="220.05" r="2.2" fill="#fff0f0" stroke="#ee0000" stroke-width="0.8" />
<circle cx="581.61" cy="217.61" r="2.2" fill="#fff0f0" stroke="#ee0000" stroke-width="0.8" />
<circle cx="587.66" cy="215.93" r="2.2" fill="#fff0f0" stroke="#ee0000" stroke-width="0.8" />
<circle cx="593.7" cy="215.9" r="2.2" fill="#fff0f0" stroke="#ee0000" stroke-width="0.8" />
<circle cx="599.9" cy="220.68" r="2.8" fill="#ff0000" stroke="#c00000" stroke-width="0.4" />
<circle cx="606.1" cy="225.01" r="1.3" fill="#fff0f0" stroke="#ee0000" stroke-width="0.8" />
<circle cx="612.3" cy="227.28" r="1.3" fill="#fff0f0" stroke="#ee0000" stroke-width="0.8" />
<circle cx="618.5" cy="228.66" r="1.3" fill="#fff0f0" stroke="#ee0000" stroke-width="0.8" />
<circle cx="624.7" cy="230.34" r="1.3" fill="#fff0f0" stroke="#ee0000" stroke-width="0.8" />
<circle cx="630.9" cy="228.6" r="1.3" fill="#fff0f0" stroke="#ee0000" stroke-width="0.8" />
<circle cx="637.1" cy="227.97" r="1.3" fill="#fff0f0" stroke="#ee0000" stroke-width="0.8" />
<circle cx="643.3" cy="227.77" r="1.3" fill="#fff0f0" stroke="#ee0000" stroke-width="0.8" />
<circle cx="649.5" cy="229.3" r="1.3" fill="#fff0f0" stroke="#ee0000" stroke-width="0.8" />
<circle cx="655.7" cy="233.93" r="2" fill="#fff0f0" stroke="#ee0000" stroke-width="0.8" />
<circle cx="661.9" cy="240.33" r="2" fill="#fff0f0" stroke="#ee0000" stroke-width="0.8" />
<circle cx="668.1" cy="247.12" r="2" fill="#fff0f0" stroke="#ee0000" stroke-width="0.8" />
<circle cx="674.3" cy="253.75" r="2" fill="#fff0f0" stroke="#ee0000" stroke-width="0.8" />
<circle cx="680.5" cy="258.7" r="2" fill="#fff0f0" stroke="#ee0000" stroke-width="0.8" />
<circle cx="460.2" cy="232.9" r="1" fill="url(#gC)" stroke="none" stroke-width="1" />
<circle cx="466.71" cy="230.63" r="1" fill="url(#gC)" stroke="none" stroke-width="1" />
<circle cx="473.23" cy="225.95" r="1" fill="url(#gC)" stroke="none" stroke-width="1" />
<circle cx="479.74" cy="221.39" r="1" fill="url(#gC)" stroke="none" stroke-width="1" />
<circle cx="486.26" cy="219.19" r="1" fill="url(#gC)" stroke="none" stroke-width="1" />
<circle cx="492.77" cy="218.9" r="1" fill="url(#gC)" stroke="none" stroke-width="1" />
<circle cx="499.29" cy="219.6" r="1" fill="url(#gC)" stroke="none" stroke-width="1" />
<circle cx="505.8" cy="221.34" r="1" fill="url(#gC)" stroke="none" stroke-width="1" />
<circle cx="512.31" cy="224.65" r="1" fill="url(#gC)" stroke="none" stroke-width="1" />
<circle cx="518.83" cy="227.43" r="1" fill="url(#gC)" stroke="none" stroke-width="1" />
<circle cx="525.34" cy="228.94" r="1" fill="url(#gC)" stroke="none" stroke-width="1" />
<circle cx="531.86" cy="230.62" r="1" fill="url(#gC)" stroke="none" stroke-width="1" />
<circle cx="538.37" cy="233.01" r="1" fill="url(#gC)" stroke="none" stroke-width="1" />
<circle cx="544.89" cy="234.74" r="1" fill="url(#gC)" stroke="none" stroke-width="1" />
<circle cx="551.4" cy="235.8" r="1" fill="url(#gC)" stroke="none" stroke-width="1" />
<polygon points="460.2,239.05 460.71,240.09 461.86,240.26 461.03,241.07 461.23,242.22 460.2,241.68 459.17,242.22 459.37,241.07 458.54,240.26 459.69,240.09" fill="#e8d0ff" stroke="#a050f0" stroke-width="0.7"/>
<polygon points="466.71,237.67 467.23,238.71 468.38,238.88 467.55,239.69 467.74,240.83 466.71,240.29 465.69,240.83 465.88,239.69 465.05,238.88 466.2,238.71" fill="#e8d0ff" stroke="#a050f0" stroke-width="0.7"/>
<polygon points="473.23,233.52 473.74,234.56 474.89,234.73 474.06,235.54 474.26,236.68 473.23,236.14 472.2,236.68 472.4,235.54 471.56,234.73 472.71,234.56" fill="#e8d0ff" stroke="#a050f0" stroke-width="0.7"/>
<polygon points="479.74,228.8 480.26,229.85 481.41,230.01 480.58,230.82 480.77,231.97 479.74,231.43 478.71,231.97 478.91,230.82 478.08,230.01 479.23,229.85" fill="#e8d0ff" stroke="#a050f0" stroke-width="0.7"/>
<polygon points="486.26,226.39 486.77,227.43 487.92,227.6 487.09,228.41 487.29,229.55 486.26,229.01 485.23,229.55 485.42,228.41 484.59,227.6 485.74,227.43" fill="#e8d0ff" stroke="#a050f0" stroke-width="0.7"/>
<polygon points="492.77,226.59 493.29,227.63 494.44,227.8 493.6,228.61 493.8,229.75 492.77,229.21 491.74,229.75 491.94,228.61 491.11,227.8 492.26,227.63" fill="#e8d0ff" stroke="#a050f0" stroke-width="0.7"/>
<polygon points="499.29,225.45 499.8,226.49 500.95,226.66 500.12,227.47 500.31,228.61 499.29,228.07 498.26,228.61 498.45,227.47 497.62,226.66 498.77,226.49" fill="#e8d0ff" stroke="#a050f0" stroke-width="0.7"/>
<polygon points="505.8,223.9 506.31,224.95 507.46,225.11 506.63,225.92 506.83,227.07 505.8,226.53 504.77,227.07 504.97,225.92 504.14,225.11 505.29,224.95" fill="#e8d0ff" stroke="#a050f0" stroke-width="0.7"/>
<polygon points="512.31,224.01 512.83,225.05 513.98,225.22 513.15,226.03 513.34,227.18 512.31,226.63 511.29,227.18 511.48,226.03 510.65,225.22 511.8,225.05" fill="#e8d0ff" stroke="#a050f0" stroke-width="0.7"/>
<polygon points="518.83,225.01 519.34,226.05 520.49,226.22 519.66,227.03 519.86,228.17 518.83,227.63 517.8,228.17 518,227.03 517.16,226.22 518.31,226.05" fill="#e8d0ff" stroke="#a050f0" stroke-width="0.7"/>
<polygon points="525.34,226.36 525.86,227.4 527.01,227.57 526.18,228.38 526.37,229.52 525.34,228.98 524.31,229.52 524.51,228.38 523.68,227.57 524.83,227.4" fill="#e8d0ff" stroke="#a050f0" stroke-width="0.7"/>
<polygon points="531.86,228.44 532.37,229.48 533.52,229.65 532.69,230.46 532.89,231.6 531.86,231.06 530.83,231.6 531.02,230.46 530.19,229.65 531.34,229.48" fill="#e8d0ff" stroke="#a050f0" stroke-width="0.7"/>
<polygon points="538.37,230.22 538.89,231.27 540.04,231.43 539.2,232.25 539.4,233.39 538.37,232.85 537.34,233.39 537.54,232.25 536.71,231.43 537.86,231.27" fill="#e8d0ff" stroke="#a050f0" stroke-width="0.7"/>
<polygon points="544.89,231.1 545.4,232.15 546.55,232.31 545.72,233.12 545.91,234.27 544.89,233.73 543.86,234.27 544.05,233.12 543.22,232.31 544.37,232.15" fill="#e8d0ff" stroke="#a050f0" stroke-width="0.7"/>
<polygon points="551.4,231.75 551.91,232.79 553.06,232.96 552.23,233.77 552.43,234.92 551.4,234.38 550.37,234.92 550.57,233.77 549.74,232.96 550.89,232.79" fill="#e8d0ff" stroke="#a050f0" stroke-width="0.7"/>
<polygon points="557.44,231.09 557.96,232.13 559.11,232.3 558.28,233.11 558.47,234.25 557.44,233.71 556.41,234.25 556.61,233.11 555.78,232.3 556.93,232.13" fill="#e8d0ff" stroke="#a050f0" stroke-width="0.7"/>
<polygon points="563.49,229.79 564,230.83 565.15,231 564.32,231.81 564.51,232.96 563.49,232.42 562.46,232.96 562.65,231.81 561.82,231 562.97,230.83" fill="#e8d0ff" stroke="#a050f0" stroke-width="0.7"/>
<polygon points="569.53,226.84 570.04,227.89 571.19,228.05 570.36,228.86 570.56,230.01 569.53,229.47 568.5,230.01 568.7,228.86 567.86,228.05 569.01,227.89" fill="#e8d0ff" stroke="#a050f0" stroke-width="0.7"/>
<polygon points="575.57,223.55 576.09,224.59 577.24,224.75 576.4,225.57 576.6,226.71 575.57,226.17 574.54,226.71 574.74,225.57 573.91,224.75 575.06,224.59" fill="#e8d0ff" stroke="#a050f0" stroke-width="0.7"/>
<polygon points="581.61,221.58 582.13,222.62 583.28,222.79 582.45,223.6 582.64,224.75 581.61,224.21 580.59,224.75 580.78,223.6 579.95,222.79 581.1,222.62" fill="#e8d0ff" stroke="#a050f0" stroke-width="0.7"/>
<polygon points="587.66,221.06 588.17,222.1 589.32,222.26 588.49,223.08 588.69,224.22 587.66,223.68 586.63,224.22 586.82,223.08 585.99,222.26 587.14,222.1" fill="#e8d0ff" stroke="#a050f0" stroke-width="0.7"/>
<polygon points="593.7,221.25 594.21,222.29 595.36,222.46 594.53,223.27 594.73,224.42 593.7,223.88 592.67,224.42 592.87,223.27 592.04,222.46 593.19,222.29" fill="#e8d0ff" stroke="#a050f0" stroke-width="0.7"/>
<polygon points="599.9,220.74 600.41,221.79 601.56,221.95 600.73,222.76 600.93,223.91 599.9,223.37 598.87,223.91 599.07,222.76 598.24,221.95 599.39,221.79" fill="#e8d0ff" stroke="#a050f0" stroke-width="0.7"/>
<polygon points="606.1,222.26 606.61,223.3 607.76,223.47 606.93,224.28 607.13,225.42 606.1,224.88 605.07,225.42 605.27,224.28 604.44,223.47 605.59,223.3" fill="#e8d0ff" stroke="#a050f0" stroke-width="0.7"/>
<polygon points="612.3,224.78 612.81,225.83 613.96,225.99 613.13,226.8 613.33,227.95 612.3,227.41 611.27,227.95 611.47,226.8 610.64,225.99 611.79,225.83" fill="#e8d0ff" stroke="#a050f0" stroke-width="0.7"/>
<polygon points="618.5,225.09 619.01,226.13 620.16,226.3 619.33,227.11 619.53,228.25 618.5,227.71 617.47,228.25 617.67,227.11 616.84,226.3 617.99,226.13" fill="#e8d0ff" stroke="#a050f0" stroke-width="0.7"/>
<polygon points="624.7,225.16 625.21,226.21 626.36,226.37 625.53,227.18 625.73,228.33 624.7,227.79 623.67,228.33 623.87,227.18 623.04,226.37 624.19,226.21" fill="#e8d0ff" stroke="#a050f0" stroke-width="0.7"/>
<polygon points="630.9,225.15 631.41,226.19 632.56,226.36 631.73,227.17 631.93,228.32 630.9,227.78 629.87,228.32 630.07,227.17 629.24,226.36 630.39,226.19" fill="#e8d0ff" stroke="#a050f0" stroke-width="0.7"/>
<polygon points="637.1,225.08 637.61,226.12 638.76,226.29 637.93,227.1 638.13,228.25 637.1,227.71 636.07,228.25 636.27,227.1 635.44,226.29 636.59,226.12" fill="#e8d0ff" stroke="#a050f0" stroke-width="0.7"/>
<polygon points="643.3,225.46 643.81,226.5 644.96,226.67 644.13,227.48 644.33,228.62 643.3,228.08 642.27,228.62 642.47,227.48 641.64,226.67 642.79,226.5" fill="#e8d0ff" stroke="#a050f0" stroke-width="0.7"/>
<polygon points="649.5,226.2 650.01,227.24 651.16,227.41 650.33,228.22 650.53,229.36 649.5,228.82 648.47,229.36 648.67,228.22 647.84,227.41 648.99,227.24" fill="#e8d0ff" stroke="#a050f0" stroke-width="0.7"/>
<polygon points="655.7,226.15 656.21,227.19 657.36,227.36 656.53,228.17 656.73,229.32 655.7,228.78 654.67,229.32 654.87,228.17 654.04,227.36 655.19,227.19" fill="#e8d0ff" stroke="#a050f0" stroke-width="0.7"/>
<polygon points="661.9,226.62 662.41,227.67 663.56,227.83 662.73,228.64 662.93,229.79 661.9,229.25 660.87,229.79 661.07,228.64 660.24,227.83 661.39,227.67" fill="#e8d0ff" stroke="#a050f0" stroke-width="0.7"/>
<polygon points="668.1,229.01 668.61,230.05 669.76,230.22 668.93,231.03 669.13,232.18 668.1,231.63 667.07,232.18 667.27,231.03 666.44,230.22 667.59,230.05" fill="#e8d0ff" stroke="#a050f0" stroke-width="0.7"/>
<polygon points="674.3,233.18 674.81,234.22 675.96,234.39 675.13,235.2 675.33,236.34 674.3,235.8 673.27,236.34 673.47,235.2 672.64,234.39 673.79,234.22" fill="#e8d0ff" stroke="#a050f0" stroke-width="0.7"/>
<polygon points="680.5,237.05 681.01,238.09 682.16,238.26 681.33,239.07 681.53,240.22 680.5,239.68 679.47,240.22 679.67,239.07 678.84,238.26 679.99,238.09" fill="#e8d0ff" stroke="#a050f0" stroke-width="0.7"/>
<circle cx="460.2" cy="261.9" r="1.9" fill="#fff0f0" stroke="#ee0000" stroke-width="0.8" />
<circle cx="466.71" cy="259.88" r="1.9" fill="#fff0f0" stroke="#ee0000" stroke-width="0.8" />
<circle cx="473.23" cy="253.97" r="1.9" fill="#fff0f0" stroke="#ee0000" stroke-width="0.8" />
<circle cx="479.74" cy="246.44" r="1.9" fill="#fff0f0" stroke="#ee0000" stroke-width="0.8" />
<circle cx="486.26" cy="238.95" r="1.9" fill="#fff0f0" stroke="#ee0000" stroke-width="0.8" />
<circle cx="492.77" cy="234.3" r="1.9" fill="#fff0f0" stroke="#ee0000" stroke-width="0.8" />
<circle cx="499.29" cy="229.89" r="1.9" fill="#fff0f0" stroke="#ee0000" stroke-width="0.8" />
<circle cx="512.31" cy="227.74" r="1.2" fill="#a060f0" stroke="none" stroke-width="1" />
<circle cx="518.83" cy="229.84" r="1.2" fill="#a060f0" stroke="none" stroke-width="1" />
<circle cx="525.34" cy="232.4" r="1.2" fill="#a060f0" stroke="none" stroke-width="1" />
<circle cx="531.86" cy="235.98" r="1.2" fill="#a060f0" stroke="none" stroke-width="1" />
<circle cx="538.37" cy="239.29" r="1.2" fill="#a060f0" stroke="none" stroke-width="1" />
<circle cx="544.89" cy="241.93" r="1.2" fill="#a060f0" stroke="none" stroke-width="1" />
<circle cx="551.4" cy="243.8" r="1.2" fill="#a060f0" stroke="none" stroke-width="1" />
<circle cx="460.2" cy="266.1" r="1.2" fill="#a060f0" stroke="none" stroke-width="1" />
<circle cx="466.71" cy="264.35" r="1.2" fill="#a060f0" stroke="none" stroke-width="1" />
<circle cx="473.23" cy="258.61" r="1.2" fill="#a060f0" stroke="none" stroke-width="1" />
<circle cx="479.74" cy="251.81" r="1.2" fill="#a060f0" stroke="none" stroke-width="1" />
<circle cx="486.26" cy="244.13" r="1.2" fill="#a060f0" stroke="none" stroke-width="1" />
<circle cx="492.77" cy="239.45" r="1.2" fill="#a060f0" stroke="none" stroke-width="1" />
<circle cx="499.29" cy="235.91" r="1.2" fill="#a060f0" stroke="none" stroke-width="1" />
<circle cx="505.8" cy="233.97" r="1.2" fill="#a060f0" stroke="none" stroke-width="1" />
<circle cx="512.31" cy="234.07" r="1.2" fill="#a060f0" stroke="none" stroke-width="1" />
<circle cx="518.83" cy="235.72" r="1.2" fill="#a060f0" stroke="none" stroke-width="1" />
<circle cx="525.34" cy="238.39" r="1.2" fill="#a060f0" stroke="none" stroke-width="1" />
<circle cx="531.86" cy="241.38" r="1.2" fill="#a060f0" stroke="none" stroke-width="1" />
<circle cx="538.37" cy="244.4" r="1.2" fill="#a060f0" stroke="none" stroke-width="1" />
<circle cx="544.89" cy="246.44" r="1.2" fill="#a060f0" stroke="none" stroke-width="1" />
<circle cx="551.4" cy="247.7" r="1.2" fill="#a060f0" stroke="none" stroke-width="1" />
<circle cx="460.2" cy="279" r="1.3" fill="#a060f0" stroke="none" stroke-width="1" />
<circle cx="466.71" cy="276.83" r="1.3" fill="#a060f0" stroke="none" stroke-width="1" />
<circle cx="473.23" cy="270.31" r="1.3" fill="#a060f0" stroke="none" stroke-width="1" />
<circle cx="479.74" cy="262.07" r="1.3" fill="#a060f0" stroke="none" stroke-width="1" />
<circle cx="486.26" cy="253.37" r="1.3" fill="#a060f0" stroke="none" stroke-width="1" />
<circle cx="492.77" cy="246.43" r="1.3" fill="#a060f0" stroke="none" stroke-width="1" />
<circle cx="499.29" cy="243.67" r="1.3" fill="#a060f0" stroke="none" stroke-width="1" />
<circle cx="505.8" cy="247.16" r="1.3" fill="#a060f0" stroke="none" stroke-width="1" />
<circle cx="512.31" cy="254.24" r="1.3" fill="#a060f0" stroke="none" stroke-width="1" />
<circle cx="518.83" cy="261.79" r="1.3" fill="#a060f0" stroke="none" stroke-width="1" />
<circle cx="525.34" cy="267.77" r="1.3" fill="#a060f0" stroke="none" stroke-width="1" />
<circle cx="531.86" cy="272.06" r="1.3" fill="#a060f0" stroke="none" stroke-width="1" />
<circle cx="538.37" cy="274.93" r="1.3" fill="#a060f0" stroke="none" stroke-width="1" />
<circle cx="544.89" cy="276.15" r="1.3" fill="#a060f0" stroke="none" stroke-width="1" />
<circle cx="551.4" cy="276.6" r="1.3" fill="#a060f0" stroke="none" stroke-width="1" />
<circle cx="557.44" cy="273.24" r="1.3" fill="#a060f0" stroke="none" stroke-width="1" />
<circle cx="563.49" cy="269.36" r="1.3" fill="#a060f0" stroke="none" stroke-width="1" />
<circle cx="569.53" cy="264.7" r="1.3" fill="#a060f0" stroke="none" stroke-width="1" />
<circle cx="575.57" cy="257.31" r="1.3" fill="#a060f0" stroke="none" stroke-width="1" />
<circle cx="581.61" cy="248.45" r="1.3" fill="#a060f0" stroke="none" stroke-width="1" />
<circle cx="587.66" cy="240.14" r="1.3" fill="#a060f0" stroke="none" stroke-width="1" />
<circle cx="593.7" cy="238.8" r="1.3" fill="#a060f0" stroke="none" stroke-width="1" />
<circle cx="599.9" cy="249.28" r="1.3" fill="#a060f0" stroke="none" stroke-width="1" />
<circle cx="606.1" cy="257.59" r="1.3" fill="#a060f0" stroke="none" stroke-width="1" />
<circle cx="612.3" cy="260.84" r="1.3" fill="#a060f0" stroke="none" stroke-width="1" />
<circle cx="618.5" cy="262.42" r="1.3" fill="#a060f0" stroke="none" stroke-width="1" />
<circle cx="624.7" cy="262.19" r="1.3" fill="#a060f0" stroke="none" stroke-width="1" />
<circle cx="630.9" cy="257.46" r="1.3" fill="#a060f0" stroke="none" stroke-width="1" />
<circle cx="637.1" cy="251.38" r="1.3" fill="#a060f0" stroke="none" stroke-width="1" />
<circle cx="643.3" cy="245.68" r="1.3" fill="#a060f0" stroke="none" stroke-width="1" />
<circle cx="649.5" cy="244.02" r="1.3" fill="#a060f0" stroke="none" stroke-width="1" />
<circle cx="655.7" cy="246.96" r="1.3" fill="#a060f0" stroke="none" stroke-width="1" />
<circle cx="661.9" cy="253.75" r="1.3" fill="#a060f0" stroke="none" stroke-width="1" />
<circle cx="668.1" cy="262.12" r="1.3" fill="#a060f0" stroke="none" stroke-width="1" />
<circle cx="674.3" cy="270.11" r="1.3" fill="#a060f0" stroke="none" stroke-width="1" />
<circle cx="680.5" cy="275.6" r="1.3" fill="#a060f0" stroke="none" stroke-width="1" />
<circle cx="618.5" cy="220.18" r="1.4" fill="#fff" stroke="#f2a868" stroke-width="0.75" />
<circle cx="624.7" cy="220.06" r="1.4" fill="#fff" stroke="#f2a868" stroke-width="0.75" />
<circle cx="643.3" cy="209.13" r="1" fill="url(#gC)" stroke="none" stroke-width="1" />
<circle cx="649.5" cy="206.35" r="1" fill="url(#gC)" stroke="none" stroke-width="1" />
<circle cx="655.7" cy="206.13" r="1" fill="url(#gC)" stroke="none" stroke-width="1" />
<circle cx="661.9" cy="208.1" r="1" fill="url(#gC)" stroke="none" stroke-width="1" />
<circle cx="668.1" cy="212.39" r="1" fill="url(#gC)" stroke="none" stroke-width="1" />
<circle cx="674.3" cy="218.27" r="1" fill="url(#gC)" stroke="none" stroke-width="1" />
<circle cx="680.5" cy="223" r="1" fill="url(#gC)" stroke="none" stroke-width="1" />
<circle cx="655.7" cy="211.22" r="1" fill="url(#gC)" stroke="none" stroke-width="1" />
<circle cx="661.9" cy="213.25" r="1" fill="url(#gC)" stroke="none" stroke-width="1" />
<circle cx="668.1" cy="218.23" r="1" fill="url(#gC)" stroke="none" stroke-width="1" />
<circle cx="674.3" cy="225.71" r="1" fill="url(#gC)" stroke="none" stroke-width="1" />
<circle cx="680.5" cy="229.9" r="1" fill="url(#gC)" stroke="none" stroke-width="1" />
<circle cx="460.2" cy="315" r="5.5" fill="url(#gC)" stroke="none" stroke-width="1" />
<circle cx="473.23" cy="313.49" r="3.99" fill="url(#gC)" stroke="none" stroke-width="1" />
<circle cx="479.74" cy="312.87" r="3.61" fill="url(#gC)" stroke="none" stroke-width="1" />
<circle cx="486.26" cy="312.41" r="3.24" fill="url(#gC)" stroke="none" stroke-width="1" />
<circle cx="492.77" cy="312.32" r="2.19" fill="url(#gC)" stroke="none" stroke-width="1" />
<circle cx="499.29" cy="312.6" r="2.13" fill="url(#gC)" stroke="none" stroke-width="1" />
<circle cx="505.8" cy="313.07" r="2.06" fill="url(#gC)" stroke="none" stroke-width="1" />
<circle cx="512.31" cy="313.72" r="1.99" fill="url(#gC)" stroke="none" stroke-width="1" />
<circle cx="518.83" cy="314.4" r="1.93" fill="url(#gC)" stroke="none" stroke-width="1" />
<circle cx="525.34" cy="314.85" r="1.86" fill="url(#gC)" stroke="none" stroke-width="1" />
<circle cx="531.86" cy="315.2" r="1.8" fill="url(#gC)" stroke="none" stroke-width="1" />
<circle cx="538.37" cy="315.67" r="1.73" fill="url(#gC)" stroke="none" stroke-width="1" />
<circle cx="544.89" cy="316.26" r="1.67" fill="url(#gC)" stroke="none" stroke-width="1" />
<circle cx="551.4" cy="316.7" r="1.6" fill="url(#gC)" stroke="none" stroke-width="1" />
<circle cx="563.49" cy="316.61" r="1.3" fill="url(#gC)" stroke="none" stroke-width="1" />
<circle cx="569.53" cy="315.98" r="1.3" fill="url(#gC)" stroke="none" stroke-width="1" />
<circle cx="575.57" cy="315.08" r="1.3" fill="url(#gC)" stroke="none" stroke-width="1" />
<circle cx="581.61" cy="314.33" r="1.3" fill="url(#gC)" stroke="none" stroke-width="1" />
<circle cx="587.66" cy="313.71" r="1.3" fill="url(#gC)" stroke="none" stroke-width="1" />
<circle cx="593.7" cy="313.5" r="1.3" fill="url(#gC)" stroke="none" stroke-width="1" />
<circle cx="606.1" cy="314.73" r="1.88" fill="url(#gC)" stroke="none" stroke-width="1" />
<circle cx="612.3" cy="315.01" r="1.95" fill="url(#gC)" stroke="none" stroke-width="1" />
<circle cx="618.5" cy="314.73" r="2.03" fill="url(#gC)" stroke="none" stroke-width="1" />
<circle cx="624.7" cy="314.32" r="2.1" fill="url(#gC)" stroke="none" stroke-width="1" />
<circle cx="630.9" cy="313.99" r="2.18" fill="url(#gC)" stroke="none" stroke-width="1" />
<circle cx="637.1" cy="313.65" r="2.26" fill="url(#gC)" stroke="none" stroke-width="1" />
<circle cx="643.3" cy="313.33" r="2.33" fill="url(#gC)" stroke="none" stroke-width="1" />
<circle cx="649.5" cy="313.02" r="2.41" fill="url(#gC)" stroke="none" stroke-width="1" />
<circle cx="655.7" cy="312.77" r="2.49" fill="url(#gC)" stroke="none" stroke-width="1" />
<circle cx="661.9" cy="312.52" r="2.56" fill="url(#gC)" stroke="none" stroke-width="1" />
<circle cx="668.1" cy="312.47" r="4.39" fill="url(#gC)" stroke="none" stroke-width="1" />
<circle cx="674.3" cy="313.69" r="4.94" fill="url(#gC)" stroke="none" stroke-width="1" />
<circle cx="680.5" cy="315.4" r="5.5" fill="url(#gC)" stroke="none" stroke-width="1" />
<circle cx="563.49" cy="319.24" r="2.2" fill="url(#gC)" stroke="none" stroke-width="1" />
<circle cx="569.53" cy="320.69" r="2.2" fill="url(#gC)" stroke="none" stroke-width="1" />
<circle cx="575.57" cy="322.58" r="2.2" fill="url(#gC)" stroke="none" stroke-width="1" />
<circle cx="581.61" cy="323.64" r="2.2" fill="url(#gC)" stroke="none" stroke-width="1" />
<circle cx="587.66" cy="323.54" r="2.2" fill="url(#gC)" stroke="none" stroke-width="1" />
<circle cx="593.7" cy="322.5" r="2.2" fill="url(#gC)" stroke="none" stroke-width="1" />
<circle cx="599.9" cy="320.3" r="2.2" fill="url(#gC)" stroke="none" stroke-width="1" />
<circle cx="612.3" cy="316.08" r="1.6" fill="url(#gC)" stroke="none" stroke-width="1" />
<circle cx="618.5" cy="315.57" r="1.6" fill="url(#gC)" stroke="none" stroke-width="1" />
<circle cx="624.7" cy="315.5" r="1.6" fill="url(#gC)" stroke="none" stroke-width="1" />
<circle cx="630.9" cy="315.59" r="1.6" fill="url(#gC)" stroke="none" stroke-width="1" />
<circle cx="637.1" cy="315.88" r="1.6" fill="url(#gC)" stroke="none" stroke-width="1" />
<circle cx="460.2" cy="322.5" r="1.1" fill="url(#gC)" stroke="none" stroke-width="1" />
<circle cx="466.71" cy="323.27" r="1.16" fill="url(#gC)" stroke="none" stroke-width="1" />
<circle cx="473.23" cy="324.67" r="1.22" fill="url(#gC)" stroke="none" stroke-width="1" />
<circle cx="479.74" cy="325.8" r="1.27" fill="url(#gC)" stroke="none" stroke-width="1" />
<circle cx="486.26" cy="326.87" r="1.33" fill="url(#gC)" stroke="none" stroke-width="1" />
<circle cx="492.77" cy="327.74" r="1.39" fill="url(#gC)" stroke="none" stroke-width="1" />
<circle cx="499.29" cy="328.4" r="1.45" fill="url(#gC)" stroke="none" stroke-width="1" />
<circle cx="512.31" cy="329.53" r="2.09" fill="url(#gC)" stroke="none" stroke-width="1" />
<circle cx="518.83" cy="329.95" r="2.34" fill="url(#gC)" stroke="none" stroke-width="1" />
<circle cx="525.34" cy="330.1" r="2.59" fill="url(#gC)" stroke="none" stroke-width="1" />
<circle cx="531.86" cy="330.04" r="2.84" fill="url(#gC)" stroke="none" stroke-width="1" />
<circle cx="538.37" cy="329.9" r="3.1" fill="url(#gC)" stroke="none" stroke-width="1" />
<circle cx="544.89" cy="329.63" r="3.35" fill="url(#gC)" stroke="none" stroke-width="1" />
<circle cx="551.4" cy="329.6" r="3.6" fill="url(#gC)" stroke="none" stroke-width="1" />
<circle cx="557.44" cy="330.15" r="3.16" fill="url(#gC)" stroke="none" stroke-width="1" />
<circle cx="563.49" cy="331.06" r="3" fill="url(#gC)" stroke="none" stroke-width="1" />
<circle cx="569.53" cy="332.15" r="2.84" fill="url(#gC)" stroke="none" stroke-width="1" />
<circle cx="575.57" cy="333.37" r="2.68" fill="url(#gC)" stroke="none" stroke-width="1" />
<circle cx="581.61" cy="334.12" r="2.52" fill="url(#gC)" stroke="none" stroke-width="1" />
<circle cx="587.66" cy="334.18" r="2.36" fill="url(#gC)" stroke="none" stroke-width="1" />
<circle cx="593.7" cy="333.8" r="2" fill="url(#gC)" stroke="none" stroke-width="1" />
<circle cx="599.9" cy="332.98" r="2.01" fill="url(#gC)" stroke="none" stroke-width="1" />
<circle cx="606.1" cy="331.98" r="2.03" fill="url(#gC)" stroke="none" stroke-width="1" />
<circle cx="612.3" cy="331.33" r="2.04" fill="url(#gC)" stroke="none" stroke-width="1" />
<circle cx="618.5" cy="331.12" r="2.06" fill="url(#gC)" stroke="none" stroke-width="1" />
<circle cx="624.7" cy="331.01" r="2.07" fill="url(#gC)" stroke="none" stroke-width="1" />
<circle cx="630.9" cy="330.86" r="2.09" fill="url(#gC)" stroke="none" stroke-width="1" />
<circle cx="637.1" cy="330.71" r="2.1" fill="url(#gC)" stroke="none" stroke-width="1" />
<circle cx="643.3" cy="330.47" r="2.11" fill="url(#gC)" stroke="none" stroke-width="1" />
<circle cx="649.5" cy="330.18" r="2.13" fill="url(#gC)" stroke="none" stroke-width="1" />
<circle cx="655.7" cy="329.48" r="2.14" fill="url(#gC)" stroke="none" stroke-width="1" />
<circle cx="661.9" cy="328.23" r="2.16" fill="url(#gC)" stroke="none" stroke-width="1" />
<circle cx="668.1" cy="326.59" r="2.17" fill="url(#gC)" stroke="none" stroke-width="1" />
<circle cx="674.3" cy="323.92" r="2.19" fill="url(#gC)" stroke="none" stroke-width="1" />
<circle cx="680.5" cy="321.4" r="2.2" fill="url(#gC)" stroke="none" stroke-width="1" />
<circle cx="460.2" cy="325" r="1.2" fill="url(#gC)" stroke="none" stroke-width="1" />
<circle cx="466.71" cy="327" r="1.2" fill="url(#gC)" stroke="none" stroke-width="1" />
<circle cx="473.23" cy="330.34" r="1.2" fill="url(#gC)" stroke="none" stroke-width="1" />
<circle cx="479.74" cy="332.2" r="1.2" fill="url(#gC)" stroke="none" stroke-width="1" />
<circle cx="486.26" cy="333.39" r="1.2" fill="url(#gC)" stroke="none" stroke-width="1" />
<circle cx="492.77" cy="334.44" r="1.2" fill="url(#gC)" stroke="none" stroke-width="1" />
<circle cx="499.29" cy="335.32" r="1.2" fill="url(#gC)" stroke="none" stroke-width="1" />
<circle cx="505.8" cy="336.09" r="1.2" fill="url(#gC)" stroke="none" stroke-width="1" />
<circle cx="512.31" cy="336.79" r="1.2" fill="url(#gC)" stroke="none" stroke-width="1" />
<circle cx="518.83" cy="337.4" r="1.2" fill="url(#gC)" stroke="none" stroke-width="1" />
<circle cx="460.2" cy="337.5" r="2.2" fill="#fff" stroke="#f2a868" stroke-width="0.75" />
<circle cx="466.71" cy="338.02" r="2.2" fill="#fff" stroke="#f2a868" stroke-width="0.75" />
<circle cx="473.23" cy="338.86" r="2.2" fill="#fff" stroke="#f2a868" stroke-width="0.75" />
<circle cx="479.74" cy="339.18" r="2.2" fill="#fff" stroke="#f2a868" stroke-width="0.75" />
<circle cx="486.26" cy="339.25" r="2.2" fill="#fff" stroke="#f2a868" stroke-width="0.75" />
<circle cx="492.77" cy="339.35" r="2.2" fill="#fff" stroke="#f2a868" stroke-width="0.75" />
<circle cx="499.29" cy="339.48" r="2.2" fill="#fff" stroke="#f2a868" stroke-width="0.75" />
<circle cx="505.8" cy="339.62" r="2.2" fill="#fff" stroke="#f2a868" stroke-width="0.75" />
<circle cx="512.31" cy="339.81" r="2.2" fill="#fff" stroke="#f2a868" stroke-width="0.75" />
<circle cx="518.83" cy="339.98" r="2.2" fill="#fff" stroke="#f2a868" stroke-width="0.75" />
<circle cx="525.34" cy="340.02" r="2.2" fill="#fff" stroke="#f2a868" stroke-width="0.75" />
<circle cx="531.86" cy="339.99" r="2.2" fill="#fff" stroke="#f2a868" stroke-width="0.75" />
<circle cx="538.37" cy="340.05" r="2.2" fill="#fff" stroke="#f2a868" stroke-width="0.75" />
<circle cx="544.89" cy="340.17" r="2.2" fill="#fff" stroke="#f2a868" stroke-width="0.75" />
<circle cx="551.4" cy="340.3" r="2.2" fill="#fff" stroke="#f2a868" stroke-width="0.75" />
<circle cx="557.44" cy="340.43" r="2.2" fill="#fff" stroke="#f2a868" stroke-width="0.75" />
<circle cx="563.49" cy="340.51" r="2.2" fill="#fff" stroke="#f2a868" stroke-width="0.75" />
<circle cx="569.53" cy="340.39" r="2.2" fill="#fff" stroke="#f2a868" stroke-width="0.75" />
<circle cx="575.57" cy="340.16" r="2.2" fill="#fff" stroke="#f2a868" stroke-width="0.75" />
<circle cx="581.61" cy="339.95" r="2.2" fill="#fff" stroke="#f2a868" stroke-width="0.75" />
<circle cx="587.66" cy="339.74" r="2.2" fill="#fff" stroke="#f2a868" stroke-width="0.75" />
<circle cx="593.7" cy="339.6" r="2.2" fill="#fff" stroke="#f2a868" stroke-width="0.75" />
<circle cx="599.9" cy="339.55" r="2.2" fill="#fff" stroke="#f2a868" stroke-width="0.75" />
<circle cx="606.1" cy="339.56" r="2.2" fill="#fff" stroke="#f2a868" stroke-width="0.75" />
<circle cx="612.3" cy="339.65" r="2.2" fill="#fff" stroke="#f2a868" stroke-width="0.75" />
<circle cx="618.5" cy="339.86" r="2.2" fill="#fff" stroke="#f2a868" stroke-width="0.75" />
<circle cx="624.7" cy="340" r="2.2" fill="#fff" stroke="#f2a868" stroke-width="0.75" />
<circle cx="630.9" cy="339.96" r="2.2" fill="#fff" stroke="#f2a868" stroke-width="0.75" />
<circle cx="637.1" cy="339.76" r="2.2" fill="#fff" stroke="#f2a868" stroke-width="0.75" />
<circle cx="643.3" cy="339.35" r="2.2" fill="#fff" stroke="#f2a868" stroke-width="0.75" />
<circle cx="649.5" cy="338.74" r="2.2" fill="#fff" stroke="#f2a868" stroke-width="0.75" />
<circle cx="655.7" cy="337.89" r="2.2" fill="#fff" stroke="#f2a868" stroke-width="0.75" />
<circle cx="661.9" cy="336.76" r="2.2" fill="#fff" stroke="#f2a868" stroke-width="0.75" />
<circle cx="668.1" cy="335.44" r="2.2" fill="#fff" stroke="#f2a868" stroke-width="0.75" />
<circle cx="674.3" cy="333.6" r="2.2" fill="#fff" stroke="#f2a868" stroke-width="0.75" />
<circle cx="680.5" cy="332" r="2.2" fill="#fff" stroke="#f2a868" stroke-width="0.75" />
<circle cx="460.2" cy="318" r="1.4" fill="url(#gC)" stroke="none" stroke-width="1" />
<circle cx="466.71" cy="323.04" r="1.5" fill="url(#gC)" stroke="none" stroke-width="1" />
<circle cx="473.23" cy="331.41" r="1.6" fill="url(#gC)" stroke="none" stroke-width="1" />
<circle cx="479.74" cy="335.57" r="1.69" fill="url(#gC)" stroke="none" stroke-width="1" />
<circle cx="486.26" cy="337.87" r="1.79" fill="url(#gC)" stroke="none" stroke-width="1" />
<circle cx="492.77" cy="341.1" r="1.89" fill="url(#gC)" stroke="none" stroke-width="1" />
<circle cx="499.29" cy="345.36" r="1.99" fill="url(#gC)" stroke="none" stroke-width="1" />
<circle cx="505.8" cy="349.46" r="2.32" fill="url(#gC)" stroke="none" stroke-width="1" />
<circle cx="512.31" cy="353.15" r="2.44" fill="url(#gC)" stroke="none" stroke-width="1" />
<circle cx="518.83" cy="356.46" r="2.57" fill="url(#gC)" stroke="none" stroke-width="1" />
<circle cx="525.34" cy="359.27" r="2.69" fill="url(#gC)" stroke="none" stroke-width="1" />
<circle cx="531.86" cy="361.58" r="2.82" fill="url(#gC)" stroke="none" stroke-width="1" />
<circle cx="538.37" cy="363.33" r="2.95" fill="url(#gC)" stroke="none" stroke-width="1" />
<circle cx="544.89" cy="364.62" r="3.07" fill="url(#gC)" stroke="none" stroke-width="1" />
<circle cx="551.4" cy="365.5" r="3.2" fill="url(#gC)" stroke="none" stroke-width="1" />
<circle cx="557.44" cy="366.07" r="3.14" fill="url(#gC)" stroke="none" stroke-width="1" />
<circle cx="563.49" cy="365.81" r="2.88" fill="url(#gC)" stroke="none" stroke-width="1" />
<circle cx="569.53" cy="363.86" r="2.63" fill="url(#gC)" stroke="none" stroke-width="1" />
<circle cx="581.61" cy="357.62" r="2.21" fill="url(#gC)" stroke="none" stroke-width="1" />
<circle cx="587.66" cy="353.75" r="2.23" fill="url(#gC)" stroke="none" stroke-width="1" />
<circle cx="593.7" cy="351.5" r="2.25" fill="url(#gC)" stroke="none" stroke-width="1" />
<circle cx="599.9" cy="352.56" r="2.28" fill="url(#gC)" stroke="none" stroke-width="1" />
<circle cx="606.1" cy="354.87" r="2.3" fill="url(#gC)" stroke="none" stroke-width="1" />
<circle cx="612.3" cy="356.45" r="2.33" fill="url(#gC)" stroke="none" stroke-width="1" />
<circle cx="618.5" cy="357.52" r="2.35" fill="url(#gC)" stroke="none" stroke-width="1" />
<circle cx="624.7" cy="357.44" r="2.38" fill="url(#gC)" stroke="none" stroke-width="1" />
<circle cx="630.9" cy="355.4" r="2.4" fill="url(#gC)" stroke="none" stroke-width="1" />
<circle cx="637.1" cy="352.12" r="2.43" fill="url(#gC)" stroke="none" stroke-width="1" />
<circle cx="643.3" cy="348.59" r="2.45" fill="url(#gC)" stroke="none" stroke-width="1" />
<circle cx="649.5" cy="344.63" r="2.48" fill="url(#gC)" stroke="none" stroke-width="1" />
<circle cx="655.7" cy="340.54" r="2.5" fill="url(#gC)" stroke="none" stroke-width="1" />
<circle cx="661.9" cy="336.49" r="2.53" fill="url(#gC)" stroke="none" stroke-width="1" />
<circle cx="668.1" cy="332.32" r="2.55" fill="url(#gC)" stroke="none" stroke-width="1" />
<circle cx="674.3" cy="327.12" r="2.58" fill="url(#gC)" stroke="none" stroke-width="1" />
<circle cx="680.5" cy="323" r="2.6" fill="url(#gC)" stroke="none" stroke-width="1" />
<circle cx="518.83" cy="356.85" r="2.1" fill="#fff" stroke="#f2a868" stroke-width="0.75" />
<circle cx="525.34" cy="357.54" r="2.1" fill="#fff" stroke="#f2a868" stroke-width="0.75" />
<circle cx="531.86" cy="358" r="2.1" fill="#fff" stroke="#f2a868" stroke-width="0.75" />
<circle cx="538.37" cy="358.39" r="2.1" fill="#fff" stroke="#f2a868" stroke-width="0.75" />
<circle cx="544.89" cy="358.68" r="2.1" fill="#fff" stroke="#f2a868" stroke-width="0.75" />
<circle cx="551.4" cy="359" r="2.1" fill="#fff" stroke="#f2a868" stroke-width="0.75" />
<circle cx="557.44" cy="359.53" r="2.1" fill="#fff" stroke="#f2a868" stroke-width="0.75" />
<circle cx="563.49" cy="359.97" r="2.1" fill="#fff" stroke="#f2a868" stroke-width="0.75" />
<circle cx="569.53" cy="359.9" r="2.1" fill="#fff" stroke="#f2a868" stroke-width="0.75" />
<circle cx="575.57" cy="359.5" r="2.1" fill="#fff" stroke="#f2a868" stroke-width="0.75" />
<circle cx="606.1" cy="354.79" r="1.9" fill="#fff" stroke="#f2a868" stroke-width="0.75" />
<circle cx="612.3" cy="354.35" r="1.9" fill="#fff" stroke="#f2a868" stroke-width="0.75" />
<circle cx="618.5" cy="354.08" r="1.9" fill="#fff" stroke="#f2a868" stroke-width="0.75" />
<circle cx="624.7" cy="353.54" r="1.9" fill="#fff" stroke="#f2a868" stroke-width="0.75" />
<circle cx="460.2" cy="346" r="1.1" fill="url(#gC)" stroke="none" stroke-width="1" />
<circle cx="466.71" cy="348.81" r="1.1" fill="url(#gC)" stroke="none" stroke-width="1" />
<circle cx="473.23" cy="353.86" r="1.1" fill="url(#gC)" stroke="none" stroke-width="1" />
<circle cx="479.74" cy="357.68" r="1.1" fill="url(#gC)" stroke="none" stroke-width="1" />
<circle cx="486.26" cy="361.17" r="1.1" fill="url(#gC)" stroke="none" stroke-width="1" />
<circle cx="492.77" cy="364.26" r="1.1" fill="url(#gC)" stroke="none" stroke-width="1" />
<circle cx="499.29" cy="366.95" r="1.1" fill="url(#gC)" stroke="none" stroke-width="1" />
<circle cx="505.8" cy="369.26" r="1.1" fill="url(#gC)" stroke="none" stroke-width="1" />
<circle cx="512.31" cy="371.2" r="1.1" fill="url(#gC)" stroke="none" stroke-width="1" />
<circle cx="518.83" cy="372.76" r="1.1" fill="url(#gC)" stroke="none" stroke-width="1" />
<circle cx="525.34" cy="373.91" r="1.1" fill="url(#gC)" stroke="none" stroke-width="1" />
<circle cx="531.86" cy="374.69" r="1.1" fill="url(#gC)" stroke="none" stroke-width="1" />
<circle cx="538.37" cy="375.28" r="1.1" fill="url(#gC)" stroke="none" stroke-width="1" />
<circle cx="544.89" cy="375.68" r="1.1" fill="url(#gC)" stroke="none" stroke-width="1" />
<circle cx="551.4" cy="376" r="1.1" fill="url(#gC)" stroke="none" stroke-width="1" />
<circle cx="557.44" cy="376.41" r="1.1" fill="url(#gC)" stroke="none" stroke-width="1" />
<circle cx="563.49" cy="376.57" r="1.1" fill="url(#gC)" stroke="none" stroke-width="1" />
<circle cx="569.53" cy="375.97" r="1.1" fill="url(#gC)" stroke="none" stroke-width="1" />
<circle cx="575.57" cy="374.88" r="1.1" fill="url(#gC)" stroke="none" stroke-width="1" />
<circle cx="581.61" cy="373.67" r="1.1" fill="url(#gC)" stroke="none" stroke-width="1" />
<circle cx="587.66" cy="372.29" r="1.1" fill="url(#gC)" stroke="none" stroke-width="1" />
<circle cx="593.7" cy="371" r="1.1" fill="url(#gC)" stroke="none" stroke-width="1" />
<circle cx="599.9" cy="369.99" r="1.1" fill="url(#gC)" stroke="none" stroke-width="1" />
<circle cx="606.1" cy="369.09" r="1.1" fill="url(#gC)" stroke="none" stroke-width="1" />
<circle cx="612.3" cy="368.14" r="1.1" fill="url(#gC)" stroke="none" stroke-width="1" />
<circle cx="618.5" cy="367.2" r="1.1" fill="url(#gC)" stroke="none" stroke-width="1" />
<circle cx="624.7" cy="366.06" r="1.1" fill="url(#gC)" stroke="none" stroke-width="1" />
<circle cx="630.9" cy="364.63" r="1.1" fill="url(#gC)" stroke="none" stroke-width="1" />
<circle cx="637.1" cy="362.92" r="1.1" fill="url(#gC)" stroke="none" stroke-width="1" />
<circle cx="643.3" cy="360.79" r="1.1" fill="url(#gC)" stroke="none" stroke-width="1" />
<circle cx="649.5" cy="358.21" r="1.1" fill="url(#gC)" stroke="none" stroke-width="1" />
<circle cx="655.7" cy="355.75" r="1.1" fill="url(#gC)" stroke="none" stroke-width="1" />
<circle cx="661.9" cy="353.61" r="1.1" fill="url(#gC)" stroke="none" stroke-width="1" />
<circle cx="668.1" cy="351.6" r="1.1" fill="url(#gC)" stroke="none" stroke-width="1" />
<circle cx="674.3" cy="349.45" r="1.1" fill="url(#gC)" stroke="none" stroke-width="1" />
<circle cx="680.5" cy="348" r="1.1" fill="url(#gC)" stroke="none" stroke-width="1" />
<polygon points="505.8,368.51 507.89,372.25 503.71,372.25" fill="#0000ff"/>
<polygon points="512.31,370.04 514.4,373.78 510.22,373.78" fill="#0000ff"/>
<polygon points="518.83,371.52 520.92,375.26 516.74,375.26" fill="#0000ff"/>
<polygon points="525.34,373.2 527.43,376.94 523.25,376.94" fill="#0000ff"/>
<polygon points="531.86,374.98 533.95,378.72 529.77,378.72" fill="#0000ff"/>
<polygon points="538.37,376.68 540.46,380.42 536.28,380.42" fill="#0000ff"/>
<polygon points="544.89,378.36 546.98,382.1 542.8,382.1" fill="#0000ff"/>
<polygon points="551.4,379.8 553.49,383.54 549.31,383.54" fill="#0000ff"/>
<polygon points="599.9,379.24 601.99,382.98 597.81,382.98" fill="#0000ff"/>
<polygon points="606.1,377.37 608.19,381.11 604.01,381.11" fill="#0000ff"/>
<polygon points="612.3,375.79 614.39,379.53 610.21,379.53" fill="#0000ff"/>
<polygon points="618.5,374.64 620.59,378.38 616.41,378.38" fill="#0000ff"/>
<polygon points="624.7,373.28 626.79,377.02 622.61,377.02" fill="#0000ff"/>
<polygon points="630.9,371.36 632.99,375.1 628.81,375.1" fill="#0000ff"/>
<polygon points="637.1,369.04 639.19,372.78 635.01,372.78" fill="#0000ff"/>
<polygon points="643.3,366.17 645.39,369.91 641.21,369.91" fill="#0000ff"/>
<polygon points="649.5,362.7 651.59,366.44 647.41,366.44" fill="#0000ff"/>
<circle cx="563.49" cy="381.08" r="2" fill="#fff" stroke="#f2a868" stroke-width="0.75" />
<circle cx="569.53" cy="380.76" r="2" fill="#fff" stroke="#f2a868" stroke-width="0.75" />
<circle cx="575.57" cy="380.37" r="2" fill="#fff" stroke="#f2a868" stroke-width="0.75" />
<circle cx="581.61" cy="379.83" r="2" fill="#fff" stroke="#f2a868" stroke-width="0.75" />
<circle cx="587.66" cy="379.05" r="2" fill="#fff" stroke="#f2a868" stroke-width="0.75" />
<circle cx="593.7" cy="378.2" r="2" fill="#fff" stroke="#f2a868" stroke-width="0.75" />
<circle cx="460.2" cy="343" r="1.3" fill="#fff" stroke="#f2a868" stroke-width="0.75" />
<circle cx="466.71" cy="343.48" r="1.3" fill="#fff" stroke="#f2a868" stroke-width="0.75" />
<circle cx="473.23" cy="344.63" r="1.3" fill="#fff" stroke="#f2a868" stroke-width="0.75" />
<circle cx="479.74" cy="346.41" r="1.3" fill="#fff" stroke="#f2a868" stroke-width="0.75" />
<circle cx="486.26" cy="349.12" r="1.3" fill="#fff" stroke="#f2a868" stroke-width="0.75" />
<circle cx="492.77" cy="352.53" r="1.3" fill="#fff" stroke="#f2a868" stroke-width="0.75" />
<circle cx="499.29" cy="356.54" r="1.3" fill="#fff" stroke="#f2a868" stroke-width="0.75" />
<circle cx="505.8" cy="360.94" r="1.3" fill="#fff" stroke="#f2a868" stroke-width="0.75" />
<circle cx="512.31" cy="365.78" r="1.3" fill="#fff" stroke="#f2a868" stroke-width="0.75" />
<circle cx="518.83" cy="371.06" r="1.3" fill="#fff" stroke="#f2a868" stroke-width="0.75" />
<circle cx="486.26" cy="358.59" r="1.1" fill="url(#gC)" stroke="none" stroke-width="1" />
<circle cx="492.77" cy="363.89" r="1.1" fill="url(#gC)" stroke="none" stroke-width="1" />
<circle cx="499.29" cy="370.24" r="1.1" fill="url(#gC)" stroke="none" stroke-width="1" />
<circle cx="505.8" cy="377.75" r="1.1" fill="url(#gC)" stroke="none" stroke-width="1" />
<circle cx="512.31" cy="386.1" r="1.1" fill="url(#gC)" stroke="none" stroke-width="1" />
<circle cx="460.2" cy="351" r="1.2" fill="#fff" stroke="#f2a868" stroke-width="0.75" />
<circle cx="466.71" cy="351.9" r="1.2" fill="#fff" stroke="#f2a868" stroke-width="0.75" />
<circle cx="473.23" cy="354.77" r="1.2" fill="#fff" stroke="#f2a868" stroke-width="0.75" />
<circle cx="479.74" cy="359.28" r="1.2" fill="#fff" stroke="#f2a868" stroke-width="0.75" />
<circle cx="486.26" cy="365.2" r="1.2" fill="#fff" stroke="#f2a868" stroke-width="0.75" />
<circle cx="492.77" cy="372.43" r="1.2" fill="#fff" stroke="#f2a868" stroke-width="0.75" />
<polygon points="473.23,355.93 474.75,358.65 471.71,358.65" fill="#0000ff"/>
<polygon points="479.74,361.36 481.26,364.08 478.22,364.08" fill="#0000ff"/>
<polygon points="486.26,368.65 487.78,371.37 484.74,371.37" fill="#0000ff"/>
<polygon points="492.77,377.49 494.29,380.21 491.25,380.21" fill="#0000ff"/>
<circle cx="460.2" cy="355" r="1.3" fill="#fff" stroke="#f2a868" stroke-width="0.75" />
<circle cx="466.71" cy="356.66" r="1.3" fill="#fff" stroke="#f2a868" stroke-width="0.75" />
<circle cx="473.23" cy="361.29" r="1.3" fill="#fff" stroke="#f2a868" stroke-width="0.75" />
<circle cx="479.74" cy="368.38" r="1.3" fill="#fff" stroke="#f2a868" stroke-width="0.75" />
<circle cx="486.26" cy="377.72" r="1.3" fill="#fff" stroke="#f2a868" stroke-width="0.75" />
<circle cx="492.77" cy="388.82" r="1.3" fill="#fff" stroke="#f2a868" stroke-width="0.75" />
<circle cx="624.7" cy="376.94" r="1.5" fill="#fff" stroke="#f2a868" stroke-width="0.75" />
<circle cx="630.9" cy="373.99" r="1.5" fill="#fff" stroke="#f2a868" stroke-width="0.75" />
<circle cx="637.1" cy="371.11" r="1.5" fill="#fff" stroke="#f2a868" stroke-width="0.75" />
<circle cx="643.3" cy="368.27" r="1.5" fill="#fff" stroke="#f2a868" stroke-width="0.75" />
<circle cx="649.5" cy="365.23" r="1.5" fill="#fff" stroke="#f2a868" stroke-width="0.75" />
<circle cx="655.7" cy="361.8" r="1.5" fill="#fff" stroke="#f2a868" stroke-width="0.75" />
<circle cx="661.9" cy="358.53" r="1.5" fill="#fff" stroke="#f2a868" stroke-width="0.75" />
<circle cx="668.1" cy="355.37" r="1.5" fill="#fff" stroke="#f2a868" stroke-width="0.75" />
<circle cx="674.3" cy="352.38" r="1.5" fill="#fff" stroke="#f2a868" stroke-width="0.75" />
<circle cx="680.5" cy="351" r="1.5" fill="#fff" stroke="#f2a868" stroke-width="0.75" />
<polygon points="643.3,373.76 644.73,376.31 641.88,376.31" fill="#0000ff"/>
<polygon points="649.5,370.22 650.92,372.77 648.08,372.77" fill="#0000ff"/>
<polygon points="655.7,366.67 657.12,369.22 654.28,369.22" fill="#0000ff"/>
<polygon points="661.9,362.99 663.32,365.54 660.48,365.54" fill="#0000ff"/>
<polygon points="668.1,359.44 669.52,361.99 666.68,361.99" fill="#0000ff"/>
<polygon points="674.3,355.64 675.72,358.19 672.88,358.19" fill="#0000ff"/>
<polygon points="680.5,353.5 681.92,356.05 679.08,356.05" fill="#0000ff"/>
<polygon points="630.9,382.86 632.42,385.58 629.38,385.58" fill="#0000ff"/>
<polygon points="637.1,379.14 638.62,381.86 635.58,381.86" fill="#0000ff"/>
<polygon points="643.3,375.39 644.82,378.11 641.78,378.11" fill="#0000ff"/>
<polygon points="649.5,371.55 651.02,374.27 647.98,374.27" fill="#0000ff"/>
<polygon points="655.7,368.04 657.22,370.76 654.18,370.76" fill="#0000ff"/>
<polygon points="661.9,365.05 663.42,367.77 660.38,367.77" fill="#0000ff"/>
<polygon points="668.1,362.27 669.62,364.99 666.58,364.99" fill="#0000ff"/>
<polygon points="674.3,358.92 675.82,361.64 672.78,361.64" fill="#0000ff"/>
<polygon points="680.5,356.4 682.02,359.12 678.98,359.12" fill="#0000ff"/>
<circle cx="655.7" cy="381.7" r="1.6" fill="#fff" stroke="#f2a868" stroke-width="0.75" />
<circle cx="661.9" cy="376.38" r="1.6" fill="#fff" stroke="#f2a868" stroke-width="0.75" />
<circle cx="668.1" cy="371.15" r="1.6" fill="#fff" stroke="#f2a868" stroke-width="0.75" />
<circle cx="674.3" cy="366" r="1.6" fill="#fff" stroke="#f2a868" stroke-width="0.75" />
<circle cx="680.5" cy="362" r="1.6" fill="#fff" stroke="#f2a868" stroke-width="0.75" />
</g>
<rect x="460.2" y="204.9" width="220.3" height="180.5" fill="none" stroke="#555" stroke-width="1.2" />
<line x1="460.2" y1="385.5" x2="465.2" y2="385.5" stroke="#555" stroke-width="1" />
<text x="455.8" y="390.5" font-size="15" fill="#000" stroke="#000" text-anchor="end" >-3</text>
<line x1="460.2" y1="355.4" x2="465.2" y2="355.4" stroke="#555" stroke-width="1" />
<text x="455.8" y="360.4" font-size="15" fill="#000" stroke="#000" text-anchor="end" >-2</text>
<line x1="460.2" y1="325.3" x2="465.2" y2="325.3" stroke="#555" stroke-width="1" />
<text x="455.8" y="330.3" font-size="15" fill="#000" stroke="#000" text-anchor="end" >-1</text>
<line x1="460.2" y1="295.2" x2="465.2" y2="295.2" stroke="#555" stroke-width="1" />
<text x="455.8" y="300.2" font-size="15" fill="#000" stroke="#000" text-anchor="end" >0</text>
<line x1="460.2" y1="265.1" x2="465.2" y2="265.1" stroke="#555" stroke-width="1" />
<text x="455.8" y="270.1" font-size="15" fill="#000" stroke="#000" text-anchor="end" >1</text>
<line x1="460.2" y1="235" x2="465.2" y2="235" stroke="#555" stroke-width="1" />
<text x="455.8" y="240" font-size="15" fill="#000" stroke="#000" text-anchor="end" >2</text>
<line x1="460.2" y1="204.9" x2="465.2" y2="204.9" stroke="#555" stroke-width="1" />
<text x="455.8" y="209.9" font-size="15" fill="#000" stroke="#000" text-anchor="end" >3</text>
<text x="460.2" y="400.3" font-size="15" fill="#000" stroke="#000" text-anchor="middle" >Γ</text>
<text x="551.4" y="400.3" font-size="15" fill="#000" stroke="#000" text-anchor="middle" >M</text>
<text x="593.7" y="400.3" font-size="15" fill="#000" stroke="#000" text-anchor="middle" >K</text>
<text x="680.5" y="400.3" font-size="15" fill="#000" stroke="#000" text-anchor="middle" >Γ</text>
<text transform="translate(437,288.5) rotate(-90)" font-size="14.5" text-anchor="middle" stroke="#000">Energy (eV)</text>
<line x1="473" y1="295" x2="463.69" y2="283.75" stroke="#2020ff" stroke-width="1" />
<polygon points="460.5,279.9 466.33,282.86 462.32,286.18" fill="#2020ff"/>
<line x1="473" y1="295" x2="483" y2="306.35" stroke="#2020ff" stroke-width="1" />
<polygon points="486.3,310.1 480.38,307.32 484.29,303.88" fill="#2020ff"/>
<text x="484.6" y="304.4" font-size="14.8" fill="#000" stroke="#000" text-anchor="start" >0.96 eV</text>
<text x="537.2" y="292.4" font-size="13.6" fill="#a868f8" stroke="#a868f8" text-anchor="start" font-weight="bold" >In-<tspan font-style="italic">s</tspan> @ CDW</text>
<path d="M530.7,263 C524,264 516,266 516,270 C517,274 522,277 528,279.3" stroke="#a868f8" stroke-width="1.5" fill="none"/>
<path d="M523.5,280.8 L529.2,279.8 L525.6,275.5" stroke="#a868f8" stroke-width="1.5" fill="none" stroke-linejoin="round"/>
<text x="617.1" y="302.5" font-size="12" fill="#000" stroke="#000" text-anchor="start" >With CDW</text>
</svg></body></html>
